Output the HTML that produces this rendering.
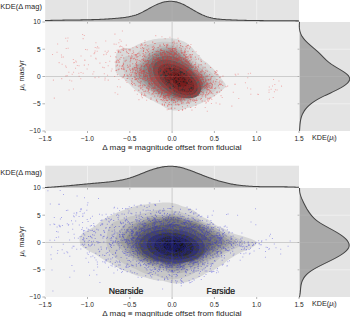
<!DOCTYPE html>
<html><head><meta charset="utf-8"><style>
html,body{margin:0;padding:0;background:#fff;width:350px;height:317px;overflow:hidden}
svg{display:block}
text{font-family:"Liberation Sans",sans-serif}
</style></head><body>
<svg width="350" height="317" viewBox="0 0 350 317" font-family="Liberation Sans, sans-serif" fill="#262626">
<rect width="350" height="317" fill="#fff"/>
<rect x="45.2" y="0" width="253.8" height="21.6" fill="#e4e4e4"/>
<line x1="87.5" y1="0" x2="87.5" y2="21.6" stroke="#f2f2f2" stroke-width="0.8"/>
<line x1="129.8" y1="0" x2="129.8" y2="21.6" stroke="#f2f2f2" stroke-width="0.8"/>
<line x1="172.1" y1="0" x2="172.1" y2="21.6" stroke="#f2f2f2" stroke-width="0.8"/>
<line x1="214.4" y1="0" x2="214.4" y2="21.6" stroke="#f2f2f2" stroke-width="0.8"/>
<line x1="256.7" y1="0" x2="256.7" y2="21.6" stroke="#f2f2f2" stroke-width="0.8"/>
<path d="M45.2,21.6 L45.0,20.6 L46.0,20.56 L47.0,20.52 L48.0,20.49 L49.0,20.45 L50.0,20.42 L51.0,20.39 L52.0,20.36 L53.0,20.34 L54.0,20.31 L55.0,20.29 L56.0,20.26 L57.0,20.24 L58.0,20.22 L59.0,20.2 L60.0,20.18 L61.0,20.17 L62.0,20.15 L63.0,20.13 L64.0,20.12 L65.0,20.1 L66.0,20.09 L67.0,20.07 L68.0,20.06 L69.0,20.05 L70.0,20.03 L71.0,20.02 L72.0,20.01 L73.0,19.99 L74.0,19.98 L75.0,19.97 L76.0,19.95 L77.0,19.94 L78.0,19.93 L79.0,19.91 L80.0,19.9 L81.0,19.88 L82.0,19.86 L83.0,19.85 L84.0,19.83 L85.0,19.81 L86.0,19.79 L87.0,19.77 L88.0,19.75 L89.0,19.72 L90.0,19.7 L91.0,19.67 L92.0,19.64 L93.0,19.62 L94.0,19.58 L95.0,19.55 L96.0,19.52 L97.0,19.48 L98.0,19.44 L99.0,19.4 L100.0,19.36 L101.0,19.32 L102.0,19.27 L103.0,19.22 L104.0,19.17 L105.0,19.12 L106.0,19.06 L107.0,19.01 L108.0,18.94 L109.0,18.88 L110.0,18.81 L111.0,18.75 L112.0,18.67 L113.0,18.6 L114.0,18.52 L115.0,18.44 L116.0,18.35 L117.0,18.26 L118.0,18.17 L119.0,18.08 L120.0,17.98 L121.0,17.88 L122.0,17.77 L123.0,17.65 L124.0,17.53 L125.0,17.4 L126.0,17.26 L127.0,17.1 L128.0,16.93 L129.0,16.75 L130.0,16.55 L131.0,16.33 L132.0,16.1 L133.0,15.84 L134.0,15.56 L135.0,15.25 L136.0,14.93 L137.0,14.57 L138.0,14.19 L139.0,13.77 L140.0,13.33 L141.0,12.86 L142.0,12.37 L143.0,11.86 L144.0,11.33 L145.0,10.78 L146.0,10.23 L147.0,9.67 L148.0,9.11 L149.0,8.54 L150.0,7.98 L151.0,7.43 L152.0,6.89 L153.0,6.36 L154.0,5.85 L155.0,5.36 L156.0,4.89 L157.0,4.44 L158.0,4.02 L159.0,3.62 L160.0,3.26 L161.0,2.91 L162.0,2.6 L163.0,2.32 L164.0,2.07 L165.0,1.85 L166.0,1.67 L167.0,1.52 L168.0,1.4 L169.0,1.32 L170.0,1.28 L171.0,1.28 L172.0,1.32 L173.0,1.4 L174.0,1.51 L175.0,1.67 L176.0,1.87 L177.0,2.11 L178.0,2.39 L179.0,2.7 L180.0,3.06 L181.0,3.45 L182.0,3.88 L183.0,4.34 L184.0,4.83 L185.0,5.34 L186.0,5.87 L187.0,6.42 L188.0,6.98 L189.0,7.55 L190.0,8.13 L191.0,8.71 L192.0,9.3 L193.0,9.88 L194.0,10.45 L195.0,11.02 L196.0,11.59 L197.0,12.14 L198.0,12.68 L199.0,13.21 L200.0,13.72 L201.0,14.21 L202.0,14.69 L203.0,15.14 L204.0,15.57 L205.0,15.98 L206.0,16.36 L207.0,16.71 L208.0,17.03 L209.0,17.33 L210.0,17.6 L211.0,17.85 L212.0,18.07 L213.0,18.28 L214.0,18.46 L215.0,18.63 L216.0,18.78 L217.0,18.92 L218.0,19.04 L219.0,19.14 L220.0,19.24 L221.0,19.33 L222.0,19.4 L223.0,19.47 L224.0,19.53 L225.0,19.59 L226.0,19.65 L227.0,19.7 L228.0,19.75 L229.0,19.8 L230.0,19.84 L231.0,19.89 L232.0,19.93 L233.0,19.97 L234.0,20.01 L235.0,20.05 L236.0,20.09 L237.0,20.12 L238.0,20.16 L239.0,20.19 L240.0,20.22 L241.0,20.25 L242.0,20.28 L243.0,20.3 L244.0,20.33 L245.0,20.36 L246.0,20.38 L247.0,20.4 L248.0,20.42 L249.0,20.44 L250.0,20.46 L251.0,20.48 L252.0,20.5 L253.0,20.51 L254.0,20.53 L255.0,20.54 L256.0,20.56 L257.0,20.57 L258.0,20.58 L259.0,20.6 L260.0,20.61 L261.0,20.62 L262.0,20.63 L263.0,20.64 L264.0,20.65 L265.0,20.65 L266.0,20.66 L267.0,20.67 L268.0,20.68 L269.0,20.68 L270.0,20.69 L271.0,20.7 L272.0,20.7 L273.0,20.71 L274.0,20.71 L275.0,20.72 L276.0,20.72 L277.0,20.73 L278.0,20.73 L279.0,20.74 L280.0,20.74 L281.0,20.75 L282.0,20.75 L283.0,20.76 L284.0,20.77 L285.0,20.77 L286.0,20.78 L287.0,20.78 L288.0,20.79 L289.0,20.8 L290.0,20.81 L291.0,20.81 L292.0,20.82 L293.0,20.83 L294.0,20.84 L295.0,20.85 L296.0,20.86 L297.0,20.87 L298.0,20.89 L299.0,20.9 L299.0,21.6Z" fill="#7d7d7d" fill-opacity="0.57"/>
<path d="M45.0,20.6 L46.0,20.56 L47.0,20.52 L48.0,20.49 L49.0,20.45 L50.0,20.42 L51.0,20.39 L52.0,20.36 L53.0,20.34 L54.0,20.31 L55.0,20.29 L56.0,20.26 L57.0,20.24 L58.0,20.22 L59.0,20.2 L60.0,20.18 L61.0,20.17 L62.0,20.15 L63.0,20.13 L64.0,20.12 L65.0,20.1 L66.0,20.09 L67.0,20.07 L68.0,20.06 L69.0,20.05 L70.0,20.03 L71.0,20.02 L72.0,20.01 L73.0,19.99 L74.0,19.98 L75.0,19.97 L76.0,19.95 L77.0,19.94 L78.0,19.93 L79.0,19.91 L80.0,19.9 L81.0,19.88 L82.0,19.86 L83.0,19.85 L84.0,19.83 L85.0,19.81 L86.0,19.79 L87.0,19.77 L88.0,19.75 L89.0,19.72 L90.0,19.7 L91.0,19.67 L92.0,19.64 L93.0,19.62 L94.0,19.58 L95.0,19.55 L96.0,19.52 L97.0,19.48 L98.0,19.44 L99.0,19.4 L100.0,19.36 L101.0,19.32 L102.0,19.27 L103.0,19.22 L104.0,19.17 L105.0,19.12 L106.0,19.06 L107.0,19.01 L108.0,18.94 L109.0,18.88 L110.0,18.81 L111.0,18.75 L112.0,18.67 L113.0,18.6 L114.0,18.52 L115.0,18.44 L116.0,18.35 L117.0,18.26 L118.0,18.17 L119.0,18.08 L120.0,17.98 L121.0,17.88 L122.0,17.77 L123.0,17.65 L124.0,17.53 L125.0,17.4 L126.0,17.26 L127.0,17.1 L128.0,16.93 L129.0,16.75 L130.0,16.55 L131.0,16.33 L132.0,16.1 L133.0,15.84 L134.0,15.56 L135.0,15.25 L136.0,14.93 L137.0,14.57 L138.0,14.19 L139.0,13.77 L140.0,13.33 L141.0,12.86 L142.0,12.37 L143.0,11.86 L144.0,11.33 L145.0,10.78 L146.0,10.23 L147.0,9.67 L148.0,9.11 L149.0,8.54 L150.0,7.98 L151.0,7.43 L152.0,6.89 L153.0,6.36 L154.0,5.85 L155.0,5.36 L156.0,4.89 L157.0,4.44 L158.0,4.02 L159.0,3.62 L160.0,3.26 L161.0,2.91 L162.0,2.6 L163.0,2.32 L164.0,2.07 L165.0,1.85 L166.0,1.67 L167.0,1.52 L168.0,1.4 L169.0,1.32 L170.0,1.28 L171.0,1.28 L172.0,1.32 L173.0,1.4 L174.0,1.51 L175.0,1.67 L176.0,1.87 L177.0,2.11 L178.0,2.39 L179.0,2.7 L180.0,3.06 L181.0,3.45 L182.0,3.88 L183.0,4.34 L184.0,4.83 L185.0,5.34 L186.0,5.87 L187.0,6.42 L188.0,6.98 L189.0,7.55 L190.0,8.13 L191.0,8.71 L192.0,9.3 L193.0,9.88 L194.0,10.45 L195.0,11.02 L196.0,11.59 L197.0,12.14 L198.0,12.68 L199.0,13.21 L200.0,13.72 L201.0,14.21 L202.0,14.69 L203.0,15.14 L204.0,15.57 L205.0,15.98 L206.0,16.36 L207.0,16.71 L208.0,17.03 L209.0,17.33 L210.0,17.6 L211.0,17.85 L212.0,18.07 L213.0,18.28 L214.0,18.46 L215.0,18.63 L216.0,18.78 L217.0,18.92 L218.0,19.04 L219.0,19.14 L220.0,19.24 L221.0,19.33 L222.0,19.4 L223.0,19.47 L224.0,19.53 L225.0,19.59 L226.0,19.65 L227.0,19.7 L228.0,19.75 L229.0,19.8 L230.0,19.84 L231.0,19.89 L232.0,19.93 L233.0,19.97 L234.0,20.01 L235.0,20.05 L236.0,20.09 L237.0,20.12 L238.0,20.16 L239.0,20.19 L240.0,20.22 L241.0,20.25 L242.0,20.28 L243.0,20.3 L244.0,20.33 L245.0,20.36 L246.0,20.38 L247.0,20.4 L248.0,20.42 L249.0,20.44 L250.0,20.46 L251.0,20.48 L252.0,20.5 L253.0,20.51 L254.0,20.53 L255.0,20.54 L256.0,20.56 L257.0,20.57 L258.0,20.58 L259.0,20.6 L260.0,20.61 L261.0,20.62 L262.0,20.63 L263.0,20.64 L264.0,20.65 L265.0,20.65 L266.0,20.66 L267.0,20.67 L268.0,20.68 L269.0,20.68 L270.0,20.69 L271.0,20.7 L272.0,20.7 L273.0,20.71 L274.0,20.71 L275.0,20.72 L276.0,20.72 L277.0,20.73 L278.0,20.73 L279.0,20.74 L280.0,20.74 L281.0,20.75 L282.0,20.75 L283.0,20.76 L284.0,20.77 L285.0,20.77 L286.0,20.78 L287.0,20.78 L288.0,20.79 L289.0,20.8 L290.0,20.81 L291.0,20.81 L292.0,20.82 L293.0,20.83 L294.0,20.84 L295.0,20.85 L296.0,20.86 L297.0,20.87 L298.0,20.89 L299.0,20.9" fill="none" stroke="#444" stroke-width="1.05"/>
<rect x="45.2" y="22.0" width="253.8" height="109.0" fill="#f2f2f2"/>
<line x1="87.5" y1="22.0" x2="87.5" y2="23.6" stroke="#999" stroke-width="0.7"/>
<line x1="129.8" y1="22.0" x2="129.8" y2="23.6" stroke="#999" stroke-width="0.7"/>
<line x1="214.4" y1="22.0" x2="214.4" y2="23.6" stroke="#999" stroke-width="0.7"/>
<line x1="256.7" y1="22.0" x2="256.7" y2="23.6" stroke="#999" stroke-width="0.7"/>
<rect x="299.6" y="22.0" width="51" height="109.0" fill="#e4e4e4"/>
<line x1="299.6" y1="49.2" x2="350" y2="49.2" stroke="#f2f2f2" stroke-width="0.8"/>
<line x1="299.6" y1="76.5" x2="350" y2="76.5" stroke="#f2f2f2" stroke-width="0.8"/>
<line x1="299.6" y1="103.8" x2="350" y2="103.8" stroke="#f2f2f2" stroke-width="0.8"/>
<path d="M299.6,22.0 L299.56,21.9 L299.45,22.9 L299.37,23.9 L299.32,24.9 L299.31,25.9 L299.34,26.9 L299.4,27.9 L299.52,28.9 L299.68,29.9 L299.89,30.9 L300.16,31.9 L300.49,32.9 L300.88,33.9 L301.34,34.9 L301.87,35.9 L302.47,36.9 L303.15,37.9 L303.91,38.9 L304.75,39.9 L305.66,40.9 L306.64,41.9 L307.67,42.9 L308.75,43.9 L309.87,44.9 L311.02,45.9 L312.18,46.9 L313.35,47.9 L314.53,48.9 L315.69,49.9 L316.83,50.9 L317.95,51.9 L319.02,52.9 L320.06,53.9 L321.05,54.9 L322.03,55.9 L322.99,56.9 L323.97,57.9 L324.98,58.9 L326.02,59.9 L327.12,60.9 L328.3,61.9 L329.56,62.9 L330.92,63.9 L332.39,64.9 L333.94,65.9 L335.55,66.9 L337.21,67.9 L338.9,68.9 L340.57,69.9 L342.21,70.9 L343.76,71.9 L345.21,72.9 L346.5,73.9 L347.61,74.9 L348.5,75.9 L349.15,76.9 L349.54,77.9 L349.67,78.9 L349.53,79.9 L349.13,80.9 L348.5,81.9 L347.66,82.9 L346.6,83.9 L345.36,84.9 L343.95,85.9 L342.38,86.9 L340.67,87.9 L338.83,88.9 L336.89,89.9 L334.85,90.9 L332.76,91.9 L330.63,92.9 L328.49,93.9 L326.36,94.9 L324.27,95.9 L322.25,96.9 L320.31,97.9 L318.47,98.9 L316.74,99.9 L315.12,100.9 L313.6,101.9 L312.19,102.9 L310.88,103.9 L309.68,104.9 L308.56,105.9 L307.54,106.9 L306.6,107.9 L305.75,108.9 L304.98,109.9 L304.28,110.9 L303.65,111.9 L303.08,112.9 L302.58,113.9 L302.14,114.9 L301.75,115.9 L301.41,116.9 L301.11,117.9 L300.86,118.9 L300.64,119.9 L300.45,120.9 L300.3,121.9 L300.17,122.9 L300.05,123.9 L299.96,124.9 L299.88,125.9 L299.8,126.9 L299.73,127.9 L299.66,128.9 L299.58,129.9 L299.5,130.9 L299.6,131.0Z" fill="#7d7d7d" fill-opacity="0.57"/>
<path d="M299.56,21.9 L299.45,22.9 L299.37,23.9 L299.32,24.9 L299.31,25.9 L299.34,26.9 L299.4,27.9 L299.52,28.9 L299.68,29.9 L299.89,30.9 L300.16,31.9 L300.49,32.9 L300.88,33.9 L301.34,34.9 L301.87,35.9 L302.47,36.9 L303.15,37.9 L303.91,38.9 L304.75,39.9 L305.66,40.9 L306.64,41.9 L307.67,42.9 L308.75,43.9 L309.87,44.9 L311.02,45.9 L312.18,46.9 L313.35,47.9 L314.53,48.9 L315.69,49.9 L316.83,50.9 L317.95,51.9 L319.02,52.9 L320.06,53.9 L321.05,54.9 L322.03,55.9 L322.99,56.9 L323.97,57.9 L324.98,58.9 L326.02,59.9 L327.12,60.9 L328.3,61.9 L329.56,62.9 L330.92,63.9 L332.39,64.9 L333.94,65.9 L335.55,66.9 L337.21,67.9 L338.9,68.9 L340.57,69.9 L342.21,70.9 L343.76,71.9 L345.21,72.9 L346.5,73.9 L347.61,74.9 L348.5,75.9 L349.15,76.9 L349.54,77.9 L349.67,78.9 L349.53,79.9 L349.13,80.9 L348.5,81.9 L347.66,82.9 L346.6,83.9 L345.36,84.9 L343.95,85.9 L342.38,86.9 L340.67,87.9 L338.83,88.9 L336.89,89.9 L334.85,90.9 L332.76,91.9 L330.63,92.9 L328.49,93.9 L326.36,94.9 L324.27,95.9 L322.25,96.9 L320.31,97.9 L318.47,98.9 L316.74,99.9 L315.12,100.9 L313.6,101.9 L312.19,102.9 L310.88,103.9 L309.68,104.9 L308.56,105.9 L307.54,106.9 L306.6,107.9 L305.75,108.9 L304.98,109.9 L304.28,110.9 L303.65,111.9 L303.08,112.9 L302.58,113.9 L302.14,114.9 L301.75,115.9 L301.41,116.9 L301.11,117.9 L300.86,118.9 L300.64,119.9 L300.45,120.9 L300.3,121.9 L300.17,122.9 L300.05,123.9 L299.96,124.9 L299.88,125.9 L299.8,126.9 L299.73,127.9 L299.66,128.9 L299.58,129.9 L299.5,130.9" fill="none" stroke="#444" stroke-width="1.05"/>
<g><path d="M124.1,79.0 L122.2,77.5 L119.9,76.0 L117.5,74.2 L116.0,72.5 L115.4,70.8 L115.3,69.1 L115.2,67.4 L115.3,65.7 L115.3,64.0 L115.4,62.2 L115.6,60.5 L115.7,58.8 L115.9,57.0 L116.1,55.2 L116.4,53.5 L117.0,51.8 L118.1,50.4 L119.7,49.3 L121.8,48.5 L124.5,48.1 L127.6,48.1 L130.3,48.0 L132.2,47.5 L133.6,46.8 L135.0,46.0 L136.4,45.3 L137.8,44.6 L139.2,44.0 L140.5,43.4 L141.9,42.9 L143.2,42.3 L144.5,41.8 L145.9,41.4 L147.2,41.0 L148.5,40.6 L149.8,40.2 L151.1,39.9 L152.4,39.6 L153.7,39.3 L154.9,39.1 L156.2,38.9 L157.5,38.7 L158.7,38.6 L159.9,38.5 L161.2,38.4 L162.4,38.4 L163.6,38.3 L164.8,38.3 L165.9,38.3 L167.1,38.2 L168.2,38.2 L169.3,38.2 L170.4,38.2 L171.6,38.3 L172.7,38.4 L173.7,38.5 L174.8,38.7 L175.9,38.8 L177.0,39.1 L178.0,39.3 L179.0,39.6 L180.0,40.0 L181.0,40.4 L182.0,40.8 L183.0,41.2 L183.9,41.6 L184.8,42.1 L185.7,42.6 L186.6,43.1 L187.5,43.7 L188.3,44.3 L189.1,44.9 L189.8,45.5 L190.6,46.2 L191.3,46.9 L192.0,47.6 L192.6,48.3 L193.2,49.1 L193.8,49.8 L194.4,50.6 L194.9,51.3 L195.5,52.1 L196.0,52.8 L196.6,53.4 L197.2,54.0 L197.8,54.5 L198.4,55.1 L199.0,55.7 L199.6,56.3 L200.1,56.9 L200.7,57.5 L201.2,58.1 L201.7,58.8 L202.2,59.4 L202.8,60.0 L203.5,60.5 L204.2,61.0 L205.0,61.5 L205.8,62.0 L206.5,62.5 L207.3,63.1 L208.0,63.7 L208.7,64.4 L209.4,65.0 L210.1,65.7 L210.8,66.4 L211.5,67.1 L212.3,67.8 L213.1,68.6 L213.9,69.4 L214.7,70.2 L215.5,71.0 L216.3,71.9 L217.0,72.8 L217.8,73.8 L218.6,74.7 L219.4,75.7 L220.1,76.8 L220.8,77.9 L221.6,79.0 L222.6,80.2 L223.6,81.4 L224.5,82.7 L225.4,84.0 L225.8,85.3 L225.6,86.5 L224.8,87.7 L223.8,88.7 L222.7,89.7 L221.7,90.7 L220.6,91.6 L219.6,92.5 L218.5,93.3 L217.4,94.1 L216.4,94.9 L215.3,95.6 L214.2,96.3 L213.1,96.9 L212.1,97.5 L211.0,98.1 L209.9,98.6 L208.9,99.1 L207.9,99.5 L207.0,100.1 L206.1,100.6 L205.3,101.1 L204.5,101.6 L203.6,102.1 L202.8,102.5 L201.9,102.9 L201.1,103.3 L200.2,103.7 L199.3,104.0 L198.5,104.3 L197.6,104.6 L196.8,104.9 L196.1,105.3 L195.3,105.6 L194.5,106.0 L193.7,106.3 L193.0,106.6 L192.2,106.8 L191.4,107.1 L190.6,107.3 L189.8,107.5 L189.0,107.7 L188.2,107.8 L187.4,108.0 L186.7,108.2 L185.9,108.5 L185.2,108.8 L184.4,109.1 L183.6,109.3 L182.8,109.5 L182.0,109.8 L181.3,109.9 L180.4,110.1 L179.6,110.3 L178.8,110.4 L178.0,110.5 L177.2,110.6 L176.3,110.6 L175.5,110.6 L174.7,110.5 L173.9,110.5 L173.0,110.4 L172.2,110.3 L171.4,110.1 L170.6,110.0 L169.7,109.8 L168.9,109.6 L168.2,109.3 L167.4,108.9 L166.7,108.5 L165.9,108.1 L165.2,107.7 L164.5,107.2 L163.8,106.8 L163.2,106.3 L162.5,105.8 L161.9,105.3 L161.2,104.9 L160.4,104.6 L159.7,104.2 L158.9,103.9 L158.1,103.6 L157.3,103.2 L156.6,102.8 L155.8,102.4 L155.1,101.9 L154.3,101.5 L153.5,101.1 L152.6,100.7 L151.7,100.3 L150.8,99.9 L149.9,99.4 L149.0,99.0 L148.1,98.4 L147.2,97.9 L146.2,97.4 L145.2,96.8 L144.1,96.3 L143.1,95.7 L142.0,95.0 L141.0,94.3 L140.0,93.6 L139.0,92.8 L137.9,92.0 L136.9,91.2 L135.8,90.3 L134.8,89.4 L133.7,88.4 L132.6,87.4 L131.5,86.4 L130.4,85.3 L129.3,84.1 L128.1,82.9 L126.9,81.7 L125.5,80.4Z" fill="#d9d9d9"/>
<path d="M128.7,79.0 L127.5,77.7 L126.4,76.3 L125.6,74.9 L124.8,73.4 L124.2,71.9 L123.5,70.4 L123.0,68.8 L122.5,67.2 L122.3,65.6 L122.4,64.1 L122.6,62.6 L122.9,61.1 L123.2,59.6 L123.7,58.1 L124.6,56.9 L126.5,56.1 L129.1,55.7 L131.9,55.5 L134.2,55.2 L135.7,54.6 L136.7,53.7 L137.6,52.7 L138.4,51.8 L139.3,50.9 L140.2,50.0 L141.2,49.2 L142.1,48.4 L143.1,47.6 L144.2,46.9 L145.3,46.3 L146.4,45.7 L147.6,45.2 L148.7,44.8 L149.9,44.3 L151.1,43.9 L152.3,43.6 L153.4,43.3 L154.6,43.0 L155.8,42.7 L156.9,42.5 L158.1,42.3 L159.2,42.1 L160.3,41.9 L161.4,41.8 L162.6,41.7 L163.7,41.7 L164.8,41.7 L165.9,41.7 L167.0,41.7 L168.0,41.8 L169.1,41.9 L170.1,42.0 L171.2,42.1 L172.2,42.2 L173.2,42.3 L174.2,42.5 L175.1,42.7 L176.1,42.9 L177.1,43.1 L178.0,43.4 L178.9,43.7 L179.8,44.1 L180.7,44.6 L181.6,45.1 L182.4,45.8 L183.2,46.4 L183.9,47.1 L184.6,47.8 L185.3,48.5 L186.0,49.2 L186.6,49.9 L187.2,50.6 L187.8,51.4 L188.3,52.1 L188.9,52.8 L189.4,53.4 L190.0,53.9 L190.6,54.3 L191.1,54.8 L191.7,55.3 L192.2,55.8 L192.7,56.3 L193.2,56.9 L193.7,57.4 L194.2,57.9 L194.6,58.5 L195.0,59.1 L195.4,59.6 L195.8,60.2 L196.2,60.8 L196.6,61.4 L196.9,62.0 L197.3,62.5 L197.8,63.0 L198.5,63.3 L199.2,63.6 L199.9,64.0 L200.6,64.3 L201.3,64.7 L202.0,65.1 L202.7,65.6 L203.4,66.0 L204.1,66.5 L204.8,67.1 L205.5,67.6 L206.1,68.2 L206.8,68.8 L207.5,69.4 L208.2,70.0 L209.0,70.7 L209.9,71.3 L210.7,72.0 L211.5,72.8 L212.3,73.6 L213.1,74.4 L213.9,75.2 L214.6,76.1 L215.3,77.0 L215.9,78.0 L216.5,79.0 L217.1,80.0 L217.7,81.1 L218.2,82.2 L218.7,83.3 L219.1,84.4 L219.2,85.5 L218.8,86.6 L218.1,87.5 L217.3,88.4 L216.5,89.3 L215.7,90.2 L214.8,91.0 L213.9,91.7 L213.0,92.4 L212.1,93.1 L211.1,93.7 L210.1,94.3 L209.1,94.9 L208.1,95.4 L207.1,95.8 L206.1,96.2 L205.1,96.6 L204.2,97.0 L203.4,97.5 L202.6,97.9 L201.9,98.3 L201.1,98.7 L200.3,99.1 L199.6,99.5 L198.8,99.8 L198.0,100.1 L197.2,100.3 L196.4,100.6 L195.7,100.8 L194.9,101.0 L194.1,101.2 L193.5,101.5 L192.8,101.8 L192.2,102.1 L191.5,102.4 L190.9,102.7 L190.2,103.0 L189.6,103.2 L188.9,103.4 L188.2,103.7 L187.5,103.8 L186.9,104.0 L186.2,104.2 L185.5,104.3 L184.8,104.4 L184.1,104.5 L183.5,104.7 L182.8,104.8 L182.1,105.0 L181.4,105.2 L180.8,105.3 L180.1,105.4 L179.4,105.5 L178.7,105.6 L178.0,105.7 L177.3,105.7 L176.6,105.8 L175.9,105.8 L175.2,105.8 L174.5,105.7 L173.8,105.7 L173.1,105.6 L172.4,105.5 L171.7,105.4 L170.9,105.3 L170.2,105.2 L169.5,105.0 L168.8,104.8 L168.2,104.6 L167.5,104.4 L166.8,104.2 L166.1,103.9 L165.4,103.6 L164.8,103.4 L164.1,103.0 L163.5,102.7 L162.8,102.4 L162.2,102.0 L161.6,101.6 L160.9,101.2 L160.3,100.8 L159.7,100.4 L159.0,100.1 L158.2,99.8 L157.5,99.5 L156.7,99.2 L155.9,98.9 L155.1,98.5 L154.4,98.1 L153.6,97.7 L152.8,97.3 L152.1,96.8 L151.3,96.3 L150.6,95.8 L149.7,95.3 L148.8,94.8 L147.9,94.3 L147.0,93.8 L146.1,93.2 L145.2,92.6 L144.3,91.9 L143.4,91.2 L142.6,90.5 L141.7,89.8 L140.7,89.0 L139.6,88.2 L138.4,87.4 L137.2,86.6 L136.0,85.7 L134.8,84.7 L133.6,83.7 L132.4,82.6 L131.1,81.5 L129.9,80.3Z" fill="#cbcbcb"/>
<path d="M134.5,79.0 L133.8,77.8 L133.2,76.7 L132.8,75.4 L132.4,74.2 L132.0,72.9 L131.7,71.7 L131.5,70.4 L131.4,69.1 L131.7,67.9 L132.4,66.8 L133.4,65.8 L134.4,64.8 L135.5,64.0 L136.6,63.1 L137.8,62.3 L138.9,61.6 L139.9,60.8 L140.7,60.0 L141.3,59.1 L142.0,58.2 L142.6,57.3 L143.3,56.4 L143.9,55.6 L144.6,54.8 L145.4,54.0 L146.1,53.2 L146.9,52.4 L147.7,51.8 L148.6,51.1 L149.6,50.6 L150.5,50.0 L151.5,49.5 L152.4,49.0 L153.4,48.6 L154.3,48.2 L155.3,47.8 L156.3,47.4 L157.3,47.1 L158.3,46.8 L159.2,46.5 L160.2,46.2 L161.2,46.0 L162.2,45.8 L163.2,45.7 L164.1,45.5 L165.1,45.4 L166.1,45.3 L167.0,45.3 L168.0,45.2 L169.0,45.2 L169.9,45.3 L170.8,45.3 L171.8,45.5 L172.7,45.6 L173.6,45.9 L174.5,46.1 L175.4,46.4 L176.3,46.7 L177.2,47.0 L178.0,47.3 L178.8,47.7 L179.6,48.1 L180.4,48.5 L181.2,49.0 L181.9,49.5 L182.6,50.1 L183.2,50.8 L183.8,51.5 L184.4,52.2 L185.0,52.9 L185.5,53.6 L186.0,54.3 L186.5,55.1 L186.9,55.8 L187.3,56.5 L187.7,57.3 L188.1,57.9 L188.5,58.4 L189.0,58.8 L189.4,59.2 L189.9,59.6 L190.3,60.0 L190.8,60.4 L191.2,60.9 L191.6,61.3 L192.0,61.7 L192.3,62.2 L192.7,62.7 L193.0,63.1 L193.4,63.6 L193.7,64.1 L194.1,64.5 L194.6,64.8 L195.2,65.0 L195.9,65.3 L196.5,65.6 L197.1,65.9 L197.7,66.2 L198.3,66.5 L199.0,66.9 L199.6,67.3 L200.2,67.7 L200.7,68.1 L201.3,68.6 L201.9,69.1 L202.5,69.6 L203.0,70.1 L203.6,70.7 L204.2,71.2 L204.9,71.8 L205.7,72.4 L206.5,72.9 L207.3,73.6 L208.0,74.2 L208.8,74.9 L209.5,75.7 L210.2,76.5 L210.8,77.3 L211.3,78.1 L211.6,79.0 L211.9,79.9 L212.1,80.8 L212.3,81.7 L212.5,82.6 L212.6,83.6 L212.7,84.5 L212.6,85.4 L212.3,86.3 L211.8,87.1 L211.1,87.9 L210.5,88.6 L209.8,89.3 L209.1,90.0 L208.4,90.7 L207.6,91.3 L206.9,91.9 L206.2,92.4 L205.4,93.0 L204.6,93.5 L203.8,93.9 L203.0,94.3 L202.3,94.7 L201.5,95.1 L200.7,95.5 L199.9,95.8 L199.0,96.0 L198.2,96.3 L197.4,96.5 L196.7,96.7 L195.9,96.9 L195.3,97.2 L194.7,97.6 L194.1,97.9 L193.6,98.2 L193.0,98.6 L192.4,98.9 L191.9,99.2 L191.3,99.4 L190.7,99.7 L190.1,99.9 L189.5,100.1 L188.9,100.3 L188.3,100.5 L187.7,100.7 L187.1,100.9 L186.4,101.0 L185.8,101.1 L185.2,101.3 L184.6,101.4 L184.1,101.6 L183.5,101.8 L182.9,102.0 L182.3,102.1 L181.7,102.2 L181.1,102.3 L180.5,102.4 L179.8,102.5 L179.2,102.6 L178.6,102.6 L178.0,102.6 L177.4,102.7 L176.8,102.7 L176.1,102.6 L175.5,102.6 L174.9,102.5 L174.3,102.5 L173.7,102.4 L173.0,102.3 L172.4,102.2 L171.8,102.0 L171.2,101.9 L170.6,101.7 L170.0,101.6 L169.4,101.4 L168.8,101.2 L168.2,101.0 L167.6,100.8 L167.0,100.6 L166.4,100.4 L165.8,100.2 L165.2,99.9 L164.6,99.6 L164.0,99.4 L163.4,99.1 L162.8,98.8 L162.3,98.4 L161.7,98.1 L161.2,97.7 L160.6,97.3 L160.0,97.0 L159.4,96.6 L158.8,96.3 L158.1,96.0 L157.4,95.7 L156.7,95.4 L156.0,95.0 L155.3,94.6 L154.6,94.2 L153.9,93.8 L153.2,93.3 L152.5,92.8 L151.9,92.3 L151.2,91.8 L150.5,91.3 L149.6,90.8 L148.6,90.3 L147.6,89.8 L146.5,89.2 L145.5,88.6 L144.5,88.0 L143.5,87.3 L142.5,86.6 L141.5,85.8 L140.4,84.9 L139.4,84.1 L138.4,83.2 L137.4,82.2 L136.4,81.2 L135.4,80.1Z" fill="#bcbcbc"/>
<path d="M137.9,79.0 L137.2,77.9 L136.7,76.8 L136.3,75.7 L135.9,74.6 L135.7,73.4 L135.5,72.3 L135.3,71.1 L135.2,69.9 L135.4,68.8 L135.9,67.7 L136.6,66.7 L137.4,65.8 L138.3,64.9 L139.2,64.1 L140.1,63.3 L141.0,62.5 L141.9,61.8 L142.6,61.0 L143.3,60.1 L143.9,59.3 L144.5,58.5 L145.2,57.7 L145.9,56.9 L146.6,56.2 L147.3,55.4 L148.0,54.7 L148.8,54.0 L149.6,53.4 L150.4,52.8 L151.3,52.3 L152.1,51.7 L153.0,51.2 L153.9,50.8 L154.8,50.3 L155.7,49.9 L156.6,49.5 L157.5,49.2 L158.4,48.8 L159.3,48.5 L160.3,48.3 L161.2,48.0 L162.1,47.8 L163.1,47.7 L164.0,47.5 L164.9,47.4 L165.8,47.3 L166.8,47.2 L167.7,47.2 L168.6,47.2 L169.5,47.2 L170.4,47.2 L171.3,47.3 L172.2,47.5 L173.0,47.7 L173.9,47.9 L174.8,48.2 L175.6,48.6 L176.4,48.9 L177.2,49.3 L178.0,49.7 L178.8,50.1 L179.5,50.5 L180.2,50.9 L180.9,51.4 L181.6,52.0 L182.2,52.6 L182.8,53.2 L183.4,53.7 L183.9,54.3 L184.5,54.8 L185.0,55.4 L185.5,56.0 L186.0,56.5 L186.4,57.1 L186.8,57.7 L187.2,58.3 L187.6,58.8 L188.1,59.2 L188.5,59.6 L189.0,60.0 L189.4,60.4 L189.8,60.8 L190.2,61.2 L190.6,61.6 L191.0,62.0 L191.4,62.5 L191.7,62.9 L192.1,63.4 L192.4,63.8 L192.7,64.3 L193.0,64.7 L193.4,65.1 L193.8,65.5 L194.3,65.8 L194.8,66.1 L195.3,66.4 L195.8,66.8 L196.2,67.2 L196.7,67.5 L197.1,67.9 L197.6,68.4 L198.0,68.8 L198.5,69.2 L199.1,69.6 L199.6,70.0 L200.2,70.5 L200.8,70.9 L201.3,71.4 L201.9,71.9 L202.6,72.4 L203.3,72.9 L204.0,73.5 L204.7,74.1 L205.4,74.7 L206.0,75.3 L206.7,76.0 L207.3,76.7 L207.9,77.4 L208.4,78.2 L208.7,79.0 L209.0,79.8 L209.3,80.6 L209.6,81.5 L209.8,82.3 L210.0,83.2 L210.2,84.1 L210.2,85.0 L210.1,85.8 L209.7,86.6 L209.2,87.3 L208.5,88.0 L207.9,88.7 L207.2,89.3 L206.5,89.9 L205.8,90.5 L205.1,91.1 L204.4,91.6 L203.6,92.1 L202.9,92.5 L202.2,93.0 L201.5,93.4 L200.8,93.8 L200.1,94.2 L199.4,94.5 L198.6,94.8 L197.9,95.1 L197.2,95.4 L196.5,95.7 L195.8,95.9 L195.1,96.1 L194.5,96.4 L193.9,96.7 L193.4,97.0 L192.8,97.3 L192.2,97.6 L191.7,97.8 L191.1,98.0 L190.5,98.3 L190.0,98.5 L189.4,98.7 L188.8,99.0 L188.3,99.2 L187.7,99.4 L187.1,99.5 L186.6,99.7 L186.0,99.9 L185.4,100.0 L184.9,100.1 L184.3,100.3 L183.8,100.5 L183.2,100.6 L182.6,100.7 L182.1,100.9 L181.5,101.0 L180.9,101.1 L180.3,101.1 L179.7,101.2 L179.2,101.2 L178.6,101.3 L178.0,101.3 L177.4,101.3 L176.8,101.3 L176.2,101.3 L175.7,101.2 L175.1,101.2 L174.5,101.1 L173.9,101.0 L173.3,100.9 L172.8,100.8 L172.2,100.7 L171.6,100.6 L171.0,100.4 L170.5,100.2 L169.9,100.0 L169.4,99.9 L168.8,99.7 L168.2,99.5 L167.7,99.3 L167.1,99.1 L166.5,98.9 L165.9,98.7 L165.4,98.5 L164.8,98.2 L164.2,98.0 L163.6,97.7 L163.1,97.4 L162.5,97.1 L162.0,96.8 L161.4,96.5 L160.9,96.1 L160.3,95.8 L159.7,95.5 L159.1,95.2 L158.4,94.9 L157.8,94.5 L157.1,94.2 L156.5,93.8 L155.9,93.4 L155.3,92.9 L154.6,92.5 L154.0,92.1 L153.3,91.6 L152.6,91.1 L151.9,90.6 L151.1,90.1 L150.2,89.7 L149.3,89.2 L148.4,88.6 L147.5,88.0 L146.6,87.4 L145.8,86.7 L144.9,86.0 L144.0,85.3 L143.1,84.5 L142.2,83.7 L141.3,82.9 L140.4,82.0 L139.6,81.0 L138.7,80.0Z" fill="#acacac"/>
<path d="M141.4,79.0 L140.7,78.0 L140.2,77.0 L139.8,76.0 L139.5,75.0 L139.3,73.9 L139.2,72.9 L139.1,71.8 L139.1,70.7 L139.2,69.7 L139.5,68.7 L139.9,67.7 L140.4,66.8 L141.1,65.9 L141.8,65.1 L142.5,64.3 L143.2,63.5 L143.9,62.7 L144.6,62.0 L145.2,61.2 L145.8,60.4 L146.5,59.7 L147.1,59.0 L147.8,58.3 L148.5,57.6 L149.2,56.9 L149.9,56.3 L150.7,55.6 L151.4,55.1 L152.2,54.5 L153.0,54.0 L153.7,53.4 L154.6,53.0 L155.4,52.5 L156.2,52.1 L157.0,51.7 L157.8,51.3 L158.7,50.9 L159.5,50.6 L160.4,50.3 L161.3,50.1 L162.2,49.9 L163.1,49.7 L163.9,49.5 L164.8,49.4 L165.7,49.3 L166.6,49.2 L167.4,49.2 L168.3,49.2 L169.2,49.2 L170.0,49.2 L170.9,49.2 L171.7,49.3 L172.5,49.5 L173.4,49.7 L174.2,50.0 L175.0,50.4 L175.8,50.7 L176.5,51.1 L177.3,51.5 L178.0,52.0 L178.7,52.4 L179.4,52.9 L180.0,53.4 L180.6,53.9 L181.2,54.4 L181.8,55.0 L182.3,55.5 L182.9,56.0 L183.4,56.4 L184.0,56.8 L184.5,57.2 L185.0,57.6 L185.4,58.0 L185.9,58.4 L186.3,58.9 L186.8,59.3 L187.2,59.7 L187.6,60.1 L188.1,60.5 L188.5,60.8 L188.9,61.2 L189.3,61.6 L189.7,62.0 L190.1,62.4 L190.4,62.8 L190.8,63.2 L191.1,63.6 L191.5,64.0 L191.8,64.5 L192.1,64.9 L192.4,65.4 L192.7,65.8 L193.0,66.2 L193.4,66.6 L193.7,66.9 L194.1,67.3 L194.4,67.7 L194.7,68.1 L195.0,68.6 L195.3,69.0 L195.6,69.4 L195.9,69.9 L196.3,70.3 L196.8,70.6 L197.3,71.0 L197.9,71.4 L198.5,71.7 L199.1,72.2 L199.6,72.6 L200.2,73.0 L200.9,73.5 L201.5,74.0 L202.1,74.5 L202.7,75.1 L203.3,75.7 L203.9,76.3 L204.4,76.9 L205.0,77.6 L205.4,78.3 L205.8,79.0 L206.2,79.7 L206.5,80.5 L206.8,81.3 L207.1,82.1 L207.4,82.9 L207.6,83.7 L207.8,84.5 L207.8,85.3 L207.6,86.1 L207.2,86.8 L206.6,87.5 L206.0,88.1 L205.3,88.7 L204.6,89.2 L204.0,89.8 L203.3,90.3 L202.6,90.7 L201.9,91.2 L201.2,91.6 L200.5,92.0 L199.9,92.4 L199.3,92.8 L198.7,93.2 L198.1,93.6 L197.4,93.9 L196.8,94.2 L196.2,94.5 L195.6,94.8 L194.9,95.1 L194.3,95.3 L193.7,95.6 L193.2,95.8 L192.6,96.1 L192.0,96.3 L191.5,96.5 L190.9,96.7 L190.3,96.9 L189.8,97.1 L189.2,97.3 L188.7,97.6 L188.2,97.8 L187.7,98.0 L187.2,98.2 L186.6,98.4 L186.1,98.6 L185.6,98.7 L185.0,98.9 L184.5,99.0 L184.0,99.2 L183.4,99.3 L182.9,99.4 L182.4,99.5 L181.8,99.6 L181.3,99.7 L180.7,99.8 L180.2,99.8 L179.6,99.9 L179.1,99.9 L178.5,99.9 L178.0,99.9 L177.5,99.9 L176.9,99.9 L176.4,99.9 L175.8,99.9 L175.3,99.8 L174.7,99.7 L174.2,99.7 L173.6,99.6 L173.1,99.5 L172.5,99.3 L172.0,99.2 L171.5,99.1 L171.0,98.9 L170.4,98.7 L169.9,98.5 L169.4,98.3 L168.9,98.1 L168.3,98.0 L167.8,97.8 L167.2,97.6 L166.7,97.5 L166.1,97.3 L165.6,97.1 L165.0,96.9 L164.4,96.7 L163.9,96.4 L163.3,96.2 L162.8,95.9 L162.3,95.6 L161.7,95.3 L161.2,95.0 L160.6,94.7 L160.0,94.3 L159.5,94.0 L158.9,93.7 L158.3,93.3 L157.8,92.9 L157.2,92.5 L156.6,92.1 L156.0,91.7 L155.4,91.3 L154.7,90.9 L154.0,90.4 L153.3,90.0 L152.6,89.5 L151.8,89.0 L151.1,88.5 L150.3,88.0 L149.5,87.4 L148.8,86.8 L148.0,86.2 L147.3,85.5 L146.6,84.8 L145.8,84.1 L145.1,83.3 L144.3,82.5 L143.5,81.7 L142.8,80.8 L142.0,79.9Z" fill="#9a9a9a"/>
<path d="M144.9,79.0 L144.3,78.1 L143.8,77.2 L143.4,76.3 L143.2,75.3 L143.1,74.4 L143.0,73.5 L143.0,72.5 L143.0,71.6 L143.0,70.6 L143.1,69.6 L143.2,68.7 L143.5,67.8 L143.9,66.9 L144.4,66.1 L144.9,65.3 L145.5,64.5 L146.0,63.8 L146.6,63.0 L147.2,62.3 L147.8,61.6 L148.5,60.9 L149.1,60.2 L149.8,59.6 L150.5,59.0 L151.2,58.4 L151.9,57.8 L152.6,57.3 L153.3,56.7 L154.0,56.2 L154.7,55.7 L155.4,55.2 L156.1,54.7 L156.9,54.3 L157.6,53.9 L158.4,53.5 L159.2,53.1 L159.9,52.7 L160.7,52.4 L161.6,52.2 L162.4,51.9 L163.2,51.8 L164.1,51.6 L164.9,51.5 L165.7,51.4 L166.5,51.3 L167.4,51.3 L168.2,51.2 L169.0,51.2 L169.8,51.2 L170.6,51.3 L171.4,51.4 L172.1,51.4 L172.9,51.6 L173.7,51.9 L174.5,52.2 L175.2,52.6 L176.0,53.0 L176.7,53.5 L177.3,53.9 L178.0,54.4 L178.6,54.9 L179.2,55.4 L179.8,55.9 L180.4,56.4 L180.9,56.9 L181.4,57.5 L181.9,57.9 L182.4,58.3 L182.9,58.5 L183.4,58.8 L183.9,59.0 L184.4,59.3 L184.9,59.5 L185.4,59.8 L185.8,60.1 L186.3,60.4 L186.7,60.7 L187.1,61.1 L187.6,61.4 L188.0,61.7 L188.4,62.1 L188.7,62.4 L189.1,62.8 L189.5,63.2 L189.8,63.6 L190.2,64.0 L190.5,64.4 L190.8,64.8 L191.1,65.2 L191.4,65.6 L191.7,66.0 L191.9,66.5 L192.2,66.9 L192.4,67.3 L192.6,67.8 L192.8,68.2 L193.0,68.7 L193.2,69.1 L193.4,69.6 L193.6,70.0 L193.7,70.5 L193.9,70.9 L194.1,71.3 L194.5,71.6 L195.1,71.9 L195.7,72.2 L196.2,72.5 L196.8,72.9 L197.4,73.3 L197.9,73.7 L198.5,74.1 L199.0,74.5 L199.6,75.0 L200.1,75.5 L200.6,76.0 L201.1,76.6 L201.6,77.1 L202.1,77.7 L202.5,78.4 L202.9,79.0 L203.3,79.7 L203.7,80.3 L204.1,81.1 L204.4,81.8 L204.8,82.5 L205.1,83.3 L205.4,84.1 L205.6,84.9 L205.6,85.6 L205.2,86.3 L204.7,86.9 L204.1,87.5 L203.4,88.0 L202.8,88.5 L202.2,89.0 L201.5,89.5 L200.9,89.9 L200.2,90.3 L199.6,90.7 L199.0,91.1 L198.4,91.5 L197.9,91.9 L197.4,92.3 L196.9,92.7 L196.4,93.1 L195.8,93.4 L195.3,93.7 L194.7,94.0 L194.2,94.3 L193.6,94.6 L193.0,94.8 L192.5,95.1 L191.9,95.3 L191.3,95.5 L190.8,95.6 L190.2,95.8 L189.6,95.9 L189.1,96.1 L188.6,96.3 L188.1,96.5 L187.6,96.7 L187.1,96.9 L186.6,97.1 L186.2,97.3 L185.7,97.5 L185.2,97.7 L184.7,97.8 L184.2,97.9 L183.6,98.1 L183.1,98.2 L182.6,98.3 L182.1,98.3 L181.6,98.4 L181.1,98.5 L180.6,98.5 L180.1,98.5 L179.5,98.6 L179.0,98.6 L178.5,98.6 L178.0,98.6 L177.5,98.6 L177.0,98.5 L176.5,98.5 L176.0,98.5 L175.4,98.4 L174.9,98.4 L174.4,98.3 L173.9,98.2 L173.4,98.1 L172.9,98.0 L172.4,97.8 L171.9,97.7 L171.4,97.5 L171.0,97.4 L170.5,97.2 L170.0,97.0 L169.5,96.8 L169.0,96.6 L168.5,96.5 L168.0,96.3 L167.5,96.2 L166.9,96.1 L166.4,95.9 L165.8,95.7 L165.3,95.6 L164.8,95.4 L164.2,95.1 L163.7,94.9 L163.2,94.6 L162.6,94.4 L162.1,94.1 L161.6,93.8 L161.1,93.5 L160.6,93.1 L160.1,92.8 L159.6,92.4 L159.1,92.0 L158.6,91.6 L158.1,91.2 L157.5,90.8 L156.9,90.5 L156.2,90.1 L155.5,89.7 L154.9,89.3 L154.2,88.9 L153.6,88.4 L152.9,87.9 L152.3,87.4 L151.6,86.8 L151.0,86.2 L150.4,85.6 L149.8,85.0 L149.3,84.3 L148.7,83.6 L148.0,82.9 L147.4,82.2 L146.7,81.5 L146.1,80.7 L145.5,79.9Z" fill="#878787"/>
<path d="M150.5,79.0 L150.0,78.3 L149.6,77.5 L149.2,76.7 L149.0,75.9 L148.8,75.1 L148.6,74.3 L148.5,73.5 L148.3,72.7 L148.3,71.9 L148.2,71.0 L148.2,70.2 L148.3,69.3 L148.5,68.5 L148.7,67.8 L149.0,67.0 L149.3,66.2 L149.6,65.5 L150.0,64.7 L150.5,64.0 L150.9,63.4 L151.4,62.7 L151.9,62.1 L152.5,61.5 L153.1,60.9 L153.7,60.4 L154.4,59.9 L155.0,59.4 L155.7,58.9 L156.4,58.5 L157.1,58.1 L157.8,57.8 L158.6,57.4 L159.3,57.1 L160.1,56.9 L160.8,56.6 L161.6,56.4 L162.3,56.2 L163.1,56.0 L163.9,55.9 L164.6,55.8 L165.4,55.8 L166.1,55.7 L166.9,55.7 L167.6,55.7 L168.4,55.7 L169.1,55.8 L169.8,55.8 L170.5,55.9 L171.2,56.0 L171.9,56.1 L172.5,56.2 L173.2,56.3 L173.8,56.4 L174.5,56.7 L175.1,56.9 L175.7,57.2 L176.3,57.5 L176.9,57.8 L177.5,58.1 L178.0,58.4 L178.5,58.8 L179.0,59.1 L179.5,59.4 L180.0,59.8 L180.5,60.2 L180.9,60.6 L181.4,60.9 L181.8,61.2 L182.2,61.4 L182.7,61.6 L183.1,61.8 L183.5,62.0 L183.9,62.2 L184.3,62.5 L184.7,62.7 L185.1,63.0 L185.5,63.3 L185.9,63.5 L186.2,63.8 L186.6,64.1 L187.0,64.4 L187.3,64.6 L187.7,64.9 L188.0,65.2 L188.4,65.5 L188.7,65.8 L189.0,66.1 L189.3,66.4 L189.6,66.8 L189.9,67.1 L190.2,67.5 L190.4,67.8 L190.7,68.1 L191.0,68.5 L191.3,68.8 L191.6,69.2 L191.8,69.5 L192.1,69.9 L192.3,70.2 L192.5,70.6 L192.8,71.0 L193.0,71.4 L193.3,71.7 L193.6,72.0 L194.1,72.3 L194.5,72.7 L195.0,73.0 L195.4,73.3 L195.9,73.7 L196.3,74.1 L196.7,74.5 L197.2,74.9 L197.6,75.4 L198.0,75.8 L198.5,76.3 L198.9,76.8 L199.3,77.3 L199.7,77.9 L200.1,78.4 L200.4,79.0 L200.8,79.6 L201.2,80.2 L201.5,80.8 L201.8,81.5 L202.1,82.2 L202.4,82.9 L202.7,83.6 L202.9,84.3 L203.0,85.0 L202.9,85.7 L202.7,86.3 L202.5,86.9 L202.2,87.6 L201.9,88.2 L201.6,88.8 L201.3,89.4 L200.9,89.9 L200.5,90.5 L200.1,91.0 L199.7,91.5 L199.3,92.1 L198.9,92.6 L198.5,93.1 L198.0,93.5 L197.5,94.0 L197.0,94.4 L196.5,94.8 L195.9,95.1 L195.3,95.4 L194.7,95.7 L194.1,96.0 L193.5,96.3 L192.9,96.5 L192.3,96.7 L191.7,96.8 L191.0,97.0 L190.4,97.1 L189.8,97.2 L189.2,97.3 L188.6,97.4 L188.1,97.5 L187.5,97.6 L186.9,97.7 L186.4,97.8 L185.8,97.8 L185.2,97.9 L184.7,97.9 L184.2,97.9 L183.6,98.0 L183.1,98.0 L182.5,97.9 L182.0,97.9 L181.5,97.9 L181.0,97.8 L180.5,97.8 L180.0,97.7 L179.5,97.7 L179.0,97.6 L178.5,97.5 L178.0,97.4 L177.5,97.3 L177.0,97.2 L176.6,97.1 L176.1,97.0 L175.6,96.9 L175.2,96.8 L174.7,96.7 L174.3,96.5 L173.8,96.4 L173.4,96.2 L172.9,96.1 L172.5,95.9 L172.1,95.7 L171.7,95.5 L171.2,95.4 L170.8,95.2 L170.4,95.0 L170.0,94.8 L169.5,94.6 L169.1,94.4 L168.6,94.3 L168.2,94.1 L167.8,93.9 L167.3,93.7 L166.9,93.5 L166.4,93.3 L166.0,93.1 L165.6,92.8 L165.1,92.6 L164.7,92.3 L164.2,92.1 L163.8,91.8 L163.4,91.5 L163.0,91.2 L162.6,90.8 L162.1,90.5 L161.7,90.2 L161.3,89.8 L160.9,89.5 L160.4,89.2 L159.9,88.8 L159.4,88.5 L158.9,88.1 L158.4,87.7 L157.9,87.3 L157.4,86.9 L156.9,86.5 L156.4,86.0 L155.9,85.6 L155.4,85.1 L154.9,84.6 L154.4,84.0 L153.9,83.5 L153.5,82.9 L152.9,82.3 L152.4,81.7 L151.9,81.1 L151.4,80.4 L151.0,79.7Z" fill="#727272"/>
<path d="M156.1,79.0 L155.7,78.4 L155.4,77.8 L155.1,77.2 L154.7,76.6 L154.5,75.9 L154.2,75.2 L153.9,74.5 L153.7,73.8 L153.5,73.1 L153.3,72.4 L153.2,71.6 L153.1,70.9 L153.0,70.1 L153.0,69.4 L153.0,68.7 L153.1,67.9 L153.2,67.2 L153.4,66.5 L153.7,65.8 L154.0,65.1 L154.3,64.5 L154.7,63.9 L155.2,63.3 L155.7,62.8 L156.3,62.3 L156.9,61.9 L157.5,61.5 L158.1,61.1 L158.8,60.8 L159.5,60.5 L160.3,60.3 L161.0,60.1 L161.7,60.0 L162.5,59.8 L163.2,59.8 L164.0,59.7 L164.7,59.7 L165.4,59.7 L166.2,59.7 L166.9,59.7 L167.6,59.8 L168.2,59.8 L168.9,59.9 L169.6,60.0 L170.2,60.1 L170.8,60.2 L171.4,60.4 L172.0,60.5 L172.6,60.7 L173.1,60.8 L173.7,61.0 L174.2,61.1 L174.7,61.3 L175.2,61.4 L175.7,61.6 L176.2,61.8 L176.7,62.0 L177.1,62.2 L177.6,62.4 L178.0,62.5 L178.4,62.7 L178.8,62.8 L179.3,63.0 L179.7,63.2 L180.0,63.4 L180.4,63.6 L180.8,63.9 L181.2,64.1 L181.5,64.2 L181.9,64.4 L182.3,64.6 L182.6,64.8 L183.0,64.9 L183.3,65.1 L183.7,65.3 L184.0,65.6 L184.3,65.8 L184.6,66.0 L184.9,66.2 L185.2,66.4 L185.6,66.6 L185.9,66.8 L186.2,67.0 L186.6,67.2 L186.9,67.4 L187.2,67.7 L187.5,67.9 L187.8,68.1 L188.1,68.4 L188.4,68.6 L188.7,68.9 L189.0,69.1 L189.3,69.4 L189.6,69.6 L189.9,69.8 L190.3,70.1 L190.6,70.4 L190.9,70.6 L191.2,70.9 L191.5,71.2 L191.8,71.5 L192.1,71.8 L192.4,72.1 L192.7,72.5 L193.0,72.8 L193.4,73.1 L193.7,73.4 L194.1,73.8 L194.4,74.1 L194.7,74.5 L195.0,74.9 L195.3,75.3 L195.6,75.7 L196.0,76.2 L196.3,76.6 L196.7,77.0 L197.0,77.5 L197.3,78.0 L197.6,78.5 L197.9,79.0 L198.3,79.5 L198.6,80.1 L198.9,80.6 L199.2,81.2 L199.4,81.8 L199.7,82.4 L199.9,83.1 L200.2,83.7 L200.4,84.4 L200.6,85.0 L200.7,85.7 L200.8,86.4 L200.9,87.1 L201.0,87.8 L201.0,88.5 L201.0,89.2 L200.9,89.9 L200.8,90.6 L200.7,91.3 L200.4,92.0 L200.2,92.6 L199.9,93.2 L199.5,93.8 L199.1,94.3 L198.6,94.8 L198.2,95.3 L197.6,95.8 L197.1,96.2 L196.5,96.5 L195.9,96.9 L195.2,97.2 L194.6,97.4 L193.9,97.6 L193.2,97.8 L192.6,98.0 L191.9,98.1 L191.2,98.2 L190.5,98.3 L189.8,98.3 L189.2,98.3 L188.5,98.3 L187.9,98.3 L187.2,98.3 L186.6,98.2 L185.9,98.2 L185.3,98.1 L184.7,98.0 L184.2,97.9 L183.6,97.8 L183.0,97.7 L182.5,97.6 L181.9,97.4 L181.4,97.3 L180.9,97.2 L180.4,97.0 L179.9,96.9 L179.4,96.8 L178.9,96.6 L178.5,96.4 L178.0,96.3 L177.6,96.1 L177.1,95.9 L176.7,95.7 L176.3,95.6 L175.8,95.4 L175.4,95.3 L175.0,95.1 L174.6,94.9 L174.2,94.7 L173.8,94.5 L173.5,94.3 L173.1,94.1 L172.7,93.9 L172.4,93.7 L172.0,93.5 L171.6,93.4 L171.2,93.2 L170.9,93.0 L170.5,92.8 L170.2,92.5 L169.8,92.3 L169.5,92.1 L169.2,91.8 L168.8,91.6 L168.5,91.4 L168.1,91.2 L167.8,91.0 L167.4,90.7 L167.1,90.5 L166.7,90.3 L166.4,90.0 L166.1,89.7 L165.7,89.5 L165.4,89.2 L165.1,88.9 L164.7,88.6 L164.4,88.4 L164.0,88.1 L163.6,87.8 L163.3,87.5 L162.9,87.2 L162.6,86.9 L162.2,86.5 L161.9,86.2 L161.6,85.8 L161.2,85.5 L160.8,85.1 L160.4,84.7 L160.1,84.3 L159.7,83.9 L159.3,83.5 L159.0,83.0 L158.6,82.6 L158.3,82.1 L157.9,81.7 L157.5,81.2 L157.1,80.6 L156.8,80.1 L156.4,79.6Z" fill="#5c5c5c"/>
<path d="M160.4,79.0 L160.1,78.5 L159.8,78.0 L159.6,77.5 L159.3,77.0 L159.1,76.5 L158.8,76.0 L158.6,75.4 L158.4,74.8 L158.3,74.3 L158.1,73.7 L158.0,73.1 L157.9,72.5 L157.8,71.9 L157.8,71.3 L157.9,70.7 L157.9,70.1 L158.0,69.5 L158.2,68.9 L158.4,68.4 L158.6,67.8 L158.9,67.3 L159.3,66.8 L159.7,66.4 L160.1,66.0 L160.5,65.6 L161.0,65.3 L161.5,64.9 L162.1,64.7 L162.7,64.4 L163.2,64.2 L163.8,64.1 L164.4,63.9 L165.0,63.8 L165.7,63.8 L166.3,63.7 L166.9,63.7 L167.5,63.7 L168.0,63.7 L168.6,63.7 L169.2,63.7 L169.7,63.8 L170.3,63.9 L170.8,63.9 L171.3,64.0 L171.8,64.1 L172.3,64.2 L172.8,64.3 L173.3,64.4 L173.7,64.6 L174.2,64.7 L174.6,64.8 L175.0,64.9 L175.4,65.0 L175.8,65.2 L176.2,65.3 L176.6,65.5 L176.9,65.6 L177.3,65.8 L177.7,65.9 L178.0,66.0 L178.3,66.2 L178.7,66.3 L179.0,66.4 L179.3,66.6 L179.6,66.7 L179.9,66.9 L180.2,67.0 L180.5,67.2 L180.8,67.3 L181.1,67.5 L181.4,67.6 L181.6,67.8 L181.9,67.9 L182.2,68.1 L182.5,68.2 L182.7,68.4 L183.0,68.5 L183.2,68.7 L183.5,68.9 L183.8,69.0 L184.0,69.2 L184.3,69.3 L184.5,69.5 L184.8,69.7 L185.0,69.8 L185.3,70.0 L185.5,70.2 L185.8,70.4 L186.0,70.6 L186.3,70.7 L186.5,70.9 L186.8,71.1 L187.0,71.3 L187.3,71.5 L187.5,71.7 L187.8,71.9 L188.0,72.1 L188.3,72.3 L188.5,72.5 L188.8,72.8 L189.0,73.0 L189.3,73.2 L189.6,73.5 L189.8,73.7 L190.1,74.0 L190.4,74.2 L190.7,74.5 L191.0,74.8 L191.2,75.1 L191.5,75.4 L191.8,75.7 L192.1,76.0 L192.3,76.3 L192.7,76.7 L193.0,77.0 L193.2,77.4 L193.5,77.8 L193.8,78.2 L194.1,78.6 L194.4,79.0 L194.7,79.4 L195.0,79.9 L195.3,80.4 L195.5,80.8 L195.8,81.3 L196.1,81.9 L196.3,82.4 L196.6,82.9 L196.8,83.5 L197.0,84.1 L197.2,84.7 L197.3,85.3 L197.5,85.9 L197.6,86.5 L197.6,87.1 L197.6,87.7 L197.6,88.4 L197.6,89.0 L197.5,89.6 L197.3,90.1 L197.1,90.7 L196.8,91.2 L196.5,91.7 L196.2,92.2 L195.8,92.7 L195.4,93.1 L194.9,93.5 L194.4,93.8 L193.9,94.1 L193.3,94.3 L192.8,94.6 L192.2,94.8 L191.6,94.9 L191.0,95.1 L190.4,95.2 L189.8,95.2 L189.2,95.3 L188.6,95.3 L188.0,95.3 L187.4,95.3 L186.8,95.3 L186.3,95.2 L185.7,95.2 L185.2,95.1 L184.6,95.0 L184.1,94.9 L183.6,94.8 L183.1,94.7 L182.6,94.6 L182.2,94.5 L181.7,94.4 L181.2,94.3 L180.8,94.1 L180.4,94.0 L180.0,93.9 L179.5,93.7 L179.1,93.6 L178.8,93.4 L178.4,93.3 L178.0,93.2 L177.6,93.0 L177.3,92.8 L176.9,92.7 L176.6,92.5 L176.2,92.4 L175.9,92.2 L175.6,92.1 L175.3,91.9 L174.9,91.8 L174.6,91.6 L174.3,91.4 L174.0,91.3 L173.7,91.1 L173.4,90.9 L173.1,90.8 L172.8,90.6 L172.5,90.5 L172.3,90.3 L172.0,90.1 L171.7,89.9 L171.4,89.8 L171.1,89.6 L170.9,89.4 L170.6,89.2 L170.3,89.0 L170.0,88.8 L169.8,88.7 L169.5,88.5 L169.2,88.3 L168.9,88.1 L168.7,87.8 L168.4,87.6 L168.1,87.4 L167.9,87.2 L167.6,87.0 L167.3,86.8 L167.0,86.5 L166.7,86.3 L166.5,86.1 L166.2,85.8 L165.9,85.6 L165.6,85.3 L165.4,85.0 L165.1,84.7 L164.8,84.5 L164.5,84.2 L164.2,83.9 L163.9,83.6 L163.6,83.3 L163.3,82.9 L163.0,82.6 L162.8,82.2 L162.5,81.9 L162.1,81.5 L161.8,81.1 L161.5,80.7 L161.2,80.3 L161.0,79.9 L160.7,79.5Z" fill="#464646"/>
<path d="M164.7,79.0 L164.5,78.6 L164.3,78.3 L164.1,77.9 L163.9,77.5 L163.7,77.1 L163.5,76.7 L163.3,76.3 L163.2,75.8 L163.0,75.4 L162.9,75.0 L162.8,74.5 L162.7,74.0 L162.7,73.6 L162.7,73.1 L162.7,72.7 L162.7,72.2 L162.8,71.8 L162.9,71.3 L163.1,70.9 L163.3,70.5 L163.5,70.1 L163.8,69.8 L164.1,69.4 L164.4,69.1 L164.8,68.9 L165.2,68.6 L165.6,68.4 L166.0,68.2 L166.5,68.1 L166.9,67.9 L167.4,67.8 L167.9,67.8 L168.3,67.7 L168.8,67.7 L169.3,67.6 L169.7,67.6 L170.2,67.6 L170.6,67.7 L171.1,67.7 L171.5,67.7 L171.9,67.8 L172.3,67.9 L172.7,67.9 L173.1,68.0 L173.5,68.1 L173.8,68.1 L174.2,68.2 L174.5,68.3 L174.9,68.4 L175.2,68.5 L175.5,68.6 L175.8,68.7 L176.1,68.8 L176.4,68.9 L176.7,69.0 L177.0,69.1 L177.2,69.2 L177.5,69.3 L177.7,69.4 L178.0,69.6 L178.2,69.6 L178.5,69.7 L178.7,69.8 L179.0,69.9 L179.2,70.0 L179.4,70.1 L179.6,70.2 L179.8,70.3 L180.1,70.4 L180.3,70.6 L180.5,70.7 L180.7,70.8 L180.9,70.9 L181.1,71.0 L181.3,71.1 L181.5,71.2 L181.7,71.3 L181.9,71.4 L182.1,71.5 L182.3,71.6 L182.4,71.7 L182.6,71.9 L182.8,72.0 L183.0,72.1 L183.2,72.3 L183.3,72.4 L183.5,72.5 L183.7,72.6 L183.9,72.7 L184.1,72.9 L184.3,73.0 L184.5,73.1 L184.7,73.2 L184.9,73.4 L185.1,73.5 L185.3,73.7 L185.5,73.8 L185.7,74.0 L185.9,74.2 L186.1,74.3 L186.3,74.5 L186.5,74.7 L186.8,74.8 L187.0,75.0 L187.2,75.2 L187.4,75.4 L187.6,75.6 L187.8,75.8 L188.1,76.0 L188.3,76.2 L188.5,76.5 L188.8,76.7 L189.1,77.0 L189.3,77.2 L189.6,77.5 L189.8,77.8 L190.0,78.1 L190.3,78.4 L190.6,78.7 L190.9,79.0 L191.1,79.3 L191.4,79.7 L191.7,80.1 L191.9,80.5 L192.2,80.9 L192.5,81.3 L192.7,81.7 L193.0,82.2 L193.2,82.6 L193.4,83.1 L193.6,83.6 L193.8,84.1 L194.0,84.7 L194.1,85.2 L194.2,85.7 L194.3,86.3 L194.3,86.8 L194.3,87.3 L194.3,87.8 L194.2,88.3 L194.0,88.8 L193.8,89.3 L193.6,89.7 L193.3,90.1 L193.0,90.5 L192.6,90.8 L192.2,91.1 L191.8,91.4 L191.3,91.6 L190.8,91.8 L190.3,92.0 L189.8,92.1 L189.3,92.2 L188.8,92.3 L188.2,92.3 L187.7,92.4 L187.2,92.4 L186.7,92.3 L186.2,92.3 L185.7,92.3 L185.2,92.2 L184.7,92.1 L184.2,92.0 L183.8,92.0 L183.3,91.9 L182.9,91.8 L182.5,91.7 L182.1,91.5 L181.7,91.4 L181.3,91.3 L180.9,91.2 L180.6,91.1 L180.2,91.0 L179.9,90.8 L179.5,90.7 L179.2,90.5 L178.9,90.4 L178.6,90.3 L178.3,90.2 L178.0,90.1 L177.7,89.9 L177.4,89.8 L177.2,89.7 L176.9,89.5 L176.6,89.4 L176.4,89.2 L176.1,89.1 L175.9,89.0 L175.6,88.8 L175.4,88.7 L175.2,88.6 L174.9,88.5 L174.7,88.3 L174.5,88.2 L174.3,88.0 L174.0,87.9 L173.8,87.7 L173.6,87.6 L173.4,87.5 L173.2,87.3 L173.0,87.2 L172.8,87.1 L172.5,86.9 L172.3,86.8 L172.1,86.6 L171.9,86.5 L171.7,86.3 L171.5,86.2 L171.4,86.0 L171.2,85.8 L171.0,85.7 L170.7,85.5 L170.5,85.4 L170.3,85.2 L170.1,85.1 L169.9,84.9 L169.7,84.7 L169.5,84.5 L169.3,84.3 L169.1,84.1 L168.9,83.9 L168.7,83.7 L168.5,83.5 L168.3,83.3 L168.0,83.1 L167.8,82.9 L167.6,82.7 L167.4,82.5 L167.2,82.2 L167.0,82.0 L166.7,81.7 L166.5,81.4 L166.3,81.2 L166.0,80.9 L165.8,80.6 L165.6,80.3 L165.4,80.0 L165.2,79.7 L164.9,79.3Z" fill="#303030"/>
<path d="M170.4,79.0 L170.2,78.8 L170.1,78.6 L170.0,78.4 L169.9,78.1 L169.8,77.9 L169.7,77.7 L169.6,77.4 L169.5,77.2 L169.4,76.9 L169.3,76.7 L169.3,76.4 L169.2,76.1 L169.2,75.9 L169.2,75.6 L169.2,75.4 L169.2,75.1 L169.3,74.8 L169.3,74.6 L169.4,74.3 L169.5,74.1 L169.7,73.9 L169.8,73.7 L170.0,73.5 L170.2,73.3 L170.4,73.2 L170.6,73.0 L170.9,72.9 L171.1,72.8 L171.4,72.7 L171.6,72.6 L171.9,72.6 L172.2,72.5 L172.4,72.5 L172.7,72.5 L173.0,72.5 L173.3,72.5 L173.5,72.5 L173.8,72.5 L174.0,72.5 L174.3,72.5 L174.5,72.6 L174.7,72.6 L175.0,72.6 L175.2,72.7 L175.4,72.7 L175.6,72.8 L175.8,72.8 L176.0,72.9 L176.2,72.9 L176.4,73.0 L176.6,73.0 L176.7,73.1 L176.9,73.1 L177.1,73.2 L177.2,73.2 L177.4,73.3 L177.6,73.4 L177.7,73.4 L177.9,73.5 L178.0,73.6 L178.1,73.6 L178.3,73.7 L178.4,73.7 L178.5,73.8 L178.7,73.8 L178.8,73.9 L178.9,73.9 L179.1,74.0 L179.2,74.1 L179.3,74.2 L179.4,74.2 L179.5,74.3 L179.6,74.4 L179.8,74.4 L179.9,74.5 L180.0,74.5 L180.1,74.6 L180.2,74.6 L180.3,74.7 L180.4,74.8 L180.6,74.8 L180.7,74.9 L180.8,75.0 L180.9,75.0 L181.0,75.1 L181.1,75.2 L181.2,75.3 L181.3,75.3 L181.4,75.4 L181.5,75.5 L181.7,75.5 L181.8,75.6 L181.9,75.7 L182.0,75.8 L182.1,75.9 L182.2,75.9 L182.3,76.0 L182.4,76.1 L182.5,76.2 L182.6,76.3 L182.8,76.4 L182.9,76.5 L183.0,76.6 L183.2,76.7 L183.3,76.8 L183.4,76.9 L183.5,77.0 L183.7,77.2 L183.8,77.3 L183.9,77.4 L184.1,77.5 L184.2,77.7 L184.4,77.8 L184.5,78.0 L184.6,78.1 L184.8,78.3 L184.9,78.5 L185.1,78.6 L185.2,78.8 L185.4,79.0 L185.6,79.2 L185.7,79.4 L185.9,79.6 L186.0,79.8 L186.2,80.1 L186.3,80.3 L186.5,80.6 L186.6,80.8 L186.7,81.1 L186.9,81.4 L187.0,81.7 L187.1,82.0 L187.2,82.3 L187.3,82.6 L187.3,82.9 L187.4,83.2 L187.4,83.5 L187.4,83.8 L187.3,84.1 L187.3,84.4 L187.2,84.6 L187.1,84.9 L187.0,85.2 L186.8,85.4 L186.6,85.6 L186.4,85.8 L186.2,86.0 L185.9,86.1 L185.6,86.3 L185.4,86.4 L185.1,86.5 L184.8,86.5 L184.5,86.6 L184.2,86.6 L183.9,86.7 L183.6,86.7 L183.3,86.7 L183.0,86.7 L182.7,86.7 L182.4,86.6 L182.1,86.6 L181.8,86.5 L181.6,86.5 L181.3,86.5 L181.1,86.4 L180.8,86.3 L180.6,86.3 L180.3,86.2 L180.1,86.1 L179.9,86.1 L179.7,86.0 L179.5,85.9 L179.3,85.9 L179.1,85.8 L178.9,85.7 L178.7,85.6 L178.5,85.6 L178.3,85.5 L178.2,85.4 L178.0,85.4 L177.8,85.3 L177.7,85.2 L177.5,85.1 L177.4,85.0 L177.2,85.0 L177.1,84.9 L176.9,84.8 L176.8,84.7 L176.6,84.7 L176.5,84.6 L176.4,84.5 L176.2,84.4 L176.1,84.4 L176.0,84.3 L175.8,84.2 L175.7,84.1 L175.6,84.0 L175.5,83.9 L175.4,83.9 L175.2,83.8 L175.1,83.7 L175.0,83.6 L174.9,83.6 L174.7,83.5 L174.6,83.4 L174.5,83.3 L174.4,83.2 L174.3,83.1 L174.2,83.0 L174.1,82.9 L174.0,82.8 L173.8,82.8 L173.7,82.7 L173.6,82.6 L173.5,82.5 L173.3,82.4 L173.2,82.3 L173.1,82.2 L173.0,82.1 L172.9,82.0 L172.8,81.8 L172.7,81.7 L172.5,81.6 L172.4,81.5 L172.3,81.4 L172.1,81.3 L172.0,81.1 L171.9,81.0 L171.8,80.8 L171.7,80.7 L171.5,80.6 L171.4,80.4 L171.3,80.2 L171.1,80.1 L171.0,79.9 L170.9,79.7 L170.7,79.6 L170.6,79.4 L170.5,79.2Z" fill="#1c1c1c"/></g>
<line x1="45.2" y1="76.5" x2="299.0" y2="76.5" stroke="#808080" stroke-opacity="0.32" stroke-width="1"/><line x1="172.1" y1="22.0" x2="172.1" y2="131.0" stroke="#808080" stroke-opacity="0.32" stroke-width="1"/>
<path fill="#e82020" fill-opacity="0.3" d="M216.6 70.6h1.05v1.05h-1.05zM146.1 99.7h1.05v1.05h-1.05zM190.4 44.0h1.05v1.05h-1.05zM161.4 36.3h1.05v1.05h-1.05zM126.4 82.0h1.05v1.05h-1.05zM177.5 37.8h1.05v1.05h-1.05zM123.2 47.7h1.05v1.05h-1.05zM195.6 51.3h1.05v1.05h-1.05zM166.7 109.2h1.05v1.05h-1.05zM134.4 90.2h1.05v1.05h-1.05zM205.8 101.8h1.05v1.05h-1.05zM216.1 69.9h1.05v1.05h-1.05zM191.4 109.6h1.05v1.05h-1.05zM220.1 76.4h1.05v1.05h-1.05zM121.7 77.3h1.05v1.05h-1.05zM136.8 93.7h1.05v1.05h-1.05zM222.4 75.6h1.05v1.05h-1.05zM155.2 35.1h1.05v1.05h-1.05zM144.5 40.3h1.05v1.05h-1.05zM125.4 80.1h1.05v1.05h-1.05zM169.4 36.7h1.05v1.05h-1.05zM227.1 85.6h1.05v1.05h-1.05zM132.3 47.3h1.05v1.05h-1.05zM211.3 98.9h1.05v1.05h-1.05zM116.6 49.7h1.05v1.05h-1.05zM140.9 95.5h1.05v1.05h-1.05zM144.3 41.9h1.05v1.05h-1.05zM134.2 90.1h1.05v1.05h-1.05zM208.7 99.3h1.05v1.05h-1.05zM198.5 55.0h1.05v1.05h-1.05zM141.8 97.1h1.05v1.05h-1.05zM117.8 49.4h1.05v1.05h-1.05zM164.6 38.3h1.05v1.05h-1.05zM78.3 72.8h1.05v1.05h-1.05zM121.3 46.0h1.05v1.05h-1.05zM105.8 53.6h1.05v1.05h-1.05zM86.7 49.3h1.05v1.05h-1.05zM98.3 47.5h1.05v1.05h-1.05zM85.0 49.0h1.05v1.05h-1.05zM61.6 63.8h1.05v1.05h-1.05zM104.6 77.6h1.05v1.05h-1.05zM65.3 75.5h1.05v1.05h-1.05zM80.2 78.3h1.05v1.05h-1.05zM86.6 68.5h1.05v1.05h-1.05zM82.6 38.1h1.05v1.05h-1.05zM78.6 75.8h1.05v1.05h-1.05zM67.6 47.8h1.05v1.05h-1.05zM103.6 67.1h1.05v1.05h-1.05zM94.7 47.0h1.05v1.05h-1.05zM66.9 40.5h1.05v1.05h-1.05zM68.3 71.8h1.05v1.05h-1.05zM114.4 33.6h1.05v1.05h-1.05zM114.1 75.9h1.05v1.05h-1.05zM87.9 64.2h1.05v1.05h-1.05zM71.2 80.4h1.05v1.05h-1.05zM83.8 35.0h1.05v1.05h-1.05zM95.6 58.4h1.05v1.05h-1.05zM75.8 61.4h1.05v1.05h-1.05zM83.8 64.6h1.05v1.05h-1.05zM114.8 52.0h1.05v1.05h-1.05zM119.1 46.2h1.05v1.05h-1.05zM110.0 55.7h1.05v1.05h-1.05zM98.3 76.8h1.05v1.05h-1.05zM111.5 68.5h1.05v1.05h-1.05zM73.0 71.7h1.05v1.05h-1.05zM115.6 43.8h1.05v1.05h-1.05zM75.2 60.5h1.05v1.05h-1.05zM72.9 88.4h1.05v1.05h-1.05zM58.6 62.1h1.05v1.05h-1.05zM57.1 43.5h1.05v1.05h-1.05zM52.0 54.0h1.05v1.05h-1.05zM116.9 86.2h1.05v1.05h-1.05zM65.8 66.8h1.05v1.05h-1.05zM106.6 52.0h1.05v1.05h-1.05zM61.2 56.6h1.05v1.05h-1.05zM104.6 50.8h1.05v1.05h-1.05zM119.4 39.3h1.05v1.05h-1.05zM93.6 53.1h1.05v1.05h-1.05zM104.4 79.5h1.05v1.05h-1.05zM73.2 62.2h1.05v1.05h-1.05zM53.8 97.6h1.05v1.05h-1.05zM56.5 51.7h1.05v1.05h-1.05zM80.5 71.9h1.05v1.05h-1.05zM113.6 43.6h1.05v1.05h-1.05zM76.8 64.9h1.05v1.05h-1.05zM65.7 48.0h1.05v1.05h-1.05zM52.9 79.6h1.05v1.05h-1.05zM103.3 54.1h1.05v1.05h-1.05zM107.7 65.2h1.05v1.05h-1.05zM107.0 74.8h1.05v1.05h-1.05zM60.9 54.4h1.05v1.05h-1.05zM95.4 42.2h1.05v1.05h-1.05zM94.5 77.1h1.05v1.05h-1.05zM115.5 56.6h1.05v1.05h-1.05zM94.2 52.1h1.05v1.05h-1.05zM109.2 60.7h1.05v1.05h-1.05zM82.1 33.9h1.05v1.05h-1.05zM61.2 78.1h1.05v1.05h-1.05zM96.4 47.5h1.05v1.05h-1.05zM72.8 59.0h1.05v1.05h-1.05zM102.1 66.8h1.05v1.05h-1.05zM116.9 74.1h1.05v1.05h-1.05zM97.0 46.2h1.05v1.05h-1.05zM93.3 71.2h1.05v1.05h-1.05zM82.6 72.8h1.05v1.05h-1.05zM69.2 79.7h1.05v1.05h-1.05zM65.1 65.5h1.05v1.05h-1.05zM120.7 40.7h1.05v1.05h-1.05zM92.3 73.5h1.05v1.05h-1.05zM84.4 59.9h1.05v1.05h-1.05zM78.5 65.2h1.05v1.05h-1.05zM65.2 37.8h1.05v1.05h-1.05zM75.0 67.7h1.05v1.05h-1.05zM84.3 59.6h1.05v1.05h-1.05zM107.7 79.6h1.05v1.05h-1.05zM68.6 89.4h1.05v1.05h-1.05zM80.5 55.5h1.05v1.05h-1.05zM67.4 37.5h1.05v1.05h-1.05zM62.9 56.4h1.05v1.05h-1.05zM115.1 56.3h1.05v1.05h-1.05zM99.4 62.6h1.05v1.05h-1.05zM105.2 40.5h1.05v1.05h-1.05zM66.6 75.1h1.05v1.05h-1.05zM90.4 55.5h1.05v1.05h-1.05zM110.8 70.5h1.05v1.05h-1.05zM96.7 50.7h1.05v1.05h-1.05zM105.3 61.9h1.05v1.05h-1.05zM121.9 30.5h1.05v1.05h-1.05zM95.2 57.8h1.05v1.05h-1.05zM107.7 50.6h1.05v1.05h-1.05zM94.6 50.5h1.05v1.05h-1.05zM71.7 73.8h1.05v1.05h-1.05zM73.8 61.9h1.05v1.05h-1.05zM118.3 42.3h1.05v1.05h-1.05zM119.9 45.6h1.05v1.05h-1.05zM114.7 61.6h1.05v1.05h-1.05zM103.8 73.2h1.05v1.05h-1.05zM122.2 47.4h1.05v1.05h-1.05zM125.8 44.6h1.05v1.05h-1.05zM114.6 92.2h1.05v1.05h-1.05zM119.7 86.5h1.05v1.05h-1.05zM117.2 93.8h1.05v1.05h-1.05zM138.4 99.1h1.05v1.05h-1.05zM118.3 79.0h1.05v1.05h-1.05zM244.9 82.2h1.05v1.05h-1.05zM238.2 97.9h1.05v1.05h-1.05zM234.8 83.8h1.05v1.05h-1.05zM250.3 93.7h1.05v1.05h-1.05zM268.5 89.4h1.05v1.05h-1.05zM278.4 80.5h1.05v1.05h-1.05zM237.6 73.6h1.05v1.05h-1.05zM274.9 89.3h1.05v1.05h-1.05zM221.7 96.9h1.05v1.05h-1.05zM219.3 103.6h1.05v1.05h-1.05zM268.5 91.7h1.05v1.05h-1.05zM268.9 98.7h1.05v1.05h-1.05zM281.0 85.6h1.05v1.05h-1.05zM274.3 83.9h1.05v1.05h-1.05zM270.6 88.7h1.05v1.05h-1.05zM250.0 72.8h1.05v1.05h-1.05zM234.7 73.8h1.05v1.05h-1.05zM247.8 73.2h1.05v1.05h-1.05zM235.3 74.7h1.05v1.05h-1.05zM250.2 88.4h1.05v1.05h-1.05zM276.6 89.4h1.05v1.05h-1.05zM257.2 93.7h1.05v1.05h-1.05zM273.0 79.0h1.05v1.05h-1.05zM220.5 95.1h1.05v1.05h-1.05zM247.2 77.2h1.05v1.05h-1.05zM268.8 86.5h1.05v1.05h-1.05zM247.0 87.5h1.05v1.05h-1.05zM210.9 102.9h1.05v1.05h-1.05zM272.7 97.0h1.05v1.05h-1.05zM257.9 94.0h1.05v1.05h-1.05zM234.2 83.8h1.05v1.05h-1.05zM273.9 91.2h1.05v1.05h-1.05zM232.8 91.7h1.05v1.05h-1.05zM272.0 85.5h1.05v1.05h-1.05zM231.3 105.6h1.05v1.05h-1.05zM206.8 110.8h1.05v1.05h-1.05zM205.4 102.6h1.05v1.05h-1.05zM215.6 102.5h1.05v1.05h-1.05zM194.8 107.0h1.05v1.05h-1.05zM204.7 106.9h1.05v1.05h-1.05zM207.6 100.9h1.05v1.05h-1.05zM207.7 100.5h1.05v1.05h-1.05z"/><path fill="#e82020" fill-opacity="0.45" d="M183.4 98.9h1.05v1.05h-1.05zM167.4 59.4h1.05v1.05h-1.05zM187.9 94.6h1.05v1.05h-1.05zM155.7 83.3h1.05v1.05h-1.05zM175.0 58.7h1.05v1.05h-1.05zM171.7 88.4h1.05v1.05h-1.05zM170.1 84.6h1.05v1.05h-1.05zM159.5 44.6h1.05v1.05h-1.05zM225.4 86.2h1.05v1.05h-1.05zM165.3 96.8h1.05v1.05h-1.05zM153.8 81.0h1.05v1.05h-1.05zM171.6 54.7h1.05v1.05h-1.05zM168.7 83.9h1.05v1.05h-1.05zM166.3 79.1h1.05v1.05h-1.05zM162.5 58.4h1.05v1.05h-1.05zM170.8 63.5h1.05v1.05h-1.05zM179.6 93.9h1.05v1.05h-1.05zM165.5 91.7h1.05v1.05h-1.05zM183.1 84.1h1.05v1.05h-1.05zM164.6 67.0h1.05v1.05h-1.05zM169.6 71.0h1.05v1.05h-1.05zM168.8 104.2h1.05v1.05h-1.05zM168.1 61.2h1.05v1.05h-1.05zM177.2 84.5h1.05v1.05h-1.05zM181.2 84.7h1.05v1.05h-1.05zM180.2 65.0h1.05v1.05h-1.05zM160.9 71.1h1.05v1.05h-1.05zM137.0 80.5h1.05v1.05h-1.05zM201.0 90.9h1.05v1.05h-1.05zM197.6 94.9h1.05v1.05h-1.05zM202.3 76.6h1.05v1.05h-1.05zM170.3 91.0h1.05v1.05h-1.05zM180.9 94.5h1.05v1.05h-1.05zM168.3 108.6h1.05v1.05h-1.05zM135.7 65.2h1.05v1.05h-1.05zM191.3 73.2h1.05v1.05h-1.05zM158.9 84.4h1.05v1.05h-1.05zM172.6 63.8h1.05v1.05h-1.05zM180.2 82.4h1.05v1.05h-1.05zM172.5 70.2h1.05v1.05h-1.05zM185.6 67.9h1.05v1.05h-1.05zM177.4 60.4h1.05v1.05h-1.05zM212.7 81.7h1.05v1.05h-1.05zM166.6 61.4h1.05v1.05h-1.05zM189.8 54.0h1.05v1.05h-1.05zM175.6 88.5h1.05v1.05h-1.05zM151.9 65.4h1.05v1.05h-1.05zM193.7 79.1h1.05v1.05h-1.05zM155.4 87.8h1.05v1.05h-1.05zM193.4 69.8h1.05v1.05h-1.05zM157.8 62.0h1.05v1.05h-1.05zM158.4 60.1h1.05v1.05h-1.05zM174.1 58.4h1.05v1.05h-1.05zM140.5 81.0h1.05v1.05h-1.05zM159.0 60.4h1.05v1.05h-1.05zM180.5 66.9h1.05v1.05h-1.05zM205.4 87.0h1.05v1.05h-1.05zM154.1 61.4h1.05v1.05h-1.05zM202.3 94.3h1.05v1.05h-1.05zM209.2 90.5h1.05v1.05h-1.05zM188.5 77.7h1.05v1.05h-1.05zM157.0 101.2h1.05v1.05h-1.05zM195.4 88.5h1.05v1.05h-1.05zM186.2 61.0h1.05v1.05h-1.05zM161.7 90.5h1.05v1.05h-1.05zM180.9 59.1h1.05v1.05h-1.05zM186.7 66.7h1.05v1.05h-1.05zM182.0 62.6h1.05v1.05h-1.05zM166.8 77.8h1.05v1.05h-1.05zM161.4 53.7h1.05v1.05h-1.05zM160.8 98.9h1.05v1.05h-1.05zM162.7 68.9h1.05v1.05h-1.05zM183.9 83.2h1.05v1.05h-1.05zM158.6 64.1h1.05v1.05h-1.05zM149.1 64.3h1.05v1.05h-1.05zM167.4 62.2h1.05v1.05h-1.05zM201.5 70.5h1.05v1.05h-1.05zM145.1 74.9h1.05v1.05h-1.05zM189.4 69.6h1.05v1.05h-1.05zM160.4 67.0h1.05v1.05h-1.05zM158.4 64.2h1.05v1.05h-1.05zM196.9 71.0h1.05v1.05h-1.05zM211.8 84.5h1.05v1.05h-1.05zM143.9 78.7h1.05v1.05h-1.05zM200.4 59.5h1.05v1.05h-1.05zM167.9 88.6h1.05v1.05h-1.05zM190.7 93.3h1.05v1.05h-1.05zM197.5 71.5h1.05v1.05h-1.05zM164.5 66.2h1.05v1.05h-1.05zM197.4 76.0h1.05v1.05h-1.05zM175.4 71.5h1.05v1.05h-1.05zM177.1 64.5h1.05v1.05h-1.05zM167.5 93.3h1.05v1.05h-1.05zM171.7 59.1h1.05v1.05h-1.05zM199.7 84.2h1.05v1.05h-1.05zM156.9 78.6h1.05v1.05h-1.05zM161.7 53.4h1.05v1.05h-1.05zM167.4 59.5h1.05v1.05h-1.05zM196.5 73.2h1.05v1.05h-1.05zM188.0 90.2h1.05v1.05h-1.05zM172.8 77.9h1.05v1.05h-1.05zM169.9 64.4h1.05v1.05h-1.05zM187.5 73.8h1.05v1.05h-1.05zM172.4 82.3h1.05v1.05h-1.05zM185.6 78.1h1.05v1.05h-1.05zM170.1 58.4h1.05v1.05h-1.05zM205.0 94.6h1.05v1.05h-1.05zM155.5 79.9h1.05v1.05h-1.05zM171.9 49.2h1.05v1.05h-1.05zM191.2 69.4h1.05v1.05h-1.05zM190.5 64.9h1.05v1.05h-1.05zM211.9 87.4h1.05v1.05h-1.05zM168.0 75.5h1.05v1.05h-1.05zM157.3 62.0h1.05v1.05h-1.05zM192.7 76.6h1.05v1.05h-1.05zM166.5 72.0h1.05v1.05h-1.05zM165.3 76.9h1.05v1.05h-1.05zM217.2 74.3h1.05v1.05h-1.05zM169.7 48.0h1.05v1.05h-1.05zM151.8 87.4h1.05v1.05h-1.05zM192.9 89.5h1.05v1.05h-1.05zM121.8 65.1h1.05v1.05h-1.05zM183.6 78.3h1.05v1.05h-1.05zM150.5 97.5h1.05v1.05h-1.05zM200.4 82.0h1.05v1.05h-1.05zM172.1 75.3h1.05v1.05h-1.05zM142.1 55.9h1.05v1.05h-1.05zM175.1 102.1h1.05v1.05h-1.05zM176.4 87.9h1.05v1.05h-1.05zM169.4 77.6h1.05v1.05h-1.05zM197.9 83.9h1.05v1.05h-1.05zM147.3 79.3h1.05v1.05h-1.05zM169.8 80.9h1.05v1.05h-1.05zM181.8 74.7h1.05v1.05h-1.05zM199.5 90.2h1.05v1.05h-1.05zM164.9 83.3h1.05v1.05h-1.05zM151.5 78.2h1.05v1.05h-1.05zM165.1 85.2h1.05v1.05h-1.05zM159.8 66.6h1.05v1.05h-1.05zM166.0 91.3h1.05v1.05h-1.05zM170.2 84.4h1.05v1.05h-1.05zM188.2 82.1h1.05v1.05h-1.05zM186.4 95.3h1.05v1.05h-1.05zM170.2 76.6h1.05v1.05h-1.05zM173.4 85.5h1.05v1.05h-1.05zM179.4 73.8h1.05v1.05h-1.05zM187.2 76.7h1.05v1.05h-1.05zM180.5 76.5h1.05v1.05h-1.05zM173.2 58.8h1.05v1.05h-1.05zM174.4 49.6h1.05v1.05h-1.05zM202.4 78.4h1.05v1.05h-1.05zM181.2 52.6h1.05v1.05h-1.05zM146.4 49.0h1.05v1.05h-1.05zM204.6 85.0h1.05v1.05h-1.05zM173.5 79.6h1.05v1.05h-1.05zM129.1 68.5h1.05v1.05h-1.05zM183.7 70.1h1.05v1.05h-1.05zM185.4 83.1h1.05v1.05h-1.05zM154.5 90.2h1.05v1.05h-1.05zM167.4 57.8h1.05v1.05h-1.05zM184.1 68.8h1.05v1.05h-1.05zM192.2 86.5h1.05v1.05h-1.05zM161.8 99.8h1.05v1.05h-1.05zM184.0 96.4h1.05v1.05h-1.05zM171.9 80.0h1.05v1.05h-1.05zM184.6 66.2h1.05v1.05h-1.05zM165.4 61.7h1.05v1.05h-1.05zM170.9 107.5h1.05v1.05h-1.05zM164.8 87.3h1.05v1.05h-1.05zM158.2 74.6h1.05v1.05h-1.05zM153.7 66.2h1.05v1.05h-1.05zM181.6 92.1h1.05v1.05h-1.05zM146.7 87.6h1.05v1.05h-1.05zM184.8 108.2h1.05v1.05h-1.05zM185.4 56.1h1.05v1.05h-1.05zM167.1 70.3h1.05v1.05h-1.05zM149.6 78.3h1.05v1.05h-1.05zM173.7 63.1h1.05v1.05h-1.05zM137.9 78.5h1.05v1.05h-1.05zM176.6 71.4h1.05v1.05h-1.05zM200.5 74.0h1.05v1.05h-1.05zM191.6 89.7h1.05v1.05h-1.05zM166.9 81.1h1.05v1.05h-1.05zM146.6 72.9h1.05v1.05h-1.05zM151.2 63.0h1.05v1.05h-1.05zM190.0 83.3h1.05v1.05h-1.05zM182.8 69.1h1.05v1.05h-1.05zM205.8 84.7h1.05v1.05h-1.05zM157.5 91.0h1.05v1.05h-1.05zM176.7 92.3h1.05v1.05h-1.05zM186.6 85.7h1.05v1.05h-1.05zM162.4 59.3h1.05v1.05h-1.05zM177.4 88.4h1.05v1.05h-1.05zM165.1 68.4h1.05v1.05h-1.05zM204.9 94.2h1.05v1.05h-1.05zM149.8 74.7h1.05v1.05h-1.05zM200.8 60.9h1.05v1.05h-1.05zM174.0 70.4h1.05v1.05h-1.05zM164.0 84.1h1.05v1.05h-1.05zM175.2 53.7h1.05v1.05h-1.05zM183.6 91.3h1.05v1.05h-1.05zM170.1 57.1h1.05v1.05h-1.05zM161.8 57.1h1.05v1.05h-1.05zM178.6 77.0h1.05v1.05h-1.05zM171.3 48.4h1.05v1.05h-1.05zM186.6 91.9h1.05v1.05h-1.05zM185.1 92.2h1.05v1.05h-1.05zM139.9 85.1h1.05v1.05h-1.05zM177.1 72.0h1.05v1.05h-1.05zM181.2 81.4h1.05v1.05h-1.05zM160.4 99.0h1.05v1.05h-1.05zM159.3 60.1h1.05v1.05h-1.05zM162.1 63.9h1.05v1.05h-1.05zM169.5 95.3h1.05v1.05h-1.05zM156.8 72.2h1.05v1.05h-1.05zM169.8 78.1h1.05v1.05h-1.05zM181.2 77.8h1.05v1.05h-1.05zM187.0 68.2h1.05v1.05h-1.05zM168.9 75.0h1.05v1.05h-1.05zM193.9 71.7h1.05v1.05h-1.05zM167.3 52.1h1.05v1.05h-1.05zM164.3 63.9h1.05v1.05h-1.05zM151.9 65.6h1.05v1.05h-1.05zM162.3 63.6h1.05v1.05h-1.05zM180.6 66.2h1.05v1.05h-1.05zM198.4 72.8h1.05v1.05h-1.05zM198.0 58.4h1.05v1.05h-1.05zM157.3 57.9h1.05v1.05h-1.05zM165.0 71.6h1.05v1.05h-1.05zM185.8 84.2h1.05v1.05h-1.05zM172.6 74.1h1.05v1.05h-1.05zM154.2 95.6h1.05v1.05h-1.05zM178.5 70.0h1.05v1.05h-1.05zM195.4 69.7h1.05v1.05h-1.05zM149.0 71.0h1.05v1.05h-1.05zM139.3 69.8h1.05v1.05h-1.05zM204.8 63.2h1.05v1.05h-1.05zM160.7 81.6h1.05v1.05h-1.05zM181.2 95.6h1.05v1.05h-1.05zM168.7 73.1h1.05v1.05h-1.05zM203.8 81.7h1.05v1.05h-1.05zM136.4 56.7h1.05v1.05h-1.05zM140.5 86.7h1.05v1.05h-1.05zM182.9 70.7h1.05v1.05h-1.05zM154.0 83.5h1.05v1.05h-1.05zM156.3 53.5h1.05v1.05h-1.05zM161.8 55.4h1.05v1.05h-1.05zM189.1 86.8h1.05v1.05h-1.05zM178.5 81.6h1.05v1.05h-1.05zM163.8 81.7h1.05v1.05h-1.05zM206.3 75.7h1.05v1.05h-1.05zM166.7 84.5h1.05v1.05h-1.05zM134.7 84.7h1.05v1.05h-1.05zM186.6 84.7h1.05v1.05h-1.05zM165.0 65.7h1.05v1.05h-1.05zM148.6 82.2h1.05v1.05h-1.05zM151.4 79.2h1.05v1.05h-1.05zM162.6 65.0h1.05v1.05h-1.05zM169.6 66.3h1.05v1.05h-1.05zM156.9 89.6h1.05v1.05h-1.05zM129.4 68.6h1.05v1.05h-1.05zM172.9 93.2h1.05v1.05h-1.05zM179.9 56.8h1.05v1.05h-1.05zM142.1 86.5h1.05v1.05h-1.05zM167.3 43.7h1.05v1.05h-1.05zM158.8 73.6h1.05v1.05h-1.05zM166.1 65.8h1.05v1.05h-1.05zM158.4 75.0h1.05v1.05h-1.05zM160.6 89.3h1.05v1.05h-1.05zM187.6 85.0h1.05v1.05h-1.05zM162.9 73.6h1.05v1.05h-1.05zM176.6 66.8h1.05v1.05h-1.05zM188.6 69.6h1.05v1.05h-1.05zM166.2 47.3h1.05v1.05h-1.05zM179.3 80.9h1.05v1.05h-1.05zM171.4 66.9h1.05v1.05h-1.05zM177.3 54.6h1.05v1.05h-1.05zM180.7 48.3h1.05v1.05h-1.05zM179.0 75.3h1.05v1.05h-1.05zM188.2 75.4h1.05v1.05h-1.05zM117.3 59.5h1.05v1.05h-1.05zM191.7 91.9h1.05v1.05h-1.05zM162.1 58.4h1.05v1.05h-1.05zM177.0 76.3h1.05v1.05h-1.05zM126.9 64.7h1.05v1.05h-1.05zM183.3 84.9h1.05v1.05h-1.05zM184.2 84.7h1.05v1.05h-1.05zM147.3 45.2h1.05v1.05h-1.05zM185.4 92.5h1.05v1.05h-1.05zM153.7 76.4h1.05v1.05h-1.05zM181.7 74.0h1.05v1.05h-1.05zM161.0 79.5h1.05v1.05h-1.05zM183.8 88.2h1.05v1.05h-1.05zM190.2 55.7h1.05v1.05h-1.05zM186.5 59.1h1.05v1.05h-1.05zM175.7 56.1h1.05v1.05h-1.05zM150.6 74.7h1.05v1.05h-1.05zM194.3 77.6h1.05v1.05h-1.05zM207.6 83.1h1.05v1.05h-1.05zM158.0 59.6h1.05v1.05h-1.05zM169.1 58.2h1.05v1.05h-1.05zM178.7 88.4h1.05v1.05h-1.05zM201.6 100.5h1.05v1.05h-1.05zM187.0 72.4h1.05v1.05h-1.05zM174.5 82.0h1.05v1.05h-1.05zM202.3 92.2h1.05v1.05h-1.05zM172.8 77.9h1.05v1.05h-1.05zM170.8 100.0h1.05v1.05h-1.05zM167.6 89.5h1.05v1.05h-1.05zM159.4 66.6h1.05v1.05h-1.05zM170.0 72.1h1.05v1.05h-1.05zM186.7 96.4h1.05v1.05h-1.05zM163.9 53.8h1.05v1.05h-1.05zM155.5 93.0h1.05v1.05h-1.05zM182.9 90.1h1.05v1.05h-1.05zM177.8 76.7h1.05v1.05h-1.05zM131.7 53.0h1.05v1.05h-1.05zM156.1 73.1h1.05v1.05h-1.05zM200.1 74.0h1.05v1.05h-1.05zM182.6 83.5h1.05v1.05h-1.05zM154.9 77.0h1.05v1.05h-1.05zM174.9 91.4h1.05v1.05h-1.05zM176.2 57.9h1.05v1.05h-1.05zM144.7 76.2h1.05v1.05h-1.05zM178.5 53.6h1.05v1.05h-1.05zM148.2 62.0h1.05v1.05h-1.05zM169.2 76.3h1.05v1.05h-1.05zM185.8 95.1h1.05v1.05h-1.05zM194.0 76.9h1.05v1.05h-1.05zM140.2 88.3h1.05v1.05h-1.05zM147.9 57.5h1.05v1.05h-1.05zM164.2 70.6h1.05v1.05h-1.05zM165.7 92.1h1.05v1.05h-1.05zM164.6 67.5h1.05v1.05h-1.05zM156.1 89.7h1.05v1.05h-1.05zM193.3 93.8h1.05v1.05h-1.05zM183.8 64.6h1.05v1.05h-1.05zM181.6 67.4h1.05v1.05h-1.05zM134.8 66.9h1.05v1.05h-1.05zM165.4 56.8h1.05v1.05h-1.05zM185.2 79.5h1.05v1.05h-1.05zM161.5 64.9h1.05v1.05h-1.05zM188.7 73.1h1.05v1.05h-1.05zM153.9 78.2h1.05v1.05h-1.05zM150.7 71.4h1.05v1.05h-1.05zM183.5 86.4h1.05v1.05h-1.05zM180.0 83.8h1.05v1.05h-1.05zM184.8 87.4h1.05v1.05h-1.05zM143.3 70.5h1.05v1.05h-1.05zM169.2 75.1h1.05v1.05h-1.05zM182.1 61.4h1.05v1.05h-1.05zM215.8 74.3h1.05v1.05h-1.05zM138.6 74.7h1.05v1.05h-1.05zM195.9 98.5h1.05v1.05h-1.05zM171.7 82.1h1.05v1.05h-1.05zM146.5 63.6h1.05v1.05h-1.05zM196.4 99.9h1.05v1.05h-1.05zM133.1 52.2h1.05v1.05h-1.05zM163.0 98.8h1.05v1.05h-1.05zM153.2 93.4h1.05v1.05h-1.05zM206.9 82.6h1.05v1.05h-1.05zM135.7 55.5h1.05v1.05h-1.05zM168.6 55.4h1.05v1.05h-1.05zM178.6 81.4h1.05v1.05h-1.05zM179.4 89.7h1.05v1.05h-1.05zM174.1 74.0h1.05v1.05h-1.05zM167.9 77.4h1.05v1.05h-1.05zM148.5 78.0h1.05v1.05h-1.05zM172.4 75.8h1.05v1.05h-1.05zM166.9 86.0h1.05v1.05h-1.05zM163.9 50.5h1.05v1.05h-1.05zM164.3 95.5h1.05v1.05h-1.05zM181.7 56.9h1.05v1.05h-1.05zM176.0 89.8h1.05v1.05h-1.05zM164.2 92.0h1.05v1.05h-1.05zM136.0 64.1h1.05v1.05h-1.05zM172.7 66.2h1.05v1.05h-1.05zM185.7 60.6h1.05v1.05h-1.05zM173.2 80.5h1.05v1.05h-1.05zM186.2 102.5h1.05v1.05h-1.05zM155.8 84.5h1.05v1.05h-1.05zM148.0 80.4h1.05v1.05h-1.05zM156.0 55.2h1.05v1.05h-1.05zM149.0 53.2h1.05v1.05h-1.05zM179.7 69.2h1.05v1.05h-1.05zM164.5 80.3h1.05v1.05h-1.05zM125.5 48.8h1.05v1.05h-1.05zM155.5 84.6h1.05v1.05h-1.05zM161.0 50.0h1.05v1.05h-1.05zM167.3 88.0h1.05v1.05h-1.05zM159.1 72.6h1.05v1.05h-1.05zM202.0 82.5h1.05v1.05h-1.05zM159.8 88.2h1.05v1.05h-1.05zM178.2 69.9h1.05v1.05h-1.05zM158.9 69.5h1.05v1.05h-1.05zM158.2 86.4h1.05v1.05h-1.05zM176.6 85.1h1.05v1.05h-1.05zM157.5 59.0h1.05v1.05h-1.05zM173.1 73.0h1.05v1.05h-1.05zM187.0 80.8h1.05v1.05h-1.05zM183.3 85.3h1.05v1.05h-1.05zM189.1 84.2h1.05v1.05h-1.05zM186.8 78.6h1.05v1.05h-1.05zM199.6 75.8h1.05v1.05h-1.05zM172.5 73.4h1.05v1.05h-1.05zM127.1 78.0h1.05v1.05h-1.05zM156.1 65.5h1.05v1.05h-1.05zM153.6 82.5h1.05v1.05h-1.05zM188.1 93.1h1.05v1.05h-1.05zM164.6 78.7h1.05v1.05h-1.05zM166.8 95.0h1.05v1.05h-1.05zM171.7 59.6h1.05v1.05h-1.05zM194.4 79.1h1.05v1.05h-1.05zM177.8 96.6h1.05v1.05h-1.05zM155.4 85.1h1.05v1.05h-1.05zM154.9 75.5h1.05v1.05h-1.05zM177.0 70.5h1.05v1.05h-1.05zM196.7 93.7h1.05v1.05h-1.05zM200.3 82.6h1.05v1.05h-1.05zM186.9 56.3h1.05v1.05h-1.05zM164.3 89.3h1.05v1.05h-1.05zM167.6 67.5h1.05v1.05h-1.05zM198.2 75.7h1.05v1.05h-1.05zM172.0 66.6h1.05v1.05h-1.05zM183.1 59.0h1.05v1.05h-1.05zM196.5 84.9h1.05v1.05h-1.05zM176.8 59.6h1.05v1.05h-1.05zM169.6 65.7h1.05v1.05h-1.05zM205.6 84.1h1.05v1.05h-1.05zM153.4 69.0h1.05v1.05h-1.05zM180.4 91.3h1.05v1.05h-1.05zM189.2 90.7h1.05v1.05h-1.05zM170.6 67.2h1.05v1.05h-1.05zM130.8 75.2h1.05v1.05h-1.05zM175.9 54.3h1.05v1.05h-1.05zM168.2 75.6h1.05v1.05h-1.05zM179.9 89.6h1.05v1.05h-1.05zM176.4 42.5h1.05v1.05h-1.05zM191.9 95.4h1.05v1.05h-1.05zM181.9 106.3h1.05v1.05h-1.05zM171.9 71.3h1.05v1.05h-1.05zM167.4 53.7h1.05v1.05h-1.05zM205.0 85.0h1.05v1.05h-1.05zM175.9 58.9h1.05v1.05h-1.05zM175.9 74.4h1.05v1.05h-1.05zM151.5 65.8h1.05v1.05h-1.05zM129.6 61.2h1.05v1.05h-1.05zM196.3 70.6h1.05v1.05h-1.05zM168.1 94.0h1.05v1.05h-1.05zM188.1 65.1h1.05v1.05h-1.05zM201.3 82.1h1.05v1.05h-1.05zM129.7 65.7h1.05v1.05h-1.05zM188.6 86.7h1.05v1.05h-1.05zM142.9 76.8h1.05v1.05h-1.05zM181.9 86.0h1.05v1.05h-1.05zM152.9 57.8h1.05v1.05h-1.05zM187.2 74.5h1.05v1.05h-1.05zM170.7 108.1h1.05v1.05h-1.05zM197.9 90.6h1.05v1.05h-1.05zM207.9 79.1h1.05v1.05h-1.05zM188.8 70.9h1.05v1.05h-1.05zM170.0 66.2h1.05v1.05h-1.05zM165.4 90.5h1.05v1.05h-1.05zM186.9 84.3h1.05v1.05h-1.05zM172.5 63.4h1.05v1.05h-1.05zM164.8 67.8h1.05v1.05h-1.05zM196.9 86.8h1.05v1.05h-1.05zM189.8 78.0h1.05v1.05h-1.05zM165.1 102.0h1.05v1.05h-1.05zM183.5 94.9h1.05v1.05h-1.05zM174.7 53.8h1.05v1.05h-1.05zM192.7 94.7h1.05v1.05h-1.05zM152.9 66.6h1.05v1.05h-1.05zM179.4 81.7h1.05v1.05h-1.05zM193.5 94.6h1.05v1.05h-1.05zM129.5 48.9h1.05v1.05h-1.05zM152.3 76.9h1.05v1.05h-1.05zM181.9 86.0h1.05v1.05h-1.05zM132.2 71.6h1.05v1.05h-1.05zM123.9 74.1h1.05v1.05h-1.05zM191.8 54.0h1.05v1.05h-1.05zM204.6 66.7h1.05v1.05h-1.05zM180.7 74.5h1.05v1.05h-1.05zM185.8 74.5h1.05v1.05h-1.05zM183.6 80.1h1.05v1.05h-1.05zM186.2 85.6h1.05v1.05h-1.05zM180.5 78.6h1.05v1.05h-1.05zM171.7 80.3h1.05v1.05h-1.05zM143.7 66.1h1.05v1.05h-1.05zM181.3 89.3h1.05v1.05h-1.05zM184.7 64.3h1.05v1.05h-1.05zM203.0 85.9h1.05v1.05h-1.05zM163.2 59.4h1.05v1.05h-1.05zM177.4 66.0h1.05v1.05h-1.05zM175.0 91.3h1.05v1.05h-1.05zM155.9 100.2h1.05v1.05h-1.05zM164.7 55.7h1.05v1.05h-1.05zM180.6 96.6h1.05v1.05h-1.05zM191.0 63.5h1.05v1.05h-1.05zM136.5 65.2h1.05v1.05h-1.05zM198.1 89.0h1.05v1.05h-1.05zM152.3 60.9h1.05v1.05h-1.05zM188.4 92.5h1.05v1.05h-1.05zM158.4 60.3h1.05v1.05h-1.05zM167.7 48.0h1.05v1.05h-1.05zM175.2 75.3h1.05v1.05h-1.05zM181.1 82.4h1.05v1.05h-1.05zM170.7 72.4h1.05v1.05h-1.05zM174.8 79.1h1.05v1.05h-1.05zM213.8 95.3h1.05v1.05h-1.05zM193.9 93.4h1.05v1.05h-1.05zM160.5 62.2h1.05v1.05h-1.05zM190.0 88.9h1.05v1.05h-1.05zM158.7 59.4h1.05v1.05h-1.05zM191.4 66.6h1.05v1.05h-1.05zM170.6 68.8h1.05v1.05h-1.05zM179.5 92.4h1.05v1.05h-1.05zM168.6 67.2h1.05v1.05h-1.05zM116.2 61.9h1.05v1.05h-1.05zM144.1 76.2h1.05v1.05h-1.05zM152.2 77.3h1.05v1.05h-1.05zM146.0 87.2h1.05v1.05h-1.05zM177.3 103.5h1.05v1.05h-1.05zM166.1 50.8h1.05v1.05h-1.05zM177.7 70.8h1.05v1.05h-1.05zM201.1 70.7h1.05v1.05h-1.05zM143.2 65.9h1.05v1.05h-1.05zM160.3 96.2h1.05v1.05h-1.05zM150.8 81.1h1.05v1.05h-1.05zM188.2 91.9h1.05v1.05h-1.05zM183.2 79.7h1.05v1.05h-1.05zM195.6 85.8h1.05v1.05h-1.05zM121.6 54.8h1.05v1.05h-1.05zM200.8 88.4h1.05v1.05h-1.05zM188.9 84.7h1.05v1.05h-1.05zM165.8 73.1h1.05v1.05h-1.05zM197.1 84.8h1.05v1.05h-1.05zM148.3 89.0h1.05v1.05h-1.05zM154.6 53.6h1.05v1.05h-1.05zM173.9 52.7h1.05v1.05h-1.05zM164.0 97.9h1.05v1.05h-1.05zM174.4 71.5h1.05v1.05h-1.05zM160.3 54.6h1.05v1.05h-1.05zM168.7 55.6h1.05v1.05h-1.05zM166.1 68.2h1.05v1.05h-1.05zM173.1 96.7h1.05v1.05h-1.05zM191.3 73.1h1.05v1.05h-1.05zM136.9 53.2h1.05v1.05h-1.05zM147.4 85.7h1.05v1.05h-1.05zM170.9 67.4h1.05v1.05h-1.05zM179.4 86.2h1.05v1.05h-1.05zM139.3 67.7h1.05v1.05h-1.05zM177.1 84.6h1.05v1.05h-1.05zM161.0 84.0h1.05v1.05h-1.05zM167.4 53.7h1.05v1.05h-1.05zM146.6 87.8h1.05v1.05h-1.05zM184.0 85.9h1.05v1.05h-1.05zM202.2 78.3h1.05v1.05h-1.05zM181.9 109.6h1.05v1.05h-1.05zM173.1 66.9h1.05v1.05h-1.05zM133.9 67.1h1.05v1.05h-1.05zM174.0 84.7h1.05v1.05h-1.05zM140.8 43.6h1.05v1.05h-1.05zM173.4 73.1h1.05v1.05h-1.05zM182.0 84.8h1.05v1.05h-1.05zM162.7 58.3h1.05v1.05h-1.05zM200.9 75.9h1.05v1.05h-1.05zM135.6 55.3h1.05v1.05h-1.05zM173.5 51.3h1.05v1.05h-1.05zM134.1 72.4h1.05v1.05h-1.05zM147.7 68.2h1.05v1.05h-1.05zM172.9 99.6h1.05v1.05h-1.05zM175.0 84.7h1.05v1.05h-1.05zM156.1 55.3h1.05v1.05h-1.05zM186.3 84.3h1.05v1.05h-1.05zM157.8 63.9h1.05v1.05h-1.05zM162.0 84.9h1.05v1.05h-1.05zM150.9 72.5h1.05v1.05h-1.05zM171.2 98.2h1.05v1.05h-1.05zM170.7 86.7h1.05v1.05h-1.05zM174.5 86.1h1.05v1.05h-1.05zM177.4 64.8h1.05v1.05h-1.05zM156.5 66.3h1.05v1.05h-1.05zM158.2 51.3h1.05v1.05h-1.05zM167.7 95.1h1.05v1.05h-1.05zM190.0 85.1h1.05v1.05h-1.05zM177.1 73.5h1.05v1.05h-1.05zM158.6 62.9h1.05v1.05h-1.05zM180.3 87.9h1.05v1.05h-1.05zM201.4 76.9h1.05v1.05h-1.05zM192.7 83.9h1.05v1.05h-1.05zM204.2 85.4h1.05v1.05h-1.05zM171.3 87.0h1.05v1.05h-1.05zM141.9 72.8h1.05v1.05h-1.05zM179.2 78.7h1.05v1.05h-1.05zM141.2 92.4h1.05v1.05h-1.05zM172.4 74.6h1.05v1.05h-1.05zM187.5 50.8h1.05v1.05h-1.05zM163.8 74.3h1.05v1.05h-1.05zM138.1 89.8h1.05v1.05h-1.05zM183.6 69.3h1.05v1.05h-1.05zM135.2 54.8h1.05v1.05h-1.05zM170.8 71.9h1.05v1.05h-1.05zM176.2 95.0h1.05v1.05h-1.05zM155.7 69.5h1.05v1.05h-1.05zM155.7 71.1h1.05v1.05h-1.05zM194.4 89.4h1.05v1.05h-1.05zM166.5 58.2h1.05v1.05h-1.05zM216.8 91.6h1.05v1.05h-1.05zM140.3 45.2h1.05v1.05h-1.05zM172.9 89.2h1.05v1.05h-1.05zM118.3 61.7h1.05v1.05h-1.05zM177.4 82.5h1.05v1.05h-1.05zM182.6 82.2h1.05v1.05h-1.05zM176.3 60.4h1.05v1.05h-1.05zM175.2 90.4h1.05v1.05h-1.05zM186.1 96.5h1.05v1.05h-1.05zM165.2 87.5h1.05v1.05h-1.05zM164.2 77.9h1.05v1.05h-1.05zM206.5 79.4h1.05v1.05h-1.05zM146.1 74.5h1.05v1.05h-1.05zM148.3 57.5h1.05v1.05h-1.05zM195.1 85.5h1.05v1.05h-1.05zM131.9 78.0h1.05v1.05h-1.05zM165.9 69.0h1.05v1.05h-1.05zM158.3 91.8h1.05v1.05h-1.05zM183.1 98.2h1.05v1.05h-1.05zM201.2 85.9h1.05v1.05h-1.05zM153.0 91.6h1.05v1.05h-1.05zM168.2 69.7h1.05v1.05h-1.05zM180.8 51.6h1.05v1.05h-1.05zM192.8 94.1h1.05v1.05h-1.05zM145.3 44.2h1.05v1.05h-1.05zM167.0 58.6h1.05v1.05h-1.05zM184.3 58.3h1.05v1.05h-1.05zM210.2 90.4h1.05v1.05h-1.05zM157.2 82.5h1.05v1.05h-1.05zM162.2 71.5h1.05v1.05h-1.05zM207.5 84.6h1.05v1.05h-1.05zM189.5 83.5h1.05v1.05h-1.05zM146.9 65.4h1.05v1.05h-1.05zM194.7 92.6h1.05v1.05h-1.05zM143.9 64.9h1.05v1.05h-1.05zM186.4 61.8h1.05v1.05h-1.05zM205.2 76.5h1.05v1.05h-1.05zM203.2 76.8h1.05v1.05h-1.05zM151.7 75.5h1.05v1.05h-1.05zM167.4 93.8h1.05v1.05h-1.05zM161.2 78.9h1.05v1.05h-1.05zM189.3 86.9h1.05v1.05h-1.05zM188.9 85.7h1.05v1.05h-1.05zM179.2 80.5h1.05v1.05h-1.05zM185.4 81.8h1.05v1.05h-1.05zM173.3 76.3h1.05v1.05h-1.05zM156.8 90.3h1.05v1.05h-1.05zM196.7 91.3h1.05v1.05h-1.05zM120.9 68.3h1.05v1.05h-1.05zM151.0 80.2h1.05v1.05h-1.05zM185.8 61.1h1.05v1.05h-1.05zM195.4 104.8h1.05v1.05h-1.05zM195.0 84.5h1.05v1.05h-1.05zM148.4 87.6h1.05v1.05h-1.05zM190.1 73.9h1.05v1.05h-1.05zM165.3 59.5h1.05v1.05h-1.05zM159.8 80.5h1.05v1.05h-1.05zM154.7 69.9h1.05v1.05h-1.05zM190.3 66.6h1.05v1.05h-1.05zM151.2 77.3h1.05v1.05h-1.05zM151.5 69.9h1.05v1.05h-1.05zM163.6 59.7h1.05v1.05h-1.05zM167.1 78.3h1.05v1.05h-1.05zM219.8 84.2h1.05v1.05h-1.05zM163.2 82.3h1.05v1.05h-1.05zM196.7 78.7h1.05v1.05h-1.05zM168.5 86.1h1.05v1.05h-1.05zM169.4 71.8h1.05v1.05h-1.05zM156.0 80.1h1.05v1.05h-1.05zM167.2 58.7h1.05v1.05h-1.05zM145.3 56.4h1.05v1.05h-1.05zM177.0 95.2h1.05v1.05h-1.05zM202.4 67.5h1.05v1.05h-1.05zM187.2 88.6h1.05v1.05h-1.05zM165.5 87.0h1.05v1.05h-1.05zM186.6 86.7h1.05v1.05h-1.05zM162.2 75.2h1.05v1.05h-1.05zM188.6 70.4h1.05v1.05h-1.05zM188.2 72.3h1.05v1.05h-1.05zM166.5 57.1h1.05v1.05h-1.05zM115.6 69.9h1.05v1.05h-1.05zM139.3 72.0h1.05v1.05h-1.05zM215.0 87.5h1.05v1.05h-1.05zM171.5 67.8h1.05v1.05h-1.05zM208.1 89.0h1.05v1.05h-1.05zM180.0 82.1h1.05v1.05h-1.05zM172.1 73.1h1.05v1.05h-1.05zM178.2 104.4h1.05v1.05h-1.05zM161.2 92.4h1.05v1.05h-1.05zM180.5 87.1h1.05v1.05h-1.05zM166.4 68.8h1.05v1.05h-1.05zM185.5 79.8h1.05v1.05h-1.05zM159.4 86.7h1.05v1.05h-1.05zM169.3 59.4h1.05v1.05h-1.05zM177.9 76.1h1.05v1.05h-1.05zM191.3 82.0h1.05v1.05h-1.05zM142.3 71.1h1.05v1.05h-1.05zM163.8 81.0h1.05v1.05h-1.05zM161.3 88.1h1.05v1.05h-1.05zM192.6 65.6h1.05v1.05h-1.05zM202.4 82.6h1.05v1.05h-1.05zM169.8 62.1h1.05v1.05h-1.05zM163.1 67.5h1.05v1.05h-1.05zM184.7 85.8h1.05v1.05h-1.05zM185.5 69.1h1.05v1.05h-1.05zM155.5 65.9h1.05v1.05h-1.05zM178.5 41.2h1.05v1.05h-1.05zM170.6 76.9h1.05v1.05h-1.05zM211.6 76.0h1.05v1.05h-1.05zM154.1 62.9h1.05v1.05h-1.05zM186.7 90.7h1.05v1.05h-1.05zM168.2 69.6h1.05v1.05h-1.05zM187.1 92.9h1.05v1.05h-1.05zM179.4 89.6h1.05v1.05h-1.05zM190.1 93.0h1.05v1.05h-1.05zM183.2 82.4h1.05v1.05h-1.05zM168.1 75.1h1.05v1.05h-1.05zM163.5 81.1h1.05v1.05h-1.05zM150.2 72.9h1.05v1.05h-1.05zM174.4 67.6h1.05v1.05h-1.05zM199.1 77.7h1.05v1.05h-1.05zM152.3 80.5h1.05v1.05h-1.05zM182.8 79.3h1.05v1.05h-1.05zM189.6 81.7h1.05v1.05h-1.05zM144.7 74.1h1.05v1.05h-1.05zM165.8 62.1h1.05v1.05h-1.05zM175.3 83.3h1.05v1.05h-1.05zM161.9 60.5h1.05v1.05h-1.05zM187.2 86.2h1.05v1.05h-1.05zM182.8 91.9h1.05v1.05h-1.05zM182.7 63.6h1.05v1.05h-1.05zM154.3 86.0h1.05v1.05h-1.05zM170.5 52.7h1.05v1.05h-1.05zM180.8 78.7h1.05v1.05h-1.05zM177.7 83.3h1.05v1.05h-1.05zM138.3 52.7h1.05v1.05h-1.05zM176.9 100.8h1.05v1.05h-1.05zM202.4 83.1h1.05v1.05h-1.05zM153.9 79.5h1.05v1.05h-1.05zM187.4 85.9h1.05v1.05h-1.05zM186.4 63.7h1.05v1.05h-1.05zM165.5 99.8h1.05v1.05h-1.05zM129.5 64.4h1.05v1.05h-1.05zM189.7 78.0h1.05v1.05h-1.05zM162.8 68.3h1.05v1.05h-1.05zM191.8 81.5h1.05v1.05h-1.05zM170.6 82.0h1.05v1.05h-1.05zM183.7 58.3h1.05v1.05h-1.05zM175.9 93.3h1.05v1.05h-1.05zM181.7 66.5h1.05v1.05h-1.05zM131.2 54.7h1.05v1.05h-1.05zM151.1 89.5h1.05v1.05h-1.05zM201.0 75.0h1.05v1.05h-1.05zM176.8 73.4h1.05v1.05h-1.05zM177.1 54.5h1.05v1.05h-1.05zM161.7 70.6h1.05v1.05h-1.05zM161.4 53.8h1.05v1.05h-1.05zM147.6 63.7h1.05v1.05h-1.05zM168.6 65.3h1.05v1.05h-1.05zM152.9 70.1h1.05v1.05h-1.05zM184.5 92.7h1.05v1.05h-1.05zM179.4 97.5h1.05v1.05h-1.05zM211.6 86.0h1.05v1.05h-1.05zM161.2 90.0h1.05v1.05h-1.05zM128.3 49.3h1.05v1.05h-1.05zM195.0 82.7h1.05v1.05h-1.05zM195.2 75.9h1.05v1.05h-1.05zM176.1 75.3h1.05v1.05h-1.05zM199.2 82.4h1.05v1.05h-1.05zM182.3 83.6h1.05v1.05h-1.05zM173.2 87.1h1.05v1.05h-1.05zM158.3 61.7h1.05v1.05h-1.05zM158.7 92.7h1.05v1.05h-1.05zM163.6 100.1h1.05v1.05h-1.05zM173.7 76.6h1.05v1.05h-1.05zM183.5 69.4h1.05v1.05h-1.05zM172.2 76.4h1.05v1.05h-1.05zM174.1 79.9h1.05v1.05h-1.05zM190.6 83.6h1.05v1.05h-1.05zM197.9 84.3h1.05v1.05h-1.05zM176.3 95.6h1.05v1.05h-1.05zM174.2 97.1h1.05v1.05h-1.05zM172.4 67.3h1.05v1.05h-1.05zM154.8 68.7h1.05v1.05h-1.05zM158.5 69.1h1.05v1.05h-1.05zM195.0 93.0h1.05v1.05h-1.05zM206.6 94.1h1.05v1.05h-1.05zM160.6 62.8h1.05v1.05h-1.05zM182.4 74.1h1.05v1.05h-1.05zM163.8 77.0h1.05v1.05h-1.05zM165.2 82.9h1.05v1.05h-1.05zM188.8 79.5h1.05v1.05h-1.05zM165.8 58.7h1.05v1.05h-1.05zM152.1 84.0h1.05v1.05h-1.05zM190.0 70.6h1.05v1.05h-1.05zM191.1 78.6h1.05v1.05h-1.05zM169.7 56.7h1.05v1.05h-1.05zM151.5 64.2h1.05v1.05h-1.05zM189.5 98.9h1.05v1.05h-1.05zM174.9 87.6h1.05v1.05h-1.05zM126.7 74.7h1.05v1.05h-1.05zM156.4 79.5h1.05v1.05h-1.05zM186.8 81.5h1.05v1.05h-1.05zM179.6 99.2h1.05v1.05h-1.05zM182.1 83.3h1.05v1.05h-1.05zM148.4 65.6h1.05v1.05h-1.05zM127.2 66.8h1.05v1.05h-1.05zM187.8 72.9h1.05v1.05h-1.05zM187.4 85.7h1.05v1.05h-1.05zM196.1 79.1h1.05v1.05h-1.05zM194.2 78.2h1.05v1.05h-1.05zM162.2 61.8h1.05v1.05h-1.05zM193.8 80.9h1.05v1.05h-1.05zM165.1 53.8h1.05v1.05h-1.05zM179.6 87.2h1.05v1.05h-1.05zM186.6 71.3h1.05v1.05h-1.05zM160.2 61.2h1.05v1.05h-1.05zM177.7 62.9h1.05v1.05h-1.05zM162.5 76.8h1.05v1.05h-1.05zM118.4 50.6h1.05v1.05h-1.05zM158.9 78.9h1.05v1.05h-1.05zM155.3 60.0h1.05v1.05h-1.05zM165.3 66.3h1.05v1.05h-1.05zM187.6 64.3h1.05v1.05h-1.05zM171.9 48.1h1.05v1.05h-1.05zM145.4 61.2h1.05v1.05h-1.05zM171.9 90.8h1.05v1.05h-1.05zM180.9 80.2h1.05v1.05h-1.05zM190.2 87.4h1.05v1.05h-1.05zM132.6 69.6h1.05v1.05h-1.05zM186.3 80.3h1.05v1.05h-1.05zM137.2 71.6h1.05v1.05h-1.05zM188.9 74.1h1.05v1.05h-1.05zM178.6 87.4h1.05v1.05h-1.05zM182.2 78.8h1.05v1.05h-1.05zM196.5 70.0h1.05v1.05h-1.05zM181.1 85.2h1.05v1.05h-1.05zM182.0 96.1h1.05v1.05h-1.05zM200.4 82.6h1.05v1.05h-1.05zM168.8 72.5h1.05v1.05h-1.05zM149.9 69.6h1.05v1.05h-1.05zM149.4 86.4h1.05v1.05h-1.05zM179.3 66.2h1.05v1.05h-1.05zM170.9 71.3h1.05v1.05h-1.05zM153.0 87.2h1.05v1.05h-1.05zM147.7 51.1h1.05v1.05h-1.05zM201.9 78.2h1.05v1.05h-1.05zM144.2 93.6h1.05v1.05h-1.05zM195.5 92.0h1.05v1.05h-1.05zM143.1 58.3h1.05v1.05h-1.05zM185.9 87.2h1.05v1.05h-1.05zM176.2 90.2h1.05v1.05h-1.05zM176.8 84.5h1.05v1.05h-1.05zM188.7 71.8h1.05v1.05h-1.05zM194.9 66.3h1.05v1.05h-1.05zM166.8 59.2h1.05v1.05h-1.05zM174.1 76.9h1.05v1.05h-1.05zM158.4 75.8h1.05v1.05h-1.05zM187.8 57.6h1.05v1.05h-1.05zM161.1 66.1h1.05v1.05h-1.05zM163.5 83.6h1.05v1.05h-1.05zM162.3 50.0h1.05v1.05h-1.05zM189.0 82.5h1.05v1.05h-1.05zM168.7 58.2h1.05v1.05h-1.05zM183.4 71.3h1.05v1.05h-1.05zM169.1 72.5h1.05v1.05h-1.05zM164.5 67.0h1.05v1.05h-1.05zM168.2 51.7h1.05v1.05h-1.05zM166.3 74.0h1.05v1.05h-1.05zM183.9 71.4h1.05v1.05h-1.05zM161.9 62.2h1.05v1.05h-1.05zM176.0 64.5h1.05v1.05h-1.05zM173.4 83.7h1.05v1.05h-1.05zM190.7 86.0h1.05v1.05h-1.05zM148.1 63.5h1.05v1.05h-1.05zM193.8 69.7h1.05v1.05h-1.05zM163.5 54.6h1.05v1.05h-1.05zM207.7 84.4h1.05v1.05h-1.05zM141.1 94.1h1.05v1.05h-1.05zM173.5 79.2h1.05v1.05h-1.05zM154.6 42.9h1.05v1.05h-1.05zM185.2 75.8h1.05v1.05h-1.05zM205.0 81.3h1.05v1.05h-1.05zM188.7 76.1h1.05v1.05h-1.05zM177.4 103.7h1.05v1.05h-1.05zM168.8 98.6h1.05v1.05h-1.05zM182.1 96.5h1.05v1.05h-1.05zM158.5 72.4h1.05v1.05h-1.05zM194.9 78.6h1.05v1.05h-1.05zM131.7 81.7h1.05v1.05h-1.05zM123.1 57.5h1.05v1.05h-1.05zM195.3 81.1h1.05v1.05h-1.05zM147.1 66.8h1.05v1.05h-1.05zM212.8 80.4h1.05v1.05h-1.05zM166.0 68.9h1.05v1.05h-1.05zM188.2 55.7h1.05v1.05h-1.05zM183.8 84.8h1.05v1.05h-1.05zM161.5 63.8h1.05v1.05h-1.05zM141.7 44.4h1.05v1.05h-1.05zM160.5 63.3h1.05v1.05h-1.05zM201.4 88.3h1.05v1.05h-1.05zM180.1 64.3h1.05v1.05h-1.05zM176.9 60.6h1.05v1.05h-1.05zM190.4 71.4h1.05v1.05h-1.05zM182.2 84.5h1.05v1.05h-1.05zM199.0 89.7h1.05v1.05h-1.05zM183.3 75.3h1.05v1.05h-1.05zM176.0 84.4h1.05v1.05h-1.05zM172.7 56.1h1.05v1.05h-1.05zM177.9 91.5h1.05v1.05h-1.05zM137.0 68.3h1.05v1.05h-1.05zM162.9 59.3h1.05v1.05h-1.05zM162.8 74.9h1.05v1.05h-1.05zM209.8 87.7h1.05v1.05h-1.05zM185.8 56.8h1.05v1.05h-1.05zM168.7 48.3h1.05v1.05h-1.05zM184.5 77.2h1.05v1.05h-1.05zM151.6 83.2h1.05v1.05h-1.05zM170.1 80.9h1.05v1.05h-1.05zM179.2 73.1h1.05v1.05h-1.05zM183.6 77.9h1.05v1.05h-1.05zM167.4 71.3h1.05v1.05h-1.05zM182.6 94.2h1.05v1.05h-1.05zM185.3 73.5h1.05v1.05h-1.05zM181.1 94.5h1.05v1.05h-1.05zM156.4 70.5h1.05v1.05h-1.05zM169.9 82.5h1.05v1.05h-1.05zM193.9 85.2h1.05v1.05h-1.05zM173.4 40.7h1.05v1.05h-1.05zM122.9 63.9h1.05v1.05h-1.05zM188.6 94.4h1.05v1.05h-1.05zM157.1 82.5h1.05v1.05h-1.05zM168.3 92.0h1.05v1.05h-1.05zM153.6 74.5h1.05v1.05h-1.05zM172.1 48.8h1.05v1.05h-1.05zM179.3 58.8h1.05v1.05h-1.05zM152.9 77.5h1.05v1.05h-1.05zM135.8 78.9h1.05v1.05h-1.05zM183.1 72.3h1.05v1.05h-1.05zM190.3 71.9h1.05v1.05h-1.05zM143.3 71.3h1.05v1.05h-1.05zM142.1 47.1h1.05v1.05h-1.05zM156.8 82.2h1.05v1.05h-1.05zM192.6 71.8h1.05v1.05h-1.05zM193.8 77.1h1.05v1.05h-1.05zM160.0 49.8h1.05v1.05h-1.05zM189.3 60.1h1.05v1.05h-1.05zM182.6 91.3h1.05v1.05h-1.05zM184.1 82.3h1.05v1.05h-1.05zM180.9 77.9h1.05v1.05h-1.05zM151.8 92.9h1.05v1.05h-1.05zM179.0 87.5h1.05v1.05h-1.05zM167.2 99.7h1.05v1.05h-1.05zM175.2 89.0h1.05v1.05h-1.05zM219.4 80.4h1.05v1.05h-1.05zM185.8 85.3h1.05v1.05h-1.05zM187.6 102.1h1.05v1.05h-1.05zM199.1 88.5h1.05v1.05h-1.05zM118.2 52.0h1.05v1.05h-1.05zM144.9 63.8h1.05v1.05h-1.05zM150.5 72.2h1.05v1.05h-1.05zM174.9 81.3h1.05v1.05h-1.05zM187.3 71.0h1.05v1.05h-1.05zM176.8 75.3h1.05v1.05h-1.05zM156.9 77.1h1.05v1.05h-1.05zM152.2 49.0h1.05v1.05h-1.05zM207.0 87.3h1.05v1.05h-1.05zM167.7 56.5h1.05v1.05h-1.05zM179.1 75.7h1.05v1.05h-1.05zM142.6 53.1h1.05v1.05h-1.05zM190.3 98.9h1.05v1.05h-1.05zM185.7 80.7h1.05v1.05h-1.05zM161.1 70.6h1.05v1.05h-1.05zM179.4 74.1h1.05v1.05h-1.05zM139.0 76.6h1.05v1.05h-1.05zM171.3 61.2h1.05v1.05h-1.05zM218.6 87.4h1.05v1.05h-1.05zM193.0 84.2h1.05v1.05h-1.05zM169.0 76.7h1.05v1.05h-1.05zM157.3 73.1h1.05v1.05h-1.05zM168.8 73.5h1.05v1.05h-1.05zM166.4 69.1h1.05v1.05h-1.05zM179.0 73.9h1.05v1.05h-1.05zM167.0 93.9h1.05v1.05h-1.05zM200.9 97.9h1.05v1.05h-1.05zM179.3 75.4h1.05v1.05h-1.05zM119.3 58.6h1.05v1.05h-1.05zM186.1 94.3h1.05v1.05h-1.05zM192.5 98.4h1.05v1.05h-1.05zM159.2 91.4h1.05v1.05h-1.05zM169.7 61.1h1.05v1.05h-1.05zM160.2 53.1h1.05v1.05h-1.05zM186.6 47.5h1.05v1.05h-1.05zM160.3 72.1h1.05v1.05h-1.05zM190.8 89.1h1.05v1.05h-1.05zM178.4 89.8h1.05v1.05h-1.05zM192.3 61.5h1.05v1.05h-1.05zM180.1 79.1h1.05v1.05h-1.05zM170.7 88.8h1.05v1.05h-1.05zM156.2 65.3h1.05v1.05h-1.05zM133.6 54.2h1.05v1.05h-1.05zM158.5 65.6h1.05v1.05h-1.05zM209.4 78.7h1.05v1.05h-1.05zM176.4 66.2h1.05v1.05h-1.05zM155.6 69.6h1.05v1.05h-1.05zM166.1 74.1h1.05v1.05h-1.05zM178.8 78.5h1.05v1.05h-1.05zM190.8 70.7h1.05v1.05h-1.05zM191.5 79.1h1.05v1.05h-1.05zM168.2 70.7h1.05v1.05h-1.05zM164.4 73.5h1.05v1.05h-1.05zM161.1 80.7h1.05v1.05h-1.05zM182.6 61.2h1.05v1.05h-1.05zM205.2 80.1h1.05v1.05h-1.05zM157.1 77.8h1.05v1.05h-1.05zM166.2 94.7h1.05v1.05h-1.05zM190.4 90.2h1.05v1.05h-1.05zM185.7 83.7h1.05v1.05h-1.05zM198.3 78.8h1.05v1.05h-1.05zM165.4 91.3h1.05v1.05h-1.05zM176.7 92.5h1.05v1.05h-1.05zM173.3 102.1h1.05v1.05h-1.05zM194.9 94.0h1.05v1.05h-1.05zM158.3 84.9h1.05v1.05h-1.05zM183.4 79.5h1.05v1.05h-1.05zM177.2 82.8h1.05v1.05h-1.05zM144.5 80.3h1.05v1.05h-1.05zM172.8 48.0h1.05v1.05h-1.05zM164.1 89.8h1.05v1.05h-1.05zM174.5 89.7h1.05v1.05h-1.05zM160.0 95.6h1.05v1.05h-1.05zM162.8 57.7h1.05v1.05h-1.05zM163.3 81.8h1.05v1.05h-1.05zM151.5 93.7h1.05v1.05h-1.05zM173.4 84.1h1.05v1.05h-1.05zM179.2 84.6h1.05v1.05h-1.05zM195.7 93.6h1.05v1.05h-1.05zM207.3 83.8h1.05v1.05h-1.05zM152.9 49.2h1.05v1.05h-1.05zM168.5 96.4h1.05v1.05h-1.05zM219.0 84.0h1.05v1.05h-1.05zM131.7 78.1h1.05v1.05h-1.05zM178.2 99.0h1.05v1.05h-1.05zM126.0 50.8h1.05v1.05h-1.05zM220.8 89.8h1.05v1.05h-1.05zM166.8 73.6h1.05v1.05h-1.05zM162.1 92.4h1.05v1.05h-1.05zM137.4 55.9h1.05v1.05h-1.05zM196.4 75.9h1.05v1.05h-1.05zM150.8 68.7h1.05v1.05h-1.05zM180.7 78.4h1.05v1.05h-1.05zM170.9 76.3h1.05v1.05h-1.05zM187.3 83.7h1.05v1.05h-1.05zM180.7 98.3h1.05v1.05h-1.05zM165.8 81.9h1.05v1.05h-1.05zM192.3 66.6h1.05v1.05h-1.05zM194.5 68.3h1.05v1.05h-1.05zM138.3 89.7h1.05v1.05h-1.05zM181.9 86.3h1.05v1.05h-1.05zM191.4 89.5h1.05v1.05h-1.05zM167.1 45.3h1.05v1.05h-1.05zM179.3 93.7h1.05v1.05h-1.05zM173.3 59.0h1.05v1.05h-1.05zM162.0 89.6h1.05v1.05h-1.05zM178.6 63.7h1.05v1.05h-1.05zM193.0 92.2h1.05v1.05h-1.05zM170.6 93.0h1.05v1.05h-1.05zM192.6 82.2h1.05v1.05h-1.05zM195.0 62.4h1.05v1.05h-1.05zM169.7 77.4h1.05v1.05h-1.05zM184.2 68.9h1.05v1.05h-1.05zM170.8 91.5h1.05v1.05h-1.05zM174.3 85.8h1.05v1.05h-1.05zM160.6 77.3h1.05v1.05h-1.05zM145.5 64.1h1.05v1.05h-1.05zM160.4 65.6h1.05v1.05h-1.05zM175.9 86.8h1.05v1.05h-1.05zM163.6 67.3h1.05v1.05h-1.05zM159.1 76.9h1.05v1.05h-1.05zM162.5 80.1h1.05v1.05h-1.05zM142.9 74.5h1.05v1.05h-1.05zM162.0 52.0h1.05v1.05h-1.05zM157.9 78.6h1.05v1.05h-1.05zM207.2 99.5h1.05v1.05h-1.05zM210.4 97.7h1.05v1.05h-1.05zM203.1 93.5h1.05v1.05h-1.05zM185.9 87.9h1.05v1.05h-1.05zM142.6 59.3h1.05v1.05h-1.05zM187.1 74.5h1.05v1.05h-1.05zM181.2 65.4h1.05v1.05h-1.05zM180.2 83.7h1.05v1.05h-1.05zM166.6 60.3h1.05v1.05h-1.05zM180.5 100.8h1.05v1.05h-1.05zM187.6 76.3h1.05v1.05h-1.05zM187.8 74.4h1.05v1.05h-1.05zM158.3 80.5h1.05v1.05h-1.05zM140.9 71.4h1.05v1.05h-1.05zM179.2 59.4h1.05v1.05h-1.05zM180.3 75.3h1.05v1.05h-1.05zM170.2 85.5h1.05v1.05h-1.05zM176.8 68.2h1.05v1.05h-1.05zM195.4 80.9h1.05v1.05h-1.05zM178.8 72.6h1.05v1.05h-1.05zM197.0 79.6h1.05v1.05h-1.05zM163.3 87.0h1.05v1.05h-1.05zM190.4 57.3h1.05v1.05h-1.05zM168.1 64.0h1.05v1.05h-1.05zM179.6 99.6h1.05v1.05h-1.05zM184.0 68.4h1.05v1.05h-1.05zM190.7 92.5h1.05v1.05h-1.05zM144.4 54.4h1.05v1.05h-1.05zM183.3 94.8h1.05v1.05h-1.05zM158.4 89.3h1.05v1.05h-1.05zM192.7 84.4h1.05v1.05h-1.05zM136.3 60.8h1.05v1.05h-1.05zM173.7 80.7h1.05v1.05h-1.05zM187.3 87.4h1.05v1.05h-1.05zM137.4 64.5h1.05v1.05h-1.05zM163.0 70.2h1.05v1.05h-1.05zM163.7 60.7h1.05v1.05h-1.05zM183.7 88.0h1.05v1.05h-1.05zM195.5 100.3h1.05v1.05h-1.05zM162.7 56.6h1.05v1.05h-1.05zM130.4 72.0h1.05v1.05h-1.05zM169.5 73.7h1.05v1.05h-1.05zM188.1 92.1h1.05v1.05h-1.05zM175.3 94.9h1.05v1.05h-1.05zM162.2 67.2h1.05v1.05h-1.05zM195.6 58.7h1.05v1.05h-1.05zM198.4 76.6h1.05v1.05h-1.05zM122.9 50.0h1.05v1.05h-1.05zM195.9 87.1h1.05v1.05h-1.05zM194.0 82.7h1.05v1.05h-1.05zM171.9 88.6h1.05v1.05h-1.05zM159.2 67.4h1.05v1.05h-1.05zM177.2 57.6h1.05v1.05h-1.05zM188.6 84.5h1.05v1.05h-1.05zM165.0 72.0h1.05v1.05h-1.05zM196.1 78.5h1.05v1.05h-1.05zM183.3 88.7h1.05v1.05h-1.05zM197.1 68.4h1.05v1.05h-1.05zM159.0 68.5h1.05v1.05h-1.05zM166.6 54.5h1.05v1.05h-1.05zM176.0 50.9h1.05v1.05h-1.05zM160.9 61.5h1.05v1.05h-1.05zM151.3 85.3h1.05v1.05h-1.05zM136.0 62.1h1.05v1.05h-1.05zM177.3 78.9h1.05v1.05h-1.05zM175.4 79.0h1.05v1.05h-1.05zM180.4 65.2h1.05v1.05h-1.05zM167.3 64.8h1.05v1.05h-1.05zM170.4 78.8h1.05v1.05h-1.05zM144.0 71.2h1.05v1.05h-1.05zM175.7 72.8h1.05v1.05h-1.05zM167.8 81.3h1.05v1.05h-1.05zM183.4 55.0h1.05v1.05h-1.05zM197.7 85.5h1.05v1.05h-1.05zM158.2 89.1h1.05v1.05h-1.05zM153.0 48.4h1.05v1.05h-1.05zM157.6 47.1h1.05v1.05h-1.05zM181.5 81.4h1.05v1.05h-1.05zM181.0 83.4h1.05v1.05h-1.05zM167.2 69.5h1.05v1.05h-1.05zM182.4 94.3h1.05v1.05h-1.05zM153.2 88.4h1.05v1.05h-1.05zM188.9 87.4h1.05v1.05h-1.05zM207.1 86.8h1.05v1.05h-1.05zM180.1 75.3h1.05v1.05h-1.05zM184.5 52.3h1.05v1.05h-1.05zM156.1 76.7h1.05v1.05h-1.05zM158.4 82.8h1.05v1.05h-1.05zM175.3 63.1h1.05v1.05h-1.05zM180.5 79.7h1.05v1.05h-1.05zM155.0 60.7h1.05v1.05h-1.05zM210.0 79.3h1.05v1.05h-1.05zM198.9 90.5h1.05v1.05h-1.05zM157.2 50.5h1.05v1.05h-1.05zM169.3 90.5h1.05v1.05h-1.05zM194.4 84.0h1.05v1.05h-1.05zM149.9 80.6h1.05v1.05h-1.05zM147.7 73.3h1.05v1.05h-1.05zM157.0 72.2h1.05v1.05h-1.05zM155.1 81.0h1.05v1.05h-1.05zM200.6 64.1h1.05v1.05h-1.05zM191.9 92.5h1.05v1.05h-1.05zM135.3 73.1h1.05v1.05h-1.05zM193.7 91.2h1.05v1.05h-1.05zM192.6 80.3h1.05v1.05h-1.05zM183.7 88.1h1.05v1.05h-1.05zM172.3 81.6h1.05v1.05h-1.05zM188.6 97.5h1.05v1.05h-1.05zM179.9 42.9h1.05v1.05h-1.05zM184.4 61.0h1.05v1.05h-1.05zM181.3 60.7h1.05v1.05h-1.05zM198.0 84.8h1.05v1.05h-1.05zM193.4 81.8h1.05v1.05h-1.05zM178.0 40.2h1.05v1.05h-1.05zM176.6 86.9h1.05v1.05h-1.05zM186.6 77.3h1.05v1.05h-1.05zM171.2 53.8h1.05v1.05h-1.05zM177.2 84.6h1.05v1.05h-1.05zM172.8 86.9h1.05v1.05h-1.05zM193.5 100.8h1.05v1.05h-1.05zM151.7 63.0h1.05v1.05h-1.05zM193.2 79.9h1.05v1.05h-1.05zM136.6 78.2h1.05v1.05h-1.05zM175.1 63.7h1.05v1.05h-1.05zM182.8 87.8h1.05v1.05h-1.05zM148.1 83.3h1.05v1.05h-1.05zM153.4 64.4h1.05v1.05h-1.05zM161.9 71.3h1.05v1.05h-1.05zM189.6 57.3h1.05v1.05h-1.05zM184.0 87.2h1.05v1.05h-1.05zM199.8 84.0h1.05v1.05h-1.05zM180.7 57.3h1.05v1.05h-1.05zM153.5 70.9h1.05v1.05h-1.05zM135.5 78.0h1.05v1.05h-1.05zM182.5 75.4h1.05v1.05h-1.05zM149.2 64.0h1.05v1.05h-1.05zM218.0 85.2h1.05v1.05h-1.05zM178.8 86.9h1.05v1.05h-1.05zM177.9 67.5h1.05v1.05h-1.05zM180.5 95.3h1.05v1.05h-1.05zM140.2 60.7h1.05v1.05h-1.05zM154.1 64.4h1.05v1.05h-1.05zM142.8 78.8h1.05v1.05h-1.05zM170.4 82.7h1.05v1.05h-1.05zM153.8 87.6h1.05v1.05h-1.05zM166.0 63.6h1.05v1.05h-1.05zM183.1 92.7h1.05v1.05h-1.05zM199.1 88.3h1.05v1.05h-1.05zM189.5 76.1h1.05v1.05h-1.05zM164.7 86.8h1.05v1.05h-1.05zM184.8 77.2h1.05v1.05h-1.05zM159.3 96.6h1.05v1.05h-1.05zM143.6 84.4h1.05v1.05h-1.05zM189.0 80.4h1.05v1.05h-1.05zM142.0 71.1h1.05v1.05h-1.05zM154.5 86.5h1.05v1.05h-1.05zM144.4 71.9h1.05v1.05h-1.05zM159.8 89.4h1.05v1.05h-1.05zM153.9 84.7h1.05v1.05h-1.05zM187.7 87.0h1.05v1.05h-1.05zM157.0 80.5h1.05v1.05h-1.05zM176.4 86.9h1.05v1.05h-1.05zM130.1 59.7h1.05v1.05h-1.05zM198.2 95.0h1.05v1.05h-1.05zM202.1 82.6h1.05v1.05h-1.05zM168.8 71.6h1.05v1.05h-1.05zM197.6 74.8h1.05v1.05h-1.05zM132.7 50.5h1.05v1.05h-1.05zM167.4 90.6h1.05v1.05h-1.05zM171.1 67.2h1.05v1.05h-1.05zM168.9 83.0h1.05v1.05h-1.05zM153.1 68.6h1.05v1.05h-1.05zM162.9 89.4h1.05v1.05h-1.05zM176.2 65.5h1.05v1.05h-1.05zM186.6 91.3h1.05v1.05h-1.05zM184.9 91.5h1.05v1.05h-1.05zM189.6 91.6h1.05v1.05h-1.05zM169.5 71.1h1.05v1.05h-1.05zM125.7 59.7h1.05v1.05h-1.05zM184.4 69.5h1.05v1.05h-1.05zM184.3 99.6h1.05v1.05h-1.05zM169.2 55.7h1.05v1.05h-1.05zM191.5 90.0h1.05v1.05h-1.05zM178.3 57.4h1.05v1.05h-1.05zM157.7 64.2h1.05v1.05h-1.05zM140.3 74.9h1.05v1.05h-1.05zM164.9 95.8h1.05v1.05h-1.05zM143.0 70.1h1.05v1.05h-1.05zM188.9 73.2h1.05v1.05h-1.05zM180.1 45.1h1.05v1.05h-1.05zM154.7 54.1h1.05v1.05h-1.05zM175.5 94.5h1.05v1.05h-1.05zM192.4 86.6h1.05v1.05h-1.05zM187.5 67.3h1.05v1.05h-1.05zM163.6 92.6h1.05v1.05h-1.05zM189.2 54.4h1.05v1.05h-1.05zM175.9 74.8h1.05v1.05h-1.05zM199.6 80.9h1.05v1.05h-1.05zM176.3 93.1h1.05v1.05h-1.05zM173.3 73.4h1.05v1.05h-1.05zM171.5 68.9h1.05v1.05h-1.05zM173.5 99.2h1.05v1.05h-1.05zM177.0 87.1h1.05v1.05h-1.05zM159.8 58.6h1.05v1.05h-1.05zM147.2 75.1h1.05v1.05h-1.05zM161.0 93.4h1.05v1.05h-1.05zM166.6 57.2h1.05v1.05h-1.05zM167.5 84.4h1.05v1.05h-1.05zM139.0 74.4h1.05v1.05h-1.05zM189.8 46.5h1.05v1.05h-1.05zM166.7 74.1h1.05v1.05h-1.05zM168.1 86.7h1.05v1.05h-1.05zM201.7 100.4h1.05v1.05h-1.05zM168.3 70.9h1.05v1.05h-1.05zM179.1 82.0h1.05v1.05h-1.05zM152.1 78.1h1.05v1.05h-1.05zM170.0 61.8h1.05v1.05h-1.05zM169.2 92.1h1.05v1.05h-1.05zM167.5 92.3h1.05v1.05h-1.05zM156.3 74.4h1.05v1.05h-1.05zM179.9 69.5h1.05v1.05h-1.05zM171.1 75.4h1.05v1.05h-1.05zM162.7 65.8h1.05v1.05h-1.05zM177.7 68.6h1.05v1.05h-1.05zM190.2 107.0h1.05v1.05h-1.05zM187.8 88.9h1.05v1.05h-1.05zM128.2 66.5h1.05v1.05h-1.05zM187.9 83.1h1.05v1.05h-1.05zM182.4 66.3h1.05v1.05h-1.05zM130.3 56.8h1.05v1.05h-1.05zM174.8 62.1h1.05v1.05h-1.05zM206.0 92.5h1.05v1.05h-1.05zM185.2 71.5h1.05v1.05h-1.05zM190.4 80.0h1.05v1.05h-1.05zM172.3 67.3h1.05v1.05h-1.05zM146.9 59.9h1.05v1.05h-1.05zM201.0 79.2h1.05v1.05h-1.05zM136.5 67.4h1.05v1.05h-1.05zM177.4 70.1h1.05v1.05h-1.05zM146.9 66.0h1.05v1.05h-1.05zM190.3 74.9h1.05v1.05h-1.05zM165.3 91.3h1.05v1.05h-1.05zM177.3 78.0h1.05v1.05h-1.05zM165.9 44.2h1.05v1.05h-1.05zM169.2 84.7h1.05v1.05h-1.05zM191.9 94.4h1.05v1.05h-1.05zM177.7 80.3h1.05v1.05h-1.05zM181.6 81.8h1.05v1.05h-1.05zM150.4 61.5h1.05v1.05h-1.05zM189.5 83.1h1.05v1.05h-1.05zM200.4 94.0h1.05v1.05h-1.05zM160.5 88.6h1.05v1.05h-1.05zM160.2 59.2h1.05v1.05h-1.05zM157.6 75.8h1.05v1.05h-1.05zM194.7 90.1h1.05v1.05h-1.05zM195.7 86.4h1.05v1.05h-1.05zM186.9 71.9h1.05v1.05h-1.05zM188.0 81.6h1.05v1.05h-1.05zM194.7 72.7h1.05v1.05h-1.05zM116.0 69.7h1.05v1.05h-1.05zM184.6 51.5h1.05v1.05h-1.05zM170.1 93.8h1.05v1.05h-1.05zM193.5 78.3h1.05v1.05h-1.05zM188.9 65.4h1.05v1.05h-1.05zM178.8 58.3h1.05v1.05h-1.05zM167.3 80.0h1.05v1.05h-1.05zM202.6 71.2h1.05v1.05h-1.05zM152.2 41.6h1.05v1.05h-1.05zM182.2 80.1h1.05v1.05h-1.05zM172.4 74.6h1.05v1.05h-1.05zM197.8 89.7h1.05v1.05h-1.05zM177.7 59.8h1.05v1.05h-1.05zM140.5 66.5h1.05v1.05h-1.05zM163.2 83.8h1.05v1.05h-1.05zM183.6 78.3h1.05v1.05h-1.05zM209.4 82.9h1.05v1.05h-1.05zM191.9 86.0h1.05v1.05h-1.05zM190.7 59.3h1.05v1.05h-1.05zM164.6 97.3h1.05v1.05h-1.05zM183.2 54.0h1.05v1.05h-1.05zM196.8 70.2h1.05v1.05h-1.05zM183.9 75.1h1.05v1.05h-1.05zM158.7 72.7h1.05v1.05h-1.05zM176.2 60.8h1.05v1.05h-1.05zM147.8 70.3h1.05v1.05h-1.05zM172.7 65.4h1.05v1.05h-1.05zM161.3 62.3h1.05v1.05h-1.05zM188.9 48.2h1.05v1.05h-1.05zM172.5 54.9h1.05v1.05h-1.05zM192.1 84.2h1.05v1.05h-1.05zM157.6 88.5h1.05v1.05h-1.05zM149.6 79.2h1.05v1.05h-1.05zM199.3 74.1h1.05v1.05h-1.05zM136.0 75.3h1.05v1.05h-1.05zM159.6 83.1h1.05v1.05h-1.05zM165.0 64.2h1.05v1.05h-1.05zM173.3 61.2h1.05v1.05h-1.05zM190.5 85.9h1.05v1.05h-1.05zM194.2 93.6h1.05v1.05h-1.05zM186.5 96.1h1.05v1.05h-1.05zM177.2 81.8h1.05v1.05h-1.05zM197.7 94.4h1.05v1.05h-1.05zM163.8 68.9h1.05v1.05h-1.05zM151.1 87.7h1.05v1.05h-1.05zM191.0 95.6h1.05v1.05h-1.05zM163.6 51.2h1.05v1.05h-1.05zM138.6 73.6h1.05v1.05h-1.05zM209.6 91.0h1.05v1.05h-1.05zM177.1 58.0h1.05v1.05h-1.05zM165.7 86.9h1.05v1.05h-1.05zM167.4 91.2h1.05v1.05h-1.05zM184.3 80.6h1.05v1.05h-1.05zM185.6 66.9h1.05v1.05h-1.05zM147.2 73.0h1.05v1.05h-1.05zM138.3 72.5h1.05v1.05h-1.05zM153.5 65.8h1.05v1.05h-1.05zM167.4 68.5h1.05v1.05h-1.05zM154.7 83.2h1.05v1.05h-1.05zM183.4 93.0h1.05v1.05h-1.05zM163.0 81.2h1.05v1.05h-1.05zM180.4 59.9h1.05v1.05h-1.05zM189.2 94.3h1.05v1.05h-1.05zM164.5 72.9h1.05v1.05h-1.05zM158.2 86.3h1.05v1.05h-1.05zM188.0 60.9h1.05v1.05h-1.05zM161.8 91.6h1.05v1.05h-1.05zM157.4 66.3h1.05v1.05h-1.05zM192.7 89.9h1.05v1.05h-1.05zM165.8 82.1h1.05v1.05h-1.05zM172.3 75.5h1.05v1.05h-1.05zM187.4 89.4h1.05v1.05h-1.05zM175.7 71.1h1.05v1.05h-1.05zM186.1 89.0h1.05v1.05h-1.05zM152.5 79.1h1.05v1.05h-1.05zM164.2 64.0h1.05v1.05h-1.05zM164.1 54.4h1.05v1.05h-1.05zM175.6 69.3h1.05v1.05h-1.05zM125.9 70.7h1.05v1.05h-1.05zM185.2 59.3h1.05v1.05h-1.05zM155.8 56.9h1.05v1.05h-1.05zM194.9 74.3h1.05v1.05h-1.05zM174.4 79.8h1.05v1.05h-1.05zM167.4 71.7h1.05v1.05h-1.05zM186.0 83.9h1.05v1.05h-1.05zM153.9 81.5h1.05v1.05h-1.05zM179.7 87.7h1.05v1.05h-1.05zM182.0 83.8h1.05v1.05h-1.05zM179.1 73.4h1.05v1.05h-1.05zM181.3 91.9h1.05v1.05h-1.05zM179.6 84.5h1.05v1.05h-1.05zM187.5 88.6h1.05v1.05h-1.05zM173.4 74.2h1.05v1.05h-1.05zM182.1 52.2h1.05v1.05h-1.05zM198.6 72.9h1.05v1.05h-1.05zM147.1 60.1h1.05v1.05h-1.05zM209.0 86.8h1.05v1.05h-1.05zM147.0 76.8h1.05v1.05h-1.05zM148.3 70.5h1.05v1.05h-1.05zM200.3 76.9h1.05v1.05h-1.05zM173.2 78.3h1.05v1.05h-1.05zM170.8 99.3h1.05v1.05h-1.05zM189.6 64.9h1.05v1.05h-1.05zM181.0 60.0h1.05v1.05h-1.05zM158.6 60.3h1.05v1.05h-1.05zM174.3 72.8h1.05v1.05h-1.05zM157.6 57.9h1.05v1.05h-1.05zM163.5 74.9h1.05v1.05h-1.05zM140.5 68.7h1.05v1.05h-1.05zM167.7 76.9h1.05v1.05h-1.05zM180.8 86.2h1.05v1.05h-1.05zM150.9 63.2h1.05v1.05h-1.05zM174.8 72.9h1.05v1.05h-1.05zM153.7 91.0h1.05v1.05h-1.05zM157.8 86.0h1.05v1.05h-1.05zM152.1 83.3h1.05v1.05h-1.05zM143.1 54.8h1.05v1.05h-1.05zM177.1 68.7h1.05v1.05h-1.05zM185.8 83.6h1.05v1.05h-1.05zM189.9 78.2h1.05v1.05h-1.05zM173.6 81.7h1.05v1.05h-1.05zM178.9 70.8h1.05v1.05h-1.05zM176.6 45.5h1.05v1.05h-1.05zM198.0 80.1h1.05v1.05h-1.05zM172.8 74.9h1.05v1.05h-1.05zM131.0 82.9h1.05v1.05h-1.05zM196.5 77.1h1.05v1.05h-1.05zM181.5 69.4h1.05v1.05h-1.05zM165.9 69.1h1.05v1.05h-1.05zM174.6 76.2h1.05v1.05h-1.05zM166.6 85.5h1.05v1.05h-1.05zM185.3 78.1h1.05v1.05h-1.05zM135.0 59.2h1.05v1.05h-1.05zM141.2 65.6h1.05v1.05h-1.05zM170.3 58.4h1.05v1.05h-1.05zM149.7 68.3h1.05v1.05h-1.05zM186.8 45.1h1.05v1.05h-1.05zM170.7 104.1h1.05v1.05h-1.05zM171.9 77.6h1.05v1.05h-1.05zM158.5 75.3h1.05v1.05h-1.05zM182.8 64.9h1.05v1.05h-1.05zM166.0 65.5h1.05v1.05h-1.05zM176.2 79.2h1.05v1.05h-1.05zM174.8 60.6h1.05v1.05h-1.05zM171.7 66.9h1.05v1.05h-1.05zM171.9 90.2h1.05v1.05h-1.05zM154.0 74.8h1.05v1.05h-1.05zM153.4 81.5h1.05v1.05h-1.05zM176.2 86.6h1.05v1.05h-1.05zM135.0 79.0h1.05v1.05h-1.05zM200.5 81.9h1.05v1.05h-1.05zM206.6 83.1h1.05v1.05h-1.05zM168.6 59.4h1.05v1.05h-1.05zM167.6 86.6h1.05v1.05h-1.05zM180.7 79.0h1.05v1.05h-1.05zM144.3 44.7h1.05v1.05h-1.05zM169.2 79.4h1.05v1.05h-1.05zM205.7 79.4h1.05v1.05h-1.05zM146.1 72.0h1.05v1.05h-1.05zM177.8 91.9h1.05v1.05h-1.05zM175.9 68.9h1.05v1.05h-1.05zM188.3 90.5h1.05v1.05h-1.05zM208.6 89.6h1.05v1.05h-1.05zM171.5 61.7h1.05v1.05h-1.05zM178.7 92.5h1.05v1.05h-1.05zM183.8 86.4h1.05v1.05h-1.05zM168.0 66.9h1.05v1.05h-1.05zM172.5 88.5h1.05v1.05h-1.05zM179.1 57.5h1.05v1.05h-1.05zM162.2 85.3h1.05v1.05h-1.05zM191.7 96.9h1.05v1.05h-1.05zM185.8 85.6h1.05v1.05h-1.05zM149.6 74.6h1.05v1.05h-1.05zM134.7 72.1h1.05v1.05h-1.05zM167.8 78.3h1.05v1.05h-1.05zM147.4 77.5h1.05v1.05h-1.05zM165.3 91.9h1.05v1.05h-1.05zM169.5 64.1h1.05v1.05h-1.05zM180.1 87.7h1.05v1.05h-1.05zM166.0 50.9h1.05v1.05h-1.05zM146.4 75.8h1.05v1.05h-1.05zM180.8 62.2h1.05v1.05h-1.05zM165.8 85.9h1.05v1.05h-1.05zM177.4 91.1h1.05v1.05h-1.05zM145.2 52.1h1.05v1.05h-1.05zM160.1 49.1h1.05v1.05h-1.05zM153.0 76.9h1.05v1.05h-1.05zM176.6 92.4h1.05v1.05h-1.05zM162.9 69.2h1.05v1.05h-1.05zM157.1 76.6h1.05v1.05h-1.05zM188.2 75.2h1.05v1.05h-1.05zM187.9 44.7h1.05v1.05h-1.05zM188.3 88.8h1.05v1.05h-1.05zM146.4 75.9h1.05v1.05h-1.05zM207.7 86.2h1.05v1.05h-1.05zM191.1 85.1h1.05v1.05h-1.05zM194.5 70.1h1.05v1.05h-1.05zM201.7 76.6h1.05v1.05h-1.05zM181.6 91.4h1.05v1.05h-1.05zM173.7 68.7h1.05v1.05h-1.05zM179.3 72.4h1.05v1.05h-1.05zM122.9 76.5h1.05v1.05h-1.05zM185.8 75.7h1.05v1.05h-1.05zM179.5 64.6h1.05v1.05h-1.05zM164.8 58.8h1.05v1.05h-1.05zM191.0 95.5h1.05v1.05h-1.05zM193.4 82.5h1.05v1.05h-1.05zM164.5 84.6h1.05v1.05h-1.05zM184.0 54.6h1.05v1.05h-1.05zM167.1 56.7h1.05v1.05h-1.05zM156.9 68.5h1.05v1.05h-1.05zM192.1 82.5h1.05v1.05h-1.05zM189.9 89.7h1.05v1.05h-1.05zM158.9 59.0h1.05v1.05h-1.05zM194.5 89.6h1.05v1.05h-1.05zM149.4 83.9h1.05v1.05h-1.05zM196.2 75.6h1.05v1.05h-1.05zM178.3 68.7h1.05v1.05h-1.05zM222.2 85.0h1.05v1.05h-1.05zM185.2 86.6h1.05v1.05h-1.05zM193.1 80.8h1.05v1.05h-1.05zM189.5 70.2h1.05v1.05h-1.05zM169.8 84.1h1.05v1.05h-1.05zM166.1 78.1h1.05v1.05h-1.05zM180.2 80.3h1.05v1.05h-1.05zM181.1 74.6h1.05v1.05h-1.05zM172.9 74.6h1.05v1.05h-1.05zM158.9 64.7h1.05v1.05h-1.05zM169.1 78.2h1.05v1.05h-1.05zM152.3 87.6h1.05v1.05h-1.05zM185.0 75.6h1.05v1.05h-1.05zM160.2 88.4h1.05v1.05h-1.05zM173.2 75.7h1.05v1.05h-1.05zM167.1 105.8h1.05v1.05h-1.05zM195.2 82.8h1.05v1.05h-1.05zM161.1 77.9h1.05v1.05h-1.05zM161.2 72.2h1.05v1.05h-1.05zM172.4 42.1h1.05v1.05h-1.05zM200.4 81.0h1.05v1.05h-1.05zM190.7 91.8h1.05v1.05h-1.05zM182.9 84.7h1.05v1.05h-1.05zM144.1 56.3h1.05v1.05h-1.05zM194.5 79.0h1.05v1.05h-1.05zM176.6 65.7h1.05v1.05h-1.05zM190.0 78.6h1.05v1.05h-1.05zM197.5 86.2h1.05v1.05h-1.05zM153.6 75.5h1.05v1.05h-1.05zM162.6 63.5h1.05v1.05h-1.05zM178.5 66.4h1.05v1.05h-1.05zM178.3 110.0h1.05v1.05h-1.05zM180.0 83.3h1.05v1.05h-1.05zM137.5 70.8h1.05v1.05h-1.05zM206.4 83.9h1.05v1.05h-1.05zM181.1 83.8h1.05v1.05h-1.05zM141.5 59.2h1.05v1.05h-1.05zM162.5 78.3h1.05v1.05h-1.05zM160.5 63.7h1.05v1.05h-1.05zM165.0 64.8h1.05v1.05h-1.05zM134.5 79.1h1.05v1.05h-1.05zM139.7 70.3h1.05v1.05h-1.05zM139.6 77.8h1.05v1.05h-1.05zM199.8 80.4h1.05v1.05h-1.05zM157.9 75.9h1.05v1.05h-1.05zM169.4 64.9h1.05v1.05h-1.05zM191.3 79.8h1.05v1.05h-1.05zM175.0 96.2h1.05v1.05h-1.05zM192.4 78.5h1.05v1.05h-1.05zM206.3 82.7h1.05v1.05h-1.05zM160.8 64.4h1.05v1.05h-1.05zM184.5 94.0h1.05v1.05h-1.05zM157.3 95.6h1.05v1.05h-1.05zM177.1 74.1h1.05v1.05h-1.05zM129.3 73.7h1.05v1.05h-1.05zM160.4 80.9h1.05v1.05h-1.05zM179.2 47.0h1.05v1.05h-1.05zM163.3 97.3h1.05v1.05h-1.05zM162.0 65.3h1.05v1.05h-1.05zM175.2 75.8h1.05v1.05h-1.05zM178.2 63.1h1.05v1.05h-1.05zM186.0 87.7h1.05v1.05h-1.05zM180.0 80.2h1.05v1.05h-1.05zM181.3 89.9h1.05v1.05h-1.05zM165.5 73.6h1.05v1.05h-1.05zM156.2 99.7h1.05v1.05h-1.05zM188.9 77.5h1.05v1.05h-1.05zM194.6 92.8h1.05v1.05h-1.05zM183.8 75.5h1.05v1.05h-1.05zM132.9 58.2h1.05v1.05h-1.05zM155.4 80.4h1.05v1.05h-1.05zM174.1 88.7h1.05v1.05h-1.05zM176.8 62.8h1.05v1.05h-1.05zM140.4 78.0h1.05v1.05h-1.05zM157.1 82.8h1.05v1.05h-1.05zM170.7 84.6h1.05v1.05h-1.05zM175.9 85.4h1.05v1.05h-1.05zM168.2 71.5h1.05v1.05h-1.05zM171.3 73.4h1.05v1.05h-1.05zM154.3 90.3h1.05v1.05h-1.05zM150.8 81.7h1.05v1.05h-1.05zM187.0 75.9h1.05v1.05h-1.05zM167.9 103.8h1.05v1.05h-1.05zM165.1 67.6h1.05v1.05h-1.05zM140.4 87.6h1.05v1.05h-1.05zM195.4 74.2h1.05v1.05h-1.05zM185.3 75.5h1.05v1.05h-1.05zM155.2 79.9h1.05v1.05h-1.05zM165.8 90.9h1.05v1.05h-1.05zM190.0 79.9h1.05v1.05h-1.05zM181.5 86.6h1.05v1.05h-1.05zM166.5 76.5h1.05v1.05h-1.05zM183.3 86.2h1.05v1.05h-1.05zM177.0 90.7h1.05v1.05h-1.05zM187.9 86.7h1.05v1.05h-1.05zM168.3 89.3h1.05v1.05h-1.05zM167.1 86.3h1.05v1.05h-1.05zM150.6 78.9h1.05v1.05h-1.05zM149.7 76.8h1.05v1.05h-1.05zM188.7 102.6h1.05v1.05h-1.05zM165.7 98.5h1.05v1.05h-1.05zM183.0 68.2h1.05v1.05h-1.05zM169.4 81.5h1.05v1.05h-1.05zM201.2 88.0h1.05v1.05h-1.05zM172.3 89.7h1.05v1.05h-1.05zM130.1 58.1h1.05v1.05h-1.05zM180.7 66.4h1.05v1.05h-1.05zM172.9 71.6h1.05v1.05h-1.05zM166.9 87.7h1.05v1.05h-1.05zM181.8 92.8h1.05v1.05h-1.05zM185.0 79.5h1.05v1.05h-1.05zM170.8 68.9h1.05v1.05h-1.05zM169.9 92.0h1.05v1.05h-1.05zM214.2 88.0h1.05v1.05h-1.05zM182.2 46.0h1.05v1.05h-1.05zM168.8 95.1h1.05v1.05h-1.05zM196.2 83.4h1.05v1.05h-1.05zM207.2 75.6h1.05v1.05h-1.05zM158.3 66.4h1.05v1.05h-1.05zM193.6 81.5h1.05v1.05h-1.05zM175.4 70.3h1.05v1.05h-1.05zM206.0 88.3h1.05v1.05h-1.05zM173.9 83.5h1.05v1.05h-1.05zM172.5 65.6h1.05v1.05h-1.05zM154.0 84.8h1.05v1.05h-1.05zM173.9 54.6h1.05v1.05h-1.05zM179.1 80.1h1.05v1.05h-1.05zM146.3 69.1h1.05v1.05h-1.05zM178.1 71.2h1.05v1.05h-1.05zM174.6 82.5h1.05v1.05h-1.05zM159.7 80.2h1.05v1.05h-1.05zM200.8 85.9h1.05v1.05h-1.05zM170.7 53.5h1.05v1.05h-1.05zM184.5 86.2h1.05v1.05h-1.05zM175.2 47.6h1.05v1.05h-1.05zM186.1 87.0h1.05v1.05h-1.05zM192.8 75.6h1.05v1.05h-1.05zM170.2 49.6h1.05v1.05h-1.05zM188.9 71.0h1.05v1.05h-1.05zM159.0 75.0h1.05v1.05h-1.05zM146.8 72.7h1.05v1.05h-1.05zM186.9 105.2h1.05v1.05h-1.05zM173.2 44.4h1.05v1.05h-1.05zM187.9 88.6h1.05v1.05h-1.05zM200.5 86.4h1.05v1.05h-1.05zM175.3 78.1h1.05v1.05h-1.05zM163.0 80.6h1.05v1.05h-1.05zM164.6 69.6h1.05v1.05h-1.05zM162.1 85.7h1.05v1.05h-1.05zM152.5 80.7h1.05v1.05h-1.05zM182.5 76.2h1.05v1.05h-1.05zM174.9 69.2h1.05v1.05h-1.05zM145.3 79.9h1.05v1.05h-1.05zM178.2 80.4h1.05v1.05h-1.05zM166.0 66.5h1.05v1.05h-1.05zM172.3 77.3h1.05v1.05h-1.05zM183.9 66.8h1.05v1.05h-1.05zM170.8 59.3h1.05v1.05h-1.05zM177.4 80.2h1.05v1.05h-1.05zM181.6 77.1h1.05v1.05h-1.05zM180.6 50.0h1.05v1.05h-1.05zM187.6 92.3h1.05v1.05h-1.05zM182.2 73.2h1.05v1.05h-1.05zM191.1 95.1h1.05v1.05h-1.05zM168.1 62.0h1.05v1.05h-1.05zM175.5 49.6h1.05v1.05h-1.05zM189.8 81.2h1.05v1.05h-1.05zM165.3 69.0h1.05v1.05h-1.05zM196.3 93.0h1.05v1.05h-1.05zM134.3 68.6h1.05v1.05h-1.05zM187.4 101.1h1.05v1.05h-1.05zM166.1 100.0h1.05v1.05h-1.05zM195.7 66.7h1.05v1.05h-1.05zM210.7 92.1h1.05v1.05h-1.05zM185.9 92.7h1.05v1.05h-1.05zM129.5 50.3h1.05v1.05h-1.05zM167.9 63.3h1.05v1.05h-1.05zM182.7 74.7h1.05v1.05h-1.05zM170.1 69.4h1.05v1.05h-1.05zM157.6 68.0h1.05v1.05h-1.05zM171.2 63.5h1.05v1.05h-1.05zM185.7 93.1h1.05v1.05h-1.05zM141.1 94.1h1.05v1.05h-1.05zM175.3 104.1h1.05v1.05h-1.05zM186.3 91.1h1.05v1.05h-1.05zM179.8 66.9h1.05v1.05h-1.05zM160.5 55.3h1.05v1.05h-1.05zM186.2 64.1h1.05v1.05h-1.05zM166.5 85.3h1.05v1.05h-1.05zM193.9 64.1h1.05v1.05h-1.05zM182.9 57.7h1.05v1.05h-1.05zM191.5 74.6h1.05v1.05h-1.05zM216.4 79.0h1.05v1.05h-1.05zM154.6 58.6h1.05v1.05h-1.05zM197.4 88.2h1.05v1.05h-1.05zM160.7 90.5h1.05v1.05h-1.05zM190.4 72.9h1.05v1.05h-1.05zM178.0 58.2h1.05v1.05h-1.05zM176.0 66.8h1.05v1.05h-1.05zM175.4 74.2h1.05v1.05h-1.05zM185.6 79.6h1.05v1.05h-1.05zM185.4 74.0h1.05v1.05h-1.05zM169.4 81.0h1.05v1.05h-1.05zM184.6 87.9h1.05v1.05h-1.05zM191.3 96.2h1.05v1.05h-1.05zM221.0 83.7h1.05v1.05h-1.05zM164.0 84.0h1.05v1.05h-1.05zM188.4 82.8h1.05v1.05h-1.05zM148.2 60.8h1.05v1.05h-1.05zM186.6 67.6h1.05v1.05h-1.05zM172.9 91.8h1.05v1.05h-1.05zM172.6 91.4h1.05v1.05h-1.05zM197.0 78.7h1.05v1.05h-1.05zM192.4 91.1h1.05v1.05h-1.05zM167.7 89.2h1.05v1.05h-1.05zM177.2 76.8h1.05v1.05h-1.05zM177.0 90.0h1.05v1.05h-1.05zM207.0 89.1h1.05v1.05h-1.05zM189.6 100.5h1.05v1.05h-1.05zM157.9 69.7h1.05v1.05h-1.05zM181.3 79.7h1.05v1.05h-1.05zM193.6 70.3h1.05v1.05h-1.05zM189.3 77.2h1.05v1.05h-1.05zM154.3 42.9h1.05v1.05h-1.05zM153.6 65.5h1.05v1.05h-1.05zM162.6 63.2h1.05v1.05h-1.05zM136.1 73.1h1.05v1.05h-1.05zM161.2 92.1h1.05v1.05h-1.05zM173.5 79.5h1.05v1.05h-1.05zM187.8 90.3h1.05v1.05h-1.05zM177.2 73.4h1.05v1.05h-1.05zM171.7 75.4h1.05v1.05h-1.05zM179.3 88.3h1.05v1.05h-1.05zM182.2 90.7h1.05v1.05h-1.05zM180.7 84.9h1.05v1.05h-1.05zM186.6 59.6h1.05v1.05h-1.05zM167.2 66.9h1.05v1.05h-1.05zM179.0 93.6h1.05v1.05h-1.05zM181.2 69.8h1.05v1.05h-1.05zM184.6 80.8h1.05v1.05h-1.05zM187.3 75.8h1.05v1.05h-1.05zM185.0 56.2h1.05v1.05h-1.05zM164.1 63.6h1.05v1.05h-1.05zM189.6 94.4h1.05v1.05h-1.05zM187.3 77.5h1.05v1.05h-1.05zM159.9 87.7h1.05v1.05h-1.05zM163.3 75.8h1.05v1.05h-1.05zM192.0 83.5h1.05v1.05h-1.05zM174.3 107.7h1.05v1.05h-1.05zM167.5 74.4h1.05v1.05h-1.05zM153.5 67.3h1.05v1.05h-1.05zM140.5 64.5h1.05v1.05h-1.05zM186.4 57.0h1.05v1.05h-1.05zM191.8 76.4h1.05v1.05h-1.05zM165.9 59.6h1.05v1.05h-1.05zM189.5 95.9h1.05v1.05h-1.05zM177.1 79.5h1.05v1.05h-1.05zM210.1 66.9h1.05v1.05h-1.05zM159.5 68.9h1.05v1.05h-1.05zM163.3 56.6h1.05v1.05h-1.05zM157.4 79.5h1.05v1.05h-1.05zM194.0 87.8h1.05v1.05h-1.05zM186.2 69.1h1.05v1.05h-1.05zM175.8 56.7h1.05v1.05h-1.05zM165.9 77.3h1.05v1.05h-1.05zM205.2 96.7h1.05v1.05h-1.05zM147.6 88.2h1.05v1.05h-1.05zM196.0 69.8h1.05v1.05h-1.05zM171.4 77.1h1.05v1.05h-1.05zM183.0 84.7h1.05v1.05h-1.05zM171.7 84.6h1.05v1.05h-1.05zM187.5 70.9h1.05v1.05h-1.05zM165.5 83.5h1.05v1.05h-1.05zM169.1 93.0h1.05v1.05h-1.05zM156.8 71.9h1.05v1.05h-1.05zM144.1 56.1h1.05v1.05h-1.05zM157.2 69.8h1.05v1.05h-1.05zM175.8 77.7h1.05v1.05h-1.05zM177.8 91.2h1.05v1.05h-1.05zM179.0 75.6h1.05v1.05h-1.05zM148.4 85.5h1.05v1.05h-1.05zM159.6 69.0h1.05v1.05h-1.05zM159.5 79.6h1.05v1.05h-1.05zM163.9 44.9h1.05v1.05h-1.05zM188.1 72.5h1.05v1.05h-1.05zM181.9 69.9h1.05v1.05h-1.05zM135.1 63.3h1.05v1.05h-1.05zM145.1 75.8h1.05v1.05h-1.05zM166.2 72.9h1.05v1.05h-1.05zM187.4 79.1h1.05v1.05h-1.05zM142.7 62.7h1.05v1.05h-1.05zM188.7 84.7h1.05v1.05h-1.05zM209.1 74.1h1.05v1.05h-1.05zM174.7 53.3h1.05v1.05h-1.05zM156.9 73.3h1.05v1.05h-1.05zM176.3 95.7h1.05v1.05h-1.05zM183.1 71.9h1.05v1.05h-1.05zM166.9 76.0h1.05v1.05h-1.05zM181.3 82.9h1.05v1.05h-1.05zM179.4 63.8h1.05v1.05h-1.05zM197.4 87.0h1.05v1.05h-1.05zM159.2 60.1h1.05v1.05h-1.05zM142.0 78.4h1.05v1.05h-1.05zM156.7 59.4h1.05v1.05h-1.05zM153.5 64.5h1.05v1.05h-1.05zM162.3 82.6h1.05v1.05h-1.05zM162.2 69.4h1.05v1.05h-1.05zM185.2 86.3h1.05v1.05h-1.05zM184.8 57.4h1.05v1.05h-1.05zM136.6 59.1h1.05v1.05h-1.05zM155.3 68.4h1.05v1.05h-1.05zM173.2 100.3h1.05v1.05h-1.05zM141.2 70.9h1.05v1.05h-1.05zM175.8 83.2h1.05v1.05h-1.05zM136.7 46.9h1.05v1.05h-1.05zM156.5 75.9h1.05v1.05h-1.05zM186.0 89.9h1.05v1.05h-1.05zM195.2 81.5h1.05v1.05h-1.05zM184.3 74.1h1.05v1.05h-1.05zM147.2 77.9h1.05v1.05h-1.05zM179.6 89.3h1.05v1.05h-1.05zM214.4 70.9h1.05v1.05h-1.05zM150.4 98.8h1.05v1.05h-1.05zM165.3 94.8h1.05v1.05h-1.05zM161.6 76.3h1.05v1.05h-1.05zM187.5 94.9h1.05v1.05h-1.05zM191.4 79.3h1.05v1.05h-1.05zM172.8 55.0h1.05v1.05h-1.05zM160.2 52.6h1.05v1.05h-1.05zM149.4 75.0h1.05v1.05h-1.05zM171.2 79.6h1.05v1.05h-1.05zM141.1 71.4h1.05v1.05h-1.05zM186.1 53.9h1.05v1.05h-1.05zM165.1 53.1h1.05v1.05h-1.05zM166.6 69.2h1.05v1.05h-1.05zM143.3 75.4h1.05v1.05h-1.05zM184.1 75.7h1.05v1.05h-1.05zM153.8 77.3h1.05v1.05h-1.05zM180.9 69.5h1.05v1.05h-1.05zM219.1 91.5h1.05v1.05h-1.05zM182.4 84.6h1.05v1.05h-1.05zM159.3 72.2h1.05v1.05h-1.05zM131.0 73.7h1.05v1.05h-1.05zM204.9 78.4h1.05v1.05h-1.05zM162.8 89.9h1.05v1.05h-1.05zM193.7 88.7h1.05v1.05h-1.05zM148.7 65.1h1.05v1.05h-1.05zM184.3 80.4h1.05v1.05h-1.05zM180.7 92.0h1.05v1.05h-1.05zM187.6 90.0h1.05v1.05h-1.05zM204.2 87.6h1.05v1.05h-1.05zM149.8 75.9h1.05v1.05h-1.05zM181.5 91.9h1.05v1.05h-1.05zM177.6 67.8h1.05v1.05h-1.05zM168.6 49.8h1.05v1.05h-1.05zM193.5 89.0h1.05v1.05h-1.05zM186.7 77.2h1.05v1.05h-1.05zM171.6 81.3h1.05v1.05h-1.05zM178.2 95.0h1.05v1.05h-1.05zM163.4 86.6h1.05v1.05h-1.05zM214.4 83.5h1.05v1.05h-1.05zM148.3 69.9h1.05v1.05h-1.05zM179.0 62.0h1.05v1.05h-1.05zM189.2 77.9h1.05v1.05h-1.05zM179.3 89.6h1.05v1.05h-1.05zM172.8 50.5h1.05v1.05h-1.05zM163.8 79.3h1.05v1.05h-1.05zM181.1 68.9h1.05v1.05h-1.05zM204.6 72.0h1.05v1.05h-1.05zM176.5 71.2h1.05v1.05h-1.05zM188.8 70.9h1.05v1.05h-1.05zM148.3 60.2h1.05v1.05h-1.05zM191.5 54.3h1.05v1.05h-1.05zM166.0 61.3h1.05v1.05h-1.05zM178.0 72.8h1.05v1.05h-1.05zM172.7 71.2h1.05v1.05h-1.05zM187.1 92.5h1.05v1.05h-1.05zM205.3 70.2h1.05v1.05h-1.05zM209.9 90.4h1.05v1.05h-1.05zM183.2 93.2h1.05v1.05h-1.05zM209.6 97.3h1.05v1.05h-1.05zM171.9 63.6h1.05v1.05h-1.05zM195.8 79.7h1.05v1.05h-1.05zM159.4 67.3h1.05v1.05h-1.05zM187.9 71.0h1.05v1.05h-1.05zM164.4 87.1h1.05v1.05h-1.05zM179.2 92.8h1.05v1.05h-1.05zM164.8 97.5h1.05v1.05h-1.05zM174.0 100.0h1.05v1.05h-1.05zM174.0 48.1h1.05v1.05h-1.05zM176.3 66.0h1.05v1.05h-1.05zM140.6 72.5h1.05v1.05h-1.05zM153.1 45.7h1.05v1.05h-1.05zM161.1 68.2h1.05v1.05h-1.05zM171.3 53.9h1.05v1.05h-1.05zM157.4 62.0h1.05v1.05h-1.05zM176.7 85.0h1.05v1.05h-1.05zM200.0 86.1h1.05v1.05h-1.05zM192.1 91.2h1.05v1.05h-1.05zM171.5 64.5h1.05v1.05h-1.05zM156.3 58.5h1.05v1.05h-1.05zM184.0 50.6h1.05v1.05h-1.05zM156.6 78.3h1.05v1.05h-1.05zM191.7 90.9h1.05v1.05h-1.05zM183.8 92.8h1.05v1.05h-1.05zM172.3 74.9h1.05v1.05h-1.05zM167.0 55.7h1.05v1.05h-1.05zM173.8 82.8h1.05v1.05h-1.05zM155.2 85.3h1.05v1.05h-1.05zM178.5 98.2h1.05v1.05h-1.05zM174.1 72.8h1.05v1.05h-1.05zM143.5 84.3h1.05v1.05h-1.05zM181.7 72.4h1.05v1.05h-1.05zM162.3 56.8h1.05v1.05h-1.05zM158.2 77.1h1.05v1.05h-1.05zM184.6 70.3h1.05v1.05h-1.05zM157.0 63.6h1.05v1.05h-1.05zM147.7 66.8h1.05v1.05h-1.05zM150.8 71.2h1.05v1.05h-1.05zM175.4 58.0h1.05v1.05h-1.05zM157.9 83.5h1.05v1.05h-1.05zM148.6 92.2h1.05v1.05h-1.05zM172.8 60.4h1.05v1.05h-1.05zM144.5 84.7h1.05v1.05h-1.05zM206.1 82.7h1.05v1.05h-1.05zM197.5 65.7h1.05v1.05h-1.05zM176.2 88.9h1.05v1.05h-1.05zM172.9 74.8h1.05v1.05h-1.05zM202.7 91.7h1.05v1.05h-1.05zM145.1 90.6h1.05v1.05h-1.05zM163.4 75.2h1.05v1.05h-1.05zM174.2 88.9h1.05v1.05h-1.05zM163.4 67.0h1.05v1.05h-1.05zM159.5 60.9h1.05v1.05h-1.05zM170.9 57.8h1.05v1.05h-1.05zM140.3 47.7h1.05v1.05h-1.05zM175.7 64.9h1.05v1.05h-1.05zM147.9 60.5h1.05v1.05h-1.05zM159.4 78.1h1.05v1.05h-1.05zM190.5 83.5h1.05v1.05h-1.05zM187.0 79.8h1.05v1.05h-1.05zM163.5 90.6h1.05v1.05h-1.05zM190.1 89.0h1.05v1.05h-1.05zM126.6 52.1h1.05v1.05h-1.05zM199.5 76.6h1.05v1.05h-1.05zM188.3 95.0h1.05v1.05h-1.05zM149.8 84.2h1.05v1.05h-1.05zM157.5 70.8h1.05v1.05h-1.05zM158.1 86.1h1.05v1.05h-1.05zM183.6 66.4h1.05v1.05h-1.05zM208.7 98.1h1.05v1.05h-1.05zM185.1 89.1h1.05v1.05h-1.05zM196.2 72.0h1.05v1.05h-1.05zM169.2 65.0h1.05v1.05h-1.05zM179.1 56.3h1.05v1.05h-1.05zM169.1 63.5h1.05v1.05h-1.05zM201.7 69.5h1.05v1.05h-1.05zM178.3 81.9h1.05v1.05h-1.05zM177.6 99.6h1.05v1.05h-1.05zM128.1 53.0h1.05v1.05h-1.05zM190.7 73.1h1.05v1.05h-1.05zM170.4 54.0h1.05v1.05h-1.05zM177.8 94.3h1.05v1.05h-1.05zM182.2 67.8h1.05v1.05h-1.05zM161.8 67.8h1.05v1.05h-1.05zM197.2 88.3h1.05v1.05h-1.05zM163.0 43.6h1.05v1.05h-1.05zM168.8 53.4h1.05v1.05h-1.05zM140.0 69.2h1.05v1.05h-1.05zM172.0 62.8h1.05v1.05h-1.05zM173.7 76.1h1.05v1.05h-1.05zM171.7 90.6h1.05v1.05h-1.05zM187.2 90.4h1.05v1.05h-1.05zM152.7 58.8h1.05v1.05h-1.05zM182.9 83.4h1.05v1.05h-1.05zM172.8 91.2h1.05v1.05h-1.05zM200.1 71.2h1.05v1.05h-1.05zM135.8 53.9h1.05v1.05h-1.05zM157.1 79.6h1.05v1.05h-1.05zM183.1 68.6h1.05v1.05h-1.05zM197.9 85.6h1.05v1.05h-1.05zM180.8 98.2h1.05v1.05h-1.05zM170.4 84.3h1.05v1.05h-1.05zM150.4 72.2h1.05v1.05h-1.05zM184.4 91.2h1.05v1.05h-1.05zM184.7 68.0h1.05v1.05h-1.05zM165.6 90.5h1.05v1.05h-1.05zM189.8 85.6h1.05v1.05h-1.05zM181.4 85.5h1.05v1.05h-1.05zM163.4 81.7h1.05v1.05h-1.05zM163.3 86.4h1.05v1.05h-1.05zM186.0 76.8h1.05v1.05h-1.05zM181.7 64.8h1.05v1.05h-1.05zM200.8 83.8h1.05v1.05h-1.05zM165.6 61.0h1.05v1.05h-1.05zM142.5 77.6h1.05v1.05h-1.05zM167.1 59.6h1.05v1.05h-1.05zM191.7 72.8h1.05v1.05h-1.05zM202.2 82.8h1.05v1.05h-1.05zM149.8 76.1h1.05v1.05h-1.05zM182.4 77.3h1.05v1.05h-1.05zM194.7 81.8h1.05v1.05h-1.05zM139.5 69.8h1.05v1.05h-1.05zM141.0 70.4h1.05v1.05h-1.05zM167.1 67.1h1.05v1.05h-1.05zM193.7 88.9h1.05v1.05h-1.05zM174.4 62.8h1.05v1.05h-1.05zM186.5 94.0h1.05v1.05h-1.05zM169.9 63.8h1.05v1.05h-1.05zM192.0 88.2h1.05v1.05h-1.05zM176.4 82.4h1.05v1.05h-1.05zM138.6 59.9h1.05v1.05h-1.05zM155.5 77.9h1.05v1.05h-1.05zM184.3 62.5h1.05v1.05h-1.05zM154.5 61.2h1.05v1.05h-1.05zM156.3 71.9h1.05v1.05h-1.05zM178.2 72.7h1.05v1.05h-1.05zM186.3 65.4h1.05v1.05h-1.05zM179.6 84.3h1.05v1.05h-1.05zM187.9 89.5h1.05v1.05h-1.05zM188.6 72.3h1.05v1.05h-1.05zM160.1 66.1h1.05v1.05h-1.05zM175.1 88.8h1.05v1.05h-1.05zM182.5 92.5h1.05v1.05h-1.05zM151.0 83.0h1.05v1.05h-1.05zM184.3 92.6h1.05v1.05h-1.05zM155.8 74.8h1.05v1.05h-1.05zM162.2 68.8h1.05v1.05h-1.05zM185.0 73.4h1.05v1.05h-1.05zM156.4 83.6h1.05v1.05h-1.05zM162.9 59.1h1.05v1.05h-1.05zM183.0 79.5h1.05v1.05h-1.05zM174.5 67.5h1.05v1.05h-1.05zM173.0 62.6h1.05v1.05h-1.05zM129.9 70.1h1.05v1.05h-1.05zM192.2 51.0h1.05v1.05h-1.05zM162.4 76.4h1.05v1.05h-1.05zM215.6 71.9h1.05v1.05h-1.05zM172.1 48.7h1.05v1.05h-1.05zM187.8 79.2h1.05v1.05h-1.05zM187.5 77.5h1.05v1.05h-1.05zM175.4 70.6h1.05v1.05h-1.05zM172.0 76.7h1.05v1.05h-1.05zM183.9 65.8h1.05v1.05h-1.05zM183.2 85.9h1.05v1.05h-1.05zM200.5 72.3h1.05v1.05h-1.05zM155.5 62.3h1.05v1.05h-1.05zM189.6 80.9h1.05v1.05h-1.05zM155.0 72.1h1.05v1.05h-1.05zM206.4 75.5h1.05v1.05h-1.05zM177.9 65.3h1.05v1.05h-1.05zM166.8 100.2h1.05v1.05h-1.05zM160.7 80.5h1.05v1.05h-1.05zM178.5 93.7h1.05v1.05h-1.05zM162.7 64.3h1.05v1.05h-1.05zM161.8 82.1h1.05v1.05h-1.05zM191.4 82.5h1.05v1.05h-1.05zM184.6 83.8h1.05v1.05h-1.05zM192.0 84.3h1.05v1.05h-1.05zM179.4 54.9h1.05v1.05h-1.05zM165.6 78.0h1.05v1.05h-1.05zM192.6 74.9h1.05v1.05h-1.05zM161.7 69.4h1.05v1.05h-1.05zM158.9 70.7h1.05v1.05h-1.05zM170.1 57.2h1.05v1.05h-1.05zM183.2 91.8h1.05v1.05h-1.05zM190.3 79.0h1.05v1.05h-1.05zM162.8 83.0h1.05v1.05h-1.05zM199.3 91.2h1.05v1.05h-1.05zM185.4 76.2h1.05v1.05h-1.05zM181.2 87.0h1.05v1.05h-1.05zM181.2 101.7h1.05v1.05h-1.05zM210.4 77.6h1.05v1.05h-1.05zM204.3 87.8h1.05v1.05h-1.05zM187.8 67.1h1.05v1.05h-1.05zM168.8 102.0h1.05v1.05h-1.05zM179.9 75.5h1.05v1.05h-1.05zM156.7 78.5h1.05v1.05h-1.05zM175.4 95.4h1.05v1.05h-1.05zM198.0 66.4h1.05v1.05h-1.05zM183.7 84.2h1.05v1.05h-1.05zM175.3 52.5h1.05v1.05h-1.05zM175.6 68.9h1.05v1.05h-1.05zM177.3 64.1h1.05v1.05h-1.05zM134.1 57.7h1.05v1.05h-1.05zM154.1 87.5h1.05v1.05h-1.05zM176.6 98.3h1.05v1.05h-1.05zM170.1 79.9h1.05v1.05h-1.05zM177.1 70.1h1.05v1.05h-1.05zM161.0 94.5h1.05v1.05h-1.05zM184.3 71.9h1.05v1.05h-1.05zM173.0 78.0h1.05v1.05h-1.05zM207.9 93.1h1.05v1.05h-1.05zM141.2 68.4h1.05v1.05h-1.05zM157.8 93.1h1.05v1.05h-1.05zM176.4 80.4h1.05v1.05h-1.05zM168.9 91.0h1.05v1.05h-1.05zM181.0 90.4h1.05v1.05h-1.05zM178.1 56.4h1.05v1.05h-1.05zM170.2 64.8h1.05v1.05h-1.05zM150.8 77.6h1.05v1.05h-1.05zM184.6 89.4h1.05v1.05h-1.05zM186.4 86.9h1.05v1.05h-1.05zM179.6 75.7h1.05v1.05h-1.05zM175.2 59.1h1.05v1.05h-1.05zM178.6 67.8h1.05v1.05h-1.05zM168.3 68.9h1.05v1.05h-1.05zM183.4 78.7h1.05v1.05h-1.05zM144.4 78.1h1.05v1.05h-1.05zM191.1 85.3h1.05v1.05h-1.05zM134.9 70.1h1.05v1.05h-1.05zM178.3 76.1h1.05v1.05h-1.05zM155.6 51.0h1.05v1.05h-1.05zM184.8 90.5h1.05v1.05h-1.05zM172.8 67.1h1.05v1.05h-1.05zM147.2 66.0h1.05v1.05h-1.05zM180.6 75.5h1.05v1.05h-1.05zM183.5 53.7h1.05v1.05h-1.05zM195.6 95.4h1.05v1.05h-1.05zM173.6 89.2h1.05v1.05h-1.05zM160.7 48.7h1.05v1.05h-1.05zM178.5 89.6h1.05v1.05h-1.05zM159.3 80.2h1.05v1.05h-1.05zM178.5 84.3h1.05v1.05h-1.05zM194.9 86.3h1.05v1.05h-1.05zM175.3 87.8h1.05v1.05h-1.05zM163.7 69.7h1.05v1.05h-1.05zM192.1 99.7h1.05v1.05h-1.05zM176.4 75.4h1.05v1.05h-1.05zM158.0 61.8h1.05v1.05h-1.05zM178.7 81.3h1.05v1.05h-1.05zM181.6 99.4h1.05v1.05h-1.05zM169.7 66.8h1.05v1.05h-1.05zM183.1 75.1h1.05v1.05h-1.05zM208.0 79.0h1.05v1.05h-1.05zM142.2 69.9h1.05v1.05h-1.05zM185.9 95.1h1.05v1.05h-1.05zM190.2 99.2h1.05v1.05h-1.05zM139.5 54.7h1.05v1.05h-1.05zM173.6 64.6h1.05v1.05h-1.05zM181.4 97.3h1.05v1.05h-1.05zM185.2 60.8h1.05v1.05h-1.05zM187.7 86.8h1.05v1.05h-1.05zM170.9 80.5h1.05v1.05h-1.05zM171.6 51.1h1.05v1.05h-1.05zM169.6 75.6h1.05v1.05h-1.05zM181.6 62.4h1.05v1.05h-1.05zM170.1 65.1h1.05v1.05h-1.05zM171.3 86.2h1.05v1.05h-1.05zM164.8 59.5h1.05v1.05h-1.05zM175.8 97.5h1.05v1.05h-1.05zM173.2 54.4h1.05v1.05h-1.05zM191.5 66.9h1.05v1.05h-1.05zM180.9 67.2h1.05v1.05h-1.05zM181.1 76.7h1.05v1.05h-1.05zM154.3 73.3h1.05v1.05h-1.05zM162.9 86.4h1.05v1.05h-1.05zM172.8 70.3h1.05v1.05h-1.05zM150.2 80.6h1.05v1.05h-1.05zM165.1 62.9h1.05v1.05h-1.05zM181.0 92.3h1.05v1.05h-1.05zM174.0 88.1h1.05v1.05h-1.05zM215.2 81.1h1.05v1.05h-1.05zM173.7 85.4h1.05v1.05h-1.05zM192.1 80.7h1.05v1.05h-1.05zM152.6 63.6h1.05v1.05h-1.05zM188.0 62.3h1.05v1.05h-1.05zM194.9 87.7h1.05v1.05h-1.05zM165.8 60.3h1.05v1.05h-1.05zM189.5 64.2h1.05v1.05h-1.05zM174.2 86.1h1.05v1.05h-1.05zM199.0 80.1h1.05v1.05h-1.05zM164.1 96.0h1.05v1.05h-1.05zM175.7 84.3h1.05v1.05h-1.05zM157.1 65.7h1.05v1.05h-1.05zM172.9 91.4h1.05v1.05h-1.05zM219.5 82.9h1.05v1.05h-1.05zM167.0 65.4h1.05v1.05h-1.05zM155.3 75.1h1.05v1.05h-1.05zM154.1 79.8h1.05v1.05h-1.05zM181.5 67.7h1.05v1.05h-1.05zM196.7 69.7h1.05v1.05h-1.05zM153.6 59.0h1.05v1.05h-1.05zM177.1 59.2h1.05v1.05h-1.05zM166.8 78.5h1.05v1.05h-1.05zM183.1 84.9h1.05v1.05h-1.05zM135.4 54.4h1.05v1.05h-1.05zM193.9 85.2h1.05v1.05h-1.05zM171.0 76.3h1.05v1.05h-1.05zM173.5 88.9h1.05v1.05h-1.05zM168.3 97.5h1.05v1.05h-1.05zM182.2 87.6h1.05v1.05h-1.05zM179.8 66.7h1.05v1.05h-1.05zM193.4 86.0h1.05v1.05h-1.05zM142.0 84.7h1.05v1.05h-1.05zM186.7 78.7h1.05v1.05h-1.05zM143.3 72.9h1.05v1.05h-1.05zM188.0 82.7h1.05v1.05h-1.05zM197.9 78.0h1.05v1.05h-1.05zM177.0 89.0h1.05v1.05h-1.05zM163.9 75.9h1.05v1.05h-1.05zM179.1 91.3h1.05v1.05h-1.05zM155.3 66.8h1.05v1.05h-1.05zM162.4 75.6h1.05v1.05h-1.05zM183.7 92.6h1.05v1.05h-1.05zM180.9 74.8h1.05v1.05h-1.05zM159.6 79.6h1.05v1.05h-1.05zM204.0 73.2h1.05v1.05h-1.05zM161.6 79.6h1.05v1.05h-1.05zM180.7 77.4h1.05v1.05h-1.05zM170.6 51.0h1.05v1.05h-1.05zM142.9 51.0h1.05v1.05h-1.05zM167.2 105.1h1.05v1.05h-1.05zM160.4 61.4h1.05v1.05h-1.05zM148.1 70.6h1.05v1.05h-1.05zM191.8 85.4h1.05v1.05h-1.05zM185.0 94.0h1.05v1.05h-1.05zM188.9 75.9h1.05v1.05h-1.05zM165.7 65.5h1.05v1.05h-1.05zM162.8 51.8h1.05v1.05h-1.05zM195.3 67.5h1.05v1.05h-1.05zM155.3 87.6h1.05v1.05h-1.05zM185.8 90.1h1.05v1.05h-1.05zM168.8 78.7h1.05v1.05h-1.05zM193.6 99.4h1.05v1.05h-1.05zM173.5 53.9h1.05v1.05h-1.05zM185.8 81.3h1.05v1.05h-1.05zM143.6 94.9h1.05v1.05h-1.05zM144.4 69.8h1.05v1.05h-1.05zM190.5 91.7h1.05v1.05h-1.05zM161.3 69.8h1.05v1.05h-1.05zM161.4 53.8h1.05v1.05h-1.05zM146.1 72.1h1.05v1.05h-1.05zM187.2 88.9h1.05v1.05h-1.05zM159.5 72.0h1.05v1.05h-1.05zM136.4 69.6h1.05v1.05h-1.05zM191.2 83.6h1.05v1.05h-1.05zM152.1 54.8h1.05v1.05h-1.05zM181.9 96.1h1.05v1.05h-1.05zM194.4 90.5h1.05v1.05h-1.05zM159.4 45.8h1.05v1.05h-1.05zM183.7 52.1h1.05v1.05h-1.05zM191.3 92.3h1.05v1.05h-1.05zM176.1 76.7h1.05v1.05h-1.05zM149.1 72.5h1.05v1.05h-1.05zM144.7 59.6h1.05v1.05h-1.05zM187.7 71.4h1.05v1.05h-1.05zM168.6 93.9h1.05v1.05h-1.05zM162.7 72.5h1.05v1.05h-1.05zM180.6 57.8h1.05v1.05h-1.05zM160.2 54.0h1.05v1.05h-1.05zM195.9 88.4h1.05v1.05h-1.05zM157.8 54.9h1.05v1.05h-1.05zM167.5 63.8h1.05v1.05h-1.05zM190.8 94.2h1.05v1.05h-1.05zM150.9 79.1h1.05v1.05h-1.05zM174.0 84.5h1.05v1.05h-1.05zM166.8 51.5h1.05v1.05h-1.05zM176.5 92.9h1.05v1.05h-1.05zM170.0 74.9h1.05v1.05h-1.05zM185.4 96.2h1.05v1.05h-1.05zM188.4 74.8h1.05v1.05h-1.05zM167.8 63.9h1.05v1.05h-1.05zM172.2 80.5h1.05v1.05h-1.05zM158.2 62.4h1.05v1.05h-1.05zM146.8 75.0h1.05v1.05h-1.05zM172.6 94.9h1.05v1.05h-1.05zM174.3 77.2h1.05v1.05h-1.05zM169.3 89.4h1.05v1.05h-1.05zM157.1 60.2h1.05v1.05h-1.05zM162.4 65.6h1.05v1.05h-1.05zM156.0 81.1h1.05v1.05h-1.05zM188.8 94.3h1.05v1.05h-1.05zM184.7 73.9h1.05v1.05h-1.05zM184.0 93.0h1.05v1.05h-1.05zM163.8 70.7h1.05v1.05h-1.05zM167.3 87.0h1.05v1.05h-1.05zM190.1 80.3h1.05v1.05h-1.05zM190.2 83.0h1.05v1.05h-1.05zM146.7 63.3h1.05v1.05h-1.05zM177.3 77.3h1.05v1.05h-1.05zM182.1 109.1h1.05v1.05h-1.05zM169.3 70.7h1.05v1.05h-1.05zM172.3 67.8h1.05v1.05h-1.05zM176.2 73.1h1.05v1.05h-1.05zM176.0 84.7h1.05v1.05h-1.05zM195.3 86.8h1.05v1.05h-1.05zM164.5 70.9h1.05v1.05h-1.05zM176.6 85.7h1.05v1.05h-1.05zM156.9 77.6h1.05v1.05h-1.05zM211.1 86.7h1.05v1.05h-1.05zM165.0 71.5h1.05v1.05h-1.05zM187.9 92.7h1.05v1.05h-1.05zM174.6 83.7h1.05v1.05h-1.05zM160.7 67.6h1.05v1.05h-1.05zM182.6 102.2h1.05v1.05h-1.05zM174.1 42.4h1.05v1.05h-1.05zM167.5 68.8h1.05v1.05h-1.05zM181.8 93.0h1.05v1.05h-1.05zM175.8 84.5h1.05v1.05h-1.05zM161.6 54.4h1.05v1.05h-1.05zM178.1 53.2h1.05v1.05h-1.05zM186.5 77.3h1.05v1.05h-1.05zM164.9 78.7h1.05v1.05h-1.05zM201.0 79.3h1.05v1.05h-1.05zM165.2 82.4h1.05v1.05h-1.05zM191.2 71.8h1.05v1.05h-1.05zM194.7 88.9h1.05v1.05h-1.05zM197.7 74.4h1.05v1.05h-1.05zM151.8 46.6h1.05v1.05h-1.05zM185.2 93.2h1.05v1.05h-1.05zM176.3 77.3h1.05v1.05h-1.05zM198.3 80.2h1.05v1.05h-1.05zM194.0 86.6h1.05v1.05h-1.05zM162.3 73.2h1.05v1.05h-1.05zM148.1 69.4h1.05v1.05h-1.05zM185.9 89.8h1.05v1.05h-1.05zM161.4 81.0h1.05v1.05h-1.05zM176.2 67.7h1.05v1.05h-1.05zM171.5 81.2h1.05v1.05h-1.05zM147.4 90.8h1.05v1.05h-1.05zM166.3 72.3h1.05v1.05h-1.05zM181.9 82.4h1.05v1.05h-1.05zM135.0 54.0h1.05v1.05h-1.05zM122.6 65.5h1.05v1.05h-1.05zM183.4 86.1h1.05v1.05h-1.05zM197.9 94.7h1.05v1.05h-1.05zM193.3 96.2h1.05v1.05h-1.05zM163.6 74.5h1.05v1.05h-1.05zM174.3 71.9h1.05v1.05h-1.05zM167.5 87.8h1.05v1.05h-1.05zM132.3 68.1h1.05v1.05h-1.05zM172.9 69.9h1.05v1.05h-1.05zM184.9 48.4h1.05v1.05h-1.05zM179.9 89.7h1.05v1.05h-1.05zM175.4 69.3h1.05v1.05h-1.05zM182.6 84.0h1.05v1.05h-1.05zM159.0 76.2h1.05v1.05h-1.05zM177.2 86.4h1.05v1.05h-1.05zM167.3 81.0h1.05v1.05h-1.05zM197.9 73.4h1.05v1.05h-1.05zM194.9 87.0h1.05v1.05h-1.05zM184.0 95.8h1.05v1.05h-1.05zM188.8 69.7h1.05v1.05h-1.05zM157.7 84.6h1.05v1.05h-1.05zM161.9 67.4h1.05v1.05h-1.05zM190.4 85.6h1.05v1.05h-1.05zM170.6 84.3h1.05v1.05h-1.05zM195.2 66.5h1.05v1.05h-1.05zM159.0 77.4h1.05v1.05h-1.05zM140.8 73.2h1.05v1.05h-1.05zM155.0 69.4h1.05v1.05h-1.05zM181.5 74.9h1.05v1.05h-1.05zM184.6 60.2h1.05v1.05h-1.05zM168.6 61.1h1.05v1.05h-1.05zM148.8 83.7h1.05v1.05h-1.05zM152.5 90.3h1.05v1.05h-1.05zM197.7 78.5h1.05v1.05h-1.05zM133.6 83.1h1.05v1.05h-1.05zM185.6 46.1h1.05v1.05h-1.05zM192.9 92.4h1.05v1.05h-1.05zM176.5 60.0h1.05v1.05h-1.05zM158.0 66.0h1.05v1.05h-1.05zM173.6 53.6h1.05v1.05h-1.05zM148.2 48.4h1.05v1.05h-1.05zM178.4 91.9h1.05v1.05h-1.05zM162.3 69.4h1.05v1.05h-1.05zM184.8 83.9h1.05v1.05h-1.05zM156.2 51.0h1.05v1.05h-1.05zM184.6 54.6h1.05v1.05h-1.05zM185.9 89.7h1.05v1.05h-1.05zM160.1 85.9h1.05v1.05h-1.05zM197.0 86.7h1.05v1.05h-1.05zM154.7 82.6h1.05v1.05h-1.05zM171.4 68.3h1.05v1.05h-1.05zM152.4 83.0h1.05v1.05h-1.05zM195.7 93.7h1.05v1.05h-1.05zM187.6 85.6h1.05v1.05h-1.05zM167.4 65.9h1.05v1.05h-1.05zM154.0 71.3h1.05v1.05h-1.05zM182.2 80.5h1.05v1.05h-1.05zM166.2 91.6h1.05v1.05h-1.05zM167.8 75.4h1.05v1.05h-1.05zM167.3 87.4h1.05v1.05h-1.05zM152.1 62.6h1.05v1.05h-1.05zM183.9 70.2h1.05v1.05h-1.05zM167.7 82.7h1.05v1.05h-1.05zM198.5 72.6h1.05v1.05h-1.05zM155.9 99.2h1.05v1.05h-1.05zM171.7 99.3h1.05v1.05h-1.05zM211.0 76.3h1.05v1.05h-1.05zM176.0 90.7h1.05v1.05h-1.05zM190.3 73.2h1.05v1.05h-1.05zM175.8 93.1h1.05v1.05h-1.05zM196.2 91.1h1.05v1.05h-1.05zM167.5 96.8h1.05v1.05h-1.05zM211.1 83.2h1.05v1.05h-1.05zM161.8 104.5h1.05v1.05h-1.05zM196.5 75.3h1.05v1.05h-1.05zM184.8 50.7h1.05v1.05h-1.05zM167.7 77.1h1.05v1.05h-1.05zM174.0 92.4h1.05v1.05h-1.05zM174.7 75.0h1.05v1.05h-1.05zM188.0 67.4h1.05v1.05h-1.05zM206.8 70.8h1.05v1.05h-1.05zM175.4 65.1h1.05v1.05h-1.05zM185.1 63.5h1.05v1.05h-1.05zM197.8 74.4h1.05v1.05h-1.05zM156.9 70.0h1.05v1.05h-1.05zM138.4 85.6h1.05v1.05h-1.05zM145.6 60.8h1.05v1.05h-1.05zM146.9 78.9h1.05v1.05h-1.05zM176.1 78.3h1.05v1.05h-1.05zM154.4 57.3h1.05v1.05h-1.05zM161.6 61.4h1.05v1.05h-1.05zM161.8 65.8h1.05v1.05h-1.05zM180.9 87.9h1.05v1.05h-1.05zM178.5 92.5h1.05v1.05h-1.05zM172.5 72.7h1.05v1.05h-1.05zM169.5 53.1h1.05v1.05h-1.05zM203.0 81.0h1.05v1.05h-1.05zM214.9 71.8h1.05v1.05h-1.05zM134.8 76.7h1.05v1.05h-1.05zM182.8 58.2h1.05v1.05h-1.05zM177.5 94.2h1.05v1.05h-1.05zM163.6 76.7h1.05v1.05h-1.05zM168.7 69.6h1.05v1.05h-1.05zM189.4 71.6h1.05v1.05h-1.05zM175.4 48.7h1.05v1.05h-1.05zM170.8 78.3h1.05v1.05h-1.05zM219.2 77.0h1.05v1.05h-1.05zM197.6 89.7h1.05v1.05h-1.05zM204.3 87.6h1.05v1.05h-1.05zM195.8 84.2h1.05v1.05h-1.05zM151.6 78.1h1.05v1.05h-1.05zM160.3 54.8h1.05v1.05h-1.05zM212.3 93.3h1.05v1.05h-1.05zM187.0 88.1h1.05v1.05h-1.05zM160.4 55.1h1.05v1.05h-1.05zM156.9 72.1h1.05v1.05h-1.05zM178.5 87.0h1.05v1.05h-1.05zM178.5 97.0h1.05v1.05h-1.05zM151.0 78.0h1.05v1.05h-1.05zM162.5 89.4h1.05v1.05h-1.05zM208.4 79.8h1.05v1.05h-1.05zM143.5 91.1h1.05v1.05h-1.05zM184.9 96.9h1.05v1.05h-1.05zM183.7 91.5h1.05v1.05h-1.05zM166.3 92.0h1.05v1.05h-1.05zM196.2 79.7h1.05v1.05h-1.05zM169.1 73.4h1.05v1.05h-1.05zM172.9 90.0h1.05v1.05h-1.05zM125.9 70.3h1.05v1.05h-1.05zM149.4 55.4h1.05v1.05h-1.05zM123.8 75.1h1.05v1.05h-1.05zM168.9 52.5h1.05v1.05h-1.05zM163.9 66.8h1.05v1.05h-1.05zM165.2 92.2h1.05v1.05h-1.05zM214.4 73.1h1.05v1.05h-1.05zM175.5 88.1h1.05v1.05h-1.05zM169.3 53.7h1.05v1.05h-1.05zM188.3 90.1h1.05v1.05h-1.05zM169.3 74.5h1.05v1.05h-1.05zM140.1 83.2h1.05v1.05h-1.05zM177.4 74.4h1.05v1.05h-1.05zM168.7 53.7h1.05v1.05h-1.05zM202.0 78.7h1.05v1.05h-1.05zM145.8 65.2h1.05v1.05h-1.05zM163.9 103.8h1.05v1.05h-1.05zM193.4 87.9h1.05v1.05h-1.05zM172.1 90.5h1.05v1.05h-1.05zM195.7 93.1h1.05v1.05h-1.05zM206.6 89.5h1.05v1.05h-1.05zM147.1 68.2h1.05v1.05h-1.05zM184.9 82.4h1.05v1.05h-1.05zM179.2 96.9h1.05v1.05h-1.05zM139.7 84.9h1.05v1.05h-1.05zM159.8 51.8h1.05v1.05h-1.05zM196.6 86.1h1.05v1.05h-1.05zM183.0 82.6h1.05v1.05h-1.05zM152.6 56.1h1.05v1.05h-1.05zM176.0 84.2h1.05v1.05h-1.05zM134.1 76.6h1.05v1.05h-1.05zM187.2 89.5h1.05v1.05h-1.05zM131.9 84.1h1.05v1.05h-1.05zM162.2 77.2h1.05v1.05h-1.05zM178.3 63.0h1.05v1.05h-1.05zM205.9 85.9h1.05v1.05h-1.05zM163.9 52.6h1.05v1.05h-1.05zM187.3 79.1h1.05v1.05h-1.05zM177.5 97.2h1.05v1.05h-1.05zM197.5 78.5h1.05v1.05h-1.05zM121.0 68.1h1.05v1.05h-1.05zM155.2 69.7h1.05v1.05h-1.05zM194.3 89.4h1.05v1.05h-1.05zM156.8 80.1h1.05v1.05h-1.05zM187.8 97.5h1.05v1.05h-1.05zM157.6 61.7h1.05v1.05h-1.05zM172.3 46.3h1.05v1.05h-1.05zM147.9 90.3h1.05v1.05h-1.05zM164.8 62.4h1.05v1.05h-1.05zM149.1 65.1h1.05v1.05h-1.05zM172.1 68.5h1.05v1.05h-1.05zM170.2 50.8h1.05v1.05h-1.05zM158.3 74.8h1.05v1.05h-1.05zM187.2 90.3h1.05v1.05h-1.05zM169.6 71.9h1.05v1.05h-1.05zM172.9 70.1h1.05v1.05h-1.05zM192.2 78.9h1.05v1.05h-1.05zM194.1 84.8h1.05v1.05h-1.05zM151.9 66.7h1.05v1.05h-1.05zM162.6 97.1h1.05v1.05h-1.05zM187.4 62.7h1.05v1.05h-1.05zM174.3 52.0h1.05v1.05h-1.05zM194.5 75.7h1.05v1.05h-1.05zM152.0 59.7h1.05v1.05h-1.05zM172.1 91.0h1.05v1.05h-1.05zM173.5 57.3h1.05v1.05h-1.05zM169.6 84.1h1.05v1.05h-1.05zM134.7 74.5h1.05v1.05h-1.05zM182.5 85.7h1.05v1.05h-1.05zM173.7 56.6h1.05v1.05h-1.05zM185.2 75.6h1.05v1.05h-1.05zM181.6 93.9h1.05v1.05h-1.05zM161.6 65.7h1.05v1.05h-1.05zM172.6 77.0h1.05v1.05h-1.05zM170.7 93.4h1.05v1.05h-1.05zM211.9 84.1h1.05v1.05h-1.05zM166.1 54.7h1.05v1.05h-1.05zM166.8 70.1h1.05v1.05h-1.05zM171.2 85.3h1.05v1.05h-1.05zM173.6 76.8h1.05v1.05h-1.05zM168.3 78.8h1.05v1.05h-1.05zM152.0 52.0h1.05v1.05h-1.05zM156.3 89.8h1.05v1.05h-1.05zM179.1 73.7h1.05v1.05h-1.05zM172.9 78.4h1.05v1.05h-1.05zM163.9 104.6h1.05v1.05h-1.05zM201.6 95.5h1.05v1.05h-1.05zM157.7 60.3h1.05v1.05h-1.05zM150.2 67.8h1.05v1.05h-1.05zM161.5 61.7h1.05v1.05h-1.05zM197.1 80.1h1.05v1.05h-1.05zM171.6 83.0h1.05v1.05h-1.05zM181.9 62.7h1.05v1.05h-1.05zM163.9 85.4h1.05v1.05h-1.05zM163.5 95.4h1.05v1.05h-1.05zM173.7 83.3h1.05v1.05h-1.05zM156.3 69.5h1.05v1.05h-1.05zM170.1 62.9h1.05v1.05h-1.05zM173.1 51.3h1.05v1.05h-1.05zM149.6 78.2h1.05v1.05h-1.05zM163.2 96.5h1.05v1.05h-1.05zM170.3 67.0h1.05v1.05h-1.05zM200.2 79.5h1.05v1.05h-1.05zM205.2 96.2h1.05v1.05h-1.05zM179.2 96.6h1.05v1.05h-1.05zM160.3 76.6h1.05v1.05h-1.05zM165.9 80.2h1.05v1.05h-1.05zM201.1 84.3h1.05v1.05h-1.05zM176.2 58.5h1.05v1.05h-1.05zM200.4 81.9h1.05v1.05h-1.05zM199.5 82.0h1.05v1.05h-1.05zM153.8 64.4h1.05v1.05h-1.05zM174.9 65.1h1.05v1.05h-1.05zM166.5 44.5h1.05v1.05h-1.05zM181.2 78.3h1.05v1.05h-1.05zM163.7 52.8h1.05v1.05h-1.05zM175.7 67.7h1.05v1.05h-1.05zM196.3 91.9h1.05v1.05h-1.05zM151.9 73.9h1.05v1.05h-1.05zM131.1 80.4h1.05v1.05h-1.05zM173.3 91.8h1.05v1.05h-1.05zM148.9 80.2h1.05v1.05h-1.05zM190.5 71.9h1.05v1.05h-1.05zM168.2 71.8h1.05v1.05h-1.05zM166.3 59.0h1.05v1.05h-1.05zM148.0 63.4h1.05v1.05h-1.05zM191.7 89.8h1.05v1.05h-1.05zM180.3 70.1h1.05v1.05h-1.05zM130.2 75.2h1.05v1.05h-1.05zM168.7 78.4h1.05v1.05h-1.05zM187.1 78.5h1.05v1.05h-1.05zM146.8 50.0h1.05v1.05h-1.05zM148.6 78.3h1.05v1.05h-1.05zM176.2 51.3h1.05v1.05h-1.05zM192.5 91.7h1.05v1.05h-1.05zM176.1 66.6h1.05v1.05h-1.05zM161.3 86.9h1.05v1.05h-1.05zM170.0 53.9h1.05v1.05h-1.05zM165.3 69.7h1.05v1.05h-1.05zM198.5 91.9h1.05v1.05h-1.05zM163.2 81.7h1.05v1.05h-1.05zM197.5 77.4h1.05v1.05h-1.05zM163.5 63.8h1.05v1.05h-1.05zM178.4 79.9h1.05v1.05h-1.05zM131.5 56.2h1.05v1.05h-1.05zM165.7 72.8h1.05v1.05h-1.05zM158.0 85.8h1.05v1.05h-1.05zM170.2 63.6h1.05v1.05h-1.05zM197.8 83.0h1.05v1.05h-1.05zM175.1 101.2h1.05v1.05h-1.05zM140.5 80.8h1.05v1.05h-1.05zM163.1 86.0h1.05v1.05h-1.05zM158.2 91.2h1.05v1.05h-1.05zM170.4 73.5h1.05v1.05h-1.05zM178.6 76.2h1.05v1.05h-1.05zM174.5 72.2h1.05v1.05h-1.05zM126.6 77.9h1.05v1.05h-1.05zM188.8 91.6h1.05v1.05h-1.05zM144.1 61.0h1.05v1.05h-1.05zM167.1 72.3h1.05v1.05h-1.05zM180.8 90.7h1.05v1.05h-1.05zM184.9 70.5h1.05v1.05h-1.05zM175.0 90.2h1.05v1.05h-1.05zM209.4 85.1h1.05v1.05h-1.05zM175.7 67.2h1.05v1.05h-1.05zM152.4 72.5h1.05v1.05h-1.05zM157.1 84.9h1.05v1.05h-1.05zM174.4 88.8h1.05v1.05h-1.05zM183.9 97.1h1.05v1.05h-1.05zM163.8 61.3h1.05v1.05h-1.05zM173.1 82.9h1.05v1.05h-1.05zM185.0 94.0h1.05v1.05h-1.05zM145.2 95.2h1.05v1.05h-1.05zM159.6 74.1h1.05v1.05h-1.05zM191.7 92.1h1.05v1.05h-1.05zM161.8 103.5h1.05v1.05h-1.05zM163.0 95.0h1.05v1.05h-1.05zM165.5 54.6h1.05v1.05h-1.05zM187.0 86.3h1.05v1.05h-1.05zM155.2 72.8h1.05v1.05h-1.05zM156.9 86.8h1.05v1.05h-1.05zM163.2 64.3h1.05v1.05h-1.05zM171.2 76.7h1.05v1.05h-1.05zM181.2 80.4h1.05v1.05h-1.05zM188.1 78.0h1.05v1.05h-1.05zM163.5 81.2h1.05v1.05h-1.05zM160.1 72.9h1.05v1.05h-1.05zM195.4 81.4h1.05v1.05h-1.05zM167.8 85.2h1.05v1.05h-1.05zM205.7 85.1h1.05v1.05h-1.05zM161.1 85.9h1.05v1.05h-1.05zM177.3 76.6h1.05v1.05h-1.05zM161.0 61.8h1.05v1.05h-1.05zM183.4 77.4h1.05v1.05h-1.05zM180.5 77.1h1.05v1.05h-1.05zM176.2 82.9h1.05v1.05h-1.05zM188.9 63.1h1.05v1.05h-1.05zM194.8 56.6h1.05v1.05h-1.05zM163.7 52.8h1.05v1.05h-1.05zM169.8 73.1h1.05v1.05h-1.05zM178.5 103.9h1.05v1.05h-1.05zM160.1 67.3h1.05v1.05h-1.05zM187.6 99.7h1.05v1.05h-1.05zM181.0 60.0h1.05v1.05h-1.05zM175.7 95.6h1.05v1.05h-1.05zM143.2 48.1h1.05v1.05h-1.05zM202.3 86.8h1.05v1.05h-1.05zM186.4 60.2h1.05v1.05h-1.05zM161.5 85.5h1.05v1.05h-1.05zM198.3 64.5h1.05v1.05h-1.05zM162.5 75.9h1.05v1.05h-1.05zM156.8 70.1h1.05v1.05h-1.05zM202.9 79.1h1.05v1.05h-1.05zM180.6 69.4h1.05v1.05h-1.05zM195.1 64.1h1.05v1.05h-1.05zM176.0 67.3h1.05v1.05h-1.05zM210.8 92.4h1.05v1.05h-1.05zM210.7 83.0h1.05v1.05h-1.05zM175.8 52.8h1.05v1.05h-1.05zM193.9 83.3h1.05v1.05h-1.05zM174.6 66.9h1.05v1.05h-1.05zM173.0 58.8h1.05v1.05h-1.05zM171.2 57.0h1.05v1.05h-1.05zM164.6 82.7h1.05v1.05h-1.05zM199.6 80.4h1.05v1.05h-1.05zM185.5 72.5h1.05v1.05h-1.05zM147.6 85.6h1.05v1.05h-1.05zM192.0 95.4h1.05v1.05h-1.05zM177.4 73.9h1.05v1.05h-1.05zM201.6 74.5h1.05v1.05h-1.05zM143.0 59.9h1.05v1.05h-1.05zM148.1 67.5h1.05v1.05h-1.05zM155.0 71.3h1.05v1.05h-1.05zM148.5 54.4h1.05v1.05h-1.05zM173.9 95.3h1.05v1.05h-1.05zM170.7 88.5h1.05v1.05h-1.05zM171.1 93.0h1.05v1.05h-1.05zM181.1 96.6h1.05v1.05h-1.05zM181.5 70.6h1.05v1.05h-1.05zM175.9 83.9h1.05v1.05h-1.05zM127.5 75.5h1.05v1.05h-1.05zM139.5 81.9h1.05v1.05h-1.05zM186.5 79.6h1.05v1.05h-1.05zM187.2 72.4h1.05v1.05h-1.05zM220.3 83.9h1.05v1.05h-1.05zM210.8 87.7h1.05v1.05h-1.05zM157.6 76.7h1.05v1.05h-1.05zM172.7 74.7h1.05v1.05h-1.05zM173.9 81.5h1.05v1.05h-1.05zM169.4 79.5h1.05v1.05h-1.05zM165.1 95.6h1.05v1.05h-1.05zM181.0 87.8h1.05v1.05h-1.05zM144.6 84.9h1.05v1.05h-1.05zM183.6 87.7h1.05v1.05h-1.05zM179.5 78.0h1.05v1.05h-1.05zM158.7 86.7h1.05v1.05h-1.05zM153.9 54.0h1.05v1.05h-1.05zM199.0 83.4h1.05v1.05h-1.05zM164.7 97.4h1.05v1.05h-1.05zM194.8 70.9h1.05v1.05h-1.05zM172.6 54.5h1.05v1.05h-1.05zM131.7 68.7h1.05v1.05h-1.05zM190.9 79.3h1.05v1.05h-1.05zM154.0 79.0h1.05v1.05h-1.05zM170.5 89.6h1.05v1.05h-1.05zM148.1 89.2h1.05v1.05h-1.05zM176.4 85.9h1.05v1.05h-1.05zM185.6 87.0h1.05v1.05h-1.05zM169.3 91.0h1.05v1.05h-1.05zM188.2 82.1h1.05v1.05h-1.05zM193.3 83.0h1.05v1.05h-1.05zM131.2 57.8h1.05v1.05h-1.05zM173.0 83.6h1.05v1.05h-1.05zM166.0 45.8h1.05v1.05h-1.05zM163.5 74.9h1.05v1.05h-1.05zM138.2 81.5h1.05v1.05h-1.05zM155.9 77.5h1.05v1.05h-1.05zM158.0 57.3h1.05v1.05h-1.05zM191.2 71.9h1.05v1.05h-1.05zM193.6 74.1h1.05v1.05h-1.05zM182.5 95.8h1.05v1.05h-1.05zM192.9 71.2h1.05v1.05h-1.05zM163.3 87.1h1.05v1.05h-1.05zM172.0 49.9h1.05v1.05h-1.05zM154.8 77.2h1.05v1.05h-1.05zM180.4 99.2h1.05v1.05h-1.05zM204.5 100.8h1.05v1.05h-1.05zM181.2 102.9h1.05v1.05h-1.05zM177.6 76.3h1.05v1.05h-1.05zM208.8 92.3h1.05v1.05h-1.05zM160.4 64.4h1.05v1.05h-1.05zM142.2 89.2h1.05v1.05h-1.05zM210.0 81.7h1.05v1.05h-1.05zM168.4 64.2h1.05v1.05h-1.05zM149.1 82.9h1.05v1.05h-1.05zM190.8 85.3h1.05v1.05h-1.05zM156.8 62.8h1.05v1.05h-1.05zM161.0 73.2h1.05v1.05h-1.05zM193.1 86.6h1.05v1.05h-1.05zM183.7 67.6h1.05v1.05h-1.05zM158.3 81.4h1.05v1.05h-1.05zM181.1 86.8h1.05v1.05h-1.05zM138.7 67.7h1.05v1.05h-1.05zM146.2 64.1h1.05v1.05h-1.05zM177.8 59.7h1.05v1.05h-1.05zM124.6 60.6h1.05v1.05h-1.05zM157.6 57.1h1.05v1.05h-1.05zM174.0 66.0h1.05v1.05h-1.05zM187.1 75.3h1.05v1.05h-1.05zM159.7 79.3h1.05v1.05h-1.05zM186.1 89.7h1.05v1.05h-1.05zM176.7 70.6h1.05v1.05h-1.05zM153.7 47.1h1.05v1.05h-1.05zM200.2 86.0h1.05v1.05h-1.05zM192.8 66.8h1.05v1.05h-1.05zM156.8 79.4h1.05v1.05h-1.05zM183.1 95.2h1.05v1.05h-1.05zM185.2 56.4h1.05v1.05h-1.05zM188.0 77.8h1.05v1.05h-1.05zM182.4 69.6h1.05v1.05h-1.05zM187.0 61.4h1.05v1.05h-1.05zM157.3 74.6h1.05v1.05h-1.05zM174.5 60.7h1.05v1.05h-1.05zM174.8 86.7h1.05v1.05h-1.05zM153.9 66.4h1.05v1.05h-1.05zM170.8 81.2h1.05v1.05h-1.05zM172.9 97.2h1.05v1.05h-1.05zM196.0 80.7h1.05v1.05h-1.05zM190.2 92.2h1.05v1.05h-1.05zM143.0 50.1h1.05v1.05h-1.05zM169.7 61.9h1.05v1.05h-1.05zM158.1 70.0h1.05v1.05h-1.05zM186.6 67.3h1.05v1.05h-1.05zM192.8 78.4h1.05v1.05h-1.05zM170.0 65.4h1.05v1.05h-1.05zM123.2 67.5h1.05v1.05h-1.05zM176.7 68.0h1.05v1.05h-1.05zM186.8 86.5h1.05v1.05h-1.05zM194.5 85.0h1.05v1.05h-1.05zM179.7 88.1h1.05v1.05h-1.05zM166.3 66.4h1.05v1.05h-1.05zM135.8 46.2h1.05v1.05h-1.05zM181.0 73.2h1.05v1.05h-1.05zM199.4 86.0h1.05v1.05h-1.05zM190.6 56.5h1.05v1.05h-1.05zM194.2 87.7h1.05v1.05h-1.05zM179.1 77.5h1.05v1.05h-1.05zM119.2 65.5h1.05v1.05h-1.05zM115.7 65.5h1.05v1.05h-1.05zM115.9 60.7h1.05v1.05h-1.05zM117.8 60.1h1.05v1.05h-1.05zM117.7 69.3h1.05v1.05h-1.05zM118.5 68.6h1.05v1.05h-1.05zM119.0 61.5h1.05v1.05h-1.05zM120.1 51.8h1.05v1.05h-1.05zM123.7 68.7h1.05v1.05h-1.05zM128.3 55.5h1.05v1.05h-1.05zM116.9 64.6h1.05v1.05h-1.05zM123.0 62.8h1.05v1.05h-1.05zM117.9 50.9h1.05v1.05h-1.05zM116.1 60.6h1.05v1.05h-1.05zM121.6 68.5h1.05v1.05h-1.05zM122.9 68.7h1.05v1.05h-1.05zM121.6 49.2h1.05v1.05h-1.05zM132.6 68.7h1.05v1.05h-1.05zM132.2 63.3h1.05v1.05h-1.05zM120.5 57.0h1.05v1.05h-1.05zM121.4 66.2h1.05v1.05h-1.05zM136.5 69.5h1.05v1.05h-1.05zM123.3 48.7h1.05v1.05h-1.05zM136.0 66.6h1.05v1.05h-1.05zM211.8 84.6h1.05v1.05h-1.05zM221.4 81.4h1.05v1.05h-1.05zM218.6 81.8h1.05v1.05h-1.05zM216.1 91.8h1.05v1.05h-1.05zM207.5 86.2h1.05v1.05h-1.05zM206.4 91.5h1.05v1.05h-1.05zM198.7 86.5h1.05v1.05h-1.05zM207.3 97.8h1.05v1.05h-1.05zM200.1 98.8h1.05v1.05h-1.05zM187.7 92.3h1.05v1.05h-1.05zM194.4 99.8h1.05v1.05h-1.05zM195.1 102.0h1.05v1.05h-1.05zM210.9 87.6h1.05v1.05h-1.05z"/>
<line x1="42.4" y1="22.0" x2="45" y2="22.0" stroke="#a0a0a0" stroke-width="0.8"/>
<line x1="42.4" y1="49.2" x2="45" y2="49.2" stroke="#a0a0a0" stroke-width="0.8"/>
<line x1="297.6" y1="49.2" x2="299.4" y2="49.2" stroke="#a8a8a8" stroke-width="0.8"/>
<line x1="42.4" y1="76.5" x2="45" y2="76.5" stroke="#a0a0a0" stroke-width="0.8"/>
<line x1="297.6" y1="76.5" x2="299.4" y2="76.5" stroke="#a8a8a8" stroke-width="0.8"/>
<line x1="42.4" y1="103.8" x2="45" y2="103.8" stroke="#a0a0a0" stroke-width="0.8"/>
<line x1="297.6" y1="103.8" x2="299.4" y2="103.8" stroke="#a8a8a8" stroke-width="0.8"/>
<line x1="42.4" y1="131.0" x2="45" y2="131.0" stroke="#a0a0a0" stroke-width="0.8"/>
<line x1="45.2" y1="131" x2="45.2" y2="133" stroke="#a0a0a0" stroke-width="0.8"/>
<line x1="87.5" y1="131" x2="87.5" y2="133" stroke="#a0a0a0" stroke-width="0.8"/>
<line x1="129.8" y1="131" x2="129.8" y2="133" stroke="#a0a0a0" stroke-width="0.8"/>
<line x1="172.1" y1="131" x2="172.1" y2="133" stroke="#a0a0a0" stroke-width="0.8"/>
<line x1="214.4" y1="131" x2="214.4" y2="133" stroke="#a0a0a0" stroke-width="0.8"/>
<line x1="256.7" y1="131" x2="256.7" y2="133" stroke="#a0a0a0" stroke-width="0.8"/>
<line x1="299.0" y1="131" x2="299.0" y2="133" stroke="#a0a0a0" stroke-width="0.8"/>
<text x="40.6" y="24.3" text-anchor="end" font-size="6.6">10</text>
<text x="40.6" y="51.5" text-anchor="end" font-size="6.6">5</text>
<text x="40.6" y="78.8" text-anchor="end" font-size="6.6">0</text>
<text x="40.6" y="106.0" text-anchor="end" font-size="6.6">−5</text>
<text x="40.6" y="133.3" text-anchor="end" font-size="6.6">−10</text>
<text x="45.2" y="141.2" text-anchor="middle" font-size="6.6">−1.5</text>
<text x="87.5" y="141.2" text-anchor="middle" font-size="6.6">−1.0</text>
<text x="129.8" y="141.2" text-anchor="middle" font-size="6.6">−0.5</text>
<text x="172.1" y="141.2" text-anchor="middle" font-size="6.6">0.0</text>
<text x="214.4" y="141.2" text-anchor="middle" font-size="6.6">0.5</text>
<text x="256.7" y="141.2" text-anchor="middle" font-size="6.6">1.0</text>
<text x="299.0" y="141.2" text-anchor="middle" font-size="6.6">1.5</text>
<text x="102.3" y="149.8" font-size="7.3" textLength="139.2" lengthAdjust="spacingAndGlyphs">Δ mag ≡ magnitude offset from fiducial</text>
<text x="0.3" y="9.4" font-size="7.6" textLength="41.6" lengthAdjust="spacingAndGlyphs">KDE(Δ mag)</text>
<text x="312" y="140" font-size="7.2">KDE(<tspan font-style="italic">μ</tspan><tspan font-size="5" dy="1.2">l</tspan><tspan dy="-1.2">)</tspan></text>
<text transform="translate(24.2,90.3) rotate(-90)" font-size="7.3" textLength="30.2" lengthAdjust="spacingAndGlyphs"><tspan font-style="italic">μ</tspan><tspan font-size="5" dy="1.2">l</tspan><tspan dy="-1.2">, mas/yr</tspan></text>
<rect x="45.2" y="165.7" width="253.8" height="21.900000000000002" fill="#e4e4e4"/>
<line x1="87.5" y1="165.7" x2="87.5" y2="187.6" stroke="#f2f2f2" stroke-width="0.8"/>
<line x1="129.8" y1="165.7" x2="129.8" y2="187.6" stroke="#f2f2f2" stroke-width="0.8"/>
<line x1="172.1" y1="165.7" x2="172.1" y2="187.6" stroke="#f2f2f2" stroke-width="0.8"/>
<line x1="214.4" y1="165.7" x2="214.4" y2="187.6" stroke="#f2f2f2" stroke-width="0.8"/>
<line x1="256.7" y1="165.7" x2="256.7" y2="187.6" stroke="#f2f2f2" stroke-width="0.8"/>
<path d="M45.2,187.6 L45.0,187.57999999999998 L46.0,187.52 L47.0,187.45 L48.0,187.39 L49.0,187.32 L50.0,187.25 L51.0,187.18 L52.0,187.1 L53.0,187.03 L54.0,186.95 L55.0,186.87 L56.0,186.79 L57.0,186.71 L58.0,186.63 L59.0,186.54 L60.0,186.46 L61.0,186.37 L62.0,186.28 L63.0,186.2 L64.0,186.11 L65.0,186.02 L66.0,185.93 L67.0,185.82999999999998 L68.0,185.74 L69.0,185.65 L70.0,185.56 L71.0,185.46 L72.0,185.37 L73.0,185.27 L74.0,185.18 L75.0,185.07999999999998 L76.0,184.99 L77.0,184.89 L78.0,184.79 L79.0,184.7 L80.0,184.6 L81.0,184.51 L82.0,184.41 L83.0,184.31 L84.0,184.22 L85.0,184.12 L86.0,184.03 L87.0,183.93 L88.0,183.84 L89.0,183.75 L90.0,183.66 L91.0,183.56 L92.0,183.47 L93.0,183.38 L94.0,183.29 L95.0,183.21 L96.0,183.12 L97.0,183.03 L98.0,182.95 L99.0,182.86 L100.0,182.78 L101.0,182.69 L102.0,182.6 L103.0,182.51 L104.0,182.42000000000002 L105.0,182.32999999999998 L106.0,182.23 L107.0,182.13 L108.0,182.03 L109.0,181.92 L110.0,181.81 L111.0,181.69 L112.0,181.57 L113.0,181.44 L114.0,181.3 L115.0,181.16 L116.0,181.01 L117.0,180.85 L118.0,180.69 L119.0,180.51 L120.0,180.33 L121.0,180.14 L122.0,179.93 L123.0,179.72 L124.0,179.5 L125.0,179.26 L126.0,179.01 L127.0,178.76 L128.0,178.48 L129.0,178.2 L130.0,177.9 L131.0,177.59 L132.0,177.26 L133.0,176.92 L134.0,176.57 L135.0,176.2 L136.0,175.83 L137.0,175.45 L138.0,175.06 L139.0,174.67 L140.0,174.27 L141.0,173.86 L142.0,173.46 L143.0,173.05 L144.0,172.65 L145.0,172.25 L146.0,171.85 L147.0,171.46 L148.0,171.07 L149.0,170.69 L150.0,170.33 L151.0,169.97 L152.0,169.63 L153.0,169.3 L154.0,168.98 L155.0,168.68 L156.0,168.4 L157.0,168.13 L158.0,167.88 L159.0,167.64 L160.0,167.42 L161.0,167.22 L162.0,167.04 L163.0,166.87 L164.0,166.73 L165.0,166.6 L166.0,166.49 L167.0,166.41 L168.0,166.34 L169.0,166.29 L170.0,166.27 L171.0,166.27 L172.0,166.29 L173.0,166.34 L174.0,166.41 L175.0,166.5 L176.0,166.62 L177.0,166.77 L178.0,166.93 L179.0,167.12 L180.0,167.33 L181.0,167.56 L182.0,167.81 L183.0,168.08 L184.0,168.36 L185.0,168.66 L186.0,168.97 L187.0,169.3 L188.0,169.63 L189.0,169.98 L190.0,170.34 L191.0,170.71 L192.0,171.08 L193.0,171.46 L194.0,171.85 L195.0,172.24 L196.0,172.64 L197.0,173.03 L198.0,173.43 L199.0,173.83 L200.0,174.22 L201.0,174.61 L202.0,175.01 L203.0,175.39 L204.0,175.78 L205.0,176.16 L206.0,176.54 L207.0,176.91 L208.0,177.28 L209.0,177.65 L210.0,178.0 L211.0,178.36 L212.0,178.71 L213.0,179.05 L214.0,179.39 L215.0,179.72 L216.0,180.04 L217.0,180.36 L218.0,180.67 L219.0,180.97 L220.0,181.27 L221.0,181.55 L222.0,181.83 L223.0,182.1 L224.0,182.36 L225.0,182.61 L226.0,182.85 L227.0,183.09 L228.0,183.31 L229.0,183.52 L230.0,183.73 L231.0,183.92000000000002 L232.0,184.11 L233.0,184.29 L234.0,184.46 L235.0,184.62 L236.0,184.78 L237.0,184.92000000000002 L238.0,185.06 L239.0,185.2 L240.0,185.32 L241.0,185.44 L242.0,185.55 L243.0,185.66 L244.0,185.76 L245.0,185.85 L246.0,185.94 L247.0,186.02 L248.0,186.1 L249.0,186.17000000000002 L250.0,186.23 L251.0,186.29 L252.0,186.35 L253.0,186.4 L254.0,186.45 L255.0,186.49 L256.0,186.53 L257.0,186.57 L258.0,186.6 L259.0,186.63 L260.0,186.66 L261.0,186.68 L262.0,186.7 L263.0,186.72 L264.0,186.73 L265.0,186.75 L266.0,186.76 L267.0,186.77 L268.0,186.77 L269.0,186.78 L270.0,186.79 L271.0,186.79 L272.0,186.8 L273.0,186.8 L274.0,186.8 L275.0,186.8 L276.0,186.81 L277.0,186.81 L278.0,186.81 L279.0,186.82 L280.0,186.82 L281.0,186.82999999999998 L282.0,186.82999999999998 L283.0,186.84 L284.0,186.85 L285.0,186.86 L286.0,186.87 L287.0,186.89 L288.0,186.91 L289.0,186.93 L290.0,186.95 L291.0,186.98 L292.0,187.01 L293.0,187.04 L294.0,187.07 L295.0,187.11 L296.0,187.16 L297.0,187.2 L298.0,187.26 L299.0,187.31 L299.0,187.6Z" fill="#7d7d7d" fill-opacity="0.57"/>
<path d="M45.0,187.57999999999998 L46.0,187.52 L47.0,187.45 L48.0,187.39 L49.0,187.32 L50.0,187.25 L51.0,187.18 L52.0,187.1 L53.0,187.03 L54.0,186.95 L55.0,186.87 L56.0,186.79 L57.0,186.71 L58.0,186.63 L59.0,186.54 L60.0,186.46 L61.0,186.37 L62.0,186.28 L63.0,186.2 L64.0,186.11 L65.0,186.02 L66.0,185.93 L67.0,185.82999999999998 L68.0,185.74 L69.0,185.65 L70.0,185.56 L71.0,185.46 L72.0,185.37 L73.0,185.27 L74.0,185.18 L75.0,185.07999999999998 L76.0,184.99 L77.0,184.89 L78.0,184.79 L79.0,184.7 L80.0,184.6 L81.0,184.51 L82.0,184.41 L83.0,184.31 L84.0,184.22 L85.0,184.12 L86.0,184.03 L87.0,183.93 L88.0,183.84 L89.0,183.75 L90.0,183.66 L91.0,183.56 L92.0,183.47 L93.0,183.38 L94.0,183.29 L95.0,183.21 L96.0,183.12 L97.0,183.03 L98.0,182.95 L99.0,182.86 L100.0,182.78 L101.0,182.69 L102.0,182.6 L103.0,182.51 L104.0,182.42000000000002 L105.0,182.32999999999998 L106.0,182.23 L107.0,182.13 L108.0,182.03 L109.0,181.92 L110.0,181.81 L111.0,181.69 L112.0,181.57 L113.0,181.44 L114.0,181.3 L115.0,181.16 L116.0,181.01 L117.0,180.85 L118.0,180.69 L119.0,180.51 L120.0,180.33 L121.0,180.14 L122.0,179.93 L123.0,179.72 L124.0,179.5 L125.0,179.26 L126.0,179.01 L127.0,178.76 L128.0,178.48 L129.0,178.2 L130.0,177.9 L131.0,177.59 L132.0,177.26 L133.0,176.92 L134.0,176.57 L135.0,176.2 L136.0,175.83 L137.0,175.45 L138.0,175.06 L139.0,174.67 L140.0,174.27 L141.0,173.86 L142.0,173.46 L143.0,173.05 L144.0,172.65 L145.0,172.25 L146.0,171.85 L147.0,171.46 L148.0,171.07 L149.0,170.69 L150.0,170.33 L151.0,169.97 L152.0,169.63 L153.0,169.3 L154.0,168.98 L155.0,168.68 L156.0,168.4 L157.0,168.13 L158.0,167.88 L159.0,167.64 L160.0,167.42 L161.0,167.22 L162.0,167.04 L163.0,166.87 L164.0,166.73 L165.0,166.6 L166.0,166.49 L167.0,166.41 L168.0,166.34 L169.0,166.29 L170.0,166.27 L171.0,166.27 L172.0,166.29 L173.0,166.34 L174.0,166.41 L175.0,166.5 L176.0,166.62 L177.0,166.77 L178.0,166.93 L179.0,167.12 L180.0,167.33 L181.0,167.56 L182.0,167.81 L183.0,168.08 L184.0,168.36 L185.0,168.66 L186.0,168.97 L187.0,169.3 L188.0,169.63 L189.0,169.98 L190.0,170.34 L191.0,170.71 L192.0,171.08 L193.0,171.46 L194.0,171.85 L195.0,172.24 L196.0,172.64 L197.0,173.03 L198.0,173.43 L199.0,173.83 L200.0,174.22 L201.0,174.61 L202.0,175.01 L203.0,175.39 L204.0,175.78 L205.0,176.16 L206.0,176.54 L207.0,176.91 L208.0,177.28 L209.0,177.65 L210.0,178.0 L211.0,178.36 L212.0,178.71 L213.0,179.05 L214.0,179.39 L215.0,179.72 L216.0,180.04 L217.0,180.36 L218.0,180.67 L219.0,180.97 L220.0,181.27 L221.0,181.55 L222.0,181.83 L223.0,182.1 L224.0,182.36 L225.0,182.61 L226.0,182.85 L227.0,183.09 L228.0,183.31 L229.0,183.52 L230.0,183.73 L231.0,183.92000000000002 L232.0,184.11 L233.0,184.29 L234.0,184.46 L235.0,184.62 L236.0,184.78 L237.0,184.92000000000002 L238.0,185.06 L239.0,185.2 L240.0,185.32 L241.0,185.44 L242.0,185.55 L243.0,185.66 L244.0,185.76 L245.0,185.85 L246.0,185.94 L247.0,186.02 L248.0,186.1 L249.0,186.17000000000002 L250.0,186.23 L251.0,186.29 L252.0,186.35 L253.0,186.4 L254.0,186.45 L255.0,186.49 L256.0,186.53 L257.0,186.57 L258.0,186.6 L259.0,186.63 L260.0,186.66 L261.0,186.68 L262.0,186.7 L263.0,186.72 L264.0,186.73 L265.0,186.75 L266.0,186.76 L267.0,186.77 L268.0,186.77 L269.0,186.78 L270.0,186.79 L271.0,186.79 L272.0,186.8 L273.0,186.8 L274.0,186.8 L275.0,186.8 L276.0,186.81 L277.0,186.81 L278.0,186.81 L279.0,186.82 L280.0,186.82 L281.0,186.82999999999998 L282.0,186.82999999999998 L283.0,186.84 L284.0,186.85 L285.0,186.86 L286.0,186.87 L287.0,186.89 L288.0,186.91 L289.0,186.93 L290.0,186.95 L291.0,186.98 L292.0,187.01 L293.0,187.04 L294.0,187.07 L295.0,187.11 L296.0,187.16 L297.0,187.2 L298.0,187.26 L299.0,187.31" fill="none" stroke="#444" stroke-width="1.05"/>
<rect x="45.2" y="188.0" width="253.8" height="109.0" fill="#f2f2f2"/>
<line x1="87.5" y1="188.0" x2="87.5" y2="189.6" stroke="#999" stroke-width="0.7"/>
<line x1="129.8" y1="188.0" x2="129.8" y2="189.6" stroke="#999" stroke-width="0.7"/>
<line x1="214.4" y1="188.0" x2="214.4" y2="189.6" stroke="#999" stroke-width="0.7"/>
<line x1="256.7" y1="188.0" x2="256.7" y2="189.6" stroke="#999" stroke-width="0.7"/>
<rect x="299.6" y="188.0" width="51" height="109.0" fill="#e4e4e4"/>
<line x1="299.6" y1="215.2" x2="350" y2="215.2" stroke="#f2f2f2" stroke-width="0.8"/>
<line x1="299.6" y1="242.5" x2="350" y2="242.5" stroke="#f2f2f2" stroke-width="0.8"/>
<line x1="299.6" y1="269.8" x2="350" y2="269.8" stroke="#f2f2f2" stroke-width="0.8"/>
<path d="M299.6,188.0 L299.55,187.9 L299.51,188.9 L299.54,189.9 L299.62,190.9 L299.75,191.9 L299.93,192.9 L300.16,193.9 L300.43,194.9 L300.75,195.9 L301.1,196.9 L301.48,197.9 L301.89,198.9 L302.33,199.9 L302.79,200.9 L303.27,201.9 L303.76,202.9 L304.27,203.9 L304.79,204.9 L305.31,205.9 L305.85,206.9 L306.4,207.9 L306.96,208.9 L307.56,209.9 L308.18,210.9 L308.83,211.9 L309.52,212.9 L310.25,213.9 L311.03,214.9 L311.86,215.9 L312.75,216.9 L313.7,217.9 L314.74,218.9 L315.88,219.9 L317.13,220.9 L318.52,221.9 L320.03,222.9 L321.63,223.9 L323.32,224.9 L325.08,225.9 L326.88,226.9 L328.7,227.9 L330.54,228.9 L332.37,229.9 L334.17,230.9 L335.92,231.9 L337.61,232.9 L339.22,233.9 L340.73,234.9 L342.14,235.9 L343.45,236.9 L344.64,237.9 L345.71,238.9 L346.65,239.9 L347.45,240.9 L348.11,241.9 L348.62,242.9 L348.97,243.9 L349.14,244.9 L349.13,245.9 L348.91,246.9 L348.49,247.9 L347.89,248.9 L347.12,249.9 L346.18,250.9 L345.08,251.9 L343.85,252.9 L342.48,253.9 L340.98,254.9 L339.38,255.9 L337.67,256.9 L335.87,257.9 L333.98,258.9 L332.03,259.9 L330.04,260.9 L328.01,261.9 L325.96,262.9 L323.92,263.9 L321.9,264.9 L319.91,265.9 L317.98,266.9 L316.12,267.9 L314.34,268.9 L312.67,269.9 L311.12,270.9 L309.7,271.9 L308.43,272.9 L307.28,273.9 L306.26,274.9 L305.35,275.9 L304.54,276.9 L303.84,277.9 L303.23,278.9 L302.71,279.9 L302.26,280.9 L301.89,281.9 L301.57,282.9 L301.31,283.9 L301.1,284.9 L300.92,285.9 L300.78,286.9 L300.67,287.9 L300.57,288.9 L300.48,289.9 L300.39,290.9 L300.29,291.9 L300.19,292.9 L300.06,293.9 L299.9,294.9 L299.71,295.9 L299.48,296.9 L299.34,297.4 L299.6,297.0Z" fill="#7d7d7d" fill-opacity="0.57"/>
<path d="M299.55,187.9 L299.51,188.9 L299.54,189.9 L299.62,190.9 L299.75,191.9 L299.93,192.9 L300.16,193.9 L300.43,194.9 L300.75,195.9 L301.1,196.9 L301.48,197.9 L301.89,198.9 L302.33,199.9 L302.79,200.9 L303.27,201.9 L303.76,202.9 L304.27,203.9 L304.79,204.9 L305.31,205.9 L305.85,206.9 L306.4,207.9 L306.96,208.9 L307.56,209.9 L308.18,210.9 L308.83,211.9 L309.52,212.9 L310.25,213.9 L311.03,214.9 L311.86,215.9 L312.75,216.9 L313.7,217.9 L314.74,218.9 L315.88,219.9 L317.13,220.9 L318.52,221.9 L320.03,222.9 L321.63,223.9 L323.32,224.9 L325.08,225.9 L326.88,226.9 L328.7,227.9 L330.54,228.9 L332.37,229.9 L334.17,230.9 L335.92,231.9 L337.61,232.9 L339.22,233.9 L340.73,234.9 L342.14,235.9 L343.45,236.9 L344.64,237.9 L345.71,238.9 L346.65,239.9 L347.45,240.9 L348.11,241.9 L348.62,242.9 L348.97,243.9 L349.14,244.9 L349.13,245.9 L348.91,246.9 L348.49,247.9 L347.89,248.9 L347.12,249.9 L346.18,250.9 L345.08,251.9 L343.85,252.9 L342.48,253.9 L340.98,254.9 L339.38,255.9 L337.67,256.9 L335.87,257.9 L333.98,258.9 L332.03,259.9 L330.04,260.9 L328.01,261.9 L325.96,262.9 L323.92,263.9 L321.9,264.9 L319.91,265.9 L317.98,266.9 L316.12,267.9 L314.34,268.9 L312.67,269.9 L311.12,270.9 L309.7,271.9 L308.43,272.9 L307.28,273.9 L306.26,274.9 L305.35,275.9 L304.54,276.9 L303.84,277.9 L303.23,278.9 L302.71,279.9 L302.26,280.9 L301.89,281.9 L301.57,282.9 L301.31,283.9 L301.1,284.9 L300.92,285.9 L300.78,286.9 L300.67,287.9 L300.57,288.9 L300.48,289.9 L300.39,290.9 L300.29,291.9 L300.19,292.9 L300.06,293.9 L299.9,294.9 L299.71,295.9 L299.48,296.9 L299.34,297.4" fill="none" stroke="#444" stroke-width="1.05"/>
<g><path d="M81.0,245.0 L79.9,242.5 L79.5,240.0 L79.7,237.5 L80.9,235.1 L83.1,232.9 L86.2,230.9 L89.6,229.2 L92.8,227.5 L95.3,225.9 L97.3,224.2 L99.2,222.6 L101.2,221.0 L103.3,219.6 L105.4,218.3 L107.6,217.1 L109.8,216.0 L111.9,214.9 L114.0,213.9 L116.0,213.0 L118.1,212.1 L120.1,211.4 L122.1,210.6 L124.0,209.9 L125.7,209.2 L127.5,208.5 L129.2,207.9 L130.9,207.3 L132.6,206.8 L134.3,206.4 L135.9,205.9 L137.6,205.6 L139.2,205.2 L140.8,205.0 L142.4,204.8 L144.0,204.6 L145.5,204.4 L147.0,204.2 L148.3,204.0 L149.7,203.7 L151.1,203.6 L152.4,203.4 L153.8,203.3 L155.1,203.3 L156.4,203.2 L157.7,203.1 L158.9,203.0 L160.1,202.8 L161.2,202.7 L162.4,202.5 L163.6,202.5 L164.8,202.4 L165.9,202.4 L167.1,202.4 L168.3,202.5 L169.4,202.6 L170.6,202.7 L171.7,202.9 L172.8,203.1 L173.9,203.4 L175.0,203.6 L176.1,203.9 L177.1,204.2 L178.2,204.6 L179.2,205.0 L180.2,205.4 L181.2,205.8 L182.2,206.2 L183.2,206.6 L184.2,206.8 L185.2,207.1 L186.2,207.3 L187.2,207.6 L188.1,207.9 L189.1,208.2 L190.1,208.6 L191.0,209.0 L192.0,209.4 L192.9,210.0 L193.7,210.5 L194.6,211.1 L195.4,211.7 L196.2,212.3 L197.0,212.9 L197.8,213.6 L198.6,214.3 L199.3,215.0 L200.1,215.7 L200.8,216.3 L201.8,216.8 L202.8,217.2 L203.8,217.6 L204.9,218.1 L206.0,218.6 L207.0,219.1 L208.1,219.6 L209.1,220.2 L210.1,220.8 L211.2,221.5 L212.2,222.2 L213.2,223.0 L214.2,223.7 L215.2,224.5 L216.3,225.3 L217.8,226.0 L219.4,226.6 L221.1,227.3 L222.9,228.1 L224.6,228.9 L226.3,229.8 L228.0,230.8 L229.8,231.9 L232.0,232.9 L234.9,233.9 L238.4,235.0 L242.3,236.1 L246.7,237.5 L251.3,239.0 L255.1,240.8 L256.7,242.9 L255.6,245.0 L252.8,247.0 L249.1,248.9 L245.3,250.5 L241.8,252.0 L238.9,253.4 L236.5,254.7 L234.5,256.0 L232.5,257.2 L230.6,258.3 L228.9,259.4 L227.5,260.6 L226.2,261.6 L224.9,262.7 L223.6,263.7 L222.3,264.6 L221.0,265.5 L219.7,266.3 L218.4,267.1 L217.2,267.9 L216.0,268.7 L214.8,269.4 L213.5,270.0 L212.3,270.7 L211.1,271.2 L209.9,271.8 L208.6,272.2 L207.4,272.7 L206.3,273.2 L205.3,273.7 L204.3,274.3 L203.4,274.9 L202.5,275.5 L201.5,276.0 L200.6,276.6 L199.6,277.1 L198.6,277.5 L197.7,278.0 L196.7,278.4 L195.7,278.8 L194.7,279.1 L193.7,279.5 L192.7,279.8 L191.8,280.2 L190.8,280.6 L189.9,281.0 L188.9,281.3 L188.0,281.6 L187.0,281.9 L186.0,282.2 L185.0,282.4 L184.0,282.6 L183.0,282.8 L182.0,283.0 L181.0,283.1 L180.0,283.2 L179.0,283.3 L178.0,283.4 L177.0,283.4 L176.0,283.4 L175.0,283.4 L174.0,283.3 L173.0,283.2 L172.0,283.1 L171.0,282.9 L170.0,282.8 L169.0,282.6 L168.1,282.3 L167.1,282.1 L166.2,281.8 L165.2,281.5 L164.3,281.2 L163.3,281.0 L162.3,280.8 L161.3,280.7 L160.2,280.7 L159.1,280.6 L158.0,280.6 L156.9,280.4 L155.8,280.3 L154.7,280.1 L153.6,279.9 L152.5,279.6 L151.4,279.3 L150.3,279.0 L149.2,278.7 L148.1,278.3 L146.9,277.9 L145.7,277.5 L144.4,277.2 L143.0,277.0 L141.6,276.7 L140.1,276.4 L138.6,276.1 L137.2,275.6 L135.7,275.2 L134.2,274.6 L132.7,274.1 L131.2,273.4 L129.7,272.7 L128.1,272.1 L126.3,271.4 L124.5,270.7 L122.6,270.0 L120.8,269.1 L118.9,268.2 L117.1,267.2 L115.2,266.2 L113.4,265.0 L111.4,263.8 L109.1,262.7 L106.7,261.4 L104.2,260.1 L101.7,258.6 L99.3,257.0 L96.8,255.3 L93.9,253.5 L90.3,251.7 L86.5,249.6 L83.2,247.4Z" fill="#d6d6d6"/>
<path d="M106.9,245.0 L106.6,243.2 L106.3,241.4 L106.3,239.6 L106.4,237.8 L106.6,236.0 L107.0,234.2 L107.3,232.5 L107.8,230.7 L108.4,229.0 L109.1,227.3 L110.0,225.7 L111.0,224.2 L112.5,222.9 L114.5,221.8 L116.8,220.9 L119.1,220.1 L121.3,219.4 L123.4,218.7 L125.3,218.0 L127.2,217.4 L129.0,216.8 L130.8,216.3 L132.6,215.9 L134.3,215.4 L135.9,215.0 L137.4,214.6 L138.9,214.2 L140.4,213.8 L141.8,213.5 L143.3,213.3 L144.7,213.1 L146.0,212.8 L147.2,212.4 L148.3,212.0 L149.4,211.6 L150.5,211.3 L151.6,211.0 L152.7,210.7 L153.8,210.5 L155.0,210.3 L156.1,210.1 L157.2,210.0 L158.2,209.9 L159.3,209.8 L160.4,209.8 L161.5,209.8 L162.5,209.8 L163.6,209.8 L164.6,209.9 L165.6,210.0 L166.6,210.2 L167.6,210.3 L168.6,210.4 L169.5,210.5 L170.5,210.5 L171.4,210.5 L172.3,210.5 L173.2,210.6 L174.1,210.7 L175.0,210.8 L175.9,210.9 L176.8,211.1 L177.7,211.3 L178.5,211.5 L179.4,211.7 L180.2,212.0 L181.1,212.2 L181.9,212.5 L182.7,212.8 L183.5,213.2 L184.3,213.5 L185.1,213.8 L186.0,214.0 L186.8,214.2 L187.7,214.4 L188.6,214.5 L189.4,214.7 L190.3,214.9 L191.2,215.2 L192.1,215.5 L192.9,215.8 L193.8,216.1 L194.6,216.4 L195.5,216.8 L196.3,217.2 L197.2,217.6 L198.0,218.1 L198.8,218.5 L199.7,219.0 L200.5,219.5 L201.3,220.1 L202.0,220.6 L202.9,221.2 L203.8,221.7 L204.8,222.1 L205.9,222.5 L207.0,223.0 L208.2,223.5 L209.3,224.0 L210.4,224.6 L211.5,225.2 L212.6,225.8 L213.7,226.5 L214.8,227.3 L215.8,228.1 L216.9,228.9 L218.0,229.8 L219.4,230.6 L221.3,231.3 L223.4,232.0 L225.6,232.8 L227.9,233.8 L230.1,234.8 L232.3,235.9 L235.0,237.1 L238.1,238.4 L241.4,239.8 L243.7,241.4 L243.9,243.2 L241.9,245.0 L238.8,246.7 L235.9,248.2 L233.3,249.6 L230.9,250.9 L228.5,252.0 L226.2,253.1 L224.3,254.1 L222.9,255.2 L221.8,256.2 L220.8,257.3 L219.7,258.2 L218.6,259.2 L217.5,260.0 L216.4,260.9 L215.2,261.7 L214.1,262.4 L212.9,263.1 L211.8,263.8 L210.8,264.4 L209.8,265.1 L208.9,265.8 L208.0,266.4 L207.1,267.1 L206.2,267.6 L205.2,268.2 L204.3,268.7 L203.3,269.2 L202.4,269.6 L201.4,270.1 L200.4,270.4 L199.5,270.8 L198.5,271.1 L197.6,271.4 L196.6,271.7 L195.7,272.0 L194.9,272.4 L194.2,272.9 L193.4,273.4 L192.7,273.9 L191.9,274.3 L191.1,274.7 L190.4,275.1 L189.6,275.5 L188.7,275.9 L187.9,276.2 L187.1,276.5 L186.3,276.8 L185.4,277.1 L184.6,277.3 L183.7,277.6 L182.9,277.8 L182.0,278.0 L181.1,278.1 L180.3,278.3 L179.4,278.5 L178.5,278.7 L177.7,278.8 L176.8,279.0 L175.9,279.1 L175.0,279.2 L174.1,279.2 L173.2,279.3 L172.3,279.3 L171.4,279.3 L170.5,279.3 L169.6,279.2 L168.7,279.2 L167.8,279.1 L166.8,279.0 L165.9,278.8 L165.0,278.6 L164.1,278.4 L163.2,278.2 L162.3,278.0 L161.4,277.7 L160.6,277.4 L159.7,277.1 L158.8,276.8 L157.9,276.4 L157.1,276.1 L156.2,275.8 L155.2,275.6 L154.1,275.4 L153.0,275.3 L151.8,275.2 L150.7,275.0 L149.6,274.8 L148.4,274.5 L147.3,274.2 L146.1,273.9 L145.0,273.5 L143.8,273.1 L142.7,272.6 L141.5,272.1 L140.4,271.5 L139.3,271.0 L138.1,270.3 L137.0,269.7 L135.8,269.0 L134.4,268.4 L132.9,267.9 L131.3,267.3 L129.6,266.6 L128.0,265.9 L126.4,265.1 L124.8,264.3 L123.2,263.3 L121.6,262.3 L120.0,261.3 L118.5,260.1 L117.0,258.9 L115.5,257.7 L114.0,256.3 L112.5,254.9 L111.1,253.4 L109.8,251.9 L108.7,250.2 L107.9,248.5 L107.3,246.8Z" fill="#c6c6c6"/>
<path d="M116.8,245.0 L115.9,243.5 L115.4,241.9 L115.4,240.3 L115.6,238.8 L115.9,237.2 L116.4,235.7 L117.1,234.3 L118.0,232.9 L118.8,231.5 L119.8,230.2 L120.7,228.9 L121.7,227.7 L122.8,226.5 L124.2,225.5 L125.6,224.6 L127.2,223.7 L128.8,223.0 L130.4,222.3 L132.0,221.6 L133.6,221.1 L135.2,220.6 L136.8,220.2 L138.4,219.8 L139.8,219.4 L141.1,219.0 L142.2,218.4 L143.3,217.9 L144.4,217.5 L145.6,217.1 L146.7,216.7 L147.8,216.4 L148.9,216.1 L150.1,215.8 L151.2,215.6 L152.3,215.4 L153.4,215.2 L154.5,215.1 L155.6,215.1 L156.6,215.0 L157.7,215.0 L158.7,215.0 L159.8,215.1 L160.8,215.2 L161.8,215.3 L162.7,215.4 L163.6,215.3 L164.4,215.1 L165.2,214.9 L166.0,214.7 L166.9,214.6 L167.7,214.5 L168.5,214.3 L169.3,214.3 L170.1,214.2 L170.9,214.2 L171.8,214.1 L172.6,214.1 L173.4,214.2 L174.2,214.2 L175.0,214.3 L175.8,214.4 L176.6,214.5 L177.4,214.6 L178.2,214.7 L179.0,214.9 L179.7,215.1 L180.5,215.3 L181.3,215.5 L182.0,215.8 L182.8,216.1 L183.5,216.3 L184.2,216.6 L184.9,217.0 L185.6,217.3 L186.3,217.6 L187.1,217.9 L187.9,218.0 L188.7,218.1 L189.6,218.1 L190.5,218.2 L191.3,218.3 L192.2,218.5 L193.1,218.6 L194.0,218.8 L194.9,219.1 L195.8,219.3 L196.7,219.6 L197.6,219.9 L198.5,220.3 L199.4,220.6 L200.2,221.1 L201.1,221.5 L202.0,222.0 L202.9,222.4 L203.7,223.0 L204.6,223.5 L205.5,224.0 L206.5,224.5 L207.8,224.9 L209.1,225.3 L210.4,225.8 L211.8,226.3 L213.1,226.8 L214.5,227.4 L215.8,228.1 L217.1,228.8 L218.5,229.6 L219.8,230.5 L221.1,231.4 L222.3,232.3 L223.6,233.3 L225.1,234.3 L226.9,235.4 L229.0,236.5 L231.1,237.6 L233.1,238.9 L235.0,240.3 L236.1,241.8 L235.9,243.4 L234.5,245.0 L232.5,246.5 L230.4,247.9 L228.3,249.2 L226.3,250.4 L224.6,251.5 L223.2,252.6 L221.8,253.7 L220.5,254.7 L219.2,255.6 L217.9,256.5 L216.5,257.3 L215.2,258.1 L213.8,258.7 L212.4,259.4 L211.1,259.9 L209.7,260.5 L208.5,261.0 L207.5,261.5 L206.6,262.2 L205.9,262.8 L205.1,263.4 L204.3,264.0 L203.5,264.6 L202.7,265.1 L201.8,265.6 L201.0,266.1 L200.2,266.5 L199.3,266.9 L198.5,267.3 L197.7,267.7 L196.8,268.0 L196.0,268.3 L195.1,268.5 L194.3,268.8 L193.4,269.0 L192.6,269.2 L191.7,269.4 L191.0,269.6 L190.2,269.9 L189.6,270.2 L188.9,270.6 L188.2,270.9 L187.5,271.2 L186.8,271.5 L186.1,271.7 L185.4,272.0 L184.6,272.2 L183.9,272.4 L183.2,272.6 L182.4,272.8 L181.7,272.9 L181.0,273.0 L180.2,273.2 L179.5,273.2 L178.7,273.3 L178.0,273.4 L177.2,273.4 L176.5,273.4 L175.7,273.4 L175.0,273.4 L174.3,273.3 L173.5,273.3 L172.8,273.2 L172.0,273.1 L171.3,272.9 L170.6,272.8 L169.9,272.6 L169.2,272.5 L168.5,272.3 L167.8,272.0 L167.1,271.8 L166.4,271.6 L165.7,271.3 L165.0,271.0 L164.4,270.7 L163.7,270.4 L163.0,270.2 L162.2,270.0 L161.4,270.0 L160.6,269.9 L159.8,269.9 L158.9,269.8 L158.0,269.7 L157.2,269.5 L156.3,269.4 L155.4,269.2 L154.6,268.9 L153.7,268.7 L152.8,268.4 L151.9,268.1 L151.0,267.7 L150.2,267.4 L149.3,267.0 L148.4,266.5 L147.6,266.0 L146.7,265.6 L145.9,265.0 L145.0,264.5 L144.2,263.9 L143.2,263.3 L142.1,262.8 L140.9,262.4 L139.5,261.9 L138.1,261.4 L136.8,260.8 L135.4,260.2 L134.1,259.5 L132.7,258.7 L131.4,257.9 L130.1,257.0 L128.8,256.1 L127.5,255.1 L126.3,254.0 L125.0,252.9 L123.7,251.8 L122.3,250.5 L120.9,249.3 L119.5,247.9 L118.1,246.5Z" fill="#b4b4b4"/>
<path d="M121.9,245.0 L121.1,243.6 L120.6,242.1 L120.5,240.7 L120.7,239.3 L121.0,237.9 L121.6,236.5 L122.2,235.2 L123.0,233.9 L123.8,232.7 L124.7,231.5 L125.6,230.4 L126.5,229.2 L127.5,228.2 L128.6,227.2 L129.9,226.3 L131.2,225.5 L132.5,224.7 L133.9,224.0 L135.2,223.4 L136.6,222.8 L138.0,222.3 L139.3,221.8 L140.7,221.4 L142.0,221.0 L143.1,220.5 L144.2,220.1 L145.3,219.6 L146.3,219.2 L147.4,218.8 L148.5,218.5 L149.5,218.2 L150.6,217.9 L151.7,217.7 L152.7,217.5 L153.8,217.3 L154.8,217.2 L155.8,217.1 L156.8,217.0 L157.8,217.0 L158.8,216.9 L159.7,216.8 L160.6,216.8 L161.5,216.8 L162.4,216.8 L163.3,216.7 L164.1,216.6 L164.9,216.4 L165.7,216.2 L166.4,216.1 L167.2,216.0 L168.0,215.8 L168.8,215.7 L169.6,215.7 L170.3,215.6 L171.1,215.6 L171.9,215.6 L172.7,215.6 L173.5,215.6 L174.2,215.7 L175.0,215.7 L175.8,215.8 L176.5,215.9 L177.3,216.1 L178.0,216.2 L178.8,216.4 L179.5,216.6 L180.2,216.8 L181.0,217.0 L181.7,217.2 L182.4,217.5 L183.1,217.8 L183.8,218.1 L184.4,218.4 L185.1,218.7 L185.8,219.0 L186.5,219.2 L187.2,219.4 L188.0,219.4 L188.9,219.4 L189.7,219.5 L190.5,219.6 L191.4,219.8 L192.2,219.9 L193.1,220.1 L193.9,220.3 L194.8,220.6 L195.6,220.8 L196.5,221.1 L197.4,221.4 L198.2,221.8 L199.0,222.2 L199.9,222.6 L200.7,223.0 L201.6,223.5 L202.4,224.0 L203.2,224.5 L204.1,225.0 L205.0,225.5 L206.0,226.0 L207.2,226.4 L208.3,226.9 L209.5,227.4 L210.7,228.0 L211.9,228.6 L213.1,229.2 L214.4,229.9 L215.6,230.6 L216.8,231.4 L218.0,232.3 L219.2,233.2 L220.4,234.1 L221.7,235.1 L223.2,236.1 L224.9,237.1 L226.6,238.2 L228.2,239.4 L229.6,240.7 L230.4,242.1 L230.0,243.6 L228.8,245.0 L227.1,246.4 L225.4,247.6 L223.6,248.8 L221.9,249.9 L220.4,251.0 L219.1,252.0 L217.8,252.9 L216.5,253.8 L215.3,254.7 L214.0,255.4 L212.8,256.2 L211.6,256.9 L210.4,257.5 L209.3,258.2 L208.2,258.7 L207.0,259.3 L206.0,259.8 L205.1,260.3 L204.3,260.9 L203.5,261.5 L202.8,262.0 L202.0,262.5 L201.2,263.0 L200.4,263.5 L199.7,263.9 L198.9,264.3 L198.1,264.7 L197.3,265.0 L196.5,265.4 L195.6,265.6 L194.8,265.9 L194.0,266.1 L193.2,266.3 L192.4,266.5 L191.6,266.7 L190.8,266.8 L190.1,266.9 L189.3,267.1 L188.6,267.2 L188.0,267.5 L187.4,267.8 L186.8,268.1 L186.2,268.4 L185.5,268.7 L184.9,268.9 L184.3,269.2 L183.7,269.4 L183.0,269.6 L182.4,269.8 L181.7,270.0 L181.0,270.2 L180.4,270.3 L179.7,270.5 L179.0,270.6 L178.4,270.7 L177.7,270.7 L177.0,270.8 L176.4,270.8 L175.7,270.9 L175.0,270.9 L174.3,270.9 L173.6,270.8 L173.0,270.8 L172.3,270.7 L171.6,270.6 L171.0,270.5 L170.3,270.4 L169.6,270.3 L169.0,270.1 L168.3,269.9 L167.7,269.8 L167.0,269.6 L166.4,269.3 L165.7,269.1 L165.1,268.8 L164.5,268.6 L163.9,268.4 L163.2,268.2 L162.5,268.1 L161.7,268.0 L161.0,267.9 L160.2,267.7 L159.5,267.6 L158.7,267.4 L158.0,267.2 L157.2,266.9 L156.5,266.7 L155.7,266.5 L154.8,266.3 L153.9,266.1 L153.0,265.9 L152.1,265.6 L151.2,265.3 L150.3,265.0 L149.4,264.6 L148.5,264.2 L147.6,263.8 L146.7,263.3 L145.9,262.9 L144.9,262.4 L143.8,261.9 L142.7,261.5 L141.4,261.0 L140.2,260.5 L139.0,259.9 L137.7,259.3 L136.5,258.6 L135.3,257.9 L134.1,257.1 L133.0,256.3 L131.9,255.4 L130.8,254.4 L129.7,253.4 L128.6,252.3 L127.5,251.3 L126.3,250.1 L125.2,248.9 L124.0,247.7 L122.9,246.4Z" fill="#a0a0a0"/>
<path d="M126.9,245.0 L126.2,243.7 L125.8,242.4 L125.6,241.1 L125.7,239.8 L126.1,238.6 L126.7,237.3 L127.3,236.2 L128.1,235.0 L128.8,233.9 L129.6,232.8 L130.4,231.8 L131.2,230.8 L132.1,229.8 L133.1,228.9 L134.1,228.1 L135.2,227.3 L136.2,226.5 L137.4,225.8 L138.5,225.2 L139.6,224.6 L140.8,224.0 L141.9,223.5 L143.0,223.0 L144.2,222.6 L145.2,222.1 L146.2,221.7 L147.2,221.3 L148.2,220.9 L149.2,220.6 L150.3,220.3 L151.3,220.0 L152.3,219.8 L153.3,219.6 L154.3,219.4 L155.3,219.3 L156.2,219.2 L157.2,219.1 L158.1,219.0 L159.0,218.9 L159.9,218.8 L160.7,218.6 L161.5,218.5 L162.3,218.3 L163.1,218.2 L163.8,218.1 L164.6,217.9 L165.3,217.7 L166.1,217.6 L166.8,217.4 L167.6,217.3 L168.3,217.2 L169.1,217.1 L169.8,217.1 L170.6,217.0 L171.3,217.0 L172.1,217.0 L172.8,217.0 L173.5,217.0 L174.3,217.1 L175.0,217.2 L175.7,217.3 L176.4,217.4 L177.2,217.5 L177.9,217.7 L178.6,217.8 L179.3,218.0 L180.0,218.2 L180.6,218.4 L181.3,218.7 L182.0,218.9 L182.6,219.2 L183.3,219.5 L183.9,219.8 L184.6,220.1 L185.2,220.4 L185.9,220.6 L186.6,220.7 L187.4,220.7 L188.2,220.8 L188.9,220.8 L189.7,220.9 L190.6,221.1 L191.4,221.2 L192.2,221.4 L193.0,221.6 L193.8,221.8 L194.6,222.0 L195.4,222.3 L196.2,222.6 L197.0,223.0 L197.9,223.3 L198.7,223.7 L199.5,224.1 L200.3,224.6 L201.0,225.0 L201.8,225.5 L202.6,226.0 L203.5,226.5 L204.3,227.0 L205.2,227.5 L206.2,228.1 L207.1,228.6 L208.2,229.2 L209.3,229.7 L210.4,230.3 L211.6,231.0 L212.7,231.6 L213.8,232.4 L215.0,233.2 L216.1,234.0 L217.2,234.9 L218.3,235.8 L219.5,236.7 L220.8,237.7 L222.1,238.8 L223.3,239.9 L224.3,241.1 L224.6,242.4 L224.1,243.7 L223.0,245.0 L221.7,246.2 L220.3,247.4 L218.9,248.5 L217.5,249.5 L216.2,250.4 L214.9,251.3 L213.7,252.2 L212.5,253.0 L211.3,253.7 L210.1,254.4 L209.0,255.1 L208.0,255.7 L207.0,256.3 L206.1,257.0 L205.2,257.5 L204.4,258.1 L203.5,258.6 L202.7,259.1 L201.9,259.6 L201.2,260.1 L200.5,260.6 L199.7,261.1 L199.0,261.5 L198.2,261.9 L197.5,262.2 L196.7,262.6 L195.9,262.9 L195.2,263.2 L194.4,263.4 L193.6,263.6 L192.9,263.8 L192.1,264.0 L191.4,264.2 L190.6,264.3 L189.9,264.4 L189.1,264.4 L188.4,264.5 L187.7,264.5 L187.0,264.6 L186.4,264.8 L185.9,265.0 L185.4,265.3 L184.8,265.6 L184.3,265.9 L183.8,266.2 L183.2,266.4 L182.7,266.7 L182.1,266.9 L181.5,267.1 L181.0,267.3 L180.4,267.5 L179.8,267.6 L179.2,267.8 L178.6,267.9 L178.0,268.0 L177.4,268.1 L176.8,268.2 L176.2,268.3 L175.6,268.3 L175.0,268.4 L174.4,268.4 L173.8,268.4 L173.2,268.4 L172.5,268.3 L171.9,268.3 L171.3,268.2 L170.7,268.2 L170.1,268.1 L169.5,268.0 L168.9,267.8 L168.3,267.7 L167.7,267.6 L167.1,267.4 L166.5,267.2 L165.9,267.0 L165.3,266.8 L164.7,266.6 L164.1,266.4 L163.5,266.2 L162.8,266.1 L162.2,265.9 L161.6,265.7 L160.9,265.5 L160.3,265.2 L159.7,265.0 L159.1,264.7 L158.4,264.4 L157.7,264.3 L156.8,264.2 L155.9,264.1 L155.0,264.0 L154.1,263.8 L153.2,263.7 L152.2,263.4 L151.3,263.2 L150.3,262.9 L149.4,262.6 L148.5,262.2 L147.5,261.8 L146.6,261.4 L145.5,261.0 L144.4,260.6 L143.3,260.1 L142.2,259.6 L141.1,259.0 L140.0,258.4 L139.0,257.8 L137.9,257.1 L136.9,256.3 L135.9,255.5 L135.0,254.6 L134.0,253.7 L133.1,252.8 L132.2,251.8 L131.3,250.8 L130.4,249.7 L129.5,248.6 L128.6,247.4 L127.7,246.2Z" fill="#8c8c8c"/>
<path d="M131.9,245.0 L131.4,243.9 L130.9,242.7 L130.7,241.5 L130.8,240.3 L131.2,239.2 L131.8,238.2 L132.4,237.1 L133.1,236.1 L133.8,235.1 L134.5,234.1 L135.2,233.2 L136.0,232.3 L136.7,231.4 L137.5,230.6 L138.3,229.8 L139.2,229.0 L140.0,228.3 L140.9,227.6 L141.8,227.0 L142.7,226.4 L143.6,225.8 L144.6,225.2 L145.5,224.7 L146.4,224.3 L147.4,223.8 L148.3,223.4 L149.3,223.0 L150.2,222.7 L151.2,222.4 L152.1,222.1 L153.1,221.9 L154.0,221.7 L155.0,221.5 L155.9,221.4 L156.8,221.3 L157.7,221.2 L158.6,221.2 L159.5,221.1 L160.3,221.0 L161.0,220.8 L161.7,220.5 L162.4,220.3 L163.1,220.0 L163.8,219.8 L164.5,219.6 L165.2,219.4 L165.9,219.3 L166.6,219.1 L167.3,219.0 L168.0,218.9 L168.7,218.8 L169.4,218.7 L170.1,218.7 L170.8,218.6 L171.5,218.6 L172.2,218.6 L172.9,218.6 L173.6,218.7 L174.3,218.7 L175.0,218.8 L175.7,218.9 L176.4,219.0 L177.0,219.2 L177.7,219.3 L178.4,219.5 L179.0,219.7 L179.7,219.8 L180.3,220.1 L180.9,220.3 L181.6,220.5 L182.2,220.8 L182.8,221.1 L183.4,221.4 L184.0,221.7 L184.6,221.9 L185.2,222.1 L185.9,222.2 L186.6,222.2 L187.4,222.2 L188.1,222.3 L188.9,222.4 L189.6,222.5 L190.4,222.6 L191.1,222.8 L191.9,223.0 L192.7,223.2 L193.4,223.4 L194.2,223.7 L195.0,223.9 L195.8,224.2 L196.5,224.6 L197.3,224.9 L198.0,225.3 L198.8,225.7 L199.5,226.2 L200.3,226.6 L201.0,227.1 L201.7,227.6 L202.5,228.2 L203.2,228.7 L203.9,229.3 L204.7,229.9 L205.6,230.4 L206.6,230.9 L207.6,231.5 L208.7,232.1 L209.7,232.7 L210.7,233.4 L211.7,234.1 L212.7,234.9 L213.7,235.7 L214.7,236.6 L215.6,237.5 L216.6,238.4 L217.5,239.4 L218.3,240.4 L218.8,241.6 L218.8,242.7 L218.1,243.9 L217.2,245.0 L216.2,246.1 L215.2,247.1 L214.2,248.1 L213.1,249.0 L212.0,249.9 L210.9,250.7 L209.8,251.4 L208.6,252.1 L207.5,252.8 L206.3,253.4 L205.3,254.0 L204.5,254.6 L203.8,255.2 L203.1,255.8 L202.4,256.4 L201.8,256.9 L201.1,257.4 L200.4,257.9 L199.7,258.4 L199.0,258.8 L198.2,259.2 L197.5,259.6 L196.8,260.0 L196.1,260.3 L195.3,260.6 L194.6,260.9 L193.9,261.1 L193.2,261.3 L192.4,261.5 L191.7,261.7 L191.0,261.8 L190.3,262.0 L189.6,262.0 L188.8,262.1 L188.2,262.1 L187.5,262.2 L186.8,262.1 L186.1,262.1 L185.5,262.1 L184.9,262.2 L184.5,262.4 L184.0,262.7 L183.6,263.0 L183.1,263.2 L182.7,263.5 L182.2,263.7 L181.7,264.0 L181.2,264.2 L180.8,264.4 L180.3,264.6 L179.8,264.8 L179.2,265.0 L178.7,265.1 L178.2,265.3 L177.7,265.4 L177.2,265.5 L176.6,265.6 L176.1,265.7 L175.5,265.8 L175.0,265.9 L174.5,265.9 L173.9,266.0 L173.3,266.0 L172.8,266.0 L172.2,266.0 L171.7,266.0 L171.1,266.0 L170.6,265.9 L170.0,265.8 L169.4,265.8 L168.9,265.7 L168.3,265.6 L167.8,265.4 L167.2,265.3 L166.7,265.2 L166.1,265.0 L165.6,264.8 L165.0,264.6 L164.5,264.4 L163.9,264.2 L163.4,263.9 L162.9,263.7 L162.3,263.4 L161.8,263.1 L161.3,262.8 L160.8,262.5 L160.3,262.3 L159.6,262.1 L158.8,262.1 L157.9,262.1 L156.9,262.1 L156.0,262.1 L155.1,262.0 L154.1,261.9 L153.1,261.8 L152.2,261.6 L151.2,261.4 L150.2,261.1 L149.2,260.8 L148.2,260.5 L147.2,260.1 L146.3,259.6 L145.3,259.2 L144.3,258.7 L143.3,258.1 L142.4,257.5 L141.4,256.9 L140.5,256.2 L139.6,255.5 L138.8,254.7 L138.0,253.9 L137.2,253.0 L136.5,252.1 L135.8,251.2 L135.1,250.3 L134.4,249.3 L133.7,248.2 L133.1,247.2 L132.5,246.1Z" fill="#787878"/>
<path d="M135.6,245.0 L135.3,244.0 L135.1,242.9 L135.1,241.9 L135.2,240.8 L135.6,239.8 L136.2,238.9 L136.8,237.9 L137.4,237.0 L138.1,236.1 L138.9,235.3 L139.6,234.5 L140.4,233.8 L141.3,233.1 L142.1,232.4 L143.0,231.7 L143.8,231.1 L144.7,230.6 L145.6,230.0 L146.5,229.5 L147.4,229.1 L148.3,228.6 L149.2,228.2 L150.1,227.9 L151.0,227.5 L151.8,227.2 L152.7,226.9 L153.5,226.7 L154.4,226.4 L155.2,226.2 L156.0,226.0 L156.8,225.9 L157.7,225.7 L158.5,225.6 L159.2,225.5 L160.0,225.4 L160.7,225.3 L161.5,225.3 L162.2,225.2 L162.8,225.2 L163.5,225.1 L164.1,224.9 L164.7,224.8 L165.3,224.7 L165.9,224.6 L166.5,224.4 L167.1,224.3 L167.6,224.2 L168.2,224.2 L168.8,224.1 L169.4,224.1 L170.0,224.0 L170.5,224.0 L171.1,224.0 L171.7,224.0 L172.2,224.1 L172.8,224.1 L173.4,224.1 L173.9,224.1 L174.5,224.1 L175.0,224.2 L175.5,224.2 L176.1,224.3 L176.6,224.4 L177.2,224.5 L177.7,224.6 L178.2,224.7 L178.7,224.9 L179.2,225.0 L179.8,225.2 L180.3,225.4 L180.8,225.5 L181.3,225.7 L181.8,225.8 L182.3,226.0 L182.8,226.2 L183.3,226.3 L183.9,226.4 L184.5,226.4 L185.0,226.5 L185.6,226.6 L186.2,226.7 L186.8,226.8 L187.4,227.0 L188.0,227.1 L188.6,227.2 L189.3,227.4 L189.9,227.6 L190.5,227.8 L191.1,228.0 L191.8,228.2 L192.4,228.5 L193.0,228.8 L193.7,229.1 L194.3,229.4 L195.0,229.7 L195.6,230.0 L196.3,230.4 L196.9,230.8 L197.6,231.2 L198.2,231.6 L198.9,232.0 L199.6,232.5 L200.3,232.9 L201.2,233.4 L202.0,233.8 L202.8,234.3 L203.7,234.8 L204.5,235.4 L205.3,236.0 L206.2,236.7 L207.0,237.3 L207.7,238.0 L208.5,238.8 L209.2,239.6 L210.0,240.4 L210.6,241.3 L211.1,242.2 L211.3,243.1 L211.1,244.1 L210.8,245.0 L210.4,245.9 L210.0,246.8 L209.5,247.7 L209.0,248.6 L208.4,249.4 L207.7,250.2 L207.1,250.9 L206.4,251.7 L205.6,252.3 L204.8,253.0 L204.1,253.6 L203.4,254.2 L202.8,254.8 L202.2,255.4 L201.5,256.0 L200.9,256.5 L200.2,257.0 L199.5,257.5 L198.8,257.9 L198.1,258.4 L197.4,258.8 L196.7,259.1 L196.0,259.5 L195.3,259.8 L194.6,260.1 L193.9,260.3 L193.2,260.6 L192.5,260.8 L191.9,261.0 L191.2,261.2 L190.5,261.3 L189.8,261.5 L189.2,261.6 L188.5,261.7 L187.9,261.8 L187.2,261.9 L186.6,261.9 L186.0,262.0 L185.4,262.0 L184.9,262.1 L184.4,262.3 L183.9,262.4 L183.4,262.6 L182.9,262.7 L182.4,262.9 L181.9,263.1 L181.4,263.2 L181.0,263.4 L180.5,263.5 L180.0,263.6 L179.5,263.7 L179.0,263.8 L178.5,263.9 L178.0,264.0 L177.5,264.0 L177.0,264.1 L176.5,264.2 L176.0,264.2 L175.5,264.3 L175.0,264.3 L174.5,264.4 L174.0,264.4 L173.5,264.4 L173.0,264.4 L172.5,264.4 L171.9,264.3 L171.4,264.3 L170.9,264.2 L170.4,264.2 L169.9,264.1 L169.3,264.1 L168.8,264.0 L168.3,263.9 L167.8,263.9 L167.2,263.7 L166.7,263.6 L166.2,263.5 L165.7,263.3 L165.1,263.2 L164.6,263.0 L164.1,262.9 L163.5,262.7 L163.0,262.5 L162.4,262.3 L161.9,262.1 L161.3,261.9 L160.7,261.7 L160.1,261.6 L159.4,261.5 L158.6,261.4 L157.8,261.3 L157.0,261.2 L156.2,261.1 L155.3,260.9 L154.5,260.7 L153.7,260.5 L152.8,260.2 L152.0,260.0 L151.1,259.7 L150.2,259.3 L149.3,259.0 L148.4,258.6 L147.5,258.1 L146.6,257.6 L145.7,257.1 L144.8,256.6 L143.9,256.0 L143.1,255.4 L142.3,254.7 L141.5,254.0 L140.7,253.2 L139.9,252.5 L139.2,251.6 L138.5,250.8 L137.9,249.9 L137.3,249.0 L136.8,248.0 L136.3,247.0 L135.9,246.0Z" fill="#646464"/>
<path d="M139.2,245.0 L139.2,244.1 L139.3,243.1 L139.5,242.2 L139.7,241.3 L140.1,240.4 L140.6,239.6 L141.2,238.7 L141.8,237.9 L142.5,237.2 L143.3,236.5 L144.1,235.8 L144.9,235.2 L145.8,234.7 L146.7,234.1 L147.6,233.6 L148.5,233.2 L149.4,232.8 L150.3,232.4 L151.2,232.1 L152.1,231.8 L152.9,231.5 L153.8,231.2 L154.6,231.0 L155.5,230.8 L156.3,230.6 L157.0,230.5 L157.8,230.3 L158.5,230.1 L159.2,230.0 L159.9,229.9 L160.6,229.8 L161.3,229.8 L161.9,229.7 L162.5,229.6 L163.1,229.5 L163.7,229.4 L164.3,229.4 L164.8,229.3 L165.4,229.3 L165.9,229.3 L166.5,229.3 L167.0,229.4 L167.5,229.3 L168.0,229.3 L168.5,229.3 L169.0,229.2 L169.4,229.2 L169.9,229.2 L170.3,229.2 L170.8,229.2 L171.2,229.3 L171.7,229.3 L172.1,229.4 L172.5,229.4 L173.0,229.5 L173.4,229.5 L173.8,229.5 L174.2,229.5 L174.6,229.5 L175.0,229.5 L175.4,229.6 L175.8,229.6 L176.2,229.6 L176.6,229.7 L177.0,229.8 L177.4,229.8 L177.8,229.9 L178.2,230.0 L178.6,230.1 L179.0,230.2 L179.4,230.2 L179.8,230.3 L180.2,230.3 L180.6,230.3 L181.0,230.4 L181.5,230.5 L181.9,230.6 L182.3,230.7 L182.7,230.8 L183.1,230.9 L183.6,231.0 L184.0,231.2 L184.4,231.3 L184.9,231.4 L185.4,231.5 L185.8,231.6 L186.3,231.7 L186.8,231.9 L187.3,232.0 L187.8,232.2 L188.3,232.4 L188.8,232.6 L189.3,232.8 L189.8,233.0 L190.4,233.2 L191.0,233.4 L191.5,233.6 L192.1,233.9 L192.7,234.2 L193.3,234.4 L193.9,234.8 L194.5,235.1 L195.1,235.4 L195.8,235.8 L196.4,236.1 L197.0,236.5 L197.7,237.0 L198.3,237.4 L198.9,237.9 L199.6,238.4 L200.2,239.0 L200.8,239.5 L201.4,240.1 L201.9,240.7 L202.4,241.4 L202.9,242.1 L203.4,242.8 L203.8,243.5 L204.1,244.2 L204.4,245.0 L204.6,245.8 L204.7,246.6 L204.8,247.3 L204.8,248.1 L204.7,248.9 L204.6,249.7 L204.4,250.4 L204.1,251.2 L203.7,251.9 L203.3,252.6 L202.9,253.3 L202.4,253.9 L201.8,254.5 L201.2,255.1 L200.6,255.6 L200.0,256.1 L199.4,256.6 L198.7,257.1 L198.0,257.5 L197.3,257.9 L196.6,258.3 L196.0,258.6 L195.3,258.9 L194.6,259.2 L193.9,259.5 L193.2,259.8 L192.6,260.0 L191.9,260.2 L191.3,260.5 L190.7,260.7 L190.0,260.8 L189.4,261.0 L188.8,261.2 L188.2,261.3 L187.6,261.4 L187.0,261.5 L186.5,261.7 L185.9,261.8 L185.4,261.9 L184.8,262.0 L184.3,262.1 L183.7,262.2 L183.2,262.2 L182.7,262.2 L182.2,262.3 L181.7,262.4 L181.2,262.4 L180.7,262.5 L180.2,262.6 L179.7,262.6 L179.2,262.6 L178.8,262.7 L178.3,262.7 L177.8,262.7 L177.3,262.7 L176.9,262.6 L176.4,262.6 L175.9,262.7 L175.5,262.7 L175.0,262.7 L174.5,262.8 L174.1,262.8 L173.6,262.8 L173.1,262.7 L172.7,262.7 L172.2,262.7 L171.7,262.6 L171.3,262.5 L170.8,262.5 L170.3,262.5 L169.8,262.5 L169.3,262.5 L168.8,262.4 L168.3,262.4 L167.8,262.3 L167.3,262.3 L166.8,262.2 L166.3,262.1 L165.8,262.0 L165.3,261.9 L164.7,261.8 L164.1,261.7 L163.6,261.6 L163.0,261.5 L162.4,261.4 L161.8,261.3 L161.2,261.2 L160.6,261.0 L160.0,260.8 L159.4,260.6 L158.7,260.5 L158.0,260.3 L157.3,260.1 L156.6,259.9 L155.9,259.6 L155.2,259.4 L154.5,259.1 L153.7,258.8 L152.9,258.5 L152.1,258.2 L151.4,257.8 L150.6,257.4 L149.8,257.0 L148.9,256.6 L148.1,256.1 L147.3,255.6 L146.5,255.1 L145.7,254.5 L144.9,253.9 L144.1,253.3 L143.4,252.6 L142.6,251.9 L142.0,251.1 L141.4,250.3 L140.8,249.5 L140.3,248.6 L139.9,247.8 L139.6,246.9 L139.4,245.9Z" fill="#505050"/>
<path d="M146.7,245.0 L146.7,244.3 L146.8,243.5 L147.0,242.8 L147.2,242.1 L147.6,241.4 L148.0,240.7 L148.4,240.1 L148.9,239.5 L149.5,238.9 L150.1,238.3 L150.8,237.8 L151.5,237.4 L152.2,236.9 L152.9,236.5 L153.6,236.1 L154.3,235.8 L155.0,235.5 L155.8,235.2 L156.5,234.9 L157.2,234.7 L157.8,234.5 L158.5,234.3 L159.1,234.1 L159.8,234.0 L160.4,233.8 L161.0,233.7 L161.6,233.6 L162.2,233.4 L162.7,233.3 L163.3,233.3 L163.8,233.2 L164.3,233.2 L164.8,233.1 L165.3,233.1 L165.8,233.0 L166.2,232.9 L166.7,232.9 L167.1,232.8 L167.5,232.8 L168.0,232.8 L168.4,232.8 L168.8,232.8 L169.2,232.8 L169.6,232.8 L170.0,232.8 L170.3,232.8 L170.7,232.8 L171.0,232.8 L171.4,232.8 L171.7,232.8 L172.1,232.8 L172.4,232.8 L172.7,232.8 L173.1,232.9 L173.4,232.9 L173.7,233.0 L174.1,233.0 L174.4,233.0 L174.7,233.0 L175.0,233.0 L175.3,233.0 L175.6,233.1 L175.9,233.1 L176.2,233.1 L176.6,233.1 L176.9,233.2 L177.2,233.3 L177.5,233.3 L177.8,233.4 L178.1,233.4 L178.4,233.5 L178.7,233.5 L179.0,233.6 L179.4,233.6 L179.7,233.7 L180.0,233.7 L180.3,233.8 L180.7,233.9 L181.0,233.9 L181.3,234.0 L181.7,234.1 L182.0,234.2 L182.4,234.3 L182.7,234.4 L183.1,234.5 L183.5,234.6 L183.8,234.7 L184.2,234.8 L184.6,234.9 L185.0,235.0 L185.4,235.1 L185.8,235.3 L186.2,235.4 L186.6,235.6 L187.1,235.7 L187.5,235.9 L187.9,236.1 L188.4,236.3 L188.9,236.5 L189.3,236.7 L189.8,236.9 L190.3,237.2 L190.8,237.4 L191.3,237.7 L191.9,238.0 L192.4,238.3 L192.9,238.7 L193.4,239.0 L194.0,239.4 L194.5,239.8 L195.0,240.2 L195.5,240.6 L196.0,241.1 L196.5,241.6 L197.0,242.1 L197.4,242.6 L197.8,243.2 L198.2,243.8 L198.5,244.4 L198.8,245.0 L199.0,245.6 L199.2,246.3 L199.3,246.9 L199.3,247.6 L199.3,248.2 L199.2,248.8 L199.1,249.5 L198.9,250.1 L198.7,250.7 L198.4,251.3 L198.0,251.8 L197.6,252.4 L197.2,252.9 L196.8,253.4 L196.3,253.8 L195.8,254.2 L195.3,254.7 L194.7,255.0 L194.2,255.4 L193.6,255.7 L193.0,256.1 L192.5,256.3 L191.9,256.6 L191.3,256.9 L190.8,257.1 L190.2,257.3 L189.7,257.5 L189.1,257.7 L188.6,257.9 L188.1,258.1 L187.5,258.2 L187.0,258.4 L186.5,258.5 L186.0,258.6 L185.5,258.7 L185.0,258.8 L184.6,258.9 L184.1,259.0 L183.6,259.1 L183.2,259.2 L182.7,259.2 L182.3,259.3 L181.8,259.3 L181.4,259.4 L181.0,259.4 L180.5,259.5 L180.1,259.5 L179.7,259.6 L179.3,259.6 L178.9,259.6 L178.5,259.7 L178.1,259.7 L177.7,259.7 L177.3,259.7 L176.9,259.6 L176.5,259.6 L176.2,259.7 L175.8,259.7 L175.4,259.7 L175.0,259.7 L174.6,259.7 L174.2,259.7 L173.8,259.7 L173.5,259.6 L173.1,259.6 L172.7,259.6 L172.3,259.5 L171.9,259.5 L171.5,259.5 L171.1,259.4 L170.7,259.4 L170.3,259.4 L169.9,259.4 L169.5,259.3 L169.1,259.3 L168.7,259.2 L168.3,259.1 L167.9,259.0 L167.4,259.0 L167.0,258.9 L166.5,258.8 L166.1,258.7 L165.6,258.7 L165.1,258.6 L164.7,258.5 L164.2,258.3 L163.7,258.2 L163.2,258.1 L162.7,257.9 L162.2,257.8 L161.7,257.6 L161.1,257.5 L160.6,257.3 L160.0,257.1 L159.5,256.9 L158.9,256.7 L158.3,256.5 L157.7,256.2 L157.1,256.0 L156.5,255.7 L155.9,255.4 L155.2,255.1 L154.6,254.7 L154.0,254.4 L153.3,254.0 L152.7,253.6 L152.1,253.1 L151.4,252.7 L150.8,252.2 L150.2,251.6 L149.7,251.1 L149.1,250.5 L148.6,249.9 L148.2,249.2 L147.8,248.6 L147.4,247.9 L147.1,247.2 L146.9,246.5 L146.8,245.7Z" fill="#3c3c3c"/>
<path d="M154.1,245.0 L154.2,244.5 L154.3,243.9 L154.5,243.4 L154.7,242.9 L155.0,242.4 L155.3,241.9 L155.7,241.4 L156.1,241.0 L156.5,240.6 L157.0,240.2 L157.5,239.8 L158.0,239.5 L158.5,239.2 L159.1,238.9 L159.6,238.6 L160.1,238.4 L160.7,238.2 L161.2,238.0 L161.7,237.8 L162.2,237.6 L162.7,237.5 L163.2,237.3 L163.7,237.2 L164.1,237.1 L164.6,237.0 L165.0,236.9 L165.4,236.8 L165.8,236.8 L166.2,236.7 L166.6,236.6 L167.0,236.6 L167.4,236.6 L167.8,236.5 L168.1,236.5 L168.4,236.5 L168.8,236.4 L169.1,236.4 L169.4,236.3 L169.7,236.3 L170.0,236.3 L170.3,236.3 L170.6,236.3 L170.9,236.3 L171.2,236.4 L171.4,236.4 L171.7,236.4 L171.9,236.3 L172.2,236.3 L172.4,236.3 L172.7,236.3 L172.9,236.3 L173.1,236.3 L173.4,236.3 L173.6,236.3 L173.9,236.4 L174.1,236.4 L174.3,236.4 L174.6,236.5 L174.8,236.5 L175.0,236.5 L175.2,236.5 L175.4,236.5 L175.7,236.5 L175.9,236.5 L176.1,236.5 L176.3,236.6 L176.6,236.6 L176.8,236.6 L177.0,236.7 L177.2,236.7 L177.4,236.7 L177.7,236.8 L177.9,236.9 L178.1,236.9 L178.3,237.0 L178.6,237.0 L178.8,237.0 L179.1,237.0 L179.3,237.1 L179.6,237.1 L179.8,237.2 L180.1,237.2 L180.3,237.3 L180.6,237.4 L180.8,237.4 L181.1,237.5 L181.3,237.6 L181.6,237.7 L181.9,237.8 L182.2,237.8 L182.5,237.9 L182.8,238.0 L183.1,238.1 L183.4,238.2 L183.7,238.3 L184.0,238.4 L184.4,238.6 L184.7,238.7 L185.0,238.8 L185.4,239.0 L185.8,239.1 L186.2,239.3 L186.6,239.5 L186.9,239.7 L187.3,239.9 L187.7,240.1 L188.1,240.3 L188.6,240.6 L189.0,240.9 L189.4,241.1 L189.8,241.4 L190.2,241.8 L190.7,242.1 L191.1,242.5 L191.5,242.8 L191.8,243.2 L192.2,243.6 L192.5,244.1 L192.8,244.5 L193.1,245.0 L193.4,245.5 L193.6,246.0 L193.7,246.5 L193.8,247.0 L193.9,247.5 L193.9,248.0 L193.8,248.5 L193.7,249.0 L193.6,249.5 L193.4,249.9 L193.2,250.4 L192.9,250.8 L192.6,251.2 L192.3,251.6 L191.9,252.0 L191.5,252.4 L191.1,252.7 L190.7,253.0 L190.3,253.3 L189.9,253.6 L189.4,253.8 L189.0,254.1 L188.5,254.3 L188.1,254.5 L187.7,254.7 L187.2,254.9 L186.8,255.0 L186.3,255.2 L185.9,255.3 L185.5,255.5 L185.1,255.6 L184.6,255.7 L184.2,255.8 L183.8,255.9 L183.4,256.0 L183.0,256.0 L182.7,256.1 L182.3,256.2 L181.9,256.3 L181.5,256.3 L181.2,256.4 L180.8,256.4 L180.5,256.4 L180.1,256.5 L179.8,256.5 L179.4,256.5 L179.1,256.6 L178.8,256.6 L178.4,256.6 L178.1,256.7 L177.8,256.7 L177.5,256.7 L177.2,256.6 L176.8,256.6 L176.5,256.6 L176.2,256.6 L175.9,256.7 L175.6,256.7 L175.3,256.7 L175.0,256.7 L174.7,256.6 L174.4,256.6 L174.1,256.6 L173.8,256.6 L173.5,256.5 L173.2,256.5 L172.9,256.5 L172.6,256.4 L172.3,256.4 L171.9,256.4 L171.6,256.4 L171.3,256.3 L171.0,256.3 L170.7,256.2 L170.4,256.2 L170.1,256.1 L169.7,256.0 L169.4,256.0 L169.1,255.9 L168.7,255.9 L168.4,255.8 L168.0,255.7 L167.7,255.7 L167.3,255.6 L167.0,255.5 L166.6,255.4 L166.2,255.2 L165.9,255.1 L165.5,255.0 L165.1,254.9 L164.7,254.8 L164.3,254.7 L163.9,254.5 L163.5,254.3 L163.0,254.2 L162.6,254.0 L162.2,253.8 L161.7,253.6 L161.3,253.4 L160.8,253.2 L160.4,252.9 L159.9,252.7 L159.5,252.4 L159.0,252.1 L158.5,251.8 L158.1,251.5 L157.6,251.1 L157.2,250.8 L156.8,250.4 L156.4,250.0 L156.0,249.6 L155.6,249.1 L155.3,248.7 L155.0,248.2 L154.7,247.7 L154.5,247.2 L154.3,246.6 L154.2,246.1 L154.2,245.5Z" fill="#2a2a2a"/>
<path d="M163.0,245.0 L163.0,244.7 L163.1,244.4 L163.2,244.1 L163.3,243.8 L163.5,243.5 L163.7,243.2 L163.9,242.9 L164.1,242.7 L164.4,242.5 L164.7,242.2 L164.9,242.0 L165.2,241.8 L165.5,241.6 L165.8,241.5 L166.1,241.3 L166.5,241.2 L166.8,241.1 L167.1,241.0 L167.4,240.9 L167.7,240.8 L167.9,240.7 L168.2,240.6 L168.5,240.5 L168.8,240.5 L169.0,240.4 L169.3,240.4 L169.5,240.3 L169.7,240.3 L170.0,240.2 L170.2,240.2 L170.4,240.2 L170.6,240.1 L170.8,240.1 L171.0,240.1 L171.2,240.1 L171.4,240.1 L171.6,240.0 L171.8,240.0 L171.9,240.0 L172.1,240.0 L172.3,240.0 L172.5,240.0 L172.6,240.0 L172.8,240.0 L172.9,240.0 L173.1,240.0 L173.2,240.0 L173.4,240.0 L173.5,240.0 L173.7,240.0 L173.8,240.0 L173.9,240.0 L174.1,240.0 L174.2,240.0 L174.3,240.0 L174.5,240.0 L174.6,240.1 L174.7,240.1 L174.9,240.1 L175.0,240.1 L175.1,240.1 L175.3,240.1 L175.4,240.1 L175.5,240.1 L175.6,240.1 L175.8,240.1 L175.9,240.2 L176.0,240.2 L176.2,240.2 L176.3,240.2 L176.4,240.3 L176.5,240.3 L176.7,240.3 L176.8,240.4 L176.9,240.4 L177.0,240.4 L177.2,240.4 L177.3,240.4 L177.5,240.4 L177.6,240.5 L177.8,240.5 L177.9,240.5 L178.1,240.6 L178.2,240.6 L178.3,240.6 L178.5,240.7 L178.6,240.7 L178.8,240.8 L178.9,240.8 L179.1,240.9 L179.3,240.9 L179.5,241.0 L179.7,241.0 L179.8,241.1 L180.0,241.1 L180.2,241.2 L180.4,241.3 L180.6,241.4 L180.8,241.5 L181.0,241.5 L181.2,241.6 L181.4,241.7 L181.6,241.8 L181.9,241.9 L182.1,242.1 L182.3,242.2 L182.6,242.3 L182.8,242.5 L183.0,242.6 L183.3,242.8 L183.5,243.0 L183.8,243.1 L184.0,243.3 L184.2,243.5 L184.5,243.8 L184.7,244.0 L184.9,244.2 L185.1,244.5 L185.3,244.7 L185.4,245.0 L185.6,245.3 L185.7,245.6 L185.8,245.8 L185.8,246.1 L185.8,246.4 L185.9,246.7 L185.8,247.0 L185.8,247.3 L185.7,247.6 L185.6,247.8 L185.5,248.1 L185.3,248.3 L185.1,248.6 L184.9,248.8 L184.7,249.0 L184.5,249.2 L184.3,249.4 L184.1,249.6 L183.8,249.8 L183.6,249.9 L183.3,250.1 L183.0,250.2 L182.8,250.4 L182.5,250.5 L182.3,250.6 L182.0,250.7 L181.8,250.8 L181.5,250.9 L181.3,250.9 L181.0,251.0 L180.8,251.1 L180.5,251.2 L180.3,251.2 L180.1,251.3 L179.8,251.3 L179.6,251.4 L179.4,251.4 L179.2,251.4 L179.0,251.5 L178.8,251.5 L178.6,251.5 L178.3,251.6 L178.1,251.6 L177.9,251.6 L177.7,251.6 L177.5,251.6 L177.4,251.7 L177.2,251.7 L177.0,251.7 L176.8,251.7 L176.6,251.7 L176.4,251.7 L176.2,251.7 L176.1,251.7 L175.9,251.7 L175.7,251.7 L175.5,251.7 L175.4,251.7 L175.2,251.7 L175.0,251.7 L174.8,251.7 L174.6,251.7 L174.5,251.7 L174.3,251.6 L174.1,251.6 L174.0,251.6 L173.8,251.6 L173.6,251.6 L173.4,251.6 L173.2,251.6 L173.1,251.5 L172.9,251.5 L172.7,251.5 L172.5,251.5 L172.3,251.4 L172.2,251.4 L172.0,251.3 L171.8,251.3 L171.6,251.3 L171.4,251.3 L171.2,251.2 L171.0,251.2 L170.8,251.1 L170.6,251.1 L170.4,251.0 L170.2,251.0 L170.0,250.9 L169.7,250.8 L169.5,250.8 L169.3,250.7 L169.1,250.6 L168.8,250.6 L168.6,250.5 L168.4,250.4 L168.1,250.3 L167.9,250.2 L167.6,250.1 L167.4,250.0 L167.1,249.8 L166.9,249.7 L166.6,249.6 L166.3,249.4 L166.1,249.3 L165.8,249.1 L165.5,248.9 L165.3,248.7 L165.0,248.5 L164.8,248.3 L164.5,248.1 L164.3,247.9 L164.1,247.6 L163.9,247.4 L163.7,247.1 L163.5,246.8 L163.3,246.5 L163.2,246.2 L163.1,245.9 L163.0,245.6 L163.0,245.3Z" fill="#181818"/></g>
<line x1="45.2" y1="242.5" x2="299.0" y2="242.5" stroke="#808080" stroke-opacity="0.32" stroke-width="1"/><line x1="172.1" y1="188.0" x2="172.1" y2="297.0" stroke="#808080" stroke-opacity="0.32" stroke-width="1"/>
<path fill="#2020d8" fill-opacity="0.36" d="M226.9 265.2h1.0v1.0h-1.0zM189.2 282.2h1.0v1.0h-1.0zM207.1 217.1h1.0v1.0h-1.0zM125.5 208.0h1.0v1.0h-1.0zM121.9 271.1h1.0v1.0h-1.0zM71.6 247.5h1.0v1.0h-1.0zM191.6 281.0h1.0v1.0h-1.0zM162.1 288.6h1.0v1.0h-1.0zM87.8 228.8h1.0v1.0h-1.0zM87.7 254.0h1.0v1.0h-1.0zM96.9 263.7h1.0v1.0h-1.0zM105.3 218.3h1.0v1.0h-1.0zM227.3 261.3h1.0v1.0h-1.0zM130.9 206.9h1.0v1.0h-1.0zM211.8 271.0h1.0v1.0h-1.0zM180.8 285.2h1.0v1.0h-1.0zM226.4 265.4h1.0v1.0h-1.0zM127.4 208.2h1.0v1.0h-1.0zM80.7 235.9h1.0v1.0h-1.0zM265.6 239.2h1.0v1.0h-1.0zM243.4 253.3h1.0v1.0h-1.0zM200.8 279.1h1.0v1.0h-1.0zM108.0 266.7h1.0v1.0h-1.0zM190.3 281.9h1.0v1.0h-1.0zM119.1 210.1h1.0v1.0h-1.0zM216.0 272.2h1.0v1.0h-1.0zM148.8 202.4h1.0v1.0h-1.0zM83.0 230.4h1.0v1.0h-1.0zM223.7 226.3h1.0v1.0h-1.0zM92.3 255.4h1.0v1.0h-1.0zM111.7 265.4h1.0v1.0h-1.0zM212.9 270.8h1.0v1.0h-1.0zM107.1 216.2h1.0v1.0h-1.0zM102.2 261.2h1.0v1.0h-1.0zM101.0 219.8h1.0v1.0h-1.0zM239.7 259.7h1.0v1.0h-1.0zM125.0 208.2h1.0v1.0h-1.0zM226.9 229.2h1.0v1.0h-1.0zM217.8 271.5h1.0v1.0h-1.0zM225.0 225.6h1.0v1.0h-1.0zM140.9 204.6h1.0v1.0h-1.0zM81.3 229.1h1.0v1.0h-1.0zM93.2 223.0h1.0v1.0h-1.0zM122.0 208.0h1.0v1.0h-1.0zM203.7 275.9h1.0v1.0h-1.0zM86.8 252.6h1.0v1.0h-1.0zM139.9 204.5h1.0v1.0h-1.0zM258.9 242.9h1.0v1.0h-1.0zM210.4 219.9h1.0v1.0h-1.0zM110.5 264.8h1.0v1.0h-1.0zM245.4 252.4h1.0v1.0h-1.0zM80.3 248.4h1.0v1.0h-1.0zM117.0 269.5h1.0v1.0h-1.0zM186.6 206.5h1.0v1.0h-1.0zM229.0 260.2h1.0v1.0h-1.0zM133.8 204.8h1.0v1.0h-1.0zM104.9 262.5h1.0v1.0h-1.0zM121.1 272.0h1.0v1.0h-1.0zM211.3 272.0h1.0v1.0h-1.0zM216.6 269.8h1.0v1.0h-1.0zM198.8 214.4h1.0v1.0h-1.0zM149.4 202.6h1.0v1.0h-1.0zM137.6 276.8h1.0v1.0h-1.0zM205.5 274.0h1.0v1.0h-1.0zM159.1 200.6h1.0v1.0h-1.0zM242.3 256.6h1.0v1.0h-1.0zM82.8 232.8h1.0v1.0h-1.0zM213.4 270.9h1.0v1.0h-1.0zM195.8 208.7h1.0v1.0h-1.0zM114.6 266.6h1.0v1.0h-1.0zM83.1 229.9h1.0v1.0h-1.0zM141.2 276.9h1.0v1.0h-1.0zM66.4 251.2h1.0v1.0h-1.0zM49.8 203.5h1.0v1.0h-1.0zM95.6 259.5h1.0v1.0h-1.0zM57.6 231.6h1.0v1.0h-1.0zM49.6 224.3h1.0v1.0h-1.0zM86.3 209.7h1.0v1.0h-1.0zM63.0 194.1h1.0v1.0h-1.0zM93.4 269.7h1.0v1.0h-1.0zM54.1 239.7h1.0v1.0h-1.0zM72.2 223.6h1.0v1.0h-1.0zM76.6 195.6h1.0v1.0h-1.0zM89.8 225.6h1.0v1.0h-1.0zM117.1 207.8h1.0v1.0h-1.0zM72.6 245.7h1.0v1.0h-1.0zM59.7 189.9h1.0v1.0h-1.0zM84.0 197.3h1.0v1.0h-1.0zM76.2 212.8h1.0v1.0h-1.0zM49.5 239.8h1.0v1.0h-1.0zM68.2 224.1h1.0v1.0h-1.0zM77.8 237.7h1.0v1.0h-1.0zM99.4 282.0h1.0v1.0h-1.0zM90.0 217.8h1.0v1.0h-1.0zM53.8 217.0h1.0v1.0h-1.0zM88.9 251.6h1.0v1.0h-1.0zM63.7 252.7h1.0v1.0h-1.0zM80.3 209.2h1.0v1.0h-1.0zM82.1 222.1h1.0v1.0h-1.0zM80.4 244.6h1.0v1.0h-1.0zM72.2 228.7h1.0v1.0h-1.0zM52.4 290.6h1.0v1.0h-1.0zM62.8 243.7h1.0v1.0h-1.0zM88.1 261.7h1.0v1.0h-1.0zM69.1 239.4h1.0v1.0h-1.0zM79.6 211.0h1.0v1.0h-1.0zM58.2 203.8h1.0v1.0h-1.0zM86.9 204.4h1.0v1.0h-1.0zM50.8 258.6h1.0v1.0h-1.0zM94.2 257.3h1.0v1.0h-1.0zM74.0 237.6h1.0v1.0h-1.0zM78.6 216.1h1.0v1.0h-1.0zM90.4 256.2h1.0v1.0h-1.0zM59.8 226.3h1.0v1.0h-1.0zM61.0 217.1h1.0v1.0h-1.0zM71.4 264.9h1.0v1.0h-1.0zM76.2 211.9h1.0v1.0h-1.0zM89.0 274.7h1.0v1.0h-1.0zM73.6 212.7h1.0v1.0h-1.0zM87.4 202.3h1.0v1.0h-1.0zM67.7 231.7h1.0v1.0h-1.0zM67.2 252.2h1.0v1.0h-1.0zM69.3 276.7h1.0v1.0h-1.0zM59.0 225.7h1.0v1.0h-1.0zM76.2 248.7h1.0v1.0h-1.0zM51.1 246.5h1.0v1.0h-1.0zM67.9 224.7h1.0v1.0h-1.0zM79.4 236.2h1.0v1.0h-1.0zM103.9 261.6h1.0v1.0h-1.0zM73.7 270.6h1.0v1.0h-1.0zM96.8 261.4h1.0v1.0h-1.0zM50.4 254.3h1.0v1.0h-1.0zM96.3 274.2h1.0v1.0h-1.0zM113.4 272.6h1.0v1.0h-1.0zM58.1 236.4h1.0v1.0h-1.0zM56.6 226.6h1.0v1.0h-1.0zM59.4 225.6h1.0v1.0h-1.0zM73.5 245.8h1.0v1.0h-1.0zM61.7 249.2h1.0v1.0h-1.0zM56.1 230.9h1.0v1.0h-1.0zM71.0 220.2h1.0v1.0h-1.0zM85.5 257.7h1.0v1.0h-1.0zM97.1 266.4h1.0v1.0h-1.0zM82.0 227.3h1.0v1.0h-1.0zM56.9 252.7h1.0v1.0h-1.0zM53.4 223.5h1.0v1.0h-1.0zM55.8 237.0h1.0v1.0h-1.0zM57.3 250.0h1.0v1.0h-1.0zM69.3 255.7h1.0v1.0h-1.0zM51.5 269.5h1.0v1.0h-1.0zM110.7 214.1h1.0v1.0h-1.0zM84.2 230.2h1.0v1.0h-1.0zM98.0 197.9h1.0v1.0h-1.0zM58.9 203.8h1.0v1.0h-1.0zM86.7 219.0h1.0v1.0h-1.0zM86.2 227.4h1.0v1.0h-1.0zM99.0 213.7h1.0v1.0h-1.0zM67.3 209.7h1.0v1.0h-1.0zM101.7 214.5h1.0v1.0h-1.0zM113.5 207.4h1.0v1.0h-1.0zM113.4 212.7h1.0v1.0h-1.0zM58.6 224.8h1.0v1.0h-1.0zM91.0 225.0h1.0v1.0h-1.0zM88.5 229.6h1.0v1.0h-1.0zM61.9 225.0h1.0v1.0h-1.0zM47.4 190.3h1.0v1.0h-1.0zM73.0 215.5h1.0v1.0h-1.0zM101.6 219.4h1.0v1.0h-1.0zM87.6 220.9h1.0v1.0h-1.0zM83.9 212.4h1.0v1.0h-1.0zM100.4 219.9h1.0v1.0h-1.0zM54.2 224.0h1.0v1.0h-1.0zM59.9 218.4h1.0v1.0h-1.0zM75.7 214.6h1.0v1.0h-1.0zM78.8 224.4h1.0v1.0h-1.0zM93.3 225.2h1.0v1.0h-1.0zM66.8 223.3h1.0v1.0h-1.0zM73.8 216.3h1.0v1.0h-1.0zM81.0 208.5h1.0v1.0h-1.0zM82.2 216.1h1.0v1.0h-1.0zM80.4 208.2h1.0v1.0h-1.0zM65.9 210.0h1.0v1.0h-1.0zM75.2 220.4h1.0v1.0h-1.0zM82.4 215.6h1.0v1.0h-1.0zM82.4 213.3h1.0v1.0h-1.0zM114.0 206.7h1.0v1.0h-1.0zM91.9 215.8h1.0v1.0h-1.0zM105.6 213.7h1.0v1.0h-1.0zM128.8 206.3h1.0v1.0h-1.0zM73.6 233.8h1.0v1.0h-1.0zM94.1 225.8h1.0v1.0h-1.0zM105.3 218.0h1.0v1.0h-1.0zM248.9 253.6h1.0v1.0h-1.0zM265.0 251.1h1.0v1.0h-1.0zM280.2 253.4h1.0v1.0h-1.0zM268.2 248.8h1.0v1.0h-1.0zM258.1 240.3h1.0v1.0h-1.0zM240.2 252.9h1.0v1.0h-1.0zM273.8 243.5h1.0v1.0h-1.0zM261.1 241.2h1.0v1.0h-1.0zM271.9 238.0h1.0v1.0h-1.0zM249.5 252.8h1.0v1.0h-1.0zM275.5 247.2h1.0v1.0h-1.0zM270.0 233.7h1.0v1.0h-1.0zM289.7 240.6h1.0v1.0h-1.0zM269.0 248.3h1.0v1.0h-1.0zM264.9 256.7h1.0v1.0h-1.0zM253.6 250.4h1.0v1.0h-1.0zM260.8 244.3h1.0v1.0h-1.0zM269.1 235.4h1.0v1.0h-1.0zM265.6 246.8h1.0v1.0h-1.0zM280.2 248.8h1.0v1.0h-1.0zM258.4 243.2h1.0v1.0h-1.0zM287.6 245.7h1.0v1.0h-1.0zM259.6 244.2h1.0v1.0h-1.0zM266.9 247.1h1.0v1.0h-1.0zM261.3 240.3h1.0v1.0h-1.0zM255.5 241.7h1.0v1.0h-1.0zM258.8 248.1h1.0v1.0h-1.0zM226.5 226.7h1.0v1.0h-1.0zM227.6 213.5h1.0v1.0h-1.0zM237.1 214.8h1.0v1.0h-1.0zM201.3 215.7h1.0v1.0h-1.0zM224.7 225.5h1.0v1.0h-1.0zM255.0 208.3h1.0v1.0h-1.0zM250.5 221.4h1.0v1.0h-1.0zM241.4 232.4h1.0v1.0h-1.0zM212.9 210.4h1.0v1.0h-1.0zM226.1 214.1h1.0v1.0h-1.0zM219.7 226.5h1.0v1.0h-1.0zM211.7 214.7h1.0v1.0h-1.0zM255.3 224.3h1.0v1.0h-1.0zM207.3 215.4h1.0v1.0h-1.0zM207.4 216.8h1.0v1.0h-1.0z"/><path fill="#2020d8" fill-opacity="0.42" d="M143.5 255.8h1.0v1.0h-1.0zM201.0 239.9h1.0v1.0h-1.0zM146.0 233.3h1.0v1.0h-1.0zM157.0 243.9h1.0v1.0h-1.0zM217.9 250.9h1.0v1.0h-1.0zM197.2 238.0h1.0v1.0h-1.0zM162.8 223.2h1.0v1.0h-1.0zM178.5 241.4h1.0v1.0h-1.0zM221.1 241.6h1.0v1.0h-1.0zM121.9 251.3h1.0v1.0h-1.0zM152.3 226.5h1.0v1.0h-1.0zM158.4 245.2h1.0v1.0h-1.0zM216.3 241.6h1.0v1.0h-1.0zM172.3 243.8h1.0v1.0h-1.0zM176.2 227.1h1.0v1.0h-1.0zM203.0 257.3h1.0v1.0h-1.0zM162.3 253.3h1.0v1.0h-1.0zM180.7 246.1h1.0v1.0h-1.0zM176.3 269.2h1.0v1.0h-1.0zM161.0 260.0h1.0v1.0h-1.0zM167.4 255.7h1.0v1.0h-1.0zM156.2 230.7h1.0v1.0h-1.0zM187.9 209.3h1.0v1.0h-1.0zM182.4 240.5h1.0v1.0h-1.0zM181.7 249.4h1.0v1.0h-1.0zM207.7 231.9h1.0v1.0h-1.0zM241.2 240.6h1.0v1.0h-1.0zM95.3 252.8h1.0v1.0h-1.0zM148.2 245.2h1.0v1.0h-1.0zM159.6 235.5h1.0v1.0h-1.0zM136.9 253.3h1.0v1.0h-1.0zM192.5 256.4h1.0v1.0h-1.0zM191.3 247.9h1.0v1.0h-1.0zM141.4 223.7h1.0v1.0h-1.0zM186.3 238.7h1.0v1.0h-1.0zM151.2 239.0h1.0v1.0h-1.0zM118.2 241.1h1.0v1.0h-1.0zM145.6 254.5h1.0v1.0h-1.0zM223.9 255.0h1.0v1.0h-1.0zM171.1 253.8h1.0v1.0h-1.0zM172.6 237.7h1.0v1.0h-1.0zM190.3 250.3h1.0v1.0h-1.0zM181.8 241.2h1.0v1.0h-1.0zM128.6 226.7h1.0v1.0h-1.0zM154.3 239.5h1.0v1.0h-1.0zM208.7 250.2h1.0v1.0h-1.0zM156.5 230.1h1.0v1.0h-1.0zM190.0 238.3h1.0v1.0h-1.0zM135.9 241.5h1.0v1.0h-1.0zM228.8 231.6h1.0v1.0h-1.0zM157.1 234.6h1.0v1.0h-1.0zM191.5 256.4h1.0v1.0h-1.0zM200.8 234.2h1.0v1.0h-1.0zM131.6 247.5h1.0v1.0h-1.0zM168.1 247.9h1.0v1.0h-1.0zM177.8 239.7h1.0v1.0h-1.0zM142.3 245.9h1.0v1.0h-1.0zM160.5 237.9h1.0v1.0h-1.0zM174.6 245.2h1.0v1.0h-1.0zM165.3 245.1h1.0v1.0h-1.0zM170.7 246.5h1.0v1.0h-1.0zM208.8 243.0h1.0v1.0h-1.0zM127.4 263.7h1.0v1.0h-1.0zM164.0 279.0h1.0v1.0h-1.0zM155.3 231.5h1.0v1.0h-1.0zM137.0 254.8h1.0v1.0h-1.0zM185.2 242.5h1.0v1.0h-1.0zM154.6 258.7h1.0v1.0h-1.0zM183.5 216.2h1.0v1.0h-1.0zM168.4 221.8h1.0v1.0h-1.0zM180.1 259.1h1.0v1.0h-1.0zM172.7 235.4h1.0v1.0h-1.0zM152.6 239.9h1.0v1.0h-1.0zM130.4 237.9h1.0v1.0h-1.0zM161.6 256.1h1.0v1.0h-1.0zM184.0 237.9h1.0v1.0h-1.0zM179.1 229.0h1.0v1.0h-1.0zM150.2 242.3h1.0v1.0h-1.0zM202.2 238.3h1.0v1.0h-1.0zM212.1 254.4h1.0v1.0h-1.0zM159.3 225.1h1.0v1.0h-1.0zM198.8 246.6h1.0v1.0h-1.0zM199.3 225.6h1.0v1.0h-1.0zM178.5 217.8h1.0v1.0h-1.0zM171.1 243.1h1.0v1.0h-1.0zM168.3 248.5h1.0v1.0h-1.0zM127.5 260.1h1.0v1.0h-1.0zM197.2 265.7h1.0v1.0h-1.0zM157.4 233.8h1.0v1.0h-1.0zM145.6 241.2h1.0v1.0h-1.0zM205.9 255.3h1.0v1.0h-1.0zM152.5 225.1h1.0v1.0h-1.0zM132.8 252.9h1.0v1.0h-1.0zM198.6 251.7h1.0v1.0h-1.0zM232.2 250.8h1.0v1.0h-1.0zM148.4 252.2h1.0v1.0h-1.0zM132.7 245.3h1.0v1.0h-1.0zM190.8 250.4h1.0v1.0h-1.0zM206.1 237.5h1.0v1.0h-1.0zM144.6 230.6h1.0v1.0h-1.0zM164.7 255.2h1.0v1.0h-1.0zM159.9 242.2h1.0v1.0h-1.0zM189.3 257.5h1.0v1.0h-1.0zM131.1 264.5h1.0v1.0h-1.0zM159.7 249.5h1.0v1.0h-1.0zM131.6 237.7h1.0v1.0h-1.0zM172.3 262.8h1.0v1.0h-1.0zM161.5 258.2h1.0v1.0h-1.0zM152.3 230.8h1.0v1.0h-1.0zM202.5 247.6h1.0v1.0h-1.0zM181.3 239.6h1.0v1.0h-1.0zM168.9 258.8h1.0v1.0h-1.0zM165.7 246.4h1.0v1.0h-1.0zM165.7 243.0h1.0v1.0h-1.0zM171.7 265.4h1.0v1.0h-1.0zM152.3 243.9h1.0v1.0h-1.0zM155.6 255.6h1.0v1.0h-1.0zM156.6 253.9h1.0v1.0h-1.0zM223.7 243.4h1.0v1.0h-1.0zM162.0 252.2h1.0v1.0h-1.0zM158.8 246.9h1.0v1.0h-1.0zM103.3 229.9h1.0v1.0h-1.0zM152.5 223.0h1.0v1.0h-1.0zM201.3 230.1h1.0v1.0h-1.0zM205.7 236.9h1.0v1.0h-1.0zM172.8 242.7h1.0v1.0h-1.0zM158.9 252.3h1.0v1.0h-1.0zM112.5 240.6h1.0v1.0h-1.0zM154.3 239.0h1.0v1.0h-1.0zM173.7 213.7h1.0v1.0h-1.0zM156.7 219.2h1.0v1.0h-1.0zM168.1 250.7h1.0v1.0h-1.0zM123.9 252.9h1.0v1.0h-1.0zM186.3 248.3h1.0v1.0h-1.0zM148.2 219.7h1.0v1.0h-1.0zM175.6 273.9h1.0v1.0h-1.0zM181.4 230.0h1.0v1.0h-1.0zM186.3 231.8h1.0v1.0h-1.0zM187.8 227.8h1.0v1.0h-1.0zM180.3 240.2h1.0v1.0h-1.0zM183.7 228.2h1.0v1.0h-1.0zM197.4 262.2h1.0v1.0h-1.0zM166.2 259.1h1.0v1.0h-1.0zM131.8 239.4h1.0v1.0h-1.0zM163.8 241.0h1.0v1.0h-1.0zM154.1 230.7h1.0v1.0h-1.0zM193.4 257.2h1.0v1.0h-1.0zM177.9 217.8h1.0v1.0h-1.0zM131.2 239.3h1.0v1.0h-1.0zM190.2 256.0h1.0v1.0h-1.0zM166.9 265.4h1.0v1.0h-1.0zM178.8 271.3h1.0v1.0h-1.0zM153.4 245.2h1.0v1.0h-1.0zM169.0 249.4h1.0v1.0h-1.0zM206.6 245.9h1.0v1.0h-1.0zM159.7 259.3h1.0v1.0h-1.0zM192.5 253.0h1.0v1.0h-1.0zM175.2 261.6h1.0v1.0h-1.0zM190.2 267.3h1.0v1.0h-1.0zM166.7 225.9h1.0v1.0h-1.0zM180.3 237.5h1.0v1.0h-1.0zM147.6 238.4h1.0v1.0h-1.0zM145.5 237.8h1.0v1.0h-1.0zM181.1 248.5h1.0v1.0h-1.0zM166.0 276.2h1.0v1.0h-1.0zM198.3 239.9h1.0v1.0h-1.0zM190.4 233.9h1.0v1.0h-1.0zM199.8 234.6h1.0v1.0h-1.0zM153.7 233.6h1.0v1.0h-1.0zM160.2 244.1h1.0v1.0h-1.0zM181.1 218.0h1.0v1.0h-1.0zM182.6 246.9h1.0v1.0h-1.0zM131.6 245.5h1.0v1.0h-1.0zM189.7 258.9h1.0v1.0h-1.0zM173.1 257.5h1.0v1.0h-1.0zM149.1 238.9h1.0v1.0h-1.0zM180.8 237.1h1.0v1.0h-1.0zM165.8 259.3h1.0v1.0h-1.0zM118.7 225.9h1.0v1.0h-1.0zM187.8 260.1h1.0v1.0h-1.0zM193.4 212.4h1.0v1.0h-1.0zM152.2 245.6h1.0v1.0h-1.0zM143.1 258.9h1.0v1.0h-1.0zM179.9 238.1h1.0v1.0h-1.0zM145.3 225.1h1.0v1.0h-1.0zM147.2 218.1h1.0v1.0h-1.0zM88.0 244.1h1.0v1.0h-1.0zM192.0 247.3h1.0v1.0h-1.0zM175.9 266.4h1.0v1.0h-1.0zM221.4 228.4h1.0v1.0h-1.0zM150.0 238.7h1.0v1.0h-1.0zM188.5 249.6h1.0v1.0h-1.0zM177.1 255.6h1.0v1.0h-1.0zM198.5 227.2h1.0v1.0h-1.0zM179.5 226.6h1.0v1.0h-1.0zM205.4 255.2h1.0v1.0h-1.0zM167.1 228.1h1.0v1.0h-1.0zM172.7 249.5h1.0v1.0h-1.0zM125.6 232.2h1.0v1.0h-1.0zM194.1 224.2h1.0v1.0h-1.0zM148.3 245.0h1.0v1.0h-1.0zM114.7 241.8h1.0v1.0h-1.0zM147.4 228.9h1.0v1.0h-1.0zM189.4 231.1h1.0v1.0h-1.0zM171.6 240.6h1.0v1.0h-1.0zM187.4 241.4h1.0v1.0h-1.0zM183.9 268.2h1.0v1.0h-1.0zM120.9 245.0h1.0v1.0h-1.0zM188.7 248.0h1.0v1.0h-1.0zM170.8 218.3h1.0v1.0h-1.0zM195.0 256.6h1.0v1.0h-1.0zM214.2 246.8h1.0v1.0h-1.0zM162.7 248.5h1.0v1.0h-1.0zM92.1 234.3h1.0v1.0h-1.0zM190.4 237.7h1.0v1.0h-1.0zM144.0 258.7h1.0v1.0h-1.0zM192.2 231.0h1.0v1.0h-1.0zM169.0 251.1h1.0v1.0h-1.0zM165.2 266.8h1.0v1.0h-1.0zM139.2 232.4h1.0v1.0h-1.0zM183.8 262.0h1.0v1.0h-1.0zM180.9 242.6h1.0v1.0h-1.0zM201.5 257.3h1.0v1.0h-1.0zM183.6 227.0h1.0v1.0h-1.0zM149.8 261.8h1.0v1.0h-1.0zM177.3 248.3h1.0v1.0h-1.0zM181.0 242.0h1.0v1.0h-1.0zM149.8 226.3h1.0v1.0h-1.0zM233.5 253.5h1.0v1.0h-1.0zM154.8 268.9h1.0v1.0h-1.0zM174.2 211.7h1.0v1.0h-1.0zM185.0 257.1h1.0v1.0h-1.0zM169.1 251.4h1.0v1.0h-1.0zM169.9 243.9h1.0v1.0h-1.0zM170.2 224.8h1.0v1.0h-1.0zM195.7 257.8h1.0v1.0h-1.0zM108.4 217.9h1.0v1.0h-1.0zM139.4 253.3h1.0v1.0h-1.0zM157.0 255.6h1.0v1.0h-1.0zM184.0 248.2h1.0v1.0h-1.0zM163.7 241.7h1.0v1.0h-1.0zM160.5 239.0h1.0v1.0h-1.0zM183.3 266.5h1.0v1.0h-1.0zM165.9 252.6h1.0v1.0h-1.0zM191.5 229.2h1.0v1.0h-1.0zM185.0 275.0h1.0v1.0h-1.0zM166.4 249.4h1.0v1.0h-1.0zM197.4 258.4h1.0v1.0h-1.0zM178.6 237.8h1.0v1.0h-1.0zM128.4 256.0h1.0v1.0h-1.0zM163.4 218.2h1.0v1.0h-1.0zM154.7 249.4h1.0v1.0h-1.0zM148.8 236.9h1.0v1.0h-1.0zM128.8 241.2h1.0v1.0h-1.0zM184.2 252.5h1.0v1.0h-1.0zM201.4 243.5h1.0v1.0h-1.0zM131.8 251.0h1.0v1.0h-1.0zM194.8 248.0h1.0v1.0h-1.0zM193.1 262.4h1.0v1.0h-1.0zM152.6 241.6h1.0v1.0h-1.0zM185.3 247.2h1.0v1.0h-1.0zM160.6 244.1h1.0v1.0h-1.0zM193.1 236.6h1.0v1.0h-1.0zM99.1 254.9h1.0v1.0h-1.0zM138.8 232.2h1.0v1.0h-1.0zM158.9 242.0h1.0v1.0h-1.0zM212.6 249.8h1.0v1.0h-1.0zM162.6 236.7h1.0v1.0h-1.0zM179.4 239.2h1.0v1.0h-1.0zM142.1 253.6h1.0v1.0h-1.0zM198.1 234.0h1.0v1.0h-1.0zM205.5 233.4h1.0v1.0h-1.0zM116.2 255.5h1.0v1.0h-1.0zM178.1 239.2h1.0v1.0h-1.0zM164.9 249.6h1.0v1.0h-1.0zM164.2 277.7h1.0v1.0h-1.0zM200.6 253.4h1.0v1.0h-1.0zM132.7 246.6h1.0v1.0h-1.0zM220.6 251.4h1.0v1.0h-1.0zM227.7 250.3h1.0v1.0h-1.0zM162.0 226.9h1.0v1.0h-1.0zM172.1 261.5h1.0v1.0h-1.0zM176.3 237.1h1.0v1.0h-1.0zM167.9 218.0h1.0v1.0h-1.0zM158.6 237.0h1.0v1.0h-1.0zM177.4 267.3h1.0v1.0h-1.0zM114.9 240.3h1.0v1.0h-1.0zM169.6 252.2h1.0v1.0h-1.0zM161.7 230.2h1.0v1.0h-1.0zM172.6 242.2h1.0v1.0h-1.0zM171.4 228.2h1.0v1.0h-1.0zM219.9 245.2h1.0v1.0h-1.0zM209.5 223.6h1.0v1.0h-1.0zM135.5 247.1h1.0v1.0h-1.0zM218.7 237.8h1.0v1.0h-1.0zM165.2 263.5h1.0v1.0h-1.0zM174.6 244.7h1.0v1.0h-1.0zM157.2 254.7h1.0v1.0h-1.0zM127.8 212.6h1.0v1.0h-1.0zM203.7 244.9h1.0v1.0h-1.0zM136.0 234.5h1.0v1.0h-1.0zM175.0 218.4h1.0v1.0h-1.0zM200.3 216.2h1.0v1.0h-1.0zM167.6 249.8h1.0v1.0h-1.0zM204.9 247.8h1.0v1.0h-1.0zM162.0 229.4h1.0v1.0h-1.0zM158.7 236.1h1.0v1.0h-1.0zM212.6 243.7h1.0v1.0h-1.0zM199.0 246.9h1.0v1.0h-1.0zM111.7 234.7h1.0v1.0h-1.0zM184.3 252.9h1.0v1.0h-1.0zM139.1 253.4h1.0v1.0h-1.0zM186.4 249.9h1.0v1.0h-1.0zM153.1 241.8h1.0v1.0h-1.0zM156.3 237.3h1.0v1.0h-1.0zM182.4 238.4h1.0v1.0h-1.0zM210.9 227.1h1.0v1.0h-1.0zM185.8 271.7h1.0v1.0h-1.0zM202.1 256.3h1.0v1.0h-1.0zM147.5 226.3h1.0v1.0h-1.0zM167.4 241.5h1.0v1.0h-1.0zM174.6 235.7h1.0v1.0h-1.0zM143.0 230.3h1.0v1.0h-1.0zM91.0 241.3h1.0v1.0h-1.0zM213.2 249.7h1.0v1.0h-1.0zM135.3 246.3h1.0v1.0h-1.0zM232.6 235.6h1.0v1.0h-1.0zM208.1 239.4h1.0v1.0h-1.0zM139.9 244.0h1.0v1.0h-1.0zM191.0 251.8h1.0v1.0h-1.0zM197.4 246.0h1.0v1.0h-1.0zM163.0 269.3h1.0v1.0h-1.0zM159.2 269.8h1.0v1.0h-1.0zM187.2 251.5h1.0v1.0h-1.0zM184.0 258.0h1.0v1.0h-1.0zM205.2 251.2h1.0v1.0h-1.0zM149.2 233.7h1.0v1.0h-1.0zM218.7 242.0h1.0v1.0h-1.0zM177.9 225.3h1.0v1.0h-1.0zM163.4 241.6h1.0v1.0h-1.0zM199.3 224.7h1.0v1.0h-1.0zM197.5 220.9h1.0v1.0h-1.0zM162.2 231.8h1.0v1.0h-1.0zM175.6 248.0h1.0v1.0h-1.0zM146.5 207.0h1.0v1.0h-1.0zM174.6 239.4h1.0v1.0h-1.0zM193.2 257.2h1.0v1.0h-1.0zM191.0 225.7h1.0v1.0h-1.0zM203.1 253.5h1.0v1.0h-1.0zM241.6 237.4h1.0v1.0h-1.0zM196.6 247.3h1.0v1.0h-1.0zM213.0 256.8h1.0v1.0h-1.0zM185.8 228.5h1.0v1.0h-1.0zM180.7 282.9h1.0v1.0h-1.0zM219.5 241.0h1.0v1.0h-1.0zM168.6 222.3h1.0v1.0h-1.0zM217.4 227.1h1.0v1.0h-1.0zM225.3 249.8h1.0v1.0h-1.0zM153.4 250.4h1.0v1.0h-1.0zM183.7 223.7h1.0v1.0h-1.0zM125.9 240.7h1.0v1.0h-1.0zM180.6 261.7h1.0v1.0h-1.0zM195.7 246.8h1.0v1.0h-1.0zM124.6 251.2h1.0v1.0h-1.0zM188.8 242.6h1.0v1.0h-1.0zM181.4 252.9h1.0v1.0h-1.0zM172.8 256.6h1.0v1.0h-1.0zM185.0 251.6h1.0v1.0h-1.0zM153.8 225.9h1.0v1.0h-1.0zM124.9 223.7h1.0v1.0h-1.0zM158.8 268.9h1.0v1.0h-1.0zM153.6 218.8h1.0v1.0h-1.0zM180.3 242.5h1.0v1.0h-1.0zM167.9 250.9h1.0v1.0h-1.0zM202.9 232.8h1.0v1.0h-1.0zM195.4 223.5h1.0v1.0h-1.0zM172.1 225.7h1.0v1.0h-1.0zM189.3 224.5h1.0v1.0h-1.0zM140.4 260.6h1.0v1.0h-1.0zM218.9 232.4h1.0v1.0h-1.0zM193.2 246.3h1.0v1.0h-1.0zM151.8 227.4h1.0v1.0h-1.0zM123.0 222.4h1.0v1.0h-1.0zM197.5 248.3h1.0v1.0h-1.0zM107.7 258.6h1.0v1.0h-1.0zM175.1 229.1h1.0v1.0h-1.0zM144.2 229.2h1.0v1.0h-1.0zM143.6 225.0h1.0v1.0h-1.0zM146.4 259.9h1.0v1.0h-1.0zM181.1 269.0h1.0v1.0h-1.0zM174.8 251.7h1.0v1.0h-1.0zM163.2 232.1h1.0v1.0h-1.0zM180.0 233.0h1.0v1.0h-1.0zM119.5 234.6h1.0v1.0h-1.0zM184.8 252.3h1.0v1.0h-1.0zM155.4 220.5h1.0v1.0h-1.0zM217.9 238.4h1.0v1.0h-1.0zM148.1 255.1h1.0v1.0h-1.0zM141.2 238.8h1.0v1.0h-1.0zM127.3 242.7h1.0v1.0h-1.0zM143.1 263.9h1.0v1.0h-1.0zM193.1 239.8h1.0v1.0h-1.0zM175.2 260.6h1.0v1.0h-1.0zM184.1 257.7h1.0v1.0h-1.0zM174.8 255.8h1.0v1.0h-1.0zM181.3 223.2h1.0v1.0h-1.0zM191.0 269.7h1.0v1.0h-1.0zM121.3 229.2h1.0v1.0h-1.0zM146.1 237.6h1.0v1.0h-1.0zM169.1 234.0h1.0v1.0h-1.0zM181.8 241.6h1.0v1.0h-1.0zM202.7 242.2h1.0v1.0h-1.0zM182.9 226.8h1.0v1.0h-1.0zM176.8 233.9h1.0v1.0h-1.0zM143.4 255.8h1.0v1.0h-1.0zM169.8 263.1h1.0v1.0h-1.0zM139.9 263.8h1.0v1.0h-1.0zM145.9 234.1h1.0v1.0h-1.0zM145.9 246.0h1.0v1.0h-1.0zM110.5 240.0h1.0v1.0h-1.0zM139.4 253.0h1.0v1.0h-1.0zM140.3 218.7h1.0v1.0h-1.0zM185.0 249.0h1.0v1.0h-1.0zM171.5 247.4h1.0v1.0h-1.0zM169.2 241.8h1.0v1.0h-1.0zM169.8 243.2h1.0v1.0h-1.0zM169.4 260.3h1.0v1.0h-1.0zM177.4 242.6h1.0v1.0h-1.0zM156.0 240.3h1.0v1.0h-1.0zM174.4 246.8h1.0v1.0h-1.0zM156.8 225.6h1.0v1.0h-1.0zM181.1 228.8h1.0v1.0h-1.0zM196.3 246.0h1.0v1.0h-1.0zM88.3 245.2h1.0v1.0h-1.0zM193.1 225.8h1.0v1.0h-1.0zM189.1 236.4h1.0v1.0h-1.0zM162.0 217.0h1.0v1.0h-1.0zM162.4 210.0h1.0v1.0h-1.0zM156.4 242.0h1.0v1.0h-1.0zM180.4 230.7h1.0v1.0h-1.0zM173.7 239.3h1.0v1.0h-1.0zM121.5 213.6h1.0v1.0h-1.0zM192.2 240.2h1.0v1.0h-1.0zM156.0 235.3h1.0v1.0h-1.0zM152.9 209.4h1.0v1.0h-1.0zM191.2 225.9h1.0v1.0h-1.0zM192.6 259.8h1.0v1.0h-1.0zM208.6 240.4h1.0v1.0h-1.0zM172.8 241.1h1.0v1.0h-1.0zM154.4 235.4h1.0v1.0h-1.0zM152.2 236.3h1.0v1.0h-1.0zM119.8 231.8h1.0v1.0h-1.0zM214.5 260.7h1.0v1.0h-1.0zM154.9 235.7h1.0v1.0h-1.0zM132.7 265.3h1.0v1.0h-1.0zM146.5 243.9h1.0v1.0h-1.0zM180.0 229.3h1.0v1.0h-1.0zM194.6 262.1h1.0v1.0h-1.0zM194.9 244.8h1.0v1.0h-1.0zM171.3 234.6h1.0v1.0h-1.0zM147.6 244.4h1.0v1.0h-1.0zM182.7 245.0h1.0v1.0h-1.0zM170.8 281.8h1.0v1.0h-1.0zM202.1 262.6h1.0v1.0h-1.0zM157.7 252.7h1.0v1.0h-1.0zM179.6 214.3h1.0v1.0h-1.0zM162.8 248.1h1.0v1.0h-1.0zM135.9 231.3h1.0v1.0h-1.0zM201.5 230.7h1.0v1.0h-1.0zM179.3 230.5h1.0v1.0h-1.0zM168.4 254.5h1.0v1.0h-1.0zM87.7 241.6h1.0v1.0h-1.0zM151.2 276.5h1.0v1.0h-1.0zM173.2 239.4h1.0v1.0h-1.0zM144.1 237.0h1.0v1.0h-1.0zM161.2 254.3h1.0v1.0h-1.0zM205.2 246.8h1.0v1.0h-1.0zM131.1 235.0h1.0v1.0h-1.0zM205.9 243.5h1.0v1.0h-1.0zM158.2 254.8h1.0v1.0h-1.0zM176.2 241.6h1.0v1.0h-1.0zM115.1 225.9h1.0v1.0h-1.0zM194.8 247.8h1.0v1.0h-1.0zM160.8 247.1h1.0v1.0h-1.0zM192.9 233.7h1.0v1.0h-1.0zM192.5 278.3h1.0v1.0h-1.0zM172.6 243.1h1.0v1.0h-1.0zM162.4 252.3h1.0v1.0h-1.0zM178.8 235.4h1.0v1.0h-1.0zM241.6 243.4h1.0v1.0h-1.0zM171.2 249.4h1.0v1.0h-1.0zM214.5 235.5h1.0v1.0h-1.0zM168.1 216.7h1.0v1.0h-1.0zM160.4 254.3h1.0v1.0h-1.0zM142.2 217.0h1.0v1.0h-1.0zM120.6 257.1h1.0v1.0h-1.0zM178.8 231.5h1.0v1.0h-1.0zM159.9 221.0h1.0v1.0h-1.0zM174.5 238.3h1.0v1.0h-1.0zM153.1 246.9h1.0v1.0h-1.0zM109.0 227.3h1.0v1.0h-1.0zM166.2 259.9h1.0v1.0h-1.0zM131.2 235.0h1.0v1.0h-1.0zM197.3 260.8h1.0v1.0h-1.0zM154.1 255.0h1.0v1.0h-1.0zM168.6 273.9h1.0v1.0h-1.0zM170.5 234.0h1.0v1.0h-1.0zM162.5 259.5h1.0v1.0h-1.0zM136.4 247.3h1.0v1.0h-1.0zM174.1 249.5h1.0v1.0h-1.0zM153.4 230.2h1.0v1.0h-1.0zM207.2 254.1h1.0v1.0h-1.0zM210.6 244.8h1.0v1.0h-1.0zM165.9 247.0h1.0v1.0h-1.0zM173.4 246.3h1.0v1.0h-1.0zM191.2 238.1h1.0v1.0h-1.0zM138.7 259.6h1.0v1.0h-1.0zM176.7 275.2h1.0v1.0h-1.0zM129.0 222.6h1.0v1.0h-1.0zM115.8 250.3h1.0v1.0h-1.0zM219.3 234.9h1.0v1.0h-1.0zM198.7 255.6h1.0v1.0h-1.0zM252.8 244.4h1.0v1.0h-1.0zM104.1 232.0h1.0v1.0h-1.0zM199.0 251.9h1.0v1.0h-1.0zM143.9 228.9h1.0v1.0h-1.0zM176.0 231.7h1.0v1.0h-1.0zM187.5 255.2h1.0v1.0h-1.0zM159.5 240.7h1.0v1.0h-1.0zM182.7 236.7h1.0v1.0h-1.0zM185.5 230.7h1.0v1.0h-1.0zM141.7 235.6h1.0v1.0h-1.0zM222.6 229.5h1.0v1.0h-1.0zM217.7 232.2h1.0v1.0h-1.0zM198.9 228.5h1.0v1.0h-1.0zM162.8 266.9h1.0v1.0h-1.0zM192.4 248.3h1.0v1.0h-1.0zM198.7 251.1h1.0v1.0h-1.0zM131.3 233.1h1.0v1.0h-1.0zM198.6 275.9h1.0v1.0h-1.0zM153.6 238.0h1.0v1.0h-1.0zM218.3 244.9h1.0v1.0h-1.0zM178.3 245.1h1.0v1.0h-1.0zM169.6 248.3h1.0v1.0h-1.0zM194.4 255.8h1.0v1.0h-1.0zM129.7 223.7h1.0v1.0h-1.0zM161.8 233.6h1.0v1.0h-1.0zM177.6 255.7h1.0v1.0h-1.0zM207.1 253.9h1.0v1.0h-1.0zM163.1 257.5h1.0v1.0h-1.0zM163.7 236.9h1.0v1.0h-1.0zM201.4 235.3h1.0v1.0h-1.0zM151.7 250.6h1.0v1.0h-1.0zM220.1 239.0h1.0v1.0h-1.0zM144.7 235.4h1.0v1.0h-1.0zM209.3 236.7h1.0v1.0h-1.0zM151.7 232.0h1.0v1.0h-1.0zM154.6 220.0h1.0v1.0h-1.0zM212.6 236.6h1.0v1.0h-1.0zM177.8 213.6h1.0v1.0h-1.0zM134.1 272.2h1.0v1.0h-1.0zM178.4 235.0h1.0v1.0h-1.0zM195.7 257.2h1.0v1.0h-1.0zM221.2 243.6h1.0v1.0h-1.0zM153.2 255.6h1.0v1.0h-1.0zM142.1 234.6h1.0v1.0h-1.0zM169.5 220.7h1.0v1.0h-1.0zM167.5 259.5h1.0v1.0h-1.0zM168.9 220.8h1.0v1.0h-1.0zM157.8 230.9h1.0v1.0h-1.0zM158.7 252.8h1.0v1.0h-1.0zM207.3 263.0h1.0v1.0h-1.0zM214.5 235.0h1.0v1.0h-1.0zM205.5 228.1h1.0v1.0h-1.0zM172.9 245.5h1.0v1.0h-1.0zM192.1 242.4h1.0v1.0h-1.0zM177.5 269.3h1.0v1.0h-1.0zM172.8 234.8h1.0v1.0h-1.0zM123.8 225.3h1.0v1.0h-1.0zM185.2 213.1h1.0v1.0h-1.0zM229.5 243.0h1.0v1.0h-1.0zM177.0 258.8h1.0v1.0h-1.0zM181.4 232.1h1.0v1.0h-1.0zM198.2 253.4h1.0v1.0h-1.0zM172.4 252.6h1.0v1.0h-1.0zM139.5 240.7h1.0v1.0h-1.0zM148.9 242.6h1.0v1.0h-1.0zM201.6 246.6h1.0v1.0h-1.0zM187.5 247.1h1.0v1.0h-1.0zM105.3 227.8h1.0v1.0h-1.0zM186.6 227.9h1.0v1.0h-1.0zM170.6 247.3h1.0v1.0h-1.0zM180.3 226.9h1.0v1.0h-1.0zM179.8 258.6h1.0v1.0h-1.0zM172.0 225.4h1.0v1.0h-1.0zM128.1 240.1h1.0v1.0h-1.0zM176.2 246.8h1.0v1.0h-1.0zM184.7 226.9h1.0v1.0h-1.0zM206.9 223.7h1.0v1.0h-1.0zM137.5 242.1h1.0v1.0h-1.0zM157.7 252.1h1.0v1.0h-1.0zM157.6 260.3h1.0v1.0h-1.0zM220.5 239.8h1.0v1.0h-1.0zM152.4 235.2h1.0v1.0h-1.0zM227.7 246.7h1.0v1.0h-1.0zM209.5 253.7h1.0v1.0h-1.0zM168.8 260.0h1.0v1.0h-1.0zM184.9 251.8h1.0v1.0h-1.0zM222.4 246.6h1.0v1.0h-1.0zM146.9 250.9h1.0v1.0h-1.0zM192.4 264.6h1.0v1.0h-1.0zM171.6 258.3h1.0v1.0h-1.0zM147.1 218.4h1.0v1.0h-1.0zM167.2 252.6h1.0v1.0h-1.0zM111.0 218.8h1.0v1.0h-1.0zM192.2 243.5h1.0v1.0h-1.0zM162.8 223.7h1.0v1.0h-1.0zM202.9 244.9h1.0v1.0h-1.0zM155.3 227.0h1.0v1.0h-1.0zM152.7 237.1h1.0v1.0h-1.0zM156.5 252.6h1.0v1.0h-1.0zM137.4 252.7h1.0v1.0h-1.0zM149.6 250.8h1.0v1.0h-1.0zM203.6 232.6h1.0v1.0h-1.0zM203.9 239.6h1.0v1.0h-1.0zM178.8 246.8h1.0v1.0h-1.0zM174.8 259.1h1.0v1.0h-1.0zM192.7 248.3h1.0v1.0h-1.0zM155.1 268.4h1.0v1.0h-1.0zM188.6 250.7h1.0v1.0h-1.0zM179.0 236.4h1.0v1.0h-1.0zM194.9 227.0h1.0v1.0h-1.0zM194.6 256.0h1.0v1.0h-1.0zM209.6 237.0h1.0v1.0h-1.0zM168.5 247.0h1.0v1.0h-1.0zM148.8 205.8h1.0v1.0h-1.0zM124.1 229.2h1.0v1.0h-1.0zM247.7 241.5h1.0v1.0h-1.0zM139.1 240.4h1.0v1.0h-1.0zM137.9 243.1h1.0v1.0h-1.0zM140.7 228.8h1.0v1.0h-1.0zM94.7 238.1h1.0v1.0h-1.0zM123.8 246.6h1.0v1.0h-1.0zM187.9 240.7h1.0v1.0h-1.0zM175.8 257.9h1.0v1.0h-1.0zM174.2 270.4h1.0v1.0h-1.0zM207.9 226.2h1.0v1.0h-1.0zM206.7 226.8h1.0v1.0h-1.0zM179.4 247.5h1.0v1.0h-1.0zM232.7 242.4h1.0v1.0h-1.0zM185.3 256.7h1.0v1.0h-1.0zM183.4 228.0h1.0v1.0h-1.0zM99.2 250.7h1.0v1.0h-1.0zM240.6 245.2h1.0v1.0h-1.0zM193.8 251.7h1.0v1.0h-1.0zM132.4 246.0h1.0v1.0h-1.0zM218.4 255.8h1.0v1.0h-1.0zM195.1 245.1h1.0v1.0h-1.0zM154.4 228.5h1.0v1.0h-1.0zM164.4 229.8h1.0v1.0h-1.0zM202.6 248.5h1.0v1.0h-1.0zM167.4 241.4h1.0v1.0h-1.0zM160.0 249.2h1.0v1.0h-1.0zM184.8 234.0h1.0v1.0h-1.0zM197.3 237.6h1.0v1.0h-1.0zM130.2 261.3h1.0v1.0h-1.0zM147.4 263.2h1.0v1.0h-1.0zM159.2 239.3h1.0v1.0h-1.0zM180.4 240.7h1.0v1.0h-1.0zM160.2 251.7h1.0v1.0h-1.0zM163.5 245.6h1.0v1.0h-1.0zM202.1 241.2h1.0v1.0h-1.0zM186.5 239.4h1.0v1.0h-1.0zM219.1 238.1h1.0v1.0h-1.0zM203.8 225.0h1.0v1.0h-1.0zM168.1 230.1h1.0v1.0h-1.0zM204.8 238.9h1.0v1.0h-1.0zM180.9 266.0h1.0v1.0h-1.0zM186.2 245.6h1.0v1.0h-1.0zM181.7 256.3h1.0v1.0h-1.0zM162.0 264.6h1.0v1.0h-1.0zM197.4 247.3h1.0v1.0h-1.0zM199.1 254.6h1.0v1.0h-1.0zM174.3 251.4h1.0v1.0h-1.0zM204.1 227.2h1.0v1.0h-1.0zM216.2 241.3h1.0v1.0h-1.0zM181.2 280.7h1.0v1.0h-1.0zM180.2 252.1h1.0v1.0h-1.0zM149.1 227.9h1.0v1.0h-1.0zM166.8 249.8h1.0v1.0h-1.0zM137.9 257.2h1.0v1.0h-1.0zM180.5 216.1h1.0v1.0h-1.0zM164.1 212.7h1.0v1.0h-1.0zM187.0 269.4h1.0v1.0h-1.0zM156.3 242.3h1.0v1.0h-1.0zM94.0 244.5h1.0v1.0h-1.0zM230.6 237.7h1.0v1.0h-1.0zM143.4 241.7h1.0v1.0h-1.0zM154.7 240.4h1.0v1.0h-1.0zM182.1 267.2h1.0v1.0h-1.0zM141.9 254.2h1.0v1.0h-1.0zM162.3 262.6h1.0v1.0h-1.0zM170.1 241.8h1.0v1.0h-1.0zM162.4 246.6h1.0v1.0h-1.0zM191.0 250.3h1.0v1.0h-1.0zM134.8 239.9h1.0v1.0h-1.0zM173.0 241.5h1.0v1.0h-1.0zM188.4 220.4h1.0v1.0h-1.0zM196.3 261.7h1.0v1.0h-1.0zM208.3 252.4h1.0v1.0h-1.0zM160.3 228.0h1.0v1.0h-1.0zM211.4 235.1h1.0v1.0h-1.0zM109.8 261.2h1.0v1.0h-1.0zM136.3 246.7h1.0v1.0h-1.0zM176.6 280.8h1.0v1.0h-1.0zM96.3 228.8h1.0v1.0h-1.0zM166.5 246.2h1.0v1.0h-1.0zM203.4 225.6h1.0v1.0h-1.0zM160.9 229.9h1.0v1.0h-1.0zM127.3 246.9h1.0v1.0h-1.0zM189.2 241.6h1.0v1.0h-1.0zM189.0 253.6h1.0v1.0h-1.0zM174.5 261.9h1.0v1.0h-1.0zM173.8 247.4h1.0v1.0h-1.0zM186.5 233.6h1.0v1.0h-1.0zM235.8 242.3h1.0v1.0h-1.0zM178.1 255.0h1.0v1.0h-1.0zM177.8 242.8h1.0v1.0h-1.0zM185.8 225.3h1.0v1.0h-1.0zM168.9 234.7h1.0v1.0h-1.0zM205.1 237.3h1.0v1.0h-1.0zM208.3 237.6h1.0v1.0h-1.0zM157.1 239.3h1.0v1.0h-1.0zM172.1 250.6h1.0v1.0h-1.0zM111.2 238.2h1.0v1.0h-1.0zM223.8 257.5h1.0v1.0h-1.0zM165.8 241.9h1.0v1.0h-1.0zM180.5 238.2h1.0v1.0h-1.0zM122.3 240.0h1.0v1.0h-1.0zM200.6 248.2h1.0v1.0h-1.0zM139.9 238.1h1.0v1.0h-1.0zM158.8 248.3h1.0v1.0h-1.0zM211.7 243.7h1.0v1.0h-1.0zM139.3 252.3h1.0v1.0h-1.0zM213.4 231.0h1.0v1.0h-1.0zM179.7 255.7h1.0v1.0h-1.0zM204.2 251.0h1.0v1.0h-1.0zM157.8 245.8h1.0v1.0h-1.0zM176.4 231.5h1.0v1.0h-1.0zM176.7 217.1h1.0v1.0h-1.0zM220.5 238.2h1.0v1.0h-1.0zM212.4 223.4h1.0v1.0h-1.0zM125.9 216.2h1.0v1.0h-1.0zM189.9 232.8h1.0v1.0h-1.0zM145.9 248.3h1.0v1.0h-1.0zM215.5 250.8h1.0v1.0h-1.0zM183.2 244.0h1.0v1.0h-1.0zM223.4 247.4h1.0v1.0h-1.0zM210.6 238.4h1.0v1.0h-1.0zM196.7 258.7h1.0v1.0h-1.0zM181.6 236.0h1.0v1.0h-1.0zM175.2 232.1h1.0v1.0h-1.0zM203.7 228.5h1.0v1.0h-1.0zM165.5 253.5h1.0v1.0h-1.0zM187.2 219.9h1.0v1.0h-1.0zM172.8 217.4h1.0v1.0h-1.0zM139.8 213.4h1.0v1.0h-1.0zM123.8 217.4h1.0v1.0h-1.0zM158.8 219.4h1.0v1.0h-1.0zM227.7 239.5h1.0v1.0h-1.0zM175.9 242.7h1.0v1.0h-1.0zM133.0 237.0h1.0v1.0h-1.0zM177.8 259.2h1.0v1.0h-1.0zM202.9 255.1h1.0v1.0h-1.0zM159.8 247.6h1.0v1.0h-1.0zM156.4 226.7h1.0v1.0h-1.0zM248.4 243.9h1.0v1.0h-1.0zM195.2 233.4h1.0v1.0h-1.0zM172.8 238.1h1.0v1.0h-1.0zM165.5 246.9h1.0v1.0h-1.0zM193.4 263.5h1.0v1.0h-1.0zM179.1 243.3h1.0v1.0h-1.0zM144.9 257.7h1.0v1.0h-1.0zM178.2 245.7h1.0v1.0h-1.0zM145.4 243.6h1.0v1.0h-1.0zM168.4 233.9h1.0v1.0h-1.0zM210.9 264.7h1.0v1.0h-1.0zM166.2 237.1h1.0v1.0h-1.0zM206.2 255.9h1.0v1.0h-1.0zM181.7 255.4h1.0v1.0h-1.0zM192.5 271.2h1.0v1.0h-1.0zM153.1 261.4h1.0v1.0h-1.0zM144.0 238.2h1.0v1.0h-1.0zM161.4 249.1h1.0v1.0h-1.0zM194.9 251.0h1.0v1.0h-1.0zM163.7 260.7h1.0v1.0h-1.0zM213.6 241.9h1.0v1.0h-1.0zM148.2 266.2h1.0v1.0h-1.0zM169.1 250.9h1.0v1.0h-1.0zM191.3 258.0h1.0v1.0h-1.0zM165.8 240.3h1.0v1.0h-1.0zM173.3 232.8h1.0v1.0h-1.0zM154.6 223.4h1.0v1.0h-1.0zM183.8 241.1h1.0v1.0h-1.0zM130.8 254.6h1.0v1.0h-1.0zM173.7 232.3h1.0v1.0h-1.0zM191.0 259.3h1.0v1.0h-1.0zM167.7 247.9h1.0v1.0h-1.0zM186.5 242.1h1.0v1.0h-1.0zM140.8 216.0h1.0v1.0h-1.0zM178.5 258.7h1.0v1.0h-1.0zM195.3 212.4h1.0v1.0h-1.0zM127.6 231.0h1.0v1.0h-1.0zM194.4 244.1h1.0v1.0h-1.0zM135.8 234.2h1.0v1.0h-1.0zM154.3 257.5h1.0v1.0h-1.0zM183.4 238.5h1.0v1.0h-1.0zM233.3 247.3h1.0v1.0h-1.0zM160.3 235.4h1.0v1.0h-1.0zM162.2 242.2h1.0v1.0h-1.0zM190.3 240.4h1.0v1.0h-1.0zM156.5 245.6h1.0v1.0h-1.0zM176.8 267.0h1.0v1.0h-1.0zM193.2 270.0h1.0v1.0h-1.0zM171.9 249.9h1.0v1.0h-1.0zM199.1 238.6h1.0v1.0h-1.0zM172.5 252.1h1.0v1.0h-1.0zM203.8 234.4h1.0v1.0h-1.0zM123.1 269.1h1.0v1.0h-1.0zM244.2 242.7h1.0v1.0h-1.0zM158.4 241.9h1.0v1.0h-1.0zM170.0 225.1h1.0v1.0h-1.0zM126.7 271.3h1.0v1.0h-1.0zM163.4 216.1h1.0v1.0h-1.0zM196.1 241.6h1.0v1.0h-1.0zM142.6 244.8h1.0v1.0h-1.0zM172.1 270.0h1.0v1.0h-1.0zM200.8 246.6h1.0v1.0h-1.0zM162.4 243.2h1.0v1.0h-1.0zM180.8 239.0h1.0v1.0h-1.0zM185.2 270.6h1.0v1.0h-1.0zM165.6 253.1h1.0v1.0h-1.0zM183.6 222.3h1.0v1.0h-1.0zM162.2 236.7h1.0v1.0h-1.0zM145.7 245.4h1.0v1.0h-1.0zM138.4 247.0h1.0v1.0h-1.0zM149.0 237.5h1.0v1.0h-1.0zM171.9 231.1h1.0v1.0h-1.0zM210.4 229.5h1.0v1.0h-1.0zM141.4 259.5h1.0v1.0h-1.0zM180.7 248.4h1.0v1.0h-1.0zM172.0 270.9h1.0v1.0h-1.0zM169.8 248.9h1.0v1.0h-1.0zM143.4 260.2h1.0v1.0h-1.0zM135.8 238.7h1.0v1.0h-1.0zM190.9 253.7h1.0v1.0h-1.0zM251.7 242.1h1.0v1.0h-1.0zM170.0 264.5h1.0v1.0h-1.0zM152.7 249.5h1.0v1.0h-1.0zM168.9 242.3h1.0v1.0h-1.0zM204.4 250.1h1.0v1.0h-1.0zM186.6 253.4h1.0v1.0h-1.0zM144.0 248.6h1.0v1.0h-1.0zM177.9 243.9h1.0v1.0h-1.0zM136.7 251.2h1.0v1.0h-1.0zM202.4 236.7h1.0v1.0h-1.0zM170.0 251.2h1.0v1.0h-1.0zM151.8 231.3h1.0v1.0h-1.0zM149.6 235.6h1.0v1.0h-1.0zM207.8 234.6h1.0v1.0h-1.0zM165.6 238.4h1.0v1.0h-1.0zM167.7 247.7h1.0v1.0h-1.0zM157.2 238.5h1.0v1.0h-1.0zM171.5 257.7h1.0v1.0h-1.0zM181.4 242.5h1.0v1.0h-1.0zM172.9 260.3h1.0v1.0h-1.0zM185.4 235.0h1.0v1.0h-1.0zM149.4 245.0h1.0v1.0h-1.0zM188.3 243.7h1.0v1.0h-1.0zM152.6 232.1h1.0v1.0h-1.0zM202.0 244.2h1.0v1.0h-1.0zM148.0 224.8h1.0v1.0h-1.0zM172.6 255.9h1.0v1.0h-1.0zM216.9 249.1h1.0v1.0h-1.0zM155.8 263.7h1.0v1.0h-1.0zM155.5 231.3h1.0v1.0h-1.0zM156.4 243.2h1.0v1.0h-1.0zM210.8 243.8h1.0v1.0h-1.0zM187.9 245.9h1.0v1.0h-1.0zM196.7 252.0h1.0v1.0h-1.0zM180.6 227.0h1.0v1.0h-1.0zM161.4 244.8h1.0v1.0h-1.0zM89.7 236.1h1.0v1.0h-1.0zM169.4 225.3h1.0v1.0h-1.0zM196.1 242.2h1.0v1.0h-1.0zM177.8 257.4h1.0v1.0h-1.0zM221.3 256.6h1.0v1.0h-1.0zM171.6 246.2h1.0v1.0h-1.0zM179.9 249.3h1.0v1.0h-1.0zM201.1 239.9h1.0v1.0h-1.0zM179.9 267.1h1.0v1.0h-1.0zM207.3 261.5h1.0v1.0h-1.0zM164.1 236.5h1.0v1.0h-1.0zM139.7 239.9h1.0v1.0h-1.0zM190.8 244.5h1.0v1.0h-1.0zM131.9 242.6h1.0v1.0h-1.0zM138.3 247.1h1.0v1.0h-1.0zM147.3 233.2h1.0v1.0h-1.0zM192.7 251.5h1.0v1.0h-1.0zM184.5 224.1h1.0v1.0h-1.0zM116.4 249.8h1.0v1.0h-1.0zM181.8 247.4h1.0v1.0h-1.0zM182.9 221.9h1.0v1.0h-1.0zM173.0 216.9h1.0v1.0h-1.0zM201.7 243.1h1.0v1.0h-1.0zM103.7 235.8h1.0v1.0h-1.0zM83.4 238.3h1.0v1.0h-1.0zM158.0 251.7h1.0v1.0h-1.0zM206.8 227.4h1.0v1.0h-1.0zM154.8 214.3h1.0v1.0h-1.0zM230.9 241.2h1.0v1.0h-1.0zM155.8 249.8h1.0v1.0h-1.0zM189.7 208.8h1.0v1.0h-1.0zM191.8 256.1h1.0v1.0h-1.0zM175.9 282.5h1.0v1.0h-1.0zM165.8 229.5h1.0v1.0h-1.0zM163.1 208.3h1.0v1.0h-1.0zM187.9 239.7h1.0v1.0h-1.0zM170.4 259.1h1.0v1.0h-1.0zM159.9 264.4h1.0v1.0h-1.0zM167.7 257.3h1.0v1.0h-1.0zM204.0 236.2h1.0v1.0h-1.0zM142.3 227.8h1.0v1.0h-1.0zM186.4 245.1h1.0v1.0h-1.0zM142.2 221.2h1.0v1.0h-1.0zM178.4 243.1h1.0v1.0h-1.0zM223.1 246.6h1.0v1.0h-1.0zM161.9 214.9h1.0v1.0h-1.0zM192.7 250.3h1.0v1.0h-1.0zM200.1 242.8h1.0v1.0h-1.0zM243.9 241.2h1.0v1.0h-1.0zM144.0 242.1h1.0v1.0h-1.0zM190.3 227.0h1.0v1.0h-1.0zM178.1 265.6h1.0v1.0h-1.0zM152.2 231.6h1.0v1.0h-1.0zM241.2 249.0h1.0v1.0h-1.0zM97.5 242.6h1.0v1.0h-1.0zM112.4 235.9h1.0v1.0h-1.0zM163.3 232.7h1.0v1.0h-1.0zM173.8 253.1h1.0v1.0h-1.0zM167.6 246.0h1.0v1.0h-1.0zM111.0 246.9h1.0v1.0h-1.0zM166.9 250.6h1.0v1.0h-1.0zM180.7 259.9h1.0v1.0h-1.0zM166.4 246.5h1.0v1.0h-1.0zM175.0 225.5h1.0v1.0h-1.0zM105.4 260.6h1.0v1.0h-1.0zM138.6 215.6h1.0v1.0h-1.0zM225.0 244.3h1.0v1.0h-1.0zM156.9 230.6h1.0v1.0h-1.0zM201.0 246.8h1.0v1.0h-1.0zM201.3 243.3h1.0v1.0h-1.0zM136.3 237.8h1.0v1.0h-1.0zM199.6 225.1h1.0v1.0h-1.0zM153.7 222.2h1.0v1.0h-1.0zM123.1 236.9h1.0v1.0h-1.0zM168.4 239.9h1.0v1.0h-1.0zM185.7 271.5h1.0v1.0h-1.0zM160.7 264.6h1.0v1.0h-1.0zM162.3 237.3h1.0v1.0h-1.0zM173.3 247.4h1.0v1.0h-1.0zM176.0 247.0h1.0v1.0h-1.0zM218.2 243.1h1.0v1.0h-1.0zM159.6 230.0h1.0v1.0h-1.0zM150.6 232.8h1.0v1.0h-1.0zM173.1 248.2h1.0v1.0h-1.0zM163.7 253.6h1.0v1.0h-1.0zM181.5 249.4h1.0v1.0h-1.0zM196.2 244.6h1.0v1.0h-1.0zM212.1 256.7h1.0v1.0h-1.0zM135.8 244.8h1.0v1.0h-1.0zM181.3 249.2h1.0v1.0h-1.0zM232.5 246.3h1.0v1.0h-1.0zM143.9 240.8h1.0v1.0h-1.0zM140.4 235.5h1.0v1.0h-1.0zM200.9 229.4h1.0v1.0h-1.0zM151.8 274.0h1.0v1.0h-1.0zM183.7 243.1h1.0v1.0h-1.0zM162.5 255.4h1.0v1.0h-1.0zM184.4 222.1h1.0v1.0h-1.0zM230.7 236.2h1.0v1.0h-1.0zM209.1 249.0h1.0v1.0h-1.0zM161.4 254.4h1.0v1.0h-1.0zM134.5 226.6h1.0v1.0h-1.0zM192.9 253.0h1.0v1.0h-1.0zM140.9 231.0h1.0v1.0h-1.0zM154.7 219.3h1.0v1.0h-1.0zM173.3 244.8h1.0v1.0h-1.0zM161.9 228.8h1.0v1.0h-1.0zM143.3 225.4h1.0v1.0h-1.0zM171.2 250.2h1.0v1.0h-1.0zM189.5 254.3h1.0v1.0h-1.0zM181.5 241.0h1.0v1.0h-1.0zM181.6 232.9h1.0v1.0h-1.0zM155.6 242.6h1.0v1.0h-1.0zM155.7 242.8h1.0v1.0h-1.0zM204.7 270.4h1.0v1.0h-1.0zM167.5 208.1h1.0v1.0h-1.0zM156.2 260.5h1.0v1.0h-1.0zM145.0 252.6h1.0v1.0h-1.0zM146.2 235.2h1.0v1.0h-1.0zM141.4 237.1h1.0v1.0h-1.0zM186.0 251.6h1.0v1.0h-1.0zM212.1 250.7h1.0v1.0h-1.0zM149.4 228.6h1.0v1.0h-1.0zM179.6 234.8h1.0v1.0h-1.0zM198.2 241.8h1.0v1.0h-1.0zM174.7 252.1h1.0v1.0h-1.0zM150.5 213.5h1.0v1.0h-1.0zM148.2 242.2h1.0v1.0h-1.0zM132.8 247.0h1.0v1.0h-1.0zM165.3 244.2h1.0v1.0h-1.0zM179.3 257.7h1.0v1.0h-1.0zM173.5 216.4h1.0v1.0h-1.0zM159.2 249.0h1.0v1.0h-1.0zM158.1 249.2h1.0v1.0h-1.0zM177.3 271.9h1.0v1.0h-1.0zM131.8 229.9h1.0v1.0h-1.0zM151.9 243.2h1.0v1.0h-1.0zM151.4 240.6h1.0v1.0h-1.0zM231.7 232.2h1.0v1.0h-1.0zM197.6 270.2h1.0v1.0h-1.0zM165.6 240.2h1.0v1.0h-1.0zM152.4 246.8h1.0v1.0h-1.0zM202.1 269.4h1.0v1.0h-1.0zM170.9 251.9h1.0v1.0h-1.0zM199.4 259.6h1.0v1.0h-1.0zM164.8 252.4h1.0v1.0h-1.0zM200.5 247.1h1.0v1.0h-1.0zM240.0 241.7h1.0v1.0h-1.0zM147.4 235.6h1.0v1.0h-1.0zM190.3 236.7h1.0v1.0h-1.0zM182.9 239.0h1.0v1.0h-1.0zM182.1 256.4h1.0v1.0h-1.0zM154.2 263.3h1.0v1.0h-1.0zM218.4 237.3h1.0v1.0h-1.0zM156.2 254.8h1.0v1.0h-1.0zM201.3 237.3h1.0v1.0h-1.0zM151.0 241.0h1.0v1.0h-1.0zM168.5 253.2h1.0v1.0h-1.0zM190.3 224.3h1.0v1.0h-1.0zM246.5 246.3h1.0v1.0h-1.0zM159.4 245.6h1.0v1.0h-1.0zM209.4 240.3h1.0v1.0h-1.0zM157.6 232.8h1.0v1.0h-1.0zM148.1 234.3h1.0v1.0h-1.0zM180.4 239.9h1.0v1.0h-1.0zM211.7 237.6h1.0v1.0h-1.0zM180.2 237.0h1.0v1.0h-1.0zM114.2 233.3h1.0v1.0h-1.0zM199.6 237.9h1.0v1.0h-1.0zM193.6 241.8h1.0v1.0h-1.0zM137.3 238.7h1.0v1.0h-1.0zM194.2 256.7h1.0v1.0h-1.0zM202.3 254.1h1.0v1.0h-1.0zM197.6 239.5h1.0v1.0h-1.0zM170.5 237.2h1.0v1.0h-1.0zM159.5 222.2h1.0v1.0h-1.0zM145.9 247.9h1.0v1.0h-1.0zM137.6 242.1h1.0v1.0h-1.0zM218.2 240.6h1.0v1.0h-1.0zM209.4 239.2h1.0v1.0h-1.0zM193.1 253.4h1.0v1.0h-1.0zM193.5 256.3h1.0v1.0h-1.0zM150.4 260.5h1.0v1.0h-1.0zM139.9 265.2h1.0v1.0h-1.0zM178.9 267.5h1.0v1.0h-1.0zM157.3 227.9h1.0v1.0h-1.0zM213.4 235.6h1.0v1.0h-1.0zM171.4 275.7h1.0v1.0h-1.0zM155.2 215.0h1.0v1.0h-1.0zM176.3 235.1h1.0v1.0h-1.0zM151.2 245.1h1.0v1.0h-1.0zM204.0 233.8h1.0v1.0h-1.0zM206.4 248.9h1.0v1.0h-1.0zM216.7 235.1h1.0v1.0h-1.0zM175.4 240.3h1.0v1.0h-1.0zM157.3 258.3h1.0v1.0h-1.0zM193.6 271.6h1.0v1.0h-1.0zM148.7 235.9h1.0v1.0h-1.0zM202.7 254.1h1.0v1.0h-1.0zM126.3 257.7h1.0v1.0h-1.0zM123.0 252.5h1.0v1.0h-1.0zM209.4 252.4h1.0v1.0h-1.0zM165.3 220.3h1.0v1.0h-1.0zM197.2 258.1h1.0v1.0h-1.0zM175.5 276.2h1.0v1.0h-1.0zM161.6 276.3h1.0v1.0h-1.0zM201.9 245.8h1.0v1.0h-1.0zM187.0 249.1h1.0v1.0h-1.0zM201.9 241.7h1.0v1.0h-1.0zM171.7 238.3h1.0v1.0h-1.0zM166.7 249.9h1.0v1.0h-1.0zM159.7 249.5h1.0v1.0h-1.0zM140.2 227.4h1.0v1.0h-1.0zM189.5 228.7h1.0v1.0h-1.0zM194.1 253.8h1.0v1.0h-1.0zM192.0 226.4h1.0v1.0h-1.0zM155.5 233.4h1.0v1.0h-1.0zM150.4 239.9h1.0v1.0h-1.0zM162.5 227.1h1.0v1.0h-1.0zM218.4 255.9h1.0v1.0h-1.0zM159.0 242.0h1.0v1.0h-1.0zM157.3 262.9h1.0v1.0h-1.0zM124.0 239.4h1.0v1.0h-1.0zM247.9 244.8h1.0v1.0h-1.0zM142.8 251.1h1.0v1.0h-1.0zM210.1 239.9h1.0v1.0h-1.0zM168.3 258.2h1.0v1.0h-1.0zM183.2 262.2h1.0v1.0h-1.0zM194.2 231.1h1.0v1.0h-1.0zM173.9 213.5h1.0v1.0h-1.0zM166.7 233.8h1.0v1.0h-1.0zM169.3 274.9h1.0v1.0h-1.0zM148.5 253.1h1.0v1.0h-1.0zM161.5 253.2h1.0v1.0h-1.0zM205.1 251.5h1.0v1.0h-1.0zM173.3 220.5h1.0v1.0h-1.0zM191.0 226.3h1.0v1.0h-1.0zM175.4 236.7h1.0v1.0h-1.0zM198.5 227.4h1.0v1.0h-1.0zM148.1 262.9h1.0v1.0h-1.0zM153.2 233.6h1.0v1.0h-1.0zM133.4 244.5h1.0v1.0h-1.0zM160.2 240.0h1.0v1.0h-1.0zM167.9 233.2h1.0v1.0h-1.0zM187.5 233.8h1.0v1.0h-1.0zM127.8 243.6h1.0v1.0h-1.0zM152.2 263.7h1.0v1.0h-1.0zM209.8 268.2h1.0v1.0h-1.0zM180.7 231.2h1.0v1.0h-1.0zM188.0 258.5h1.0v1.0h-1.0zM221.2 237.7h1.0v1.0h-1.0zM184.0 253.0h1.0v1.0h-1.0zM152.9 250.7h1.0v1.0h-1.0zM131.2 233.7h1.0v1.0h-1.0zM146.2 256.3h1.0v1.0h-1.0zM176.6 244.3h1.0v1.0h-1.0zM153.9 242.0h1.0v1.0h-1.0zM215.0 241.7h1.0v1.0h-1.0zM108.9 254.4h1.0v1.0h-1.0zM156.3 260.4h1.0v1.0h-1.0zM159.1 236.0h1.0v1.0h-1.0zM153.6 246.8h1.0v1.0h-1.0zM207.0 253.9h1.0v1.0h-1.0zM184.8 262.1h1.0v1.0h-1.0zM217.1 245.3h1.0v1.0h-1.0zM157.7 243.3h1.0v1.0h-1.0zM117.3 213.8h1.0v1.0h-1.0zM200.3 248.7h1.0v1.0h-1.0zM142.0 261.3h1.0v1.0h-1.0zM194.0 255.9h1.0v1.0h-1.0zM166.0 220.6h1.0v1.0h-1.0zM171.3 242.0h1.0v1.0h-1.0zM166.0 233.1h1.0v1.0h-1.0zM167.3 257.3h1.0v1.0h-1.0zM165.4 266.8h1.0v1.0h-1.0zM158.6 246.6h1.0v1.0h-1.0zM148.2 234.9h1.0v1.0h-1.0zM168.0 243.8h1.0v1.0h-1.0zM206.7 245.3h1.0v1.0h-1.0zM167.7 243.3h1.0v1.0h-1.0zM168.5 236.6h1.0v1.0h-1.0zM153.5 222.5h1.0v1.0h-1.0zM118.9 260.8h1.0v1.0h-1.0zM178.9 211.5h1.0v1.0h-1.0zM167.6 227.3h1.0v1.0h-1.0zM203.3 229.5h1.0v1.0h-1.0zM200.4 249.8h1.0v1.0h-1.0zM125.5 266.2h1.0v1.0h-1.0zM203.5 245.9h1.0v1.0h-1.0zM176.0 229.4h1.0v1.0h-1.0zM171.1 247.3h1.0v1.0h-1.0zM158.4 236.0h1.0v1.0h-1.0zM142.3 223.6h1.0v1.0h-1.0zM208.7 231.5h1.0v1.0h-1.0zM104.3 255.0h1.0v1.0h-1.0zM193.5 249.8h1.0v1.0h-1.0zM149.1 243.1h1.0v1.0h-1.0zM145.6 210.2h1.0v1.0h-1.0zM153.8 218.1h1.0v1.0h-1.0zM138.7 232.4h1.0v1.0h-1.0zM172.9 245.2h1.0v1.0h-1.0zM195.0 231.2h1.0v1.0h-1.0zM153.3 255.3h1.0v1.0h-1.0zM185.2 236.3h1.0v1.0h-1.0zM165.2 252.4h1.0v1.0h-1.0zM161.4 252.6h1.0v1.0h-1.0zM186.9 230.4h1.0v1.0h-1.0zM189.9 260.7h1.0v1.0h-1.0zM190.2 233.3h1.0v1.0h-1.0zM175.6 236.1h1.0v1.0h-1.0zM177.3 224.7h1.0v1.0h-1.0zM203.0 237.5h1.0v1.0h-1.0zM179.0 227.5h1.0v1.0h-1.0zM207.0 232.2h1.0v1.0h-1.0zM148.3 217.8h1.0v1.0h-1.0zM158.3 210.7h1.0v1.0h-1.0zM133.4 250.9h1.0v1.0h-1.0zM162.6 234.9h1.0v1.0h-1.0zM135.1 219.2h1.0v1.0h-1.0zM173.3 258.4h1.0v1.0h-1.0zM158.9 236.0h1.0v1.0h-1.0zM166.1 269.6h1.0v1.0h-1.0zM206.5 252.9h1.0v1.0h-1.0zM135.5 243.1h1.0v1.0h-1.0zM134.3 227.3h1.0v1.0h-1.0zM176.6 244.1h1.0v1.0h-1.0zM143.2 252.5h1.0v1.0h-1.0zM189.8 212.1h1.0v1.0h-1.0zM166.2 231.1h1.0v1.0h-1.0zM122.5 233.8h1.0v1.0h-1.0zM165.4 236.2h1.0v1.0h-1.0zM184.8 234.7h1.0v1.0h-1.0zM213.4 249.2h1.0v1.0h-1.0zM181.4 260.1h1.0v1.0h-1.0zM108.3 220.7h1.0v1.0h-1.0zM192.8 217.8h1.0v1.0h-1.0zM151.9 224.5h1.0v1.0h-1.0zM162.7 243.6h1.0v1.0h-1.0zM189.6 272.9h1.0v1.0h-1.0zM109.7 238.2h1.0v1.0h-1.0zM169.9 249.6h1.0v1.0h-1.0zM169.6 265.8h1.0v1.0h-1.0zM156.3 260.5h1.0v1.0h-1.0zM167.6 238.9h1.0v1.0h-1.0zM190.3 257.8h1.0v1.0h-1.0zM149.9 238.6h1.0v1.0h-1.0zM202.7 255.4h1.0v1.0h-1.0zM130.9 229.7h1.0v1.0h-1.0zM187.9 228.1h1.0v1.0h-1.0zM184.3 237.8h1.0v1.0h-1.0zM201.1 229.8h1.0v1.0h-1.0zM155.5 226.6h1.0v1.0h-1.0zM202.8 249.6h1.0v1.0h-1.0zM136.8 219.4h1.0v1.0h-1.0zM180.2 252.5h1.0v1.0h-1.0zM187.0 246.7h1.0v1.0h-1.0zM151.5 242.2h1.0v1.0h-1.0zM197.3 247.6h1.0v1.0h-1.0zM165.7 229.4h1.0v1.0h-1.0zM135.9 265.5h1.0v1.0h-1.0zM155.0 272.6h1.0v1.0h-1.0zM189.4 264.2h1.0v1.0h-1.0zM183.0 252.4h1.0v1.0h-1.0zM165.3 243.8h1.0v1.0h-1.0zM169.1 255.7h1.0v1.0h-1.0zM153.2 232.5h1.0v1.0h-1.0zM139.1 247.4h1.0v1.0h-1.0zM106.2 247.2h1.0v1.0h-1.0zM179.8 236.5h1.0v1.0h-1.0zM160.2 253.8h1.0v1.0h-1.0zM195.2 261.9h1.0v1.0h-1.0zM173.5 257.0h1.0v1.0h-1.0zM192.8 249.6h1.0v1.0h-1.0zM177.1 243.2h1.0v1.0h-1.0zM137.4 238.1h1.0v1.0h-1.0zM176.8 275.0h1.0v1.0h-1.0zM177.3 217.5h1.0v1.0h-1.0zM167.2 248.1h1.0v1.0h-1.0zM111.6 230.8h1.0v1.0h-1.0zM183.3 243.3h1.0v1.0h-1.0zM199.1 244.0h1.0v1.0h-1.0zM164.5 249.3h1.0v1.0h-1.0zM186.6 257.9h1.0v1.0h-1.0zM197.5 243.3h1.0v1.0h-1.0zM188.9 221.6h1.0v1.0h-1.0zM186.8 241.1h1.0v1.0h-1.0zM220.6 242.2h1.0v1.0h-1.0zM180.3 260.4h1.0v1.0h-1.0zM201.9 244.6h1.0v1.0h-1.0zM149.5 236.8h1.0v1.0h-1.0zM149.0 247.1h1.0v1.0h-1.0zM209.4 270.9h1.0v1.0h-1.0zM90.8 236.7h1.0v1.0h-1.0zM165.1 244.0h1.0v1.0h-1.0zM166.1 258.2h1.0v1.0h-1.0zM206.1 229.5h1.0v1.0h-1.0zM194.1 231.8h1.0v1.0h-1.0zM161.1 241.6h1.0v1.0h-1.0zM184.6 237.7h1.0v1.0h-1.0zM139.8 211.7h1.0v1.0h-1.0zM221.7 259.8h1.0v1.0h-1.0zM197.6 228.8h1.0v1.0h-1.0zM179.2 224.3h1.0v1.0h-1.0zM155.5 234.2h1.0v1.0h-1.0zM185.1 218.4h1.0v1.0h-1.0zM196.4 242.6h1.0v1.0h-1.0zM170.4 226.1h1.0v1.0h-1.0zM179.7 235.2h1.0v1.0h-1.0zM212.8 244.1h1.0v1.0h-1.0zM210.5 243.8h1.0v1.0h-1.0zM176.1 233.2h1.0v1.0h-1.0zM184.8 222.2h1.0v1.0h-1.0zM181.3 248.7h1.0v1.0h-1.0zM145.1 264.4h1.0v1.0h-1.0zM140.9 245.5h1.0v1.0h-1.0zM164.3 241.3h1.0v1.0h-1.0zM209.5 229.2h1.0v1.0h-1.0zM174.2 250.4h1.0v1.0h-1.0zM152.4 246.9h1.0v1.0h-1.0zM162.2 238.8h1.0v1.0h-1.0zM192.9 247.2h1.0v1.0h-1.0zM146.9 256.9h1.0v1.0h-1.0zM136.1 242.5h1.0v1.0h-1.0zM161.1 240.8h1.0v1.0h-1.0zM126.2 229.4h1.0v1.0h-1.0zM197.7 219.5h1.0v1.0h-1.0zM162.1 246.6h1.0v1.0h-1.0zM166.7 262.6h1.0v1.0h-1.0zM180.8 240.8h1.0v1.0h-1.0zM84.2 234.6h1.0v1.0h-1.0zM195.9 243.7h1.0v1.0h-1.0zM167.4 262.9h1.0v1.0h-1.0zM193.7 235.6h1.0v1.0h-1.0zM174.4 249.0h1.0v1.0h-1.0zM165.4 245.6h1.0v1.0h-1.0zM157.0 241.6h1.0v1.0h-1.0zM191.8 225.8h1.0v1.0h-1.0zM190.0 224.3h1.0v1.0h-1.0zM180.0 279.6h1.0v1.0h-1.0zM191.7 234.6h1.0v1.0h-1.0zM163.0 224.6h1.0v1.0h-1.0zM173.5 274.1h1.0v1.0h-1.0zM152.0 244.0h1.0v1.0h-1.0zM170.4 223.8h1.0v1.0h-1.0zM197.8 268.0h1.0v1.0h-1.0zM207.6 252.4h1.0v1.0h-1.0zM174.7 252.4h1.0v1.0h-1.0zM146.7 247.5h1.0v1.0h-1.0zM170.8 257.2h1.0v1.0h-1.0zM154.8 203.9h1.0v1.0h-1.0zM177.6 224.0h1.0v1.0h-1.0zM174.6 262.6h1.0v1.0h-1.0zM130.8 238.4h1.0v1.0h-1.0zM216.9 237.7h1.0v1.0h-1.0zM151.6 269.2h1.0v1.0h-1.0zM153.7 241.7h1.0v1.0h-1.0zM144.2 248.1h1.0v1.0h-1.0zM168.2 225.3h1.0v1.0h-1.0zM175.8 242.7h1.0v1.0h-1.0zM143.8 222.6h1.0v1.0h-1.0zM194.5 267.2h1.0v1.0h-1.0zM198.5 247.0h1.0v1.0h-1.0zM158.1 211.7h1.0v1.0h-1.0zM161.1 247.4h1.0v1.0h-1.0zM154.8 221.6h1.0v1.0h-1.0zM167.4 279.1h1.0v1.0h-1.0zM154.7 236.6h1.0v1.0h-1.0zM144.0 243.7h1.0v1.0h-1.0zM132.6 255.1h1.0v1.0h-1.0zM100.5 246.5h1.0v1.0h-1.0zM154.7 223.1h1.0v1.0h-1.0zM138.1 244.0h1.0v1.0h-1.0zM165.5 230.7h1.0v1.0h-1.0zM150.1 248.9h1.0v1.0h-1.0zM141.6 228.0h1.0v1.0h-1.0zM176.4 249.0h1.0v1.0h-1.0zM227.7 250.1h1.0v1.0h-1.0zM184.6 242.1h1.0v1.0h-1.0zM184.5 235.8h1.0v1.0h-1.0zM200.3 251.0h1.0v1.0h-1.0zM164.7 223.2h1.0v1.0h-1.0zM191.5 260.6h1.0v1.0h-1.0zM180.6 253.6h1.0v1.0h-1.0zM138.7 238.7h1.0v1.0h-1.0zM171.0 258.7h1.0v1.0h-1.0zM141.0 244.5h1.0v1.0h-1.0zM177.2 260.1h1.0v1.0h-1.0zM165.2 246.0h1.0v1.0h-1.0zM214.6 236.6h1.0v1.0h-1.0zM152.3 244.7h1.0v1.0h-1.0zM209.7 248.4h1.0v1.0h-1.0zM221.0 254.9h1.0v1.0h-1.0zM193.4 269.2h1.0v1.0h-1.0zM159.6 248.2h1.0v1.0h-1.0zM177.6 237.8h1.0v1.0h-1.0zM195.5 261.7h1.0v1.0h-1.0zM168.3 258.4h1.0v1.0h-1.0zM202.2 235.2h1.0v1.0h-1.0zM170.9 257.0h1.0v1.0h-1.0zM154.2 252.4h1.0v1.0h-1.0zM255.0 242.9h1.0v1.0h-1.0zM168.7 250.2h1.0v1.0h-1.0zM219.5 234.8h1.0v1.0h-1.0zM136.2 250.5h1.0v1.0h-1.0zM142.5 224.6h1.0v1.0h-1.0zM172.7 236.2h1.0v1.0h-1.0zM205.2 231.7h1.0v1.0h-1.0zM217.5 237.0h1.0v1.0h-1.0zM214.5 242.4h1.0v1.0h-1.0zM180.1 234.7h1.0v1.0h-1.0zM171.9 239.6h1.0v1.0h-1.0zM183.3 248.2h1.0v1.0h-1.0zM168.1 245.4h1.0v1.0h-1.0zM155.8 259.8h1.0v1.0h-1.0zM202.4 264.3h1.0v1.0h-1.0zM186.8 258.6h1.0v1.0h-1.0zM170.7 270.9h1.0v1.0h-1.0zM177.9 240.1h1.0v1.0h-1.0zM174.4 251.9h1.0v1.0h-1.0zM113.2 220.0h1.0v1.0h-1.0zM149.1 219.4h1.0v1.0h-1.0zM161.7 214.7h1.0v1.0h-1.0zM191.7 238.5h1.0v1.0h-1.0zM156.8 237.2h1.0v1.0h-1.0zM163.3 243.6h1.0v1.0h-1.0zM131.7 236.6h1.0v1.0h-1.0zM169.7 227.4h1.0v1.0h-1.0zM143.3 235.3h1.0v1.0h-1.0zM219.6 242.5h1.0v1.0h-1.0zM185.4 234.9h1.0v1.0h-1.0zM125.5 239.7h1.0v1.0h-1.0zM205.8 247.9h1.0v1.0h-1.0zM191.9 244.6h1.0v1.0h-1.0zM154.7 245.5h1.0v1.0h-1.0zM188.0 258.4h1.0v1.0h-1.0zM184.5 247.2h1.0v1.0h-1.0zM130.4 212.7h1.0v1.0h-1.0zM210.8 270.7h1.0v1.0h-1.0zM199.0 251.1h1.0v1.0h-1.0zM172.5 222.9h1.0v1.0h-1.0zM206.4 230.4h1.0v1.0h-1.0zM155.4 249.7h1.0v1.0h-1.0zM185.6 241.0h1.0v1.0h-1.0zM181.8 260.6h1.0v1.0h-1.0zM157.3 243.5h1.0v1.0h-1.0zM182.0 223.6h1.0v1.0h-1.0zM167.5 234.8h1.0v1.0h-1.0zM165.5 256.4h1.0v1.0h-1.0zM202.2 263.7h1.0v1.0h-1.0zM206.5 259.4h1.0v1.0h-1.0zM185.4 220.3h1.0v1.0h-1.0zM168.4 225.8h1.0v1.0h-1.0zM165.1 262.4h1.0v1.0h-1.0zM161.1 236.5h1.0v1.0h-1.0zM126.2 239.2h1.0v1.0h-1.0zM127.1 247.0h1.0v1.0h-1.0zM188.7 252.1h1.0v1.0h-1.0zM180.0 208.7h1.0v1.0h-1.0zM132.0 224.0h1.0v1.0h-1.0zM204.9 238.0h1.0v1.0h-1.0zM172.6 234.6h1.0v1.0h-1.0zM167.6 271.5h1.0v1.0h-1.0zM154.0 244.5h1.0v1.0h-1.0zM151.2 231.5h1.0v1.0h-1.0zM173.0 235.3h1.0v1.0h-1.0zM203.5 229.5h1.0v1.0h-1.0zM193.3 251.8h1.0v1.0h-1.0zM172.5 222.0h1.0v1.0h-1.0zM204.1 235.8h1.0v1.0h-1.0zM185.0 256.6h1.0v1.0h-1.0zM161.0 263.8h1.0v1.0h-1.0zM162.3 210.5h1.0v1.0h-1.0zM224.8 247.9h1.0v1.0h-1.0zM155.7 233.1h1.0v1.0h-1.0zM212.5 228.7h1.0v1.0h-1.0zM152.9 256.5h1.0v1.0h-1.0zM175.7 240.2h1.0v1.0h-1.0zM190.6 239.7h1.0v1.0h-1.0zM201.0 238.8h1.0v1.0h-1.0zM192.5 252.7h1.0v1.0h-1.0zM131.1 230.9h1.0v1.0h-1.0zM157.5 250.0h1.0v1.0h-1.0zM195.0 234.4h1.0v1.0h-1.0zM167.8 216.0h1.0v1.0h-1.0zM128.8 266.1h1.0v1.0h-1.0zM180.0 236.0h1.0v1.0h-1.0zM174.0 262.8h1.0v1.0h-1.0zM174.7 229.3h1.0v1.0h-1.0zM165.8 264.2h1.0v1.0h-1.0zM168.8 269.7h1.0v1.0h-1.0zM202.0 241.9h1.0v1.0h-1.0zM216.5 244.3h1.0v1.0h-1.0zM188.5 220.1h1.0v1.0h-1.0zM185.1 260.1h1.0v1.0h-1.0zM181.7 254.3h1.0v1.0h-1.0zM148.7 237.3h1.0v1.0h-1.0zM199.7 246.7h1.0v1.0h-1.0zM240.2 238.6h1.0v1.0h-1.0zM100.3 234.1h1.0v1.0h-1.0zM156.6 248.1h1.0v1.0h-1.0zM194.4 228.7h1.0v1.0h-1.0zM158.2 244.9h1.0v1.0h-1.0zM236.9 240.7h1.0v1.0h-1.0zM192.8 240.8h1.0v1.0h-1.0zM163.9 241.3h1.0v1.0h-1.0zM203.0 256.7h1.0v1.0h-1.0zM162.7 228.6h1.0v1.0h-1.0zM166.2 236.9h1.0v1.0h-1.0zM120.9 223.3h1.0v1.0h-1.0zM150.7 255.8h1.0v1.0h-1.0zM154.8 250.3h1.0v1.0h-1.0zM185.4 222.3h1.0v1.0h-1.0zM154.0 257.0h1.0v1.0h-1.0zM182.6 268.6h1.0v1.0h-1.0zM173.7 264.7h1.0v1.0h-1.0zM173.0 237.7h1.0v1.0h-1.0zM216.6 235.7h1.0v1.0h-1.0zM164.3 245.1h1.0v1.0h-1.0zM191.9 253.7h1.0v1.0h-1.0zM173.5 246.7h1.0v1.0h-1.0zM178.5 242.7h1.0v1.0h-1.0zM185.4 221.8h1.0v1.0h-1.0zM177.5 245.3h1.0v1.0h-1.0zM195.4 261.8h1.0v1.0h-1.0zM171.8 259.5h1.0v1.0h-1.0zM178.8 227.0h1.0v1.0h-1.0zM159.7 252.7h1.0v1.0h-1.0zM155.1 255.0h1.0v1.0h-1.0zM157.1 260.0h1.0v1.0h-1.0zM174.1 262.8h1.0v1.0h-1.0zM171.9 245.5h1.0v1.0h-1.0zM169.5 213.8h1.0v1.0h-1.0zM91.5 244.0h1.0v1.0h-1.0zM156.3 221.2h1.0v1.0h-1.0zM175.5 248.6h1.0v1.0h-1.0zM114.8 262.0h1.0v1.0h-1.0zM196.4 250.7h1.0v1.0h-1.0zM147.6 230.2h1.0v1.0h-1.0zM182.0 229.6h1.0v1.0h-1.0zM149.1 236.0h1.0v1.0h-1.0zM171.9 241.4h1.0v1.0h-1.0zM185.8 268.9h1.0v1.0h-1.0zM143.3 230.1h1.0v1.0h-1.0zM206.4 244.7h1.0v1.0h-1.0zM148.7 244.5h1.0v1.0h-1.0zM158.6 238.2h1.0v1.0h-1.0zM173.4 245.3h1.0v1.0h-1.0zM184.9 271.6h1.0v1.0h-1.0zM187.7 249.8h1.0v1.0h-1.0zM195.1 240.4h1.0v1.0h-1.0zM184.1 247.6h1.0v1.0h-1.0zM187.6 239.2h1.0v1.0h-1.0zM154.0 259.4h1.0v1.0h-1.0zM166.4 242.8h1.0v1.0h-1.0zM192.8 237.0h1.0v1.0h-1.0zM181.1 280.3h1.0v1.0h-1.0zM188.5 209.2h1.0v1.0h-1.0zM195.7 234.8h1.0v1.0h-1.0zM167.5 239.3h1.0v1.0h-1.0zM198.4 241.8h1.0v1.0h-1.0zM185.0 236.9h1.0v1.0h-1.0zM160.0 212.7h1.0v1.0h-1.0zM202.5 254.6h1.0v1.0h-1.0zM159.2 240.0h1.0v1.0h-1.0zM195.4 239.1h1.0v1.0h-1.0zM184.0 258.5h1.0v1.0h-1.0zM139.5 231.6h1.0v1.0h-1.0zM177.7 254.5h1.0v1.0h-1.0zM228.8 249.4h1.0v1.0h-1.0zM156.1 256.7h1.0v1.0h-1.0zM181.8 248.3h1.0v1.0h-1.0zM161.4 243.9h1.0v1.0h-1.0zM172.5 241.8h1.0v1.0h-1.0zM205.3 248.7h1.0v1.0h-1.0zM171.0 260.0h1.0v1.0h-1.0zM176.4 242.4h1.0v1.0h-1.0zM214.5 248.1h1.0v1.0h-1.0zM210.1 243.7h1.0v1.0h-1.0zM126.5 254.7h1.0v1.0h-1.0zM125.7 267.1h1.0v1.0h-1.0zM156.2 247.5h1.0v1.0h-1.0zM143.6 244.6h1.0v1.0h-1.0zM125.3 254.5h1.0v1.0h-1.0zM149.0 246.3h1.0v1.0h-1.0zM193.1 226.7h1.0v1.0h-1.0zM187.5 237.9h1.0v1.0h-1.0zM185.6 245.8h1.0v1.0h-1.0zM190.6 221.2h1.0v1.0h-1.0zM195.0 235.0h1.0v1.0h-1.0zM185.1 248.2h1.0v1.0h-1.0zM186.5 220.3h1.0v1.0h-1.0zM174.5 221.8h1.0v1.0h-1.0zM171.5 241.1h1.0v1.0h-1.0zM192.1 235.9h1.0v1.0h-1.0zM154.8 231.9h1.0v1.0h-1.0zM155.9 241.6h1.0v1.0h-1.0zM156.2 254.6h1.0v1.0h-1.0zM181.6 258.9h1.0v1.0h-1.0zM135.8 234.2h1.0v1.0h-1.0zM184.9 250.2h1.0v1.0h-1.0zM174.9 230.1h1.0v1.0h-1.0zM195.7 253.4h1.0v1.0h-1.0zM197.6 268.1h1.0v1.0h-1.0zM135.4 228.8h1.0v1.0h-1.0zM195.2 219.8h1.0v1.0h-1.0zM122.8 236.3h1.0v1.0h-1.0zM156.9 258.2h1.0v1.0h-1.0zM119.5 262.0h1.0v1.0h-1.0zM157.7 239.6h1.0v1.0h-1.0zM172.8 247.4h1.0v1.0h-1.0zM206.0 230.9h1.0v1.0h-1.0zM148.7 263.6h1.0v1.0h-1.0zM186.6 257.7h1.0v1.0h-1.0zM192.7 240.5h1.0v1.0h-1.0zM119.2 230.4h1.0v1.0h-1.0zM187.3 228.8h1.0v1.0h-1.0zM128.5 210.5h1.0v1.0h-1.0zM157.0 250.8h1.0v1.0h-1.0zM199.6 238.2h1.0v1.0h-1.0zM149.6 209.9h1.0v1.0h-1.0zM149.9 228.2h1.0v1.0h-1.0zM173.9 235.1h1.0v1.0h-1.0zM150.2 212.9h1.0v1.0h-1.0zM141.2 245.6h1.0v1.0h-1.0zM182.4 238.2h1.0v1.0h-1.0zM195.6 238.0h1.0v1.0h-1.0zM112.3 242.3h1.0v1.0h-1.0zM105.5 259.2h1.0v1.0h-1.0zM162.9 245.7h1.0v1.0h-1.0zM227.9 242.2h1.0v1.0h-1.0zM210.3 266.1h1.0v1.0h-1.0zM170.6 251.8h1.0v1.0h-1.0zM168.8 250.5h1.0v1.0h-1.0zM147.2 252.7h1.0v1.0h-1.0zM154.8 218.2h1.0v1.0h-1.0zM173.7 247.9h1.0v1.0h-1.0zM163.2 222.2h1.0v1.0h-1.0zM104.1 254.9h1.0v1.0h-1.0zM159.5 209.7h1.0v1.0h-1.0zM132.2 233.1h1.0v1.0h-1.0zM194.1 226.9h1.0v1.0h-1.0zM191.1 237.5h1.0v1.0h-1.0zM175.1 245.2h1.0v1.0h-1.0zM193.7 245.0h1.0v1.0h-1.0zM132.5 249.1h1.0v1.0h-1.0zM136.7 233.3h1.0v1.0h-1.0zM108.4 229.8h1.0v1.0h-1.0zM192.5 263.0h1.0v1.0h-1.0zM116.2 238.3h1.0v1.0h-1.0zM182.7 251.7h1.0v1.0h-1.0zM165.9 266.4h1.0v1.0h-1.0zM149.5 250.1h1.0v1.0h-1.0zM211.9 263.1h1.0v1.0h-1.0zM117.8 243.2h1.0v1.0h-1.0zM180.5 260.2h1.0v1.0h-1.0zM186.8 248.6h1.0v1.0h-1.0zM201.3 243.8h1.0v1.0h-1.0zM161.9 262.2h1.0v1.0h-1.0zM167.4 261.1h1.0v1.0h-1.0zM156.8 236.4h1.0v1.0h-1.0zM175.3 262.0h1.0v1.0h-1.0zM185.9 221.5h1.0v1.0h-1.0zM245.7 246.0h1.0v1.0h-1.0zM153.7 268.8h1.0v1.0h-1.0zM138.5 228.3h1.0v1.0h-1.0zM165.4 266.2h1.0v1.0h-1.0zM167.3 248.0h1.0v1.0h-1.0zM124.9 249.0h1.0v1.0h-1.0zM221.8 237.6h1.0v1.0h-1.0zM150.9 251.4h1.0v1.0h-1.0zM154.1 267.0h1.0v1.0h-1.0zM153.0 256.1h1.0v1.0h-1.0zM170.4 219.2h1.0v1.0h-1.0zM89.7 245.5h1.0v1.0h-1.0zM196.7 215.8h1.0v1.0h-1.0zM217.4 245.1h1.0v1.0h-1.0zM159.9 243.9h1.0v1.0h-1.0zM183.5 236.3h1.0v1.0h-1.0zM177.3 243.0h1.0v1.0h-1.0zM182.8 264.9h1.0v1.0h-1.0zM164.5 227.5h1.0v1.0h-1.0zM146.6 227.8h1.0v1.0h-1.0zM244.0 247.6h1.0v1.0h-1.0zM183.5 245.1h1.0v1.0h-1.0zM181.9 255.7h1.0v1.0h-1.0zM159.1 265.4h1.0v1.0h-1.0zM226.2 242.5h1.0v1.0h-1.0zM159.3 237.6h1.0v1.0h-1.0zM180.6 242.5h1.0v1.0h-1.0zM177.6 248.8h1.0v1.0h-1.0zM149.9 248.5h1.0v1.0h-1.0zM183.9 231.1h1.0v1.0h-1.0zM197.1 251.5h1.0v1.0h-1.0zM107.3 252.0h1.0v1.0h-1.0zM199.9 238.2h1.0v1.0h-1.0zM169.4 266.8h1.0v1.0h-1.0zM150.1 253.7h1.0v1.0h-1.0zM161.7 261.1h1.0v1.0h-1.0zM132.7 251.0h1.0v1.0h-1.0zM152.8 227.8h1.0v1.0h-1.0zM183.8 265.6h1.0v1.0h-1.0zM195.7 247.2h1.0v1.0h-1.0zM169.8 223.4h1.0v1.0h-1.0zM132.7 230.9h1.0v1.0h-1.0zM181.3 266.2h1.0v1.0h-1.0zM88.7 239.9h1.0v1.0h-1.0zM191.2 229.6h1.0v1.0h-1.0zM165.6 238.2h1.0v1.0h-1.0zM185.7 232.9h1.0v1.0h-1.0zM140.7 259.8h1.0v1.0h-1.0zM168.6 249.7h1.0v1.0h-1.0zM155.2 255.9h1.0v1.0h-1.0zM173.2 213.5h1.0v1.0h-1.0zM166.1 268.2h1.0v1.0h-1.0zM162.8 219.3h1.0v1.0h-1.0zM170.5 243.0h1.0v1.0h-1.0zM221.0 252.3h1.0v1.0h-1.0zM195.5 256.6h1.0v1.0h-1.0zM170.7 255.8h1.0v1.0h-1.0zM154.8 250.5h1.0v1.0h-1.0zM151.9 238.1h1.0v1.0h-1.0zM188.2 247.2h1.0v1.0h-1.0zM162.5 246.6h1.0v1.0h-1.0zM177.4 250.3h1.0v1.0h-1.0zM147.5 209.7h1.0v1.0h-1.0zM175.0 245.4h1.0v1.0h-1.0zM176.3 255.4h1.0v1.0h-1.0zM145.3 235.9h1.0v1.0h-1.0zM179.7 259.9h1.0v1.0h-1.0zM156.8 270.3h1.0v1.0h-1.0zM193.0 260.6h1.0v1.0h-1.0zM135.4 214.5h1.0v1.0h-1.0zM172.5 239.6h1.0v1.0h-1.0zM165.3 217.2h1.0v1.0h-1.0zM189.4 237.3h1.0v1.0h-1.0zM118.6 244.8h1.0v1.0h-1.0zM171.1 266.4h1.0v1.0h-1.0zM165.3 257.6h1.0v1.0h-1.0zM171.5 250.3h1.0v1.0h-1.0zM131.5 264.8h1.0v1.0h-1.0zM131.5 222.0h1.0v1.0h-1.0zM161.3 252.2h1.0v1.0h-1.0zM148.4 237.3h1.0v1.0h-1.0zM207.9 227.8h1.0v1.0h-1.0zM216.2 240.2h1.0v1.0h-1.0zM141.5 259.8h1.0v1.0h-1.0zM158.3 247.2h1.0v1.0h-1.0zM163.8 213.4h1.0v1.0h-1.0zM129.3 231.5h1.0v1.0h-1.0zM186.2 235.1h1.0v1.0h-1.0zM126.0 231.6h1.0v1.0h-1.0zM172.3 227.7h1.0v1.0h-1.0zM173.5 250.4h1.0v1.0h-1.0zM172.0 237.5h1.0v1.0h-1.0zM174.3 244.7h1.0v1.0h-1.0zM175.7 266.4h1.0v1.0h-1.0zM182.4 254.4h1.0v1.0h-1.0zM200.9 235.9h1.0v1.0h-1.0zM187.9 224.6h1.0v1.0h-1.0zM205.6 257.0h1.0v1.0h-1.0zM169.6 240.6h1.0v1.0h-1.0zM141.1 230.0h1.0v1.0h-1.0zM191.2 229.4h1.0v1.0h-1.0zM180.6 222.7h1.0v1.0h-1.0zM211.4 227.8h1.0v1.0h-1.0zM138.5 241.9h1.0v1.0h-1.0zM154.0 236.7h1.0v1.0h-1.0zM127.3 239.6h1.0v1.0h-1.0zM119.4 242.6h1.0v1.0h-1.0zM152.2 239.0h1.0v1.0h-1.0zM174.3 238.4h1.0v1.0h-1.0zM170.3 250.8h1.0v1.0h-1.0zM193.9 267.5h1.0v1.0h-1.0zM160.8 259.2h1.0v1.0h-1.0zM155.4 237.2h1.0v1.0h-1.0zM192.6 264.2h1.0v1.0h-1.0zM177.6 237.0h1.0v1.0h-1.0zM171.1 222.9h1.0v1.0h-1.0zM131.2 229.5h1.0v1.0h-1.0zM201.9 230.9h1.0v1.0h-1.0zM183.1 222.0h1.0v1.0h-1.0zM177.2 260.1h1.0v1.0h-1.0zM172.1 237.1h1.0v1.0h-1.0zM166.9 277.5h1.0v1.0h-1.0zM156.5 233.6h1.0v1.0h-1.0zM202.2 259.3h1.0v1.0h-1.0zM193.8 240.1h1.0v1.0h-1.0zM162.5 254.1h1.0v1.0h-1.0zM132.8 232.0h1.0v1.0h-1.0zM190.9 236.5h1.0v1.0h-1.0zM171.8 233.3h1.0v1.0h-1.0zM195.2 250.8h1.0v1.0h-1.0zM167.0 248.9h1.0v1.0h-1.0zM193.7 234.9h1.0v1.0h-1.0zM164.8 249.2h1.0v1.0h-1.0zM155.4 228.7h1.0v1.0h-1.0zM184.0 245.9h1.0v1.0h-1.0zM183.6 249.3h1.0v1.0h-1.0zM152.8 242.8h1.0v1.0h-1.0zM137.2 249.3h1.0v1.0h-1.0zM199.1 238.7h1.0v1.0h-1.0zM185.2 231.7h1.0v1.0h-1.0zM178.2 219.7h1.0v1.0h-1.0zM162.4 235.9h1.0v1.0h-1.0zM130.9 246.2h1.0v1.0h-1.0zM197.5 239.3h1.0v1.0h-1.0zM209.9 239.0h1.0v1.0h-1.0zM219.0 239.8h1.0v1.0h-1.0zM184.5 244.2h1.0v1.0h-1.0zM201.4 256.5h1.0v1.0h-1.0zM196.0 236.5h1.0v1.0h-1.0zM145.5 229.4h1.0v1.0h-1.0zM177.6 250.9h1.0v1.0h-1.0zM125.0 242.1h1.0v1.0h-1.0zM189.2 257.3h1.0v1.0h-1.0zM220.7 252.6h1.0v1.0h-1.0zM166.4 245.9h1.0v1.0h-1.0zM163.7 209.8h1.0v1.0h-1.0zM157.4 246.0h1.0v1.0h-1.0zM173.4 261.7h1.0v1.0h-1.0zM158.2 234.6h1.0v1.0h-1.0zM154.4 226.5h1.0v1.0h-1.0zM172.1 222.1h1.0v1.0h-1.0zM166.1 227.5h1.0v1.0h-1.0zM174.4 249.3h1.0v1.0h-1.0zM132.1 233.2h1.0v1.0h-1.0zM172.3 263.4h1.0v1.0h-1.0zM191.9 226.7h1.0v1.0h-1.0zM164.2 243.8h1.0v1.0h-1.0zM171.1 266.7h1.0v1.0h-1.0zM175.7 262.8h1.0v1.0h-1.0zM138.7 219.9h1.0v1.0h-1.0zM148.0 254.0h1.0v1.0h-1.0zM178.1 243.6h1.0v1.0h-1.0zM158.2 244.8h1.0v1.0h-1.0zM119.0 234.1h1.0v1.0h-1.0zM91.8 243.4h1.0v1.0h-1.0zM156.4 238.3h1.0v1.0h-1.0zM145.4 237.7h1.0v1.0h-1.0zM168.9 245.2h1.0v1.0h-1.0zM203.7 253.0h1.0v1.0h-1.0zM178.5 250.4h1.0v1.0h-1.0zM188.5 255.6h1.0v1.0h-1.0zM222.2 233.9h1.0v1.0h-1.0zM169.1 224.5h1.0v1.0h-1.0zM164.9 219.0h1.0v1.0h-1.0zM173.4 260.4h1.0v1.0h-1.0zM156.1 243.1h1.0v1.0h-1.0zM182.5 266.6h1.0v1.0h-1.0zM122.3 234.8h1.0v1.0h-1.0zM152.6 219.5h1.0v1.0h-1.0zM178.5 257.0h1.0v1.0h-1.0zM144.4 251.1h1.0v1.0h-1.0zM187.8 249.1h1.0v1.0h-1.0zM197.6 242.7h1.0v1.0h-1.0zM195.5 225.9h1.0v1.0h-1.0zM190.9 258.3h1.0v1.0h-1.0zM181.4 252.9h1.0v1.0h-1.0zM152.9 246.2h1.0v1.0h-1.0zM162.3 265.3h1.0v1.0h-1.0zM193.9 256.2h1.0v1.0h-1.0zM125.7 250.6h1.0v1.0h-1.0zM135.6 232.4h1.0v1.0h-1.0zM139.0 226.5h1.0v1.0h-1.0zM200.2 261.3h1.0v1.0h-1.0zM91.6 237.4h1.0v1.0h-1.0zM176.4 241.3h1.0v1.0h-1.0zM150.7 251.1h1.0v1.0h-1.0zM175.6 259.0h1.0v1.0h-1.0zM197.7 267.7h1.0v1.0h-1.0zM180.8 234.5h1.0v1.0h-1.0zM117.0 241.6h1.0v1.0h-1.0zM200.5 243.0h1.0v1.0h-1.0zM182.5 223.6h1.0v1.0h-1.0zM159.5 237.4h1.0v1.0h-1.0zM131.8 235.0h1.0v1.0h-1.0zM191.7 244.4h1.0v1.0h-1.0zM179.2 263.3h1.0v1.0h-1.0zM161.1 250.4h1.0v1.0h-1.0zM175.5 229.5h1.0v1.0h-1.0zM155.7 220.5h1.0v1.0h-1.0zM158.4 254.3h1.0v1.0h-1.0zM119.9 221.4h1.0v1.0h-1.0zM124.9 220.6h1.0v1.0h-1.0zM156.6 244.8h1.0v1.0h-1.0zM129.3 240.2h1.0v1.0h-1.0zM165.7 239.0h1.0v1.0h-1.0zM161.2 247.5h1.0v1.0h-1.0zM192.2 245.0h1.0v1.0h-1.0zM194.0 243.9h1.0v1.0h-1.0zM159.2 251.2h1.0v1.0h-1.0zM146.0 265.2h1.0v1.0h-1.0zM174.8 263.1h1.0v1.0h-1.0zM160.2 253.2h1.0v1.0h-1.0zM183.0 256.6h1.0v1.0h-1.0zM240.4 245.9h1.0v1.0h-1.0zM222.7 263.7h1.0v1.0h-1.0zM171.3 244.3h1.0v1.0h-1.0zM206.3 220.4h1.0v1.0h-1.0zM123.9 233.9h1.0v1.0h-1.0zM156.3 243.9h1.0v1.0h-1.0zM199.9 229.5h1.0v1.0h-1.0zM139.2 251.7h1.0v1.0h-1.0zM150.5 253.4h1.0v1.0h-1.0zM186.1 245.9h1.0v1.0h-1.0zM177.1 237.9h1.0v1.0h-1.0zM180.8 233.8h1.0v1.0h-1.0zM149.9 237.2h1.0v1.0h-1.0zM192.1 259.2h1.0v1.0h-1.0zM162.5 254.0h1.0v1.0h-1.0zM143.2 220.3h1.0v1.0h-1.0zM144.4 223.4h1.0v1.0h-1.0zM168.2 254.9h1.0v1.0h-1.0zM121.9 235.9h1.0v1.0h-1.0zM191.7 248.1h1.0v1.0h-1.0zM167.9 246.7h1.0v1.0h-1.0zM170.7 236.6h1.0v1.0h-1.0zM181.7 257.6h1.0v1.0h-1.0zM178.6 235.9h1.0v1.0h-1.0zM161.5 253.5h1.0v1.0h-1.0zM185.2 249.7h1.0v1.0h-1.0zM159.6 266.7h1.0v1.0h-1.0zM168.1 222.0h1.0v1.0h-1.0zM200.3 242.9h1.0v1.0h-1.0zM164.0 241.8h1.0v1.0h-1.0zM126.9 241.4h1.0v1.0h-1.0zM168.8 254.5h1.0v1.0h-1.0zM225.8 249.6h1.0v1.0h-1.0zM172.1 256.8h1.0v1.0h-1.0zM187.9 221.1h1.0v1.0h-1.0zM211.0 246.7h1.0v1.0h-1.0zM161.0 232.2h1.0v1.0h-1.0zM172.9 232.3h1.0v1.0h-1.0zM184.3 247.0h1.0v1.0h-1.0zM157.1 253.1h1.0v1.0h-1.0zM160.1 257.0h1.0v1.0h-1.0zM215.9 235.1h1.0v1.0h-1.0zM160.7 254.3h1.0v1.0h-1.0zM197.7 226.9h1.0v1.0h-1.0zM163.0 227.5h1.0v1.0h-1.0zM154.0 235.7h1.0v1.0h-1.0zM127.9 239.2h1.0v1.0h-1.0zM179.1 256.9h1.0v1.0h-1.0zM146.5 269.6h1.0v1.0h-1.0zM217.0 253.2h1.0v1.0h-1.0zM150.7 262.3h1.0v1.0h-1.0zM168.0 239.6h1.0v1.0h-1.0zM191.4 232.6h1.0v1.0h-1.0zM148.6 239.0h1.0v1.0h-1.0zM159.9 251.6h1.0v1.0h-1.0zM181.3 254.9h1.0v1.0h-1.0zM172.5 230.5h1.0v1.0h-1.0zM145.4 242.9h1.0v1.0h-1.0zM137.1 232.9h1.0v1.0h-1.0zM180.8 246.5h1.0v1.0h-1.0zM168.0 243.6h1.0v1.0h-1.0zM171.6 254.8h1.0v1.0h-1.0zM157.2 247.3h1.0v1.0h-1.0zM140.8 239.0h1.0v1.0h-1.0zM198.9 272.8h1.0v1.0h-1.0zM187.6 252.9h1.0v1.0h-1.0zM155.0 252.0h1.0v1.0h-1.0zM110.4 244.0h1.0v1.0h-1.0zM178.6 265.3h1.0v1.0h-1.0zM112.1 243.1h1.0v1.0h-1.0zM180.0 265.9h1.0v1.0h-1.0zM173.0 260.2h1.0v1.0h-1.0zM139.4 223.5h1.0v1.0h-1.0zM196.7 244.4h1.0v1.0h-1.0zM191.4 254.3h1.0v1.0h-1.0zM194.3 251.2h1.0v1.0h-1.0zM160.4 260.8h1.0v1.0h-1.0zM206.3 270.5h1.0v1.0h-1.0zM166.1 238.9h1.0v1.0h-1.0zM145.5 252.3h1.0v1.0h-1.0zM172.9 245.6h1.0v1.0h-1.0zM183.6 237.6h1.0v1.0h-1.0zM169.3 208.1h1.0v1.0h-1.0zM130.0 242.8h1.0v1.0h-1.0zM168.7 238.6h1.0v1.0h-1.0zM183.6 240.2h1.0v1.0h-1.0zM143.9 205.8h1.0v1.0h-1.0zM163.1 248.5h1.0v1.0h-1.0zM186.9 243.5h1.0v1.0h-1.0zM205.0 251.1h1.0v1.0h-1.0zM156.0 238.6h1.0v1.0h-1.0zM126.0 218.7h1.0v1.0h-1.0zM183.3 251.5h1.0v1.0h-1.0zM150.1 260.2h1.0v1.0h-1.0zM212.3 246.5h1.0v1.0h-1.0zM154.6 245.0h1.0v1.0h-1.0zM173.4 220.4h1.0v1.0h-1.0zM230.5 236.2h1.0v1.0h-1.0zM164.9 225.4h1.0v1.0h-1.0zM84.2 243.7h1.0v1.0h-1.0zM120.7 268.8h1.0v1.0h-1.0zM181.2 269.2h1.0v1.0h-1.0zM184.0 222.9h1.0v1.0h-1.0zM138.0 235.9h1.0v1.0h-1.0zM134.1 237.4h1.0v1.0h-1.0zM188.0 263.9h1.0v1.0h-1.0zM195.7 246.4h1.0v1.0h-1.0zM186.8 223.0h1.0v1.0h-1.0zM133.3 244.8h1.0v1.0h-1.0zM152.7 259.7h1.0v1.0h-1.0zM150.4 271.9h1.0v1.0h-1.0zM184.1 232.4h1.0v1.0h-1.0zM143.4 246.0h1.0v1.0h-1.0zM185.6 256.4h1.0v1.0h-1.0zM127.8 221.0h1.0v1.0h-1.0zM182.8 261.6h1.0v1.0h-1.0zM194.1 224.2h1.0v1.0h-1.0zM169.2 249.5h1.0v1.0h-1.0zM155.8 244.3h1.0v1.0h-1.0zM147.9 263.5h1.0v1.0h-1.0zM144.5 243.5h1.0v1.0h-1.0zM176.5 238.2h1.0v1.0h-1.0zM188.3 243.4h1.0v1.0h-1.0zM177.1 264.8h1.0v1.0h-1.0zM124.8 239.0h1.0v1.0h-1.0zM172.8 238.8h1.0v1.0h-1.0zM214.4 253.4h1.0v1.0h-1.0zM184.0 236.6h1.0v1.0h-1.0zM163.6 245.1h1.0v1.0h-1.0zM199.6 226.4h1.0v1.0h-1.0zM177.3 259.5h1.0v1.0h-1.0zM153.9 224.0h1.0v1.0h-1.0zM163.2 246.8h1.0v1.0h-1.0zM158.9 226.8h1.0v1.0h-1.0zM189.2 245.8h1.0v1.0h-1.0zM161.4 224.3h1.0v1.0h-1.0zM154.4 235.6h1.0v1.0h-1.0zM160.0 224.4h1.0v1.0h-1.0zM165.9 253.4h1.0v1.0h-1.0zM139.4 239.0h1.0v1.0h-1.0zM205.9 234.9h1.0v1.0h-1.0zM160.7 238.3h1.0v1.0h-1.0zM173.1 251.2h1.0v1.0h-1.0zM225.1 248.3h1.0v1.0h-1.0zM224.1 240.7h1.0v1.0h-1.0zM198.0 264.2h1.0v1.0h-1.0zM156.5 255.9h1.0v1.0h-1.0zM186.5 261.1h1.0v1.0h-1.0zM191.7 261.2h1.0v1.0h-1.0zM158.0 220.4h1.0v1.0h-1.0zM162.4 230.4h1.0v1.0h-1.0zM145.1 245.1h1.0v1.0h-1.0zM163.8 228.3h1.0v1.0h-1.0zM155.7 241.8h1.0v1.0h-1.0zM116.6 232.6h1.0v1.0h-1.0zM204.9 233.2h1.0v1.0h-1.0zM187.3 249.3h1.0v1.0h-1.0zM153.1 243.2h1.0v1.0h-1.0zM152.1 237.3h1.0v1.0h-1.0zM163.2 255.6h1.0v1.0h-1.0zM181.7 230.2h1.0v1.0h-1.0zM185.9 228.2h1.0v1.0h-1.0zM166.8 247.9h1.0v1.0h-1.0zM142.0 249.7h1.0v1.0h-1.0zM138.0 243.2h1.0v1.0h-1.0zM245.9 249.1h1.0v1.0h-1.0zM165.2 251.4h1.0v1.0h-1.0zM159.3 265.8h1.0v1.0h-1.0zM172.5 225.3h1.0v1.0h-1.0zM162.0 236.6h1.0v1.0h-1.0zM169.9 236.8h1.0v1.0h-1.0zM171.3 280.3h1.0v1.0h-1.0zM156.6 258.7h1.0v1.0h-1.0zM174.6 225.9h1.0v1.0h-1.0zM170.7 225.9h1.0v1.0h-1.0zM184.0 244.5h1.0v1.0h-1.0zM182.6 240.2h1.0v1.0h-1.0zM195.1 251.4h1.0v1.0h-1.0zM182.6 232.6h1.0v1.0h-1.0zM153.3 254.5h1.0v1.0h-1.0zM221.0 241.3h1.0v1.0h-1.0zM130.3 229.0h1.0v1.0h-1.0zM191.0 227.8h1.0v1.0h-1.0zM160.8 259.2h1.0v1.0h-1.0zM174.8 247.8h1.0v1.0h-1.0zM164.2 229.0h1.0v1.0h-1.0zM192.6 242.3h1.0v1.0h-1.0zM171.1 242.7h1.0v1.0h-1.0zM133.0 238.0h1.0v1.0h-1.0zM154.8 232.3h1.0v1.0h-1.0zM168.0 239.7h1.0v1.0h-1.0zM82.8 239.5h1.0v1.0h-1.0zM186.4 245.2h1.0v1.0h-1.0zM203.9 264.3h1.0v1.0h-1.0zM136.2 260.8h1.0v1.0h-1.0zM136.0 219.5h1.0v1.0h-1.0zM216.6 236.0h1.0v1.0h-1.0zM153.4 244.0h1.0v1.0h-1.0zM193.4 251.0h1.0v1.0h-1.0zM177.8 235.4h1.0v1.0h-1.0zM150.6 244.3h1.0v1.0h-1.0zM212.0 241.5h1.0v1.0h-1.0zM160.3 250.8h1.0v1.0h-1.0zM149.5 263.3h1.0v1.0h-1.0zM188.4 225.7h1.0v1.0h-1.0zM123.6 238.4h1.0v1.0h-1.0zM185.0 231.6h1.0v1.0h-1.0zM176.2 273.9h1.0v1.0h-1.0zM119.2 246.7h1.0v1.0h-1.0zM171.3 235.1h1.0v1.0h-1.0zM145.9 255.9h1.0v1.0h-1.0zM191.0 211.2h1.0v1.0h-1.0zM173.7 245.9h1.0v1.0h-1.0zM139.8 235.5h1.0v1.0h-1.0zM201.8 269.4h1.0v1.0h-1.0zM147.7 249.6h1.0v1.0h-1.0zM147.5 232.3h1.0v1.0h-1.0zM198.4 248.0h1.0v1.0h-1.0zM187.6 251.8h1.0v1.0h-1.0zM136.3 221.2h1.0v1.0h-1.0zM181.2 230.0h1.0v1.0h-1.0zM203.9 248.8h1.0v1.0h-1.0zM216.3 233.2h1.0v1.0h-1.0zM171.8 237.6h1.0v1.0h-1.0zM174.7 245.7h1.0v1.0h-1.0zM143.7 248.4h1.0v1.0h-1.0zM187.3 218.2h1.0v1.0h-1.0zM223.1 236.3h1.0v1.0h-1.0zM219.5 239.9h1.0v1.0h-1.0zM135.1 247.4h1.0v1.0h-1.0zM151.9 243.2h1.0v1.0h-1.0zM175.9 240.1h1.0v1.0h-1.0zM197.8 263.6h1.0v1.0h-1.0zM208.3 224.1h1.0v1.0h-1.0zM198.4 235.9h1.0v1.0h-1.0zM178.4 257.4h1.0v1.0h-1.0zM205.9 225.6h1.0v1.0h-1.0zM185.1 231.5h1.0v1.0h-1.0zM113.4 244.7h1.0v1.0h-1.0zM175.5 223.9h1.0v1.0h-1.0zM197.7 234.8h1.0v1.0h-1.0zM197.2 233.0h1.0v1.0h-1.0zM134.5 237.5h1.0v1.0h-1.0zM191.2 260.2h1.0v1.0h-1.0zM157.7 262.4h1.0v1.0h-1.0zM182.0 254.4h1.0v1.0h-1.0zM187.3 240.4h1.0v1.0h-1.0zM204.6 241.6h1.0v1.0h-1.0zM175.0 247.4h1.0v1.0h-1.0zM189.5 234.9h1.0v1.0h-1.0zM159.0 239.1h1.0v1.0h-1.0zM149.9 238.8h1.0v1.0h-1.0zM112.0 263.5h1.0v1.0h-1.0zM127.3 246.5h1.0v1.0h-1.0zM191.0 241.7h1.0v1.0h-1.0zM156.6 221.8h1.0v1.0h-1.0zM206.7 242.6h1.0v1.0h-1.0zM190.2 226.8h1.0v1.0h-1.0zM199.9 270.9h1.0v1.0h-1.0zM150.9 237.8h1.0v1.0h-1.0zM135.8 250.5h1.0v1.0h-1.0zM221.3 238.3h1.0v1.0h-1.0zM182.7 249.4h1.0v1.0h-1.0zM147.6 237.2h1.0v1.0h-1.0zM114.7 241.1h1.0v1.0h-1.0zM136.8 240.4h1.0v1.0h-1.0zM137.4 235.0h1.0v1.0h-1.0zM167.3 245.1h1.0v1.0h-1.0zM152.6 244.6h1.0v1.0h-1.0zM192.5 255.8h1.0v1.0h-1.0zM166.4 242.0h1.0v1.0h-1.0zM140.0 244.0h1.0v1.0h-1.0zM179.7 254.3h1.0v1.0h-1.0zM165.5 250.4h1.0v1.0h-1.0zM197.0 254.0h1.0v1.0h-1.0zM181.9 262.7h1.0v1.0h-1.0zM188.9 249.1h1.0v1.0h-1.0zM135.9 216.7h1.0v1.0h-1.0zM191.5 248.4h1.0v1.0h-1.0zM146.8 216.7h1.0v1.0h-1.0zM134.5 253.8h1.0v1.0h-1.0zM152.6 241.2h1.0v1.0h-1.0zM119.0 236.6h1.0v1.0h-1.0zM144.3 239.8h1.0v1.0h-1.0zM176.6 246.3h1.0v1.0h-1.0zM167.4 255.3h1.0v1.0h-1.0zM216.8 251.0h1.0v1.0h-1.0zM206.3 239.1h1.0v1.0h-1.0zM158.2 229.9h1.0v1.0h-1.0zM197.3 251.1h1.0v1.0h-1.0zM129.1 235.2h1.0v1.0h-1.0zM193.4 244.5h1.0v1.0h-1.0zM154.4 230.9h1.0v1.0h-1.0zM189.7 237.2h1.0v1.0h-1.0zM175.8 255.9h1.0v1.0h-1.0zM169.9 225.6h1.0v1.0h-1.0zM204.0 235.3h1.0v1.0h-1.0zM168.3 246.0h1.0v1.0h-1.0zM151.9 255.4h1.0v1.0h-1.0zM189.6 208.9h1.0v1.0h-1.0zM181.6 231.9h1.0v1.0h-1.0zM153.4 228.7h1.0v1.0h-1.0zM159.1 246.1h1.0v1.0h-1.0zM151.7 246.6h1.0v1.0h-1.0zM171.8 237.6h1.0v1.0h-1.0zM229.4 240.5h1.0v1.0h-1.0zM245.6 249.5h1.0v1.0h-1.0zM148.5 239.8h1.0v1.0h-1.0zM133.4 241.9h1.0v1.0h-1.0zM184.1 240.6h1.0v1.0h-1.0zM165.2 225.5h1.0v1.0h-1.0zM145.0 242.5h1.0v1.0h-1.0zM158.9 247.8h1.0v1.0h-1.0zM178.2 239.5h1.0v1.0h-1.0zM152.9 232.0h1.0v1.0h-1.0zM171.1 255.5h1.0v1.0h-1.0zM188.8 250.5h1.0v1.0h-1.0zM138.7 217.7h1.0v1.0h-1.0zM166.0 258.8h1.0v1.0h-1.0zM179.8 242.2h1.0v1.0h-1.0zM148.3 220.1h1.0v1.0h-1.0zM150.4 235.8h1.0v1.0h-1.0zM191.8 246.8h1.0v1.0h-1.0zM106.8 223.8h1.0v1.0h-1.0zM195.3 241.8h1.0v1.0h-1.0zM150.6 270.1h1.0v1.0h-1.0zM173.3 251.5h1.0v1.0h-1.0zM192.2 243.5h1.0v1.0h-1.0zM192.7 244.9h1.0v1.0h-1.0zM219.6 239.0h1.0v1.0h-1.0zM164.3 231.9h1.0v1.0h-1.0zM177.4 246.8h1.0v1.0h-1.0zM194.9 244.6h1.0v1.0h-1.0zM115.0 252.1h1.0v1.0h-1.0zM199.5 251.4h1.0v1.0h-1.0zM173.0 228.3h1.0v1.0h-1.0zM154.7 236.3h1.0v1.0h-1.0zM191.9 238.9h1.0v1.0h-1.0zM167.0 256.5h1.0v1.0h-1.0zM138.9 228.9h1.0v1.0h-1.0zM154.7 253.5h1.0v1.0h-1.0zM188.8 230.4h1.0v1.0h-1.0zM220.5 252.9h1.0v1.0h-1.0zM159.1 221.0h1.0v1.0h-1.0zM153.8 240.6h1.0v1.0h-1.0zM176.1 246.1h1.0v1.0h-1.0zM147.3 251.6h1.0v1.0h-1.0zM184.0 219.2h1.0v1.0h-1.0zM153.7 240.3h1.0v1.0h-1.0zM141.9 217.1h1.0v1.0h-1.0zM177.3 221.3h1.0v1.0h-1.0zM187.4 233.9h1.0v1.0h-1.0zM139.8 259.7h1.0v1.0h-1.0zM106.1 259.6h1.0v1.0h-1.0zM189.9 222.8h1.0v1.0h-1.0zM160.3 261.6h1.0v1.0h-1.0zM168.0 240.8h1.0v1.0h-1.0zM207.5 231.6h1.0v1.0h-1.0zM146.0 250.9h1.0v1.0h-1.0zM161.8 236.0h1.0v1.0h-1.0zM152.3 240.1h1.0v1.0h-1.0zM120.0 222.6h1.0v1.0h-1.0zM167.3 236.8h1.0v1.0h-1.0zM181.4 255.4h1.0v1.0h-1.0zM212.1 243.0h1.0v1.0h-1.0zM199.1 239.0h1.0v1.0h-1.0zM158.7 219.4h1.0v1.0h-1.0zM168.8 246.1h1.0v1.0h-1.0zM185.0 233.1h1.0v1.0h-1.0zM136.6 206.5h1.0v1.0h-1.0zM157.7 279.6h1.0v1.0h-1.0zM220.2 247.0h1.0v1.0h-1.0zM196.4 251.9h1.0v1.0h-1.0zM176.7 249.1h1.0v1.0h-1.0zM180.1 240.1h1.0v1.0h-1.0zM180.0 264.2h1.0v1.0h-1.0zM155.9 211.8h1.0v1.0h-1.0zM202.4 235.6h1.0v1.0h-1.0zM158.6 227.5h1.0v1.0h-1.0zM168.4 263.2h1.0v1.0h-1.0zM202.3 256.5h1.0v1.0h-1.0zM161.6 258.5h1.0v1.0h-1.0zM118.2 215.3h1.0v1.0h-1.0zM201.8 259.3h1.0v1.0h-1.0zM177.7 240.3h1.0v1.0h-1.0zM178.3 253.4h1.0v1.0h-1.0zM191.5 217.3h1.0v1.0h-1.0zM178.1 234.5h1.0v1.0h-1.0zM163.1 244.6h1.0v1.0h-1.0zM170.5 245.7h1.0v1.0h-1.0zM134.9 243.1h1.0v1.0h-1.0zM143.7 226.4h1.0v1.0h-1.0zM179.9 232.0h1.0v1.0h-1.0zM135.4 238.7h1.0v1.0h-1.0zM156.0 215.9h1.0v1.0h-1.0zM161.1 258.6h1.0v1.0h-1.0zM169.1 239.3h1.0v1.0h-1.0zM171.0 234.1h1.0v1.0h-1.0zM144.7 258.3h1.0v1.0h-1.0zM126.6 263.6h1.0v1.0h-1.0zM167.3 256.9h1.0v1.0h-1.0zM155.2 248.2h1.0v1.0h-1.0zM162.5 235.4h1.0v1.0h-1.0zM177.5 221.7h1.0v1.0h-1.0zM176.4 252.2h1.0v1.0h-1.0zM154.3 204.3h1.0v1.0h-1.0zM197.9 257.3h1.0v1.0h-1.0zM133.2 256.6h1.0v1.0h-1.0zM161.1 270.9h1.0v1.0h-1.0zM150.4 247.3h1.0v1.0h-1.0zM113.1 241.5h1.0v1.0h-1.0zM180.5 226.5h1.0v1.0h-1.0zM180.3 228.7h1.0v1.0h-1.0zM159.1 212.7h1.0v1.0h-1.0zM156.3 225.3h1.0v1.0h-1.0zM171.1 240.9h1.0v1.0h-1.0zM113.9 229.6h1.0v1.0h-1.0zM162.9 243.6h1.0v1.0h-1.0zM195.8 242.8h1.0v1.0h-1.0zM183.2 232.1h1.0v1.0h-1.0zM135.5 232.1h1.0v1.0h-1.0zM180.8 262.3h1.0v1.0h-1.0zM144.5 246.2h1.0v1.0h-1.0zM184.8 229.8h1.0v1.0h-1.0zM175.1 254.8h1.0v1.0h-1.0zM182.3 233.4h1.0v1.0h-1.0zM167.9 250.8h1.0v1.0h-1.0zM146.1 253.0h1.0v1.0h-1.0zM178.7 246.4h1.0v1.0h-1.0zM208.4 244.2h1.0v1.0h-1.0zM122.7 222.3h1.0v1.0h-1.0zM115.8 260.5h1.0v1.0h-1.0zM143.7 235.5h1.0v1.0h-1.0zM130.6 238.4h1.0v1.0h-1.0zM151.6 239.3h1.0v1.0h-1.0zM161.8 235.2h1.0v1.0h-1.0zM134.9 250.2h1.0v1.0h-1.0zM157.8 270.9h1.0v1.0h-1.0zM192.6 244.0h1.0v1.0h-1.0zM209.5 240.1h1.0v1.0h-1.0zM224.0 232.0h1.0v1.0h-1.0zM170.7 270.3h1.0v1.0h-1.0zM149.0 240.1h1.0v1.0h-1.0zM155.6 256.1h1.0v1.0h-1.0zM174.9 235.7h1.0v1.0h-1.0zM230.4 243.6h1.0v1.0h-1.0zM184.1 239.3h1.0v1.0h-1.0zM154.3 222.3h1.0v1.0h-1.0zM206.3 265.6h1.0v1.0h-1.0zM166.1 236.3h1.0v1.0h-1.0zM159.7 226.9h1.0v1.0h-1.0zM155.9 237.6h1.0v1.0h-1.0zM132.0 232.4h1.0v1.0h-1.0zM170.2 243.9h1.0v1.0h-1.0zM150.4 253.7h1.0v1.0h-1.0zM231.3 238.2h1.0v1.0h-1.0zM157.1 227.7h1.0v1.0h-1.0zM169.3 223.7h1.0v1.0h-1.0zM179.4 242.6h1.0v1.0h-1.0zM169.3 214.6h1.0v1.0h-1.0zM189.7 266.0h1.0v1.0h-1.0zM192.2 237.9h1.0v1.0h-1.0zM172.9 236.8h1.0v1.0h-1.0zM138.7 221.0h1.0v1.0h-1.0zM182.4 227.6h1.0v1.0h-1.0zM190.4 240.2h1.0v1.0h-1.0zM200.5 243.9h1.0v1.0h-1.0zM100.5 234.9h1.0v1.0h-1.0zM172.2 241.8h1.0v1.0h-1.0zM201.5 240.5h1.0v1.0h-1.0zM152.3 231.1h1.0v1.0h-1.0zM175.0 244.0h1.0v1.0h-1.0zM162.2 256.5h1.0v1.0h-1.0zM144.4 247.7h1.0v1.0h-1.0zM157.3 253.1h1.0v1.0h-1.0zM172.6 238.2h1.0v1.0h-1.0zM167.4 256.3h1.0v1.0h-1.0zM167.2 266.8h1.0v1.0h-1.0zM170.1 261.1h1.0v1.0h-1.0zM199.4 228.9h1.0v1.0h-1.0zM134.9 244.7h1.0v1.0h-1.0zM182.1 248.1h1.0v1.0h-1.0zM137.0 237.0h1.0v1.0h-1.0zM170.3 232.8h1.0v1.0h-1.0zM83.1 244.8h1.0v1.0h-1.0zM183.5 242.5h1.0v1.0h-1.0zM198.0 244.1h1.0v1.0h-1.0zM191.3 266.1h1.0v1.0h-1.0zM151.7 241.6h1.0v1.0h-1.0zM193.1 248.8h1.0v1.0h-1.0zM157.2 257.8h1.0v1.0h-1.0zM217.0 268.0h1.0v1.0h-1.0zM186.5 269.0h1.0v1.0h-1.0zM209.3 230.8h1.0v1.0h-1.0zM205.2 254.3h1.0v1.0h-1.0zM162.6 245.5h1.0v1.0h-1.0zM195.3 252.2h1.0v1.0h-1.0zM182.7 258.0h1.0v1.0h-1.0zM190.0 250.1h1.0v1.0h-1.0zM193.4 242.2h1.0v1.0h-1.0zM175.2 259.2h1.0v1.0h-1.0zM178.2 252.4h1.0v1.0h-1.0zM163.6 262.4h1.0v1.0h-1.0zM179.8 262.6h1.0v1.0h-1.0zM164.3 253.3h1.0v1.0h-1.0zM158.0 240.8h1.0v1.0h-1.0zM195.4 240.6h1.0v1.0h-1.0zM214.3 239.4h1.0v1.0h-1.0zM126.6 219.7h1.0v1.0h-1.0zM199.3 234.2h1.0v1.0h-1.0zM194.4 252.5h1.0v1.0h-1.0zM193.5 259.8h1.0v1.0h-1.0zM164.1 279.3h1.0v1.0h-1.0zM171.4 266.3h1.0v1.0h-1.0zM171.3 239.6h1.0v1.0h-1.0zM211.6 247.8h1.0v1.0h-1.0zM174.1 242.0h1.0v1.0h-1.0zM186.2 261.1h1.0v1.0h-1.0zM152.0 220.0h1.0v1.0h-1.0zM171.2 266.5h1.0v1.0h-1.0zM197.8 265.8h1.0v1.0h-1.0zM159.2 240.1h1.0v1.0h-1.0zM208.4 248.3h1.0v1.0h-1.0zM182.5 252.6h1.0v1.0h-1.0zM205.2 254.4h1.0v1.0h-1.0zM193.4 262.0h1.0v1.0h-1.0zM173.1 232.7h1.0v1.0h-1.0zM171.2 254.8h1.0v1.0h-1.0zM198.1 214.7h1.0v1.0h-1.0zM177.4 261.4h1.0v1.0h-1.0zM109.9 219.5h1.0v1.0h-1.0zM126.6 254.4h1.0v1.0h-1.0zM172.0 226.8h1.0v1.0h-1.0zM171.5 243.9h1.0v1.0h-1.0zM181.7 249.9h1.0v1.0h-1.0zM171.0 247.4h1.0v1.0h-1.0zM110.0 245.8h1.0v1.0h-1.0zM219.5 245.6h1.0v1.0h-1.0zM172.6 259.1h1.0v1.0h-1.0zM181.7 233.8h1.0v1.0h-1.0zM182.0 250.6h1.0v1.0h-1.0zM129.7 244.7h1.0v1.0h-1.0zM122.6 226.3h1.0v1.0h-1.0zM163.3 245.5h1.0v1.0h-1.0zM218.8 228.6h1.0v1.0h-1.0zM149.7 238.3h1.0v1.0h-1.0zM136.6 273.2h1.0v1.0h-1.0zM145.7 268.2h1.0v1.0h-1.0zM156.1 258.2h1.0v1.0h-1.0zM170.4 242.3h1.0v1.0h-1.0zM152.8 245.3h1.0v1.0h-1.0zM193.9 243.9h1.0v1.0h-1.0zM177.4 224.6h1.0v1.0h-1.0zM96.4 241.1h1.0v1.0h-1.0zM161.7 249.1h1.0v1.0h-1.0zM113.2 236.2h1.0v1.0h-1.0zM182.5 258.7h1.0v1.0h-1.0zM176.0 244.7h1.0v1.0h-1.0zM161.8 260.7h1.0v1.0h-1.0zM158.2 260.3h1.0v1.0h-1.0zM167.9 266.9h1.0v1.0h-1.0zM171.9 261.2h1.0v1.0h-1.0zM222.6 234.7h1.0v1.0h-1.0zM120.4 239.6h1.0v1.0h-1.0zM162.2 257.0h1.0v1.0h-1.0zM186.5 258.0h1.0v1.0h-1.0zM163.2 239.0h1.0v1.0h-1.0zM142.8 246.1h1.0v1.0h-1.0zM137.2 240.8h1.0v1.0h-1.0zM147.7 273.1h1.0v1.0h-1.0zM198.3 246.1h1.0v1.0h-1.0zM200.7 250.6h1.0v1.0h-1.0zM167.8 259.0h1.0v1.0h-1.0zM160.2 240.0h1.0v1.0h-1.0zM202.5 228.8h1.0v1.0h-1.0zM177.2 251.3h1.0v1.0h-1.0zM170.2 239.6h1.0v1.0h-1.0zM231.0 245.0h1.0v1.0h-1.0zM141.5 230.4h1.0v1.0h-1.0zM218.1 246.3h1.0v1.0h-1.0zM146.2 244.0h1.0v1.0h-1.0zM153.2 243.6h1.0v1.0h-1.0zM193.2 213.5h1.0v1.0h-1.0zM173.4 246.7h1.0v1.0h-1.0zM137.8 245.3h1.0v1.0h-1.0zM131.3 213.2h1.0v1.0h-1.0zM97.8 229.6h1.0v1.0h-1.0zM175.7 241.7h1.0v1.0h-1.0zM185.5 239.4h1.0v1.0h-1.0zM108.8 243.1h1.0v1.0h-1.0zM141.7 245.8h1.0v1.0h-1.0zM132.9 240.2h1.0v1.0h-1.0zM153.9 252.8h1.0v1.0h-1.0zM157.4 243.3h1.0v1.0h-1.0zM187.1 249.1h1.0v1.0h-1.0zM171.6 263.9h1.0v1.0h-1.0zM166.5 256.6h1.0v1.0h-1.0zM184.1 259.8h1.0v1.0h-1.0zM197.0 236.3h1.0v1.0h-1.0zM186.5 261.5h1.0v1.0h-1.0zM179.7 243.9h1.0v1.0h-1.0zM200.3 253.8h1.0v1.0h-1.0zM170.4 251.4h1.0v1.0h-1.0zM221.8 264.6h1.0v1.0h-1.0zM220.5 237.2h1.0v1.0h-1.0zM170.2 232.7h1.0v1.0h-1.0zM182.1 248.0h1.0v1.0h-1.0zM234.5 240.8h1.0v1.0h-1.0zM148.1 237.0h1.0v1.0h-1.0zM145.1 213.9h1.0v1.0h-1.0zM111.8 224.3h1.0v1.0h-1.0zM188.8 230.7h1.0v1.0h-1.0zM163.1 228.4h1.0v1.0h-1.0zM135.8 263.7h1.0v1.0h-1.0zM170.2 230.1h1.0v1.0h-1.0zM174.0 225.0h1.0v1.0h-1.0zM158.6 252.0h1.0v1.0h-1.0zM163.7 250.7h1.0v1.0h-1.0zM160.2 244.4h1.0v1.0h-1.0zM172.8 242.0h1.0v1.0h-1.0zM182.2 252.4h1.0v1.0h-1.0zM165.9 243.5h1.0v1.0h-1.0zM190.8 236.5h1.0v1.0h-1.0zM167.0 212.9h1.0v1.0h-1.0zM127.5 266.7h1.0v1.0h-1.0zM136.3 233.3h1.0v1.0h-1.0zM183.6 254.4h1.0v1.0h-1.0zM172.9 271.5h1.0v1.0h-1.0zM161.8 243.5h1.0v1.0h-1.0zM138.3 235.6h1.0v1.0h-1.0zM193.7 279.4h1.0v1.0h-1.0zM181.3 260.2h1.0v1.0h-1.0zM170.8 265.0h1.0v1.0h-1.0zM183.6 248.9h1.0v1.0h-1.0zM204.3 244.4h1.0v1.0h-1.0zM202.0 220.1h1.0v1.0h-1.0zM168.9 243.5h1.0v1.0h-1.0zM170.6 259.9h1.0v1.0h-1.0zM186.0 258.2h1.0v1.0h-1.0zM169.3 215.3h1.0v1.0h-1.0zM167.5 257.7h1.0v1.0h-1.0zM181.5 229.8h1.0v1.0h-1.0zM184.7 220.4h1.0v1.0h-1.0zM123.6 225.7h1.0v1.0h-1.0zM216.6 232.4h1.0v1.0h-1.0zM182.0 245.8h1.0v1.0h-1.0zM141.3 249.0h1.0v1.0h-1.0zM116.1 214.7h1.0v1.0h-1.0zM162.8 256.8h1.0v1.0h-1.0zM157.4 236.9h1.0v1.0h-1.0zM156.2 246.0h1.0v1.0h-1.0zM156.6 251.3h1.0v1.0h-1.0zM132.5 259.6h1.0v1.0h-1.0zM217.3 254.6h1.0v1.0h-1.0zM122.3 232.2h1.0v1.0h-1.0zM155.5 240.6h1.0v1.0h-1.0zM154.2 231.6h1.0v1.0h-1.0zM168.2 233.0h1.0v1.0h-1.0zM170.3 254.6h1.0v1.0h-1.0zM140.8 246.2h1.0v1.0h-1.0zM193.3 235.8h1.0v1.0h-1.0zM132.5 228.6h1.0v1.0h-1.0zM202.6 239.0h1.0v1.0h-1.0zM173.9 251.3h1.0v1.0h-1.0zM199.0 245.3h1.0v1.0h-1.0zM154.3 229.2h1.0v1.0h-1.0zM155.3 245.9h1.0v1.0h-1.0zM201.8 227.1h1.0v1.0h-1.0zM172.4 242.7h1.0v1.0h-1.0zM138.3 223.4h1.0v1.0h-1.0zM190.4 254.7h1.0v1.0h-1.0zM171.4 223.9h1.0v1.0h-1.0zM142.5 234.6h1.0v1.0h-1.0zM178.2 237.4h1.0v1.0h-1.0zM167.7 232.1h1.0v1.0h-1.0zM189.0 262.3h1.0v1.0h-1.0zM169.0 262.5h1.0v1.0h-1.0zM158.5 240.0h1.0v1.0h-1.0zM180.0 235.7h1.0v1.0h-1.0zM159.0 228.5h1.0v1.0h-1.0zM184.1 228.9h1.0v1.0h-1.0zM200.5 246.9h1.0v1.0h-1.0zM92.9 240.7h1.0v1.0h-1.0zM170.2 235.3h1.0v1.0h-1.0zM184.3 250.2h1.0v1.0h-1.0zM142.7 209.5h1.0v1.0h-1.0zM206.8 249.5h1.0v1.0h-1.0zM184.1 236.5h1.0v1.0h-1.0zM183.6 241.6h1.0v1.0h-1.0zM153.4 237.6h1.0v1.0h-1.0zM192.1 251.2h1.0v1.0h-1.0zM209.6 223.6h1.0v1.0h-1.0zM154.6 238.7h1.0v1.0h-1.0zM179.2 245.8h1.0v1.0h-1.0zM208.0 246.9h1.0v1.0h-1.0zM184.1 250.7h1.0v1.0h-1.0zM187.0 234.3h1.0v1.0h-1.0zM203.6 252.2h1.0v1.0h-1.0zM165.0 261.9h1.0v1.0h-1.0zM165.9 244.4h1.0v1.0h-1.0zM131.3 238.4h1.0v1.0h-1.0zM166.0 251.0h1.0v1.0h-1.0zM198.6 247.9h1.0v1.0h-1.0zM144.4 225.4h1.0v1.0h-1.0zM160.2 250.6h1.0v1.0h-1.0zM192.0 243.1h1.0v1.0h-1.0zM185.3 247.2h1.0v1.0h-1.0zM146.1 240.8h1.0v1.0h-1.0zM193.3 230.0h1.0v1.0h-1.0zM215.6 255.4h1.0v1.0h-1.0zM154.5 254.8h1.0v1.0h-1.0zM119.6 264.5h1.0v1.0h-1.0zM144.0 263.3h1.0v1.0h-1.0zM201.4 238.9h1.0v1.0h-1.0zM188.8 242.2h1.0v1.0h-1.0zM211.2 241.5h1.0v1.0h-1.0zM175.7 239.2h1.0v1.0h-1.0zM186.3 237.9h1.0v1.0h-1.0zM157.6 244.4h1.0v1.0h-1.0zM170.4 216.9h1.0v1.0h-1.0zM181.0 254.6h1.0v1.0h-1.0zM210.7 263.5h1.0v1.0h-1.0zM188.5 228.0h1.0v1.0h-1.0zM220.2 236.2h1.0v1.0h-1.0zM129.0 243.0h1.0v1.0h-1.0zM153.7 224.2h1.0v1.0h-1.0zM174.5 236.4h1.0v1.0h-1.0zM172.5 260.8h1.0v1.0h-1.0zM143.7 233.5h1.0v1.0h-1.0zM187.7 237.1h1.0v1.0h-1.0zM148.8 246.4h1.0v1.0h-1.0zM139.8 242.0h1.0v1.0h-1.0zM138.1 263.0h1.0v1.0h-1.0zM179.9 244.0h1.0v1.0h-1.0zM226.2 240.0h1.0v1.0h-1.0zM149.0 272.6h1.0v1.0h-1.0zM192.0 253.6h1.0v1.0h-1.0zM163.5 242.9h1.0v1.0h-1.0zM187.9 248.8h1.0v1.0h-1.0zM172.5 219.3h1.0v1.0h-1.0zM198.5 237.5h1.0v1.0h-1.0zM231.0 244.1h1.0v1.0h-1.0zM148.0 228.2h1.0v1.0h-1.0zM197.5 250.0h1.0v1.0h-1.0zM193.5 269.8h1.0v1.0h-1.0zM157.3 259.5h1.0v1.0h-1.0zM166.1 246.8h1.0v1.0h-1.0zM164.4 233.4h1.0v1.0h-1.0zM177.0 225.1h1.0v1.0h-1.0zM167.7 225.5h1.0v1.0h-1.0zM154.1 229.7h1.0v1.0h-1.0zM153.2 254.0h1.0v1.0h-1.0zM248.6 249.0h1.0v1.0h-1.0zM174.1 255.4h1.0v1.0h-1.0zM82.0 243.8h1.0v1.0h-1.0zM124.5 252.9h1.0v1.0h-1.0zM145.2 242.2h1.0v1.0h-1.0zM176.3 262.4h1.0v1.0h-1.0zM210.8 243.8h1.0v1.0h-1.0zM138.7 228.4h1.0v1.0h-1.0zM188.0 259.9h1.0v1.0h-1.0zM144.3 232.7h1.0v1.0h-1.0zM171.7 269.9h1.0v1.0h-1.0zM170.4 227.0h1.0v1.0h-1.0zM191.2 261.6h1.0v1.0h-1.0zM202.6 263.3h1.0v1.0h-1.0zM167.2 249.6h1.0v1.0h-1.0zM149.6 268.8h1.0v1.0h-1.0zM167.6 264.0h1.0v1.0h-1.0zM206.7 252.4h1.0v1.0h-1.0zM156.3 235.5h1.0v1.0h-1.0zM209.7 258.1h1.0v1.0h-1.0zM177.6 239.7h1.0v1.0h-1.0zM189.8 258.8h1.0v1.0h-1.0zM174.9 241.3h1.0v1.0h-1.0zM169.9 250.2h1.0v1.0h-1.0zM187.7 217.6h1.0v1.0h-1.0zM162.9 250.4h1.0v1.0h-1.0zM182.3 257.1h1.0v1.0h-1.0zM169.7 255.8h1.0v1.0h-1.0zM203.7 234.4h1.0v1.0h-1.0zM194.4 261.3h1.0v1.0h-1.0zM199.4 230.3h1.0v1.0h-1.0zM202.1 232.1h1.0v1.0h-1.0zM218.8 229.7h1.0v1.0h-1.0zM178.6 262.1h1.0v1.0h-1.0zM179.7 242.6h1.0v1.0h-1.0zM153.4 236.0h1.0v1.0h-1.0zM179.6 218.3h1.0v1.0h-1.0zM159.3 248.7h1.0v1.0h-1.0zM163.4 244.9h1.0v1.0h-1.0zM220.1 239.4h1.0v1.0h-1.0zM162.1 237.0h1.0v1.0h-1.0zM248.6 245.1h1.0v1.0h-1.0zM200.7 265.9h1.0v1.0h-1.0zM161.8 230.2h1.0v1.0h-1.0zM176.7 243.4h1.0v1.0h-1.0zM159.9 267.2h1.0v1.0h-1.0zM154.2 242.9h1.0v1.0h-1.0zM115.1 252.9h1.0v1.0h-1.0zM123.8 213.8h1.0v1.0h-1.0zM140.3 265.1h1.0v1.0h-1.0zM175.1 280.2h1.0v1.0h-1.0zM181.6 239.0h1.0v1.0h-1.0zM155.1 204.9h1.0v1.0h-1.0zM186.2 226.2h1.0v1.0h-1.0zM173.7 249.3h1.0v1.0h-1.0zM184.3 246.6h1.0v1.0h-1.0zM212.5 263.2h1.0v1.0h-1.0zM183.4 219.4h1.0v1.0h-1.0zM175.2 211.5h1.0v1.0h-1.0zM163.8 247.9h1.0v1.0h-1.0zM121.3 222.8h1.0v1.0h-1.0zM176.5 240.3h1.0v1.0h-1.0zM186.2 244.4h1.0v1.0h-1.0zM184.7 263.8h1.0v1.0h-1.0zM161.1 243.3h1.0v1.0h-1.0zM194.7 233.1h1.0v1.0h-1.0zM194.4 240.2h1.0v1.0h-1.0zM196.4 249.2h1.0v1.0h-1.0zM185.2 237.7h1.0v1.0h-1.0zM155.4 252.5h1.0v1.0h-1.0zM168.5 234.1h1.0v1.0h-1.0zM165.2 228.1h1.0v1.0h-1.0zM194.5 242.4h1.0v1.0h-1.0zM160.0 244.1h1.0v1.0h-1.0zM189.6 246.1h1.0v1.0h-1.0zM196.0 240.2h1.0v1.0h-1.0zM153.0 258.1h1.0v1.0h-1.0zM154.7 226.8h1.0v1.0h-1.0zM191.1 256.6h1.0v1.0h-1.0zM150.4 271.9h1.0v1.0h-1.0zM158.3 259.8h1.0v1.0h-1.0zM179.7 265.4h1.0v1.0h-1.0zM189.3 242.7h1.0v1.0h-1.0zM170.2 251.8h1.0v1.0h-1.0zM110.3 258.5h1.0v1.0h-1.0zM132.0 239.7h1.0v1.0h-1.0zM156.1 225.8h1.0v1.0h-1.0zM181.1 248.2h1.0v1.0h-1.0zM235.5 239.0h1.0v1.0h-1.0zM144.8 247.2h1.0v1.0h-1.0zM147.6 246.9h1.0v1.0h-1.0zM171.3 249.8h1.0v1.0h-1.0zM161.6 242.6h1.0v1.0h-1.0zM181.3 231.3h1.0v1.0h-1.0zM173.5 231.5h1.0v1.0h-1.0zM183.5 247.4h1.0v1.0h-1.0zM210.4 236.7h1.0v1.0h-1.0zM163.3 240.2h1.0v1.0h-1.0zM202.9 227.2h1.0v1.0h-1.0zM145.6 243.2h1.0v1.0h-1.0zM178.5 247.3h1.0v1.0h-1.0zM125.5 241.3h1.0v1.0h-1.0zM183.9 248.6h1.0v1.0h-1.0zM165.6 248.2h1.0v1.0h-1.0zM185.2 226.6h1.0v1.0h-1.0zM216.0 252.5h1.0v1.0h-1.0zM198.4 235.7h1.0v1.0h-1.0zM129.3 254.4h1.0v1.0h-1.0zM202.2 226.9h1.0v1.0h-1.0zM169.8 236.6h1.0v1.0h-1.0zM185.1 233.9h1.0v1.0h-1.0zM192.7 229.8h1.0v1.0h-1.0zM188.9 255.3h1.0v1.0h-1.0zM176.5 229.7h1.0v1.0h-1.0zM83.9 241.2h1.0v1.0h-1.0zM145.2 275.2h1.0v1.0h-1.0zM149.7 238.5h1.0v1.0h-1.0zM185.0 247.0h1.0v1.0h-1.0zM175.5 236.0h1.0v1.0h-1.0zM161.1 223.3h1.0v1.0h-1.0zM180.0 226.5h1.0v1.0h-1.0zM131.7 272.3h1.0v1.0h-1.0zM182.0 248.2h1.0v1.0h-1.0zM132.1 231.0h1.0v1.0h-1.0zM192.1 230.6h1.0v1.0h-1.0zM143.6 241.4h1.0v1.0h-1.0zM193.9 219.3h1.0v1.0h-1.0zM162.1 250.8h1.0v1.0h-1.0zM179.6 261.9h1.0v1.0h-1.0zM156.7 256.7h1.0v1.0h-1.0zM173.5 245.8h1.0v1.0h-1.0zM196.3 228.6h1.0v1.0h-1.0zM158.8 243.4h1.0v1.0h-1.0zM168.1 240.0h1.0v1.0h-1.0zM206.1 245.8h1.0v1.0h-1.0zM194.6 231.2h1.0v1.0h-1.0zM204.5 262.3h1.0v1.0h-1.0zM168.2 258.4h1.0v1.0h-1.0zM228.2 232.6h1.0v1.0h-1.0zM163.3 241.7h1.0v1.0h-1.0zM200.4 245.0h1.0v1.0h-1.0zM169.0 251.2h1.0v1.0h-1.0zM140.8 229.1h1.0v1.0h-1.0zM193.7 239.8h1.0v1.0h-1.0zM199.3 242.7h1.0v1.0h-1.0zM219.7 250.7h1.0v1.0h-1.0zM144.4 248.3h1.0v1.0h-1.0zM152.0 264.7h1.0v1.0h-1.0zM173.8 222.0h1.0v1.0h-1.0zM171.6 234.9h1.0v1.0h-1.0zM204.1 239.5h1.0v1.0h-1.0zM189.3 229.3h1.0v1.0h-1.0zM171.2 239.7h1.0v1.0h-1.0zM166.3 243.0h1.0v1.0h-1.0zM173.9 237.6h1.0v1.0h-1.0zM171.2 256.8h1.0v1.0h-1.0zM178.6 256.3h1.0v1.0h-1.0zM93.7 234.8h1.0v1.0h-1.0zM146.7 259.3h1.0v1.0h-1.0zM199.6 220.1h1.0v1.0h-1.0zM189.2 246.3h1.0v1.0h-1.0zM154.1 239.5h1.0v1.0h-1.0zM174.6 254.5h1.0v1.0h-1.0zM158.4 269.0h1.0v1.0h-1.0zM164.3 232.9h1.0v1.0h-1.0zM182.7 239.6h1.0v1.0h-1.0zM211.7 235.0h1.0v1.0h-1.0zM156.3 262.2h1.0v1.0h-1.0zM177.9 237.9h1.0v1.0h-1.0zM219.4 238.4h1.0v1.0h-1.0zM172.3 250.8h1.0v1.0h-1.0zM147.2 242.6h1.0v1.0h-1.0zM90.0 235.7h1.0v1.0h-1.0zM160.8 245.9h1.0v1.0h-1.0zM130.2 270.4h1.0v1.0h-1.0zM173.9 245.4h1.0v1.0h-1.0zM162.4 233.0h1.0v1.0h-1.0zM187.7 237.6h1.0v1.0h-1.0zM190.1 254.5h1.0v1.0h-1.0zM193.4 224.8h1.0v1.0h-1.0zM154.6 259.8h1.0v1.0h-1.0zM141.6 248.9h1.0v1.0h-1.0zM198.2 248.0h1.0v1.0h-1.0zM145.4 264.3h1.0v1.0h-1.0zM157.5 274.6h1.0v1.0h-1.0zM149.1 242.5h1.0v1.0h-1.0zM169.3 255.1h1.0v1.0h-1.0zM173.2 259.6h1.0v1.0h-1.0zM191.0 237.4h1.0v1.0h-1.0zM190.2 230.8h1.0v1.0h-1.0zM148.1 241.6h1.0v1.0h-1.0zM158.6 267.6h1.0v1.0h-1.0zM185.8 272.2h1.0v1.0h-1.0zM214.9 243.1h1.0v1.0h-1.0zM161.0 220.7h1.0v1.0h-1.0zM169.3 265.8h1.0v1.0h-1.0zM150.1 242.6h1.0v1.0h-1.0zM151.3 250.1h1.0v1.0h-1.0zM185.0 257.5h1.0v1.0h-1.0zM191.7 234.7h1.0v1.0h-1.0zM210.3 238.0h1.0v1.0h-1.0zM175.1 224.1h1.0v1.0h-1.0zM150.1 256.3h1.0v1.0h-1.0zM110.2 243.9h1.0v1.0h-1.0zM203.8 238.2h1.0v1.0h-1.0zM143.3 238.7h1.0v1.0h-1.0zM171.8 235.2h1.0v1.0h-1.0zM224.5 234.5h1.0v1.0h-1.0zM162.5 266.8h1.0v1.0h-1.0zM207.1 265.4h1.0v1.0h-1.0zM189.9 234.7h1.0v1.0h-1.0zM151.1 241.4h1.0v1.0h-1.0zM163.0 261.0h1.0v1.0h-1.0zM158.6 237.1h1.0v1.0h-1.0zM171.2 258.5h1.0v1.0h-1.0zM143.5 247.0h1.0v1.0h-1.0zM161.1 242.4h1.0v1.0h-1.0zM121.5 234.0h1.0v1.0h-1.0zM126.6 252.0h1.0v1.0h-1.0zM153.6 243.8h1.0v1.0h-1.0zM210.3 255.0h1.0v1.0h-1.0zM139.8 234.7h1.0v1.0h-1.0zM161.4 237.8h1.0v1.0h-1.0zM158.3 227.8h1.0v1.0h-1.0zM143.7 247.2h1.0v1.0h-1.0zM157.1 251.2h1.0v1.0h-1.0zM142.2 230.0h1.0v1.0h-1.0zM143.0 242.1h1.0v1.0h-1.0zM214.5 226.2h1.0v1.0h-1.0zM126.9 229.5h1.0v1.0h-1.0zM197.8 233.8h1.0v1.0h-1.0zM182.0 253.3h1.0v1.0h-1.0zM184.9 236.8h1.0v1.0h-1.0zM140.9 240.3h1.0v1.0h-1.0zM178.9 264.1h1.0v1.0h-1.0zM157.4 235.6h1.0v1.0h-1.0zM190.7 245.2h1.0v1.0h-1.0zM216.5 256.4h1.0v1.0h-1.0zM160.3 247.4h1.0v1.0h-1.0zM178.8 242.9h1.0v1.0h-1.0zM165.5 241.9h1.0v1.0h-1.0zM190.2 241.3h1.0v1.0h-1.0zM192.5 253.2h1.0v1.0h-1.0zM145.7 229.1h1.0v1.0h-1.0zM174.9 248.3h1.0v1.0h-1.0zM127.3 230.3h1.0v1.0h-1.0zM177.3 231.2h1.0v1.0h-1.0zM160.7 255.9h1.0v1.0h-1.0zM161.5 236.7h1.0v1.0h-1.0zM203.6 254.1h1.0v1.0h-1.0zM144.4 266.9h1.0v1.0h-1.0zM167.0 219.7h1.0v1.0h-1.0zM222.1 233.3h1.0v1.0h-1.0zM155.0 233.3h1.0v1.0h-1.0zM191.4 249.8h1.0v1.0h-1.0zM115.3 237.4h1.0v1.0h-1.0zM113.9 227.0h1.0v1.0h-1.0zM167.3 248.1h1.0v1.0h-1.0zM184.9 251.2h1.0v1.0h-1.0zM147.9 240.3h1.0v1.0h-1.0zM194.1 232.3h1.0v1.0h-1.0zM117.8 218.7h1.0v1.0h-1.0zM118.3 264.5h1.0v1.0h-1.0zM196.4 255.7h1.0v1.0h-1.0zM170.9 245.8h1.0v1.0h-1.0zM201.1 231.4h1.0v1.0h-1.0zM182.7 229.8h1.0v1.0h-1.0zM151.3 243.9h1.0v1.0h-1.0zM144.0 231.1h1.0v1.0h-1.0zM175.4 252.1h1.0v1.0h-1.0zM151.6 234.5h1.0v1.0h-1.0zM149.6 234.9h1.0v1.0h-1.0zM223.2 248.0h1.0v1.0h-1.0zM138.7 237.7h1.0v1.0h-1.0zM147.5 243.0h1.0v1.0h-1.0zM137.2 234.6h1.0v1.0h-1.0zM137.1 248.0h1.0v1.0h-1.0zM119.6 268.0h1.0v1.0h-1.0zM239.3 241.5h1.0v1.0h-1.0zM188.3 239.3h1.0v1.0h-1.0zM158.6 255.6h1.0v1.0h-1.0zM199.0 225.5h1.0v1.0h-1.0zM127.6 252.1h1.0v1.0h-1.0zM187.2 239.6h1.0v1.0h-1.0zM177.8 261.1h1.0v1.0h-1.0zM178.3 260.1h1.0v1.0h-1.0zM188.4 236.5h1.0v1.0h-1.0zM132.0 226.3h1.0v1.0h-1.0zM207.3 233.7h1.0v1.0h-1.0zM147.6 230.7h1.0v1.0h-1.0zM153.1 270.9h1.0v1.0h-1.0zM176.8 219.7h1.0v1.0h-1.0zM157.8 229.4h1.0v1.0h-1.0zM156.0 246.1h1.0v1.0h-1.0zM183.0 241.3h1.0v1.0h-1.0zM201.5 246.7h1.0v1.0h-1.0zM182.5 256.9h1.0v1.0h-1.0zM188.6 280.2h1.0v1.0h-1.0zM247.7 242.5h1.0v1.0h-1.0zM204.9 267.3h1.0v1.0h-1.0zM176.8 265.3h1.0v1.0h-1.0zM160.7 264.5h1.0v1.0h-1.0zM105.8 252.7h1.0v1.0h-1.0zM225.6 248.8h1.0v1.0h-1.0zM144.4 235.2h1.0v1.0h-1.0zM154.0 224.8h1.0v1.0h-1.0zM159.3 242.2h1.0v1.0h-1.0zM226.9 249.9h1.0v1.0h-1.0zM199.8 257.9h1.0v1.0h-1.0zM162.0 229.1h1.0v1.0h-1.0zM197.1 240.1h1.0v1.0h-1.0zM145.7 246.8h1.0v1.0h-1.0zM144.3 239.3h1.0v1.0h-1.0zM197.9 226.8h1.0v1.0h-1.0zM207.1 234.0h1.0v1.0h-1.0zM176.9 250.5h1.0v1.0h-1.0zM164.9 259.8h1.0v1.0h-1.0zM214.1 241.9h1.0v1.0h-1.0zM159.6 248.8h1.0v1.0h-1.0zM222.6 230.6h1.0v1.0h-1.0zM176.8 258.3h1.0v1.0h-1.0zM170.3 208.2h1.0v1.0h-1.0zM172.7 248.9h1.0v1.0h-1.0zM230.6 239.1h1.0v1.0h-1.0zM181.1 278.1h1.0v1.0h-1.0zM178.0 256.1h1.0v1.0h-1.0zM144.6 227.4h1.0v1.0h-1.0zM129.6 252.3h1.0v1.0h-1.0zM187.9 244.1h1.0v1.0h-1.0zM182.8 282.3h1.0v1.0h-1.0zM231.4 247.9h1.0v1.0h-1.0zM155.4 227.8h1.0v1.0h-1.0zM212.8 227.1h1.0v1.0h-1.0zM135.6 212.2h1.0v1.0h-1.0zM134.6 234.8h1.0v1.0h-1.0zM119.3 235.8h1.0v1.0h-1.0zM144.1 253.1h1.0v1.0h-1.0zM160.0 236.0h1.0v1.0h-1.0zM150.3 233.2h1.0v1.0h-1.0zM162.4 210.4h1.0v1.0h-1.0zM139.2 233.7h1.0v1.0h-1.0zM134.3 227.0h1.0v1.0h-1.0zM143.4 246.6h1.0v1.0h-1.0zM166.6 242.2h1.0v1.0h-1.0zM127.6 244.6h1.0v1.0h-1.0zM164.0 237.2h1.0v1.0h-1.0zM184.7 242.4h1.0v1.0h-1.0zM147.5 267.0h1.0v1.0h-1.0zM105.6 227.0h1.0v1.0h-1.0zM154.4 243.6h1.0v1.0h-1.0zM150.9 244.3h1.0v1.0h-1.0zM143.1 249.3h1.0v1.0h-1.0zM194.7 250.6h1.0v1.0h-1.0zM204.3 234.6h1.0v1.0h-1.0zM165.5 247.4h1.0v1.0h-1.0zM207.8 243.1h1.0v1.0h-1.0zM202.3 240.7h1.0v1.0h-1.0zM166.3 265.6h1.0v1.0h-1.0zM112.1 257.2h1.0v1.0h-1.0zM165.3 228.2h1.0v1.0h-1.0zM225.7 235.6h1.0v1.0h-1.0zM149.6 229.6h1.0v1.0h-1.0zM216.5 237.3h1.0v1.0h-1.0zM150.1 221.0h1.0v1.0h-1.0zM183.5 243.9h1.0v1.0h-1.0zM229.6 241.2h1.0v1.0h-1.0zM155.3 226.0h1.0v1.0h-1.0zM201.5 224.3h1.0v1.0h-1.0zM152.5 248.5h1.0v1.0h-1.0zM135.9 233.9h1.0v1.0h-1.0zM155.3 253.5h1.0v1.0h-1.0zM139.7 231.9h1.0v1.0h-1.0zM166.5 232.4h1.0v1.0h-1.0zM157.3 240.4h1.0v1.0h-1.0zM146.8 227.5h1.0v1.0h-1.0zM101.5 224.2h1.0v1.0h-1.0zM166.4 217.4h1.0v1.0h-1.0zM165.8 225.2h1.0v1.0h-1.0zM140.2 222.5h1.0v1.0h-1.0zM221.2 248.3h1.0v1.0h-1.0zM154.1 258.9h1.0v1.0h-1.0zM171.1 230.3h1.0v1.0h-1.0zM138.0 250.1h1.0v1.0h-1.0zM154.6 259.9h1.0v1.0h-1.0zM169.6 247.7h1.0v1.0h-1.0zM150.6 254.4h1.0v1.0h-1.0zM193.6 252.6h1.0v1.0h-1.0zM169.1 265.8h1.0v1.0h-1.0zM187.6 235.0h1.0v1.0h-1.0zM130.7 247.2h1.0v1.0h-1.0zM161.8 253.1h1.0v1.0h-1.0zM232.7 254.8h1.0v1.0h-1.0zM236.8 244.2h1.0v1.0h-1.0zM156.5 246.0h1.0v1.0h-1.0zM171.6 244.8h1.0v1.0h-1.0zM135.7 227.3h1.0v1.0h-1.0zM162.6 257.2h1.0v1.0h-1.0zM157.2 261.2h1.0v1.0h-1.0zM183.3 251.6h1.0v1.0h-1.0zM152.2 264.5h1.0v1.0h-1.0zM171.7 266.4h1.0v1.0h-1.0zM142.5 251.7h1.0v1.0h-1.0zM189.1 226.9h1.0v1.0h-1.0zM123.2 226.8h1.0v1.0h-1.0zM158.7 247.4h1.0v1.0h-1.0zM198.9 248.3h1.0v1.0h-1.0zM179.3 258.8h1.0v1.0h-1.0zM161.3 247.2h1.0v1.0h-1.0zM170.3 245.0h1.0v1.0h-1.0zM149.1 245.4h1.0v1.0h-1.0zM219.3 236.9h1.0v1.0h-1.0zM150.9 230.4h1.0v1.0h-1.0zM233.2 243.1h1.0v1.0h-1.0zM215.1 243.1h1.0v1.0h-1.0zM175.4 259.3h1.0v1.0h-1.0zM169.0 250.1h1.0v1.0h-1.0zM152.6 263.8h1.0v1.0h-1.0zM177.7 260.1h1.0v1.0h-1.0zM112.3 253.9h1.0v1.0h-1.0zM152.2 250.3h1.0v1.0h-1.0zM138.1 238.4h1.0v1.0h-1.0zM181.7 281.2h1.0v1.0h-1.0zM186.8 241.9h1.0v1.0h-1.0zM166.3 214.6h1.0v1.0h-1.0zM151.0 255.4h1.0v1.0h-1.0zM144.8 241.4h1.0v1.0h-1.0zM162.1 253.4h1.0v1.0h-1.0zM159.0 227.1h1.0v1.0h-1.0zM127.5 229.0h1.0v1.0h-1.0zM144.6 223.1h1.0v1.0h-1.0zM182.6 241.9h1.0v1.0h-1.0zM166.5 250.2h1.0v1.0h-1.0zM203.4 253.1h1.0v1.0h-1.0zM182.2 258.0h1.0v1.0h-1.0zM153.9 239.2h1.0v1.0h-1.0zM211.7 246.3h1.0v1.0h-1.0zM199.6 250.3h1.0v1.0h-1.0zM170.6 246.8h1.0v1.0h-1.0zM174.6 229.8h1.0v1.0h-1.0zM157.3 253.2h1.0v1.0h-1.0zM83.2 233.4h1.0v1.0h-1.0zM191.1 232.1h1.0v1.0h-1.0zM173.2 224.7h1.0v1.0h-1.0zM220.8 241.7h1.0v1.0h-1.0zM142.8 243.6h1.0v1.0h-1.0zM115.8 265.8h1.0v1.0h-1.0zM144.5 244.2h1.0v1.0h-1.0zM150.0 275.3h1.0v1.0h-1.0zM129.9 242.8h1.0v1.0h-1.0zM162.9 232.9h1.0v1.0h-1.0zM172.1 266.6h1.0v1.0h-1.0zM177.2 236.7h1.0v1.0h-1.0zM192.7 253.0h1.0v1.0h-1.0zM134.0 243.8h1.0v1.0h-1.0zM126.1 265.3h1.0v1.0h-1.0zM185.8 230.6h1.0v1.0h-1.0zM182.1 215.7h1.0v1.0h-1.0zM153.2 260.9h1.0v1.0h-1.0zM216.4 237.3h1.0v1.0h-1.0zM177.8 244.1h1.0v1.0h-1.0zM138.8 262.3h1.0v1.0h-1.0zM216.0 241.6h1.0v1.0h-1.0zM172.6 236.1h1.0v1.0h-1.0zM142.1 243.5h1.0v1.0h-1.0zM194.4 250.7h1.0v1.0h-1.0zM162.6 253.0h1.0v1.0h-1.0zM200.0 234.1h1.0v1.0h-1.0zM165.1 256.8h1.0v1.0h-1.0zM189.5 256.0h1.0v1.0h-1.0zM153.4 217.1h1.0v1.0h-1.0zM217.0 252.0h1.0v1.0h-1.0zM173.5 258.3h1.0v1.0h-1.0zM221.4 236.8h1.0v1.0h-1.0zM165.7 232.6h1.0v1.0h-1.0zM196.5 258.4h1.0v1.0h-1.0zM190.1 241.4h1.0v1.0h-1.0zM133.6 240.9h1.0v1.0h-1.0zM155.6 241.5h1.0v1.0h-1.0zM151.8 256.7h1.0v1.0h-1.0zM168.3 261.4h1.0v1.0h-1.0zM158.5 234.3h1.0v1.0h-1.0zM137.2 231.9h1.0v1.0h-1.0zM166.4 239.2h1.0v1.0h-1.0zM179.1 257.2h1.0v1.0h-1.0zM219.1 234.5h1.0v1.0h-1.0zM185.0 251.3h1.0v1.0h-1.0zM168.4 262.2h1.0v1.0h-1.0zM165.8 238.3h1.0v1.0h-1.0zM135.6 228.3h1.0v1.0h-1.0zM154.9 227.4h1.0v1.0h-1.0zM166.9 223.5h1.0v1.0h-1.0zM146.2 254.6h1.0v1.0h-1.0zM162.0 242.4h1.0v1.0h-1.0zM119.9 236.4h1.0v1.0h-1.0zM147.7 232.1h1.0v1.0h-1.0zM190.0 245.4h1.0v1.0h-1.0zM167.4 222.3h1.0v1.0h-1.0zM136.8 224.4h1.0v1.0h-1.0zM201.5 259.2h1.0v1.0h-1.0zM222.7 239.4h1.0v1.0h-1.0zM132.4 236.7h1.0v1.0h-1.0zM124.8 219.6h1.0v1.0h-1.0zM137.2 251.7h1.0v1.0h-1.0zM200.5 255.5h1.0v1.0h-1.0zM179.8 247.5h1.0v1.0h-1.0zM163.4 234.9h1.0v1.0h-1.0zM141.9 246.6h1.0v1.0h-1.0zM149.9 249.7h1.0v1.0h-1.0zM160.1 212.5h1.0v1.0h-1.0zM180.5 227.5h1.0v1.0h-1.0zM216.1 242.3h1.0v1.0h-1.0zM230.0 252.5h1.0v1.0h-1.0zM147.3 234.2h1.0v1.0h-1.0zM156.9 240.8h1.0v1.0h-1.0zM214.1 260.1h1.0v1.0h-1.0zM156.3 247.5h1.0v1.0h-1.0zM172.1 271.3h1.0v1.0h-1.0zM142.2 238.7h1.0v1.0h-1.0zM188.8 240.8h1.0v1.0h-1.0zM163.9 258.3h1.0v1.0h-1.0zM190.1 261.9h1.0v1.0h-1.0zM158.0 259.5h1.0v1.0h-1.0zM143.8 252.5h1.0v1.0h-1.0zM85.6 247.0h1.0v1.0h-1.0zM151.6 216.0h1.0v1.0h-1.0zM202.7 260.0h1.0v1.0h-1.0zM144.2 243.4h1.0v1.0h-1.0zM160.7 235.4h1.0v1.0h-1.0zM220.8 243.1h1.0v1.0h-1.0zM141.2 229.8h1.0v1.0h-1.0zM143.1 228.4h1.0v1.0h-1.0zM148.4 244.1h1.0v1.0h-1.0zM203.5 268.4h1.0v1.0h-1.0zM185.0 244.6h1.0v1.0h-1.0zM203.8 253.9h1.0v1.0h-1.0zM172.8 262.0h1.0v1.0h-1.0zM181.0 259.0h1.0v1.0h-1.0zM207.6 250.4h1.0v1.0h-1.0zM195.9 230.6h1.0v1.0h-1.0zM195.6 270.4h1.0v1.0h-1.0zM176.7 233.6h1.0v1.0h-1.0zM180.0 257.9h1.0v1.0h-1.0zM137.5 234.3h1.0v1.0h-1.0zM118.8 248.4h1.0v1.0h-1.0zM174.5 250.0h1.0v1.0h-1.0zM170.2 242.0h1.0v1.0h-1.0zM188.9 232.3h1.0v1.0h-1.0zM188.2 214.9h1.0v1.0h-1.0zM178.3 246.6h1.0v1.0h-1.0zM174.6 230.1h1.0v1.0h-1.0zM154.1 249.7h1.0v1.0h-1.0zM153.5 221.4h1.0v1.0h-1.0zM145.4 223.2h1.0v1.0h-1.0zM179.6 250.3h1.0v1.0h-1.0zM207.1 244.9h1.0v1.0h-1.0zM155.1 236.7h1.0v1.0h-1.0zM204.0 243.6h1.0v1.0h-1.0zM162.0 234.4h1.0v1.0h-1.0zM200.0 233.6h1.0v1.0h-1.0zM147.0 260.8h1.0v1.0h-1.0zM128.9 259.9h1.0v1.0h-1.0zM213.9 253.4h1.0v1.0h-1.0zM182.1 229.0h1.0v1.0h-1.0zM191.5 220.9h1.0v1.0h-1.0zM151.9 237.0h1.0v1.0h-1.0zM173.1 244.1h1.0v1.0h-1.0zM195.6 241.2h1.0v1.0h-1.0zM176.1 224.3h1.0v1.0h-1.0zM146.8 235.5h1.0v1.0h-1.0zM222.0 264.4h1.0v1.0h-1.0zM211.0 231.2h1.0v1.0h-1.0zM167.1 225.8h1.0v1.0h-1.0zM131.0 232.9h1.0v1.0h-1.0zM169.0 264.7h1.0v1.0h-1.0zM168.3 237.3h1.0v1.0h-1.0zM167.1 263.5h1.0v1.0h-1.0zM132.2 265.1h1.0v1.0h-1.0zM172.3 205.9h1.0v1.0h-1.0zM186.9 230.7h1.0v1.0h-1.0zM206.1 249.0h1.0v1.0h-1.0zM129.5 250.6h1.0v1.0h-1.0zM137.5 257.1h1.0v1.0h-1.0zM209.4 232.9h1.0v1.0h-1.0zM184.4 259.6h1.0v1.0h-1.0zM163.5 252.6h1.0v1.0h-1.0zM160.7 222.9h1.0v1.0h-1.0zM162.7 242.6h1.0v1.0h-1.0zM171.1 240.7h1.0v1.0h-1.0zM107.0 236.7h1.0v1.0h-1.0zM108.8 221.5h1.0v1.0h-1.0zM83.1 237.2h1.0v1.0h-1.0zM102.8 236.0h1.0v1.0h-1.0zM105.8 219.3h1.0v1.0h-1.0zM82.3 239.1h1.0v1.0h-1.0zM103.7 231.2h1.0v1.0h-1.0zM109.3 243.9h1.0v1.0h-1.0zM84.2 240.5h1.0v1.0h-1.0zM100.0 224.8h1.0v1.0h-1.0zM99.4 242.0h1.0v1.0h-1.0zM111.7 234.5h1.0v1.0h-1.0zM90.9 244.7h1.0v1.0h-1.0zM103.3 241.6h1.0v1.0h-1.0zM102.2 254.4h1.0v1.0h-1.0zM110.7 245.0h1.0v1.0h-1.0zM110.9 236.9h1.0v1.0h-1.0zM98.8 251.2h1.0v1.0h-1.0zM97.9 248.7h1.0v1.0h-1.0zM95.1 232.3h1.0v1.0h-1.0zM102.4 237.4h1.0v1.0h-1.0zM100.9 248.8h1.0v1.0h-1.0zM114.4 231.4h1.0v1.0h-1.0zM106.2 237.7h1.0v1.0h-1.0zM87.5 231.1h1.0v1.0h-1.0zM85.1 246.9h1.0v1.0h-1.0zM117.2 261.6h1.0v1.0h-1.0zM113.2 233.8h1.0v1.0h-1.0zM86.2 238.0h1.0v1.0h-1.0zM115.2 256.6h1.0v1.0h-1.0zM92.0 229.7h1.0v1.0h-1.0zM93.2 230.9h1.0v1.0h-1.0zM106.0 248.4h1.0v1.0h-1.0zM97.7 241.4h1.0v1.0h-1.0zM108.9 250.4h1.0v1.0h-1.0zM88.0 236.0h1.0v1.0h-1.0zM101.4 223.5h1.0v1.0h-1.0zM101.7 223.3h1.0v1.0h-1.0zM117.5 217.1h1.0v1.0h-1.0zM109.5 227.1h1.0v1.0h-1.0zM102.2 223.6h1.0v1.0h-1.0zM90.5 229.9h1.0v1.0h-1.0zM94.2 230.8h1.0v1.0h-1.0zM127.4 222.1h1.0v1.0h-1.0zM238.9 245.3h1.0v1.0h-1.0zM252.0 245.1h1.0v1.0h-1.0zM243.5 248.8h1.0v1.0h-1.0zM250.0 247.8h1.0v1.0h-1.0zM243.3 245.8h1.0v1.0h-1.0zM239.0 243.6h1.0v1.0h-1.0zM253.1 243.8h1.0v1.0h-1.0zM241.9 246.3h1.0v1.0h-1.0zM218.3 235.3h1.0v1.0h-1.0zM223.1 233.0h1.0v1.0h-1.0zM212.7 224.1h1.0v1.0h-1.0zM172.6 226.3h1.0v1.0h-1.0zM192.6 218.2h1.0v1.0h-1.0zM210.8 222.0h1.0v1.0h-1.0zM234.9 244.8h1.0v1.0h-1.0zM211.4 248.9h1.0v1.0h-1.0zM219.0 234.3h1.0v1.0h-1.0zM197.4 226.6h1.0v1.0h-1.0z"/>
<line x1="42.4" y1="188.0" x2="45" y2="188.0" stroke="#a0a0a0" stroke-width="0.8"/>
<line x1="42.4" y1="215.2" x2="45" y2="215.2" stroke="#a0a0a0" stroke-width="0.8"/>
<line x1="297.6" y1="215.2" x2="299.4" y2="215.2" stroke="#a8a8a8" stroke-width="0.8"/>
<line x1="42.4" y1="242.5" x2="45" y2="242.5" stroke="#a0a0a0" stroke-width="0.8"/>
<line x1="297.6" y1="242.5" x2="299.4" y2="242.5" stroke="#a8a8a8" stroke-width="0.8"/>
<line x1="42.4" y1="269.8" x2="45" y2="269.8" stroke="#a0a0a0" stroke-width="0.8"/>
<line x1="297.6" y1="269.8" x2="299.4" y2="269.8" stroke="#a8a8a8" stroke-width="0.8"/>
<line x1="42.4" y1="297.0" x2="45" y2="297.0" stroke="#a0a0a0" stroke-width="0.8"/>
<line x1="45.2" y1="297" x2="45.2" y2="299" stroke="#a0a0a0" stroke-width="0.8"/>
<line x1="87.5" y1="297" x2="87.5" y2="299" stroke="#a0a0a0" stroke-width="0.8"/>
<line x1="129.8" y1="297" x2="129.8" y2="299" stroke="#a0a0a0" stroke-width="0.8"/>
<line x1="172.1" y1="297" x2="172.1" y2="299" stroke="#a0a0a0" stroke-width="0.8"/>
<line x1="214.4" y1="297" x2="214.4" y2="299" stroke="#a0a0a0" stroke-width="0.8"/>
<line x1="256.7" y1="297" x2="256.7" y2="299" stroke="#a0a0a0" stroke-width="0.8"/>
<line x1="299.0" y1="297" x2="299.0" y2="299" stroke="#a0a0a0" stroke-width="0.8"/>
<text x="40.6" y="190.3" text-anchor="end" font-size="6.6">10</text>
<text x="40.6" y="217.6" text-anchor="end" font-size="6.6">5</text>
<text x="40.6" y="244.8" text-anchor="end" font-size="6.6">0</text>
<text x="40.6" y="272.1" text-anchor="end" font-size="6.6">−5</text>
<text x="40.6" y="299.3" text-anchor="end" font-size="6.6">−10</text>
<text x="45.2" y="307.2" text-anchor="middle" font-size="6.6">−1.5</text>
<text x="87.5" y="307.2" text-anchor="middle" font-size="6.6">−1.0</text>
<text x="129.8" y="307.2" text-anchor="middle" font-size="6.6">−0.5</text>
<text x="172.1" y="307.2" text-anchor="middle" font-size="6.6">0.0</text>
<text x="214.4" y="307.2" text-anchor="middle" font-size="6.6">0.5</text>
<text x="256.7" y="307.2" text-anchor="middle" font-size="6.6">1.0</text>
<text x="299.0" y="307.2" text-anchor="middle" font-size="6.6">1.5</text>
<text x="102.3" y="315.8" font-size="7.3" textLength="139.2" lengthAdjust="spacingAndGlyphs">Δ mag ≡ magnitude offset from fiducial</text>
<text x="0.3" y="175.4" font-size="7.6" textLength="41.6" lengthAdjust="spacingAndGlyphs">KDE(Δ mag)</text>
<text x="312" y="306" font-size="7.2">KDE(<tspan font-style="italic">μ</tspan><tspan font-size="5" dy="1.2">l</tspan><tspan dy="-1.2">)</tspan></text>
<text transform="translate(24.2,256.3) rotate(-90)" font-size="7.3" textLength="30.2" lengthAdjust="spacingAndGlyphs"><tspan font-style="italic">μ</tspan><tspan font-size="5" dy="1.2">l</tspan><tspan dy="-1.2">, mas/yr</tspan></text>
<text x="108.7" y="293.7" font-size="8.2" fill="#111" stroke="#111" stroke-width="0.22" textLength="34.6" lengthAdjust="spacingAndGlyphs">Nearside</text>
<text x="206.5" y="293.7" font-size="8.2" fill="#111" stroke="#111" stroke-width="0.22" textLength="28.6" lengthAdjust="spacingAndGlyphs">Farside</text>
</svg>
</body></html>
